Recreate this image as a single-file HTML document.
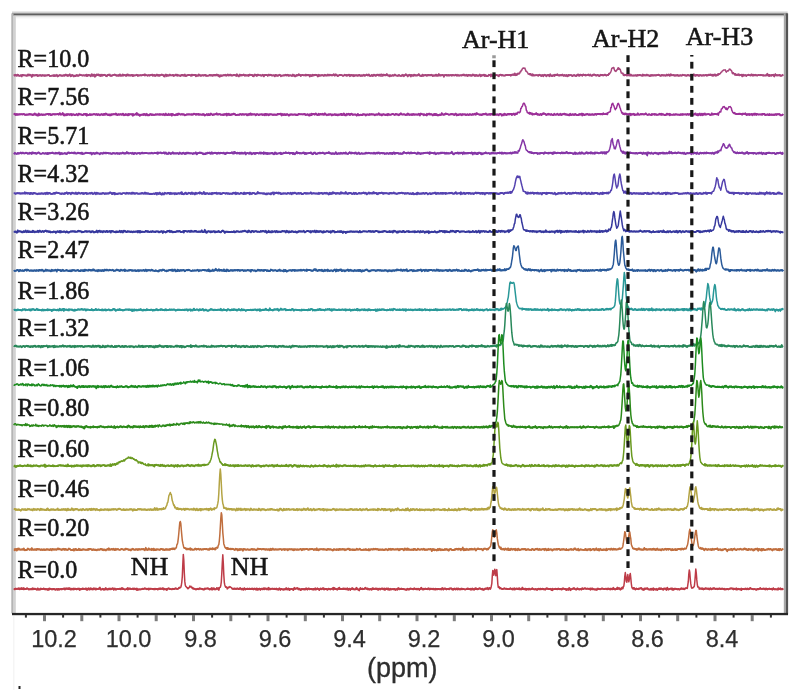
<!DOCTYPE html><html><head><meta charset="utf-8"><style>
html,body{margin:0;padding:0;background:#fff;width:800px;height:696px;overflow:hidden;position:relative}
.s{position:absolute;font-family:"Liberation Serif",serif;color:#161616;white-space:nowrap;line-height:1;-webkit-text-stroke:0.55px #161616}
.a{position:absolute;font-family:"Liberation Sans",sans-serif;color:#2e2e2e;white-space:nowrap;line-height:1;-webkit-text-stroke:0.25px #2e2e2e}
#w{position:absolute;left:0;top:0;width:800px;height:696px;filter:blur(0.45px)}
</style></head><body><div id="w">
<svg width="800" height="696" viewBox="0 0 800 696" style="position:absolute;left:0;top:0">
<rect x="12" y="11.0" width="775.6" height="1.2" fill="#e8e8e8"/>
<rect x="12" y="12.2" width="775.6" height="1.2" fill="#c6c6c6"/>
<rect x="12" y="13.4" width="775.6" height="2.2" fill="#5e5e5e"/>
<rect x="15.6" y="15.6" width="768" height="1.2" fill="#d6d6d6"/>
<rect x="15.6" y="16.8" width="768" height="1.6" fill="#f3f3f3"/>
<rect x="11.3" y="13.4" width="2.3" height="600" fill="#b4b4b4"/>
<rect x="13.6" y="15.6" width="2.2" height="598" fill="#d2d2d2"/>
<rect x="783.8" y="13.4" width="2.0" height="600" fill="#a8a8a8"/>
<rect x="785.8" y="13.4" width="2.3" height="601" fill="#545454"/>
<path d="M13.8 75.5L14.8 75.1L15.8 75.3L16.8 75.8L17.8 74.7L18.8 75.5L19.8 75.7L20.8 75.2L21.8 75.2L22.8 74.8L23.8 75.4L24.8 75.3L25.8 75.6L26.8 75.4L27.8 75.6L28.8 75.2L29.8 75.3L30.8 75.4L31.8 75.3L32.8 74.7L33.8 75.6L34.8 75.5L35.8 74.9L36.8 74.9L37.8 75.1L38.8 75.3L39.8 75L40.8 75.2L41.8 75.6L42.8 75L43.8 75.5L44.8 75.1L45.8 75.5L46.8 75.4L47.8 75L48.8 75.1L49.8 76L50.8 75.8L51.8 75.6L52.8 75.6L53.8 75.2L54.8 76.2L55.8 75.7L56.8 74.8L57.8 76.1L58.8 75.6L59.8 74.9L60.8 75.5L61.8 75.6L62.8 75.9L63.8 75.6L64.8 75.2L65.8 74.9L66.8 75.5L67.8 74.9L68.8 75.6L69.8 74.3L70.8 76.3L71.8 74.9L72.8 75.4L73.8 75.6L74.8 76L75.8 76.1L76.8 75.1L77.8 75.9L78.8 75.4L79.8 75L80.8 75.1L81.8 75.2L82.8 75.3L83.8 75.4L84.8 75.7L85.8 75.2L86.8 76L87.8 75.2L88.8 74.8L89.8 75.4L90.8 75.4L91.8 74.2L92.8 75.4L93.8 75.4L94.8 76.8L95.8 75.6L96.8 74.4L97.8 74.6L98.8 74.4L99.8 75.8L100.8 74.8L101.8 75.7L102.8 74.9L103.8 75L104.8 75L105.8 75.6L106.8 75.3L107.8 74.9L108.8 74.7L109.8 75.6L110.8 75.7L111.8 75.4L112.8 75.3L113.8 74.8L114.8 74.6L115.8 75.4L116.8 75.9L117.8 75.6L118.8 74.9L119.8 75.6L120.8 75.9L121.8 75.7L122.8 74.4L123.8 75L124.8 75.1L125.8 75.7L126.8 74.6L127.8 74.3L128.8 75.6L129.8 75.4L130.8 75.7L131.8 74.9L132.8 76.1L133.8 75.2L134.8 75.3L135.8 75.2L136.8 74.7L137.8 76L138.8 75.3L139.8 75.3L140.8 75L141.8 75.4L142.8 75L143.8 74.8L144.8 74.3L145.8 75L146.8 75.3L147.8 75.3L148.8 75L149.8 75.7L150.8 74.8L151.8 74.8L152.8 75.8L153.8 75.2L154.8 75L155.8 75.7L156.8 74.6L157.8 75.7L158.8 74.8L159.8 75.1L160.8 75.1L161.8 74.5L162.8 74.8L163.8 76.2L164.8 75.2L165.8 75.1L166.8 76.2L167.8 75L168.8 75.5L169.8 75.1L170.8 75.3L171.8 75.2L172.8 75L173.8 76L174.8 75.5L175.8 75.2L176.8 74.7L177.8 75.1L178.8 75.2L179.8 75.8L180.8 76L181.8 74.9L182.8 74.8L183.8 75.7L184.8 74.5L185.8 76.1L186.8 75.2L187.8 75.2L188.8 75.2L189.8 75.2L190.8 75.2L191.8 75.8L192.8 75.1L193.8 75.1L194.8 75.2L195.8 75L196.8 75.8L197.8 75.6L198.8 74.4L199.8 75.4L200.8 75.9L201.8 75.2L202.8 75.2L203.8 75.6L204.8 74.9L205.8 75.8L206.8 75.7L207.8 75.7L208.8 75.6L209.8 75.2L210.8 75.6L211.8 75.3L212.8 75.9L213.8 74.9L214.8 74.8L215.8 75L216.8 74.5L217.8 75.1L218.8 76.2L219.8 76.8L220.8 75.1L221.8 76L222.8 75.5L223.8 74.9L224.8 75.1L225.8 75.7L226.8 75.3L227.8 74.4L228.8 75.3L229.8 75.3L230.8 75.3L231.8 75.5L232.8 75.4L233.8 75.1L234.8 75.2L235.8 75.6L236.8 74.2L237.8 75.2L238.8 75.7L239.8 75.5L240.8 75.7L241.8 75.3L242.8 75.3L243.8 74.5L244.8 75.7L245.8 74.9L246.8 75.5L247.8 75.3L248.8 74.8L249.8 74.5L250.8 75L251.8 75L252.8 75.2L253.8 76.3L254.8 74.5L255.8 74.9L256.8 74.8L257.8 74.6L258.8 74.9L259.8 75.1L260.8 75.7L261.8 75.3L262.8 74.8L263.8 76.4L264.8 75L265.8 74.8L266.8 75.2L267.8 75.3L268.8 74.6L269.8 75.3L270.8 74.8L271.8 75.7L272.8 75.4L273.8 75.4L274.8 76.3L275.8 75.1L276.8 75.2L277.8 75.3L278.8 75.1L279.8 74.9L280.8 75.6L281.8 75.7L282.8 75.7L283.8 75.2L284.8 75.1L285.8 75.2L286.8 75.6L287.8 74.8L288.8 76L289.8 75.4L290.8 75.4L291.8 75.9L292.8 75.9L293.8 75.2L294.8 75.2L295.8 75.7L296.8 75.5L297.8 75.2L298.8 75.1L299.8 74.8L300.8 75.2L301.8 75.2L302.8 75L303.8 75.4L304.8 75.3L305.8 75.5L306.8 75.4L307.8 75.1L308.8 74.8L309.8 75.3L310.8 75L311.8 75.9L312.8 74.7L313.8 75.6L314.8 74.8L315.8 75L316.8 75L317.8 76.5L318.8 74.8L319.8 75.3L320.8 75.8L321.8 75.2L322.8 75.3L323.8 75.6L324.8 75.1L325.8 75.7L326.8 75.7L327.8 74.5L328.8 75.4L329.8 74.7L330.8 75L331.8 75.5L332.8 74.9L333.8 74.2L334.8 75.8L335.8 74.3L336.8 75.5L337.8 75.8L338.8 75.4L339.8 75.1L340.8 75L341.8 75.1L342.8 75.9L343.8 75.5L344.8 74.6L345.8 75.5L346.8 75.9L347.8 75.5L348.8 74.7L349.8 74.8L350.8 75.1L351.8 74.9L352.8 75.7L353.8 74.9L354.8 75.7L355.8 75.6L356.8 75.6L357.8 75.8L358.8 74.8L359.8 74.8L360.8 76L361.8 75.1L362.8 75.4L363.8 75.1L364.8 75.2L365.8 75.1L366.8 75.1L367.8 75.4L368.8 74.4L369.8 75.6L370.8 75.9L371.8 75L372.8 76L373.8 75.2L374.8 75.5L375.8 75.2L376.8 75.3L377.8 74.6L378.8 75.1L379.8 74.7L380.8 74.7L381.8 74.5L382.8 75.1L383.8 75.2L384.8 74.9L385.8 75.4L386.8 73.9L387.8 75.5L388.8 75.7L389.8 76.4L390.8 75.4L391.8 75.7L392.8 75L393.8 75.5L394.8 74.8L395.8 75.3L396.8 75.6L397.8 76L398.8 75.1L399.8 75.6L400.8 76L401.8 75.8L402.8 74.8L403.8 76.2L404.8 75.1L405.8 75L406.8 75.3L407.8 75.6L408.8 74.9L409.8 75.2L410.8 76.6L411.8 75L412.8 75.3L413.8 75.9L414.8 74.7L415.8 75.5L416.8 75.6L417.8 74.9L418.8 74.2L419.8 75.8L420.8 75.9L421.8 75.3L422.8 74.6L423.8 75.5L424.8 75.1L425.8 75.4L426.8 75.1L427.8 75L428.8 74.9L429.8 75.2L430.8 75L431.8 75.2L432.8 76L433.8 75.6L434.8 75.5L435.8 75.4L436.8 75.8L437.8 75.6L438.8 75.6L439.8 74.7L440.8 75.3L441.8 75L442.8 75.1L443.8 75.4L444.8 75L445.8 75.1L446.8 75.7L447.8 75.7L448.8 75.7L449.8 75.6L450.8 74.9L451.8 75.1L452.8 74.9L453.8 75.1L454.8 75.4L455.8 74.7L456.8 75.7L457.8 74.8L458.8 75.5L459.8 75.5L460.8 75.4L461.8 75.1L462.8 75.2L463.8 74.5L464.8 75.5L465.8 75.3L466.8 75.7L467.8 75.2L468.8 74.8L469.8 75.3L470.8 75.8L471.8 75.6L472.8 75.2L473.8 74.7L474.8 75.9L475.8 75L476.8 75.7L477.8 75.8L478.8 75.2L479.8 74.5L480.8 76.3L481.8 75.1L482.8 75.4L483.8 75L484.8 76.2L485.8 75.7L486.8 76.1L487.8 76L488.8 75.1L489.8 75.1L490.8 74.5L491.8 74.7L492.8 75.8L493.8 76.2L494.8 75.8L495.8 75L496.8 75.2L497.8 75.3L498.8 75.2L499.8 74.9L500.8 74.6L501.8 75.6L502.8 75.2L503.8 75.7L504.8 75.6L505.8 75.1L506.8 75.2L507.8 75L508.8 75.1L509.8 74.9L510.8 75L511.8 75.2L512.8 74.6L513.8 74.3L514.8 75.1L515.8 74.1L516.8 75L517.3 74.2L517.8 74.4L518.3 74.7M529.3 75.2L529.8 74L530.3 73.9L531.3 74.9L532.3 74.1L533.3 75.6L534.3 75.4L535.3 75.1L536.3 75.1L537.3 75.1L538.3 75.8L539.3 74.8L540.3 75.1L541.3 76.1L542.3 75L543.3 76.3L544.3 74.9L545.3 75L546.3 75.5L547.3 75.5L548.3 75L549.3 76.3L550.3 75.4L551.3 75.6L552.3 75.5L553.3 75.2L554.3 76L555.3 75.2L556.3 74.9L557.3 75.1L558.3 75.3L559.3 75.2L560.3 75.4L561.3 74.9L562.3 74.8L563.3 75.7L564.3 75.3L565.3 75.9L566.3 75.2L567.3 76.3L568.3 74.8L569.3 75.1L570.3 75L571.3 75.3L572.3 75.6L573.3 75.3L574.3 75.2L575.3 75.6L576.3 75.4L577.3 74.6L578.3 74.5L579.3 75L580.3 74.7L581.3 74.9L582.3 75.4L583.3 74.4L584.3 75L585.3 75.5L586.3 75.3L587.3 75L588.3 74.5L589.3 75.4L590.3 75.3L591.3 75.3L592.3 75.1L593.3 74.7L594.3 74.4L595.3 75.3L596.3 75.7L597.3 74.8L598.3 75.1L599.3 76L600.3 74.7L601.3 75.2L602.3 75.3L603.3 75.4L604.3 74.6L605.3 74.9L606.3 75.6L607.3 74.9L607.8 75L608.3 74.9L608.8 74.7M622.8 74.5L623.3 74.8L623.8 74.6L624.8 74.9L625.8 74.8L626.8 75.6L627.8 74.6L628.8 74.8L629.8 75.7L630.8 75.7L631.8 75.6L632.8 75.7L633.8 75.5L634.8 75.7L635.8 75.7L636.8 75.2L637.8 75L638.8 75.4L639.8 74.9L640.8 75.3L641.8 75.6L642.8 75.9L643.8 74.9L644.8 75.5L645.8 75.1L646.8 74.6L647.8 75.2L648.8 75.7L649.8 75.7L650.8 75.9L651.8 75.3L652.8 75.5L653.8 75.3L654.8 75.2L655.8 75.7L656.8 75.2L657.8 74.9L658.8 74.6L659.8 75.5L660.8 76L661.8 75.5L662.8 75L663.8 75.7L664.8 75.4L665.8 75.4L666.8 75L667.8 75.2L668.8 74.4L669.8 75.9L670.8 74.3L671.8 75L672.8 75.1L673.8 75.5L674.8 75.4L675.8 75.7L676.8 75.5L677.8 75.6L678.8 75.8L679.8 75.5L680.8 75.7L681.8 75.7L682.8 74.7L683.8 75.2L684.8 75.5L685.8 75.4L686.8 75.4L687.8 75L688.8 75.6L689.8 75.3L690.8 74.9L691.8 75.9L692.8 75.7L693.8 74.5L694.8 75.7L695.8 75L696.8 74.8L697.8 75.5L698.8 76.1L699.8 75L700.8 75.2L701.8 75.6L702.8 75.6L703.8 75.2L704.8 75.5L705.8 74.9L706.8 75.2L707.8 75.4L708.8 75.2L709.8 75L710.8 74.8L711.8 75.1L712.8 75.9L713.8 75.7L714.8 74.4L715.8 74.8L716.8 75.4L717.8 74.8L718.3 74.9L718.8 73.9L719.3 74.5M734.3 74.1L734.8 74.8L735.3 74.9L736.3 74.7L737.3 75L738.3 74.1L739.3 75.3L740.3 74.9L741.3 74.8L742.3 76.4L743.3 75.8L744.3 75.3L745.3 75L746.3 75.4L747.3 75.2L748.3 74.7L749.3 75L750.3 75.5L751.3 75.1L752.3 74.7L753.3 75.7L754.3 75.1L755.3 75.3L756.3 75.4L757.3 75.6L758.3 75L759.3 75.2L760.3 75L761.3 75L762.3 75.3L763.3 75L764.3 75.4L765.3 75.6L766.3 75.5L767.3 73.8L768.3 75.5L769.3 74.8L770.3 75.4L771.3 75.8L772.3 74.9L773.3 75.1L774.3 76.2L775.3 74.5L776.3 75.2L777.3 75.5L778.3 75.4L779.3 74.8L780.3 75.1L781.3 75.6L782.3 75.4L783.3 74.5" fill="none" stroke="#a8467c" stroke-width="1.8" stroke-linejoin="round"/>
<path d="M13.8 74.6L14.8 75.8L15.8 74.6L16.8 75.6L17.8 74.6L18.8 75.7L19.8 76.1L20.8 75.2L21.8 76.7L22.8 74.9L23.8 75.4L24.8 75.1L25.8 75.4L26.8 75.9L27.8 74.3L28.8 74.5L29.8 74.5L30.8 74.9L31.8 77.1L32.8 75.8L33.8 75.1L34.8 75.2L35.8 75.4L36.8 75.6L37.8 76.3L38.8 75.7L39.8 75.8L40.8 75.8L41.8 76L42.8 75.4L43.8 75.7L44.8 76.2L45.8 75.6L46.8 75.5L47.8 75.4L48.8 74.7L49.8 75.6L50.8 75.8L51.8 75.7L52.8 75.4L53.8 76.3L54.8 74.9L55.8 75.4L56.8 75.8L57.8 76.6L58.8 75.4L59.8 75.4L60.8 75.2L61.8 75.9L62.8 75.3L63.8 74.9L64.8 75.9L65.8 74.3L66.8 75.4L67.8 76.2L68.8 75.3L69.8 75.2L70.8 75.7L71.8 75.9L72.8 75.1L73.8 76.7L74.8 75.4L75.8 75.3L76.8 74.9L77.8 75.7L78.8 75.7L79.8 74.3L80.8 75L81.8 75.6L82.8 75.7L83.8 75.1L84.8 75.5L85.8 75L86.8 74.5L87.8 76.1L88.8 75L89.8 75.4L90.8 76.5L91.8 74.9L92.8 76.1L93.8 74.4L94.8 74.4L95.8 75.9L96.8 75.2L97.8 75.2L98.8 75.6L99.8 74.8L100.8 76.2L101.8 74.5L102.8 75.8L103.8 74.9L104.8 74.6L105.8 76L106.8 76.4L107.8 75.2L108.8 75.2L109.8 74.3L110.8 76.1L111.8 76L112.8 74.9L113.8 75.1L114.8 74.4L115.8 75.3L116.8 75L117.8 75.4L118.8 76L119.8 74.2L120.8 74.9L121.8 75.5L122.8 75.7L123.8 75.7L124.8 74.9L125.8 75.7L126.8 75.9L127.8 75L128.8 75.2L129.8 74.9L130.8 75.4L131.8 74.8L132.8 74.9L133.8 75.9L134.8 75.4L135.8 75.4L136.8 75.1L137.8 74.9L138.8 75.6L139.8 75.2L140.8 75.5L141.8 75.4L142.8 74.9L143.8 74.8L144.8 75.8L145.8 75.2L146.8 75L147.8 75.9L148.8 75.2L149.8 75.2L150.8 75.1L151.8 74.6L152.8 74.5L153.8 75.5L154.8 76.1L155.8 75.7L156.8 74.4L157.8 74.8L158.8 76L159.8 75.9L160.8 75.1L161.8 75.1L162.8 74.7L163.8 75.6L164.8 76.8L165.8 74.4L166.8 74.8L167.8 75.6L168.8 75.8L169.8 74.4L170.8 75.2L171.8 75.4L172.8 75.4L173.8 74.8L174.8 75.5L175.8 74.4L176.8 75.8L177.8 75.9L178.8 75.5L179.8 75.4L180.8 75.1L181.8 74.9L182.8 75.7L183.8 75.1L184.8 76L185.8 75.6L186.8 76L187.8 75L188.8 74.7L189.8 75.2L190.8 75.9L191.8 74.5L192.8 74.7L193.8 75.2L194.8 74.7L195.8 76.5L196.8 75.2L197.8 75.7L198.8 75.8L199.8 74.8L200.8 75.6L201.8 75.6L202.8 75.3L203.8 75.4L204.8 75.1L205.8 74.8L206.8 76L207.8 75.8L208.8 75.3L209.8 74.7L210.8 74.9L211.8 75L212.8 75.5L213.8 74.9L214.8 75.7L215.8 75.5L216.8 75.2L217.8 75.7L218.8 74.8L219.8 75.7L220.8 75.5L221.8 75.4L222.8 75.3L223.8 75.6L224.8 75.4L225.8 74.6L226.8 75.7L227.8 74.8L228.8 75.6L229.8 74.4L230.8 74.5L231.8 75.4L232.8 75.4L233.8 74.7L234.8 75L235.8 75.4L236.8 76.2L237.8 75.5L238.8 76.6L239.8 74.4L240.8 75L241.8 74.7L242.8 75.2L243.8 75L244.8 75.6L245.8 75.3L246.8 75.4L247.8 75.2L248.8 76.1L249.8 75L250.8 74.9L251.8 74.8L252.8 76.3L253.8 75.2L254.8 75.3L255.8 75.5L256.8 76.2L257.8 75L258.8 75.4L259.8 75.3L260.8 75L261.8 75.8L262.8 74.8L263.8 75.4L264.8 75L265.8 74.9L266.8 74.8L267.8 76.1L268.8 75L269.8 75.4L270.8 74.6L271.8 75.3L272.8 75.6L273.8 75.1L274.8 75.3L275.8 74.7L276.8 76L277.8 76.1L278.8 75.4L279.8 74.5L280.8 76.5L281.8 75.6L282.8 75.6L283.8 75.2L284.8 75.8L285.8 74.6L286.8 75L287.8 74.9L288.8 75.1L289.8 75.3L290.8 75.3L291.8 75.8L292.8 74.4L293.8 75.3L294.8 76.6L295.8 76.4L296.8 74.7L297.8 75.7L298.8 74L299.8 75.2L300.8 76.3L301.8 75.1L302.8 74.9L303.8 75.4L304.8 75L305.8 74.5L306.8 74.9L307.8 74.8L308.8 75.4L309.8 76.7L310.8 75.3L311.8 76.2L312.8 75.5L313.8 75L314.8 75L315.8 74.6L316.8 75.3L317.8 75.3L318.8 76.3L319.8 75.5L320.8 75.2L321.8 75.1L322.8 75.1L323.8 76L324.8 74.6L325.8 74.9L326.8 75.4L327.8 75.3L328.8 75.5L329.8 75.6L330.8 75.3L331.8 74.9L332.8 75.5L333.8 74.4L334.8 75L335.8 75.3L336.8 74.8L337.8 76.2L338.8 75.5L339.8 74.7L340.8 75.1L341.8 75.3L342.8 75.5L343.8 75.7L344.8 75.2L345.8 75.2L346.8 74.7L347.8 75.1L348.8 75.1L349.8 76.4L350.8 75.8L351.8 75.5L352.8 75.1L353.8 76.4L354.8 75.3L355.8 75L356.8 74.9L357.8 75.5L358.8 75.5L359.8 75.7L360.8 75.7L361.8 75.6L362.8 76L363.8 74.6L364.8 76.1L365.8 75.4L366.8 74.4L367.8 75.5L368.8 75.2L369.8 76L370.8 75.9L371.8 75.1L372.8 75.5L373.8 74.4L374.8 74.9L375.8 76.1L376.8 74.6L377.8 75.1L378.8 75.8L379.8 75.7L380.8 75.9L381.8 75.9L382.8 76.1L383.8 74.4L384.8 75.5L385.8 75L386.8 75.2L387.8 75.1L388.8 75.5L389.8 74.9L390.8 75.7L391.8 75.9L392.8 75.4L393.8 75.9L394.8 74.3L395.8 75.6L396.8 75.5L397.8 75.4L398.8 75L399.8 75.5L400.8 75.7L401.8 75L402.8 75.6L403.8 75.2L404.8 75.7L405.8 74L406.8 74.9L407.8 76.6L408.8 75.5L409.8 74.6L410.8 75L411.8 75.1L412.8 75.9L413.8 74.6L414.8 75.1L415.8 75.5L416.8 75.1L417.8 75.7L418.8 74.2L419.8 75.2L420.8 75.8L421.8 76.3L422.8 75.9L423.8 75.7L424.8 75.2L425.8 74.7L426.8 76L427.8 75.6L428.8 75.4L429.8 75.5L430.8 75.5L431.8 74.6L432.8 75.9L433.8 75.1L434.8 75.7L435.8 74.4L436.8 74.8L437.8 75.7L438.8 73.9L439.8 75.7L440.8 75.8L441.8 75.2L442.8 74.7L443.8 77L444.8 75.4L445.8 75L446.8 74.8L447.8 75.1L448.8 74.7L449.8 75.3L450.8 75.2L451.8 76L452.8 75.2L453.8 75.4L454.8 75.4L455.8 74.9L456.8 75.5L457.8 75.7L458.8 75.6L459.8 75.4L460.8 75.1L461.8 75.8L462.8 74.5L463.8 75.4L464.8 74.9L465.8 75.2L466.8 74.6L467.8 76.3L468.8 74.9L469.8 75.8L470.8 74.9L471.8 75.7L472.8 74.3L473.8 75.6L474.8 75.8L475.8 75.9L476.8 74.9L477.8 75.8L478.8 75.9L479.8 75.1L480.8 75.7L481.8 75L482.8 75.6L483.8 74.5L484.8 74.7L485.8 74.9L486.8 76.3L487.8 76.1L488.8 74.6L489.8 74.9L490.8 76.7L491.8 75.6L492.8 76L493.8 75L494.8 75.3L495.8 75.4L496.8 75L497.8 75.6L498.8 76.5L499.8 75L500.8 74.8L501.8 74.7L502.8 75.3L503.8 75.4L504.8 75.6L505.8 74.9L506.8 74.8L507.8 74.7L508.8 75.1L509.8 75L510.8 75.9L511.8 74.5L512.8 74.5L513.8 75.1L514.8 73.2L515.8 75.4L516.8 74.2L517.3 73.5L517.8 73.8L518.3 73.2L518.8 73.9L519.3 73.8L519.8 73L520.3 71.4L520.8 71.8L521.3 70.3L521.8 70.2L522.3 68.8L522.8 68.4L523.3 67.9L523.8 68.2L524.3 68.4L524.8 68L525.3 69.3L525.8 71L526.3 71.3L526.8 71.5L527.3 72.5L527.8 73L528.3 74.1L528.8 74L529.3 74.5L529.8 73.7L530.3 73.7L531.3 75.3L532.3 75.8L533.3 74.5L534.3 75.6L535.3 75.6L536.3 75.1L537.3 75.6L538.3 75.3L539.3 74.6L540.3 75.5L541.3 75.1L542.3 75.4L543.3 75.8L544.3 74.6L545.3 75.3L546.3 76.4L547.3 75L548.3 74.8L549.3 75.3L550.3 74L551.3 76L552.3 76.3L553.3 75.3L554.3 74.8L555.3 74.6L556.3 75L557.3 74L558.3 75.3L559.3 75.7L560.3 74.9L561.3 75.6L562.3 74.4L563.3 75.9L564.3 74.8L565.3 75.7L566.3 74.9L567.3 76L568.3 76.1L569.3 75.5L570.3 75.2L571.3 75L572.3 76.3L573.3 75.5L574.3 74.9L575.3 76L576.3 76.3L577.3 75.3L578.3 75.5L579.3 76.1L580.3 75.3L581.3 75L582.3 75.9L583.3 74.6L584.3 75.2L585.3 74.6L586.3 75.2L587.3 74.9L588.3 75L589.3 75.6L590.3 74.3L591.3 75.9L592.3 75.9L593.3 75.2L594.3 74.7L595.3 74.7L596.3 75.5L597.3 75.3L598.3 75.4L599.3 76.2L600.3 75.7L601.3 74.8L602.3 74.7L603.3 75.5L604.3 75.2L605.3 74.5L606.3 75.6L607.3 75.3L607.8 75L608.3 75.2L608.8 73.4L609.3 74.1L609.8 73.1L610.3 72.9L610.8 71.7L611.3 70.4L611.8 68.2L612.3 68.2L612.8 67.8L613.3 67.6L613.8 67.5L614.3 69.7L614.8 70.7L615.3 71.1L615.8 71.4L616.3 70.8L616.8 70L617.3 69.7L617.8 68.2L618.3 67.8L618.8 69.3L619.3 68.5L619.8 69.2L620.3 69.5L620.8 71.6L621.3 73L621.8 72.9L622.3 73.7L622.8 73L623.3 74.2L623.8 75.4L624.8 75.4L625.8 74.8L626.8 74.5L627.8 75.5L628.8 75.6L629.8 74.3L630.8 74.4L631.8 75.3L632.8 75.5L633.8 75.4L634.8 75.3L635.8 75L636.8 76.1L637.8 75.5L638.8 75.1L639.8 75.1L640.8 75.2L641.8 75.4L642.8 74.3L643.8 75.2L644.8 75.1L645.8 75.7L646.8 75.3L647.8 75.4L648.8 75L649.8 76.3L650.8 74.8L651.8 75.1L652.8 75L653.8 75.6L654.8 75.2L655.8 75.1L656.8 75L657.8 75.2L658.8 75.1L659.8 75.5L660.8 75.1L661.8 74.8L662.8 75.5L663.8 75.1L664.8 75.3L665.8 76L666.8 74.4L667.8 75.7L668.8 74.7L669.8 75.5L670.8 74.6L671.8 75.6L672.8 75.1L673.8 74.8L674.8 75.8L675.8 75L676.8 75.2L677.8 74.8L678.8 75.7L679.8 75.3L680.8 75L681.8 75.7L682.8 75.1L683.8 75.2L684.8 74.9L685.8 75.8L686.8 75.9L687.8 74.7L688.8 75.1L689.8 75.8L690.8 75.8L691.8 75.2L692.8 75.5L693.8 74.2L694.8 74.8L695.8 76.1L696.8 74.7L697.8 74.8L698.8 75.1L699.8 75.6L700.8 75.4L701.8 75.7L702.8 75L703.8 75.5L704.8 75.4L705.8 75L706.8 75.9L707.8 74.9L708.8 74.4L709.8 74.4L710.8 74.2L711.8 75.6L712.8 74.5L713.8 74.7L714.8 74.7L715.8 76L716.8 75.3L717.8 74L718.3 74.3L718.8 74.4L719.3 74.2L719.8 73.7L720.3 73.7L720.8 72.6L721.3 72.2L721.8 71.8L722.3 70.9L722.8 70.8L723.3 70.2L723.8 70L724.3 70L724.8 70.1L725.3 69.8L725.8 71.4L726.3 72.1L726.8 71.4L727.3 71L727.8 70.8L728.3 71L728.8 70.1L729.3 69.1L729.8 69.4L730.3 69.3L730.8 70.2L731.3 70.5L731.8 71.2L732.3 73.2L732.8 73.6L733.3 72.7L733.8 73.4L734.3 74L734.8 73.7L735.3 73.8L736.3 75.2L737.3 74.6L738.3 75.1L739.3 74.4L740.3 75L741.3 74.6L742.3 74.7L743.3 74.5L744.3 75.4L745.3 75.3L746.3 76.1L747.3 75.2L748.3 75.3L749.3 75.1L750.3 75.6L751.3 74.2L752.3 75.8L753.3 74.6L754.3 75.2L755.3 74.6L756.3 75L757.3 75.5L758.3 75.1L759.3 75.3L760.3 75.4L761.3 75.1L762.3 75L763.3 75.9L764.3 75.6L765.3 75.3L766.3 75L767.3 75.4L768.3 75.5L769.3 76.3L770.3 75.3L771.3 74.8L772.3 75.5L773.3 74.6L774.3 76.6L775.3 74L776.3 75.6L777.3 74.9L778.3 75.3L779.3 75.4L780.3 76L781.3 75.9L782.3 75.3L783.3 75.3" fill="none" stroke="#a8467c" stroke-width="1.5" stroke-linejoin="round"/>
<path d="M13.8 114.7L14.8 113.9L15.8 114.9L16.8 114.7L17.8 114.9L18.8 114.4L19.8 114.6L20.8 114.2L21.8 114.2L22.8 114.1L23.8 114.1L24.8 114.3L25.8 114.8L26.8 114.8L27.8 114.5L28.8 114.5L29.8 114.4L30.8 114.7L31.8 114.2L32.8 115L33.8 114.2L34.8 113.4L35.8 114.8L36.8 114.2L37.8 115.5L38.8 113.5L39.8 114.6L40.8 114.4L41.8 114.4L42.8 114.9L43.8 114.7L44.8 114.7L45.8 114.2L46.8 114.3L47.8 113.8L48.8 114.9L49.8 113.9L50.8 115.1L51.8 114.3L52.8 114.3L53.8 114.3L54.8 114L55.8 114.4L56.8 114.2L57.8 114L58.8 114.7L59.8 113.1L60.8 114.5L61.8 114.4L62.8 113.8L63.8 115.4L64.8 114.2L65.8 114.8L66.8 115.3L67.8 114.7L68.8 114.7L69.8 115L70.8 114.5L71.8 114L72.8 114.7L73.8 114.4L74.8 115L75.8 114.6L76.8 114.5L77.8 115L78.8 113.6L79.8 114.6L80.8 114.4L81.8 114.9L82.8 115.1L83.8 114.7L84.8 113.8L85.8 113.8L86.8 115.7L87.8 114.7L88.8 115L89.8 114.7L90.8 114.4L91.8 114.3L92.8 114.3L93.8 114L94.8 114.6L95.8 114.3L96.8 114.7L97.8 115.1L98.8 114.3L99.8 115.2L100.8 114.5L101.8 114.3L102.8 114.9L103.8 113.8L104.8 114.1L105.8 113.5L106.8 114.1L107.8 114.6L108.8 114.3L109.8 114.3L110.8 114.3L111.8 114.9L112.8 114.5L113.8 114.3L114.8 114.2L115.8 113.5L116.8 114.3L117.8 114.3L118.8 114.3L119.8 114.8L120.8 114.1L121.8 114.9L122.8 114L123.8 115.3L124.8 114.9L125.8 114L126.8 114.3L127.8 115.4L128.8 115.1L129.8 114.1L130.8 114.1L131.8 114.2L132.8 115.7L133.8 114.9L134.8 114.8L135.8 114L136.8 114.9L137.8 114L138.8 114.8L139.8 114.6L140.8 114.8L141.8 114.5L142.8 114.8L143.8 114L144.8 114.5L145.8 114.4L146.8 114.9L147.8 115.4L148.8 115.4L149.8 114.9L150.8 114L151.8 115.1L152.8 114.3L153.8 114.9L154.8 114.6L155.8 114.1L156.8 114.6L157.8 114.4L158.8 114.6L159.8 114L160.8 114.6L161.8 114.6L162.8 115L163.8 114L164.8 115.2L165.8 114.4L166.8 115L167.8 114.4L168.8 114.8L169.8 114.7L170.8 114.1L171.8 114L172.8 114.9L173.8 114.8L174.8 115.3L175.8 114.3L176.8 114L177.8 115L178.8 113.5L179.8 114.2L180.8 114.5L181.8 114.2L182.8 114.1L183.8 114.1L184.8 115.3L185.8 115L186.8 114.1L187.8 114.5L188.8 114.2L189.8 114.2L190.8 114.5L191.8 114.9L192.8 114.6L193.8 113.6L194.8 114.1L195.8 114.2L196.8 114L197.8 114.3L198.8 113.8L199.8 114.7L200.8 114.5L201.8 114.6L202.8 114.8L203.8 114.4L204.8 115.6L205.8 114.7L206.8 114.2L207.8 114.6L208.8 115.2L209.8 115.1L210.8 113.5L211.8 114.4L212.8 115.2L213.8 114.5L214.8 114.5L215.8 114L216.8 114.6L217.8 114.6L218.8 114.5L219.8 114.1L220.8 114.8L221.8 114.5L222.8 115.1L223.8 114.2L224.8 114.7L225.8 114.1L226.8 113.6L227.8 114.6L228.8 113.7L229.8 115.1L230.8 114.4L231.8 114.1L232.8 114L233.8 113.8L234.8 113.9L235.8 115.1L236.8 114.8L237.8 114.6L238.8 114.7L239.8 114.1L240.8 114.1L241.8 114.7L242.8 114.1L243.8 114.9L244.8 114.4L245.8 114.4L246.8 114.2L247.8 115.3L248.8 114L249.8 113.9L250.8 113.4L251.8 114.9L252.8 114.2L253.8 114.5L254.8 114.2L255.8 115.2L256.8 114L257.8 114.4L258.8 115.2L259.8 114.6L260.8 114.6L261.8 114.7L262.8 114.3L263.8 114.6L264.8 115.3L265.8 114.3L266.8 115.2L267.8 114.3L268.8 114.4L269.8 114.5L270.8 114.2L271.8 114.4L272.8 114.8L273.8 114.4L274.8 114.4L275.8 114.7L276.8 115L277.8 114.1L278.8 114.4L279.8 114L280.8 114.6L281.8 115.5L282.8 114L283.8 114.5L284.8 114L285.8 115L286.8 114.1L287.8 114.6L288.8 115.3L289.8 114.4L290.8 114.7L291.8 114.3L292.8 114.9L293.8 114.6L294.8 114.4L295.8 115.1L296.8 115.2L297.8 115L298.8 114.3L299.8 114.2L300.8 114.1L301.8 114.2L302.8 114.4L303.8 114.3L304.8 113.9L305.8 115.1L306.8 114.7L307.8 114.1L308.8 115.6L309.8 115.5L310.8 115.1L311.8 115L312.8 113.9L313.8 114L314.8 114.7L315.8 113.4L316.8 114.7L317.8 115.2L318.8 114.6L319.8 114.8L320.8 113.9L321.8 114.5L322.8 114.7L323.8 114.8L324.8 114.7L325.8 114.3L326.8 115.2L327.8 114.5L328.8 114.1L329.8 114.3L330.8 114.6L331.8 114.6L332.8 114.5L333.8 114.6L334.8 114.5L335.8 114.5L336.8 114.5L337.8 114.6L338.8 114.4L339.8 114.4L340.8 114.6L341.8 115.2L342.8 114.5L343.8 113.4L344.8 114.2L345.8 115.6L346.8 114.3L347.8 114.7L348.8 114.1L349.8 114.2L350.8 113.9L351.8 113.7L352.8 115L353.8 114.4L354.8 114.7L355.8 114.7L356.8 115.5L357.8 113.9L358.8 114.9L359.8 114.8L360.8 114.9L361.8 115L362.8 115L363.8 114.3L364.8 114.3L365.8 114.8L366.8 114.4L367.8 114.4L368.8 114.9L369.8 113.9L370.8 114.5L371.8 114.7L372.8 114.5L373.8 114.2L374.8 115L375.8 114.7L376.8 114.2L377.8 114.8L378.8 113.9L379.8 114.8L380.8 114.9L381.8 114.6L382.8 114.5L383.8 114.7L384.8 114.8L385.8 114.5L386.8 114.6L387.8 113.9L388.8 114.2L389.8 114.9L390.8 114.8L391.8 114.2L392.8 113.9L393.8 114.3L394.8 114.9L395.8 114L396.8 114.1L397.8 114.8L398.8 115.3L399.8 114.7L400.8 113.2L401.8 114.4L402.8 114.4L403.8 114.3L404.8 114.8L405.8 115L406.8 114.2L407.8 113.5L408.8 114.1L409.8 115L410.8 114.4L411.8 114.2L412.8 114.9L413.8 113.9L414.8 114.8L415.8 114.3L416.8 114.6L417.8 114.9L418.8 114.5L419.8 114L420.8 113.5L421.8 114L422.8 114.3L423.8 114.1L424.8 114.6L425.8 114.9L426.8 115.5L427.8 114.2L428.8 114.3L429.8 114.6L430.8 114.6L431.8 114.5L432.8 115L433.8 114.1L434.8 113.8L435.8 115.1L436.8 115.1L437.8 115.5L438.8 114.8L439.8 114.8L440.8 114.6L441.8 114.3L442.8 114.5L443.8 115L444.8 114.7L445.8 113.5L446.8 114.2L447.8 114.2L448.8 114.7L449.8 114.6L450.8 114.1L451.8 114.3L452.8 114.3L453.8 114.7L454.8 114.1L455.8 114L456.8 114.8L457.8 115.1L458.8 115.2L459.8 114.3L460.8 114L461.8 115.3L462.8 114L463.8 114.5L464.8 114.7L465.8 114.5L466.8 114.6L467.8 114.2L468.8 115.1L469.8 114.1L470.8 114.5L471.8 114.7L472.8 113.9L473.8 114.5L474.8 113.8L475.8 114.8L476.8 113L477.8 114.2L478.8 114.5L479.8 114.8L480.8 114.4L481.8 114.4L482.8 114.5L483.8 114.3L484.8 114.3L485.8 113.4L486.8 114.6L487.8 114.8L488.8 114.3L489.8 114.8L490.8 113.8L491.8 113.9L492.8 114.2L493.8 115.1L494.8 114.6L495.8 114.4L496.8 114.8L497.8 114.2L498.8 115.3L499.8 113.9L500.8 113.9L501.8 114.7L502.8 114.6L503.8 114L504.8 113.7L505.8 114.4L506.8 114.3L507.8 114L508.8 114L509.8 114L510.8 114L511.8 113.8L512.8 114.6L513.8 113.5L514.8 114.8L515.8 113.4L516.8 113.8L517.3 113.5L517.8 113.2M529.3 112.9L529.8 113.4L530.3 113.7L531.3 113.9L532.3 113.5L533.3 114.4L534.3 114.3L535.3 114.1L536.3 114.2L537.3 113.8L538.3 114.6L539.3 114.9L540.3 114.2L541.3 114.2L542.3 114L543.3 113.1L544.3 113.4L545.3 114L546.3 114.8L547.3 114.2L548.3 114.6L549.3 114.4L550.3 114.3L551.3 114L552.3 114.7L553.3 115.2L554.3 114.5L555.3 114.6L556.3 114.7L557.3 114.4L558.3 114.4L559.3 114.8L560.3 114.6L561.3 114.3L562.3 114.7L563.3 114.1L564.3 113.7L565.3 113.9L566.3 114.8L567.3 114.6L568.3 115.1L569.3 114.2L570.3 113.7L571.3 115L572.3 114.7L573.3 114.4L574.3 115.1L575.3 114.5L576.3 114.6L577.3 115.1L578.3 115.2L579.3 113.9L580.3 114.6L581.3 113.7L582.3 113.7L583.3 114.6L584.3 115.1L585.3 114.6L586.3 114.1L587.3 114.2L588.3 114.3L589.3 114.2L590.3 114.4L591.3 114.4L592.3 114.2L593.3 114.4L594.3 114.7L595.3 114L596.3 114.9L597.3 113.9L598.3 114.2L599.3 114L600.3 113.8L601.3 113.8L602.3 114.5L603.3 114.2L604.3 114.1L605.3 114.2L606.3 113.9L607.3 114.3L607.8 113.3L608.3 113.4M622.8 113.7L623.3 114.2L623.8 113.9L624.8 113.6L625.8 113.5L626.8 114.5L627.8 114.1L628.8 114.9L629.8 113.7L630.8 114.1L631.8 114.1L632.8 114.6L633.8 114.4L634.8 115.2L635.8 114.6L636.8 114.7L637.8 113.3L638.8 114.3L639.8 114.6L640.8 114L641.8 114.6L642.8 114L643.8 114.6L644.8 114.4L645.8 113.3L646.8 114.5L647.8 115L648.8 114.7L649.8 114.5L650.8 114.8L651.8 115.1L652.8 114.2L653.8 114.4L654.8 114.9L655.8 114.1L656.8 114.6L657.8 114.9L658.8 114.3L659.8 113.7L660.8 114.7L661.8 113.7L662.8 114.2L663.8 114.7L664.8 115.2L665.8 114.8L666.8 113.6L667.8 113.9L668.8 114.5L669.8 115.3L670.8 114.6L671.8 114.6L672.8 114.8L673.8 114.6L674.8 114.8L675.8 114.6L676.8 114.7L677.8 114.5L678.8 114.7L679.8 114.6L680.8 114.1L681.8 114.8L682.8 114L683.8 114.3L684.8 114.3L685.8 114.4L686.8 114.9L687.8 114L688.8 114.7L689.8 113.9L690.8 114L691.8 114.6L692.8 114.4L693.8 114.5L694.8 114.1L695.8 114.6L696.8 114.9L697.8 115.4L698.8 114.4L699.8 114L700.8 115.3L701.8 113.6L702.8 115.3L703.8 113.8L704.8 114.7L705.8 114.2L706.8 114.4L707.8 114.1L708.8 114.1L709.8 114.5L710.8 115.1L711.8 114.3L712.8 114.1L713.8 114.4L714.8 113.8L715.8 114.1L716.8 114.3L717.8 113.5L718.3 113.5L718.8 113.3M734.3 112.5L734.8 113.4L735.3 113.7L736.3 114L737.3 114.2L738.3 113.9L739.3 113.6L740.3 114.1L741.3 113.9L742.3 114.7L743.3 113.6L744.3 113.8L745.3 114.2L746.3 114.1L747.3 114.9L748.3 114.4L749.3 113.9L750.3 114.6L751.3 113.9L752.3 115.2L753.3 114.3L754.3 113.6L755.3 113.7L756.3 114L757.3 114L758.3 114.6L759.3 114.3L760.3 114.4L761.3 114.7L762.3 113.9L763.3 114.1L764.3 113.8L765.3 114.5L766.3 114.9L767.3 114.6L768.3 115L769.3 115.1L770.3 114.6L771.3 114.4L772.3 114.8L773.3 115L774.3 114.6L775.3 114.2L776.3 115.1L777.3 114.5L778.3 114.1L779.3 114.2L780.3 114.6L781.3 115.4L782.3 115.1L783.3 114.2" fill="none" stroke="#9c3098" stroke-width="1.8" stroke-linejoin="round"/>
<path d="M13.8 114.3L14.8 113.6L15.8 115.1L16.8 113.7L17.8 114.5L18.8 114.3L19.8 114.1L20.8 114.4L21.8 114.3L22.8 114.8L23.8 113.7L24.8 115.1L25.8 114.9L26.8 114.2L27.8 114.8L28.8 114.1L29.8 113.8L30.8 114.2L31.8 114.7L32.8 115L33.8 114.5L34.8 114.8L35.8 114.2L36.8 115.6L37.8 115.3L38.8 115.5L39.8 115.1L40.8 115.1L41.8 114.2L42.8 115.3L43.8 114.3L44.8 115L45.8 114.5L46.8 114.1L47.8 114.2L48.8 113.7L49.8 113.9L50.8 114.5L51.8 115.2L52.8 113.9L53.8 114L54.8 114.8L55.8 114.1L56.8 114.5L57.8 114.1L58.8 114.1L59.8 114.4L60.8 114.8L61.8 114L62.8 112.8L63.8 115.1L64.8 115.7L65.8 114.5L66.8 113.8L67.8 114.1L68.8 113.9L69.8 114.5L70.8 113.9L71.8 115.5L72.8 114.7L73.8 114.2L74.8 115.3L75.8 114.8L76.8 113.9L77.8 115.5L78.8 113.8L79.8 114.1L80.8 114.2L81.8 114.7L82.8 114.6L83.8 113.7L84.8 114.7L85.8 115.2L86.8 113.7L87.8 115.2L88.8 115.2L89.8 113.9L90.8 115.3L91.8 114.5L92.8 114.9L93.8 114.2L94.8 114L95.8 114.8L96.8 113.9L97.8 114.7L98.8 114.2L99.8 114.8L100.8 114.5L101.8 114L102.8 115L103.8 115.1L104.8 115L105.8 114.8L106.8 114.4L107.8 115.2L108.8 115.2L109.8 115.6L110.8 115.6L111.8 114L112.8 114.3L113.8 113.8L114.8 114.6L115.8 114.7L116.8 115L117.8 115.3L118.8 114.1L119.8 114.7L120.8 114.2L121.8 114.7L122.8 113.5L123.8 114.1L124.8 115.2L125.8 114.8L126.8 115.1L127.8 114.1L128.8 113.7L129.8 114.6L130.8 114.6L131.8 114.6L132.8 113.8L133.8 114.2L134.8 114.5L135.8 113.8L136.8 112.7L137.8 114.7L138.8 115L139.8 116.1L140.8 115L141.8 114.9L142.8 114.3L143.8 115.2L144.8 113.9L145.8 115.5L146.8 113.6L147.8 114.9L148.8 114.6L149.8 114.1L150.8 114.6L151.8 114.3L152.8 115.1L153.8 115.1L154.8 115L155.8 114.7L156.8 114.5L157.8 114.1L158.8 114.6L159.8 115.1L160.8 114.3L161.8 114.3L162.8 114.2L163.8 114.4L164.8 114.9L165.8 113.4L166.8 114.5L167.8 115.3L168.8 113.6L169.8 115.1L170.8 114.5L171.8 115.9L172.8 113.7L173.8 114.7L174.8 114.7L175.8 115.3L176.8 115.1L177.8 113.6L178.8 114.3L179.8 114.5L180.8 114.8L181.8 114.1L182.8 114.9L183.8 114.6L184.8 114.8L185.8 114.8L186.8 114.8L187.8 114.3L188.8 114.7L189.8 114.8L190.8 114.5L191.8 113.9L192.8 114.5L193.8 114.5L194.8 113.7L195.8 115.1L196.8 114.8L197.8 114L198.8 115.1L199.8 114.4L200.8 114.6L201.8 114.9L202.8 113.9L203.8 114.1L204.8 115.3L205.8 115.3L206.8 114.1L207.8 115.4L208.8 113.7L209.8 114.8L210.8 114.7L211.8 114.1L212.8 114.4L213.8 114.1L214.8 114.5L215.8 113.9L216.8 113.1L217.8 114.4L218.8 113.9L219.8 114L220.8 114.7L221.8 114.8L222.8 114.3L223.8 115.2L224.8 113.9L225.8 114.7L226.8 115.8L227.8 114L228.8 115.1L229.8 114.3L230.8 115.3L231.8 114.5L232.8 114.7L233.8 113.4L234.8 114.5L235.8 115.1L236.8 115.1L237.8 115.1L238.8 115L239.8 114.9L240.8 114.1L241.8 115L242.8 114.1L243.8 114.2L244.8 114.4L245.8 114.1L246.8 115.4L247.8 114.3L248.8 114.9L249.8 115.1L250.8 114.8L251.8 114L252.8 114.2L253.8 114.5L254.8 114.2L255.8 115.5L256.8 114.7L257.8 114.2L258.8 114.8L259.8 114.2L260.8 114.3L261.8 114.1L262.8 115.1L263.8 114.3L264.8 113.8L265.8 113.8L266.8 114L267.8 114.2L268.8 115.5L269.8 114.1L270.8 114.6L271.8 114.4L272.8 114.9L273.8 115L274.8 114.9L275.8 115.1L276.8 114.3L277.8 113.7L278.8 114.1L279.8 113.8L280.8 113.5L281.8 114.1L282.8 114.9L283.8 115.2L284.8 115.1L285.8 115.1L286.8 114.3L287.8 114.3L288.8 115.8L289.8 115.3L290.8 114.3L291.8 114.4L292.8 114.4L293.8 114.5L294.8 114.4L295.8 114.3L296.8 114.6L297.8 114.4L298.8 113.7L299.8 114.5L300.8 114.4L301.8 114.4L302.8 114.5L303.8 113.9L304.8 114.5L305.8 114.6L306.8 114.4L307.8 114.8L308.8 115.2L309.8 113.9L310.8 114.1L311.8 113.5L312.8 114.6L313.8 114L314.8 114L315.8 114.4L316.8 114.3L317.8 114.6L318.8 113.5L319.8 114.5L320.8 113.8L321.8 114.4L322.8 113.5L323.8 114.5L324.8 113.1L325.8 114L326.8 114.9L327.8 114.6L328.8 115.2L329.8 114.4L330.8 114L331.8 115.6L332.8 114.8L333.8 115.1L334.8 114L335.8 115.3L336.8 115.2L337.8 115.6L338.8 114.9L339.8 115L340.8 113.7L341.8 113.8L342.8 114.9L343.8 114.9L344.8 115.4L345.8 114.9L346.8 113.6L347.8 114.7L348.8 113.6L349.8 115.3L350.8 114.8L351.8 114L352.8 114.7L353.8 114.6L354.8 114.6L355.8 114.3L356.8 115.6L357.8 114.2L358.8 115.6L359.8 115.2L360.8 114.4L361.8 115.1L362.8 113.9L363.8 114.3L364.8 114.7L365.8 115.8L366.8 114.7L367.8 114.6L368.8 114.8L369.8 115L370.8 114.3L371.8 113.8L372.8 114.4L373.8 114.7L374.8 115.4L375.8 114.2L376.8 114.9L377.8 114.3L378.8 113.1L379.8 114.7L380.8 114L381.8 115.7L382.8 114.5L383.8 113.9L384.8 114.6L385.8 115.3L386.8 114.6L387.8 115.5L388.8 114.5L389.8 114.6L390.8 114.5L391.8 114.6L392.8 114.1L393.8 114.6L394.8 115L395.8 114L396.8 114.8L397.8 114.6L398.8 114.3L399.8 114.1L400.8 114.3L401.8 114.4L402.8 114.8L403.8 114.1L404.8 114.3L405.8 114.4L406.8 115L407.8 115.1L408.8 114.5L409.8 114.4L410.8 114.5L411.8 115.2L412.8 114L413.8 114.8L414.8 114.6L415.8 114.4L416.8 114.6L417.8 114.1L418.8 113.6L419.8 115.7L420.8 114.5L421.8 114L422.8 114.5L423.8 115.5L424.8 114.5L425.8 114.9L426.8 113.6L427.8 114.3L428.8 113.6L429.8 113.5L430.8 114.2L431.8 114.1L432.8 115.7L433.8 114.6L434.8 115.3L435.8 113.7L436.8 114.2L437.8 114.8L438.8 115.5L439.8 114.2L440.8 115.3L441.8 112.9L442.8 114.3L443.8 114.3L444.8 113.8L445.8 113.4L446.8 113.9L447.8 114L448.8 114.8L449.8 114.5L450.8 114.1L451.8 113.7L452.8 113.9L453.8 114.9L454.8 115.2L455.8 113.3L456.8 115.6L457.8 114.2L458.8 114.3L459.8 114.3L460.8 114.9L461.8 114.4L462.8 114.7L463.8 114.4L464.8 114.1L465.8 115.2L466.8 115L467.8 114.6L468.8 115L469.8 114.2L470.8 114.8L471.8 115.1L472.8 114.4L473.8 114.8L474.8 113.8L475.8 113.5L476.8 114.2L477.8 114L478.8 114.4L479.8 114.3L480.8 115L481.8 115.3L482.8 114L483.8 113.7L484.8 113.9L485.8 114.6L486.8 114.7L487.8 114.3L488.8 114.7L489.8 113.9L490.8 114.9L491.8 114.1L492.8 114.9L493.8 113.8L494.8 114.7L495.8 114.6L496.8 114.5L497.8 114.7L498.8 114.5L499.8 114.1L500.8 114.5L501.8 115.9L502.8 114.7L503.8 115.5L504.8 114.4L505.8 115.1L506.8 115.3L507.8 113.8L508.8 114.8L509.8 114.5L510.8 113.9L511.8 115.2L512.8 114.4L513.8 113.7L514.8 114.9L515.8 113.8L516.8 114.3L517.3 113.2L517.8 112.2L518.3 112.6L518.8 112.2L519.3 112.8L519.8 111.9L520.3 111.9L520.8 108.4L521.3 108.2L521.8 106.7L522.3 106.4L522.8 104.9L523.3 103.5L523.8 103.3L524.3 103.3L524.8 104.5L525.3 106L525.8 106.3L526.3 110.2L526.8 110.7L527.3 112.5L527.8 112.8L528.3 112.9L528.8 113.5L529.3 112.4L529.8 114.1L530.3 112.8L531.3 113.2L532.3 114.9L533.3 113.9L534.3 114.2L535.3 113.8L536.3 112.9L537.3 115L538.3 114.2L539.3 115L540.3 113.9L541.3 115.3L542.3 114.5L543.3 114L544.3 114.1L545.3 113.8L546.3 115.2L547.3 114.6L548.3 113.6L549.3 114L550.3 115L551.3 114.4L552.3 115L553.3 114.8L554.3 113.5L555.3 114.8L556.3 114.6L557.3 113.6L558.3 115.1L559.3 114.3L560.3 113.5L561.3 115.3L562.3 114L563.3 114.2L564.3 114.5L565.3 114.8L566.3 114.1L567.3 114.4L568.3 115.2L569.3 115.6L570.3 115L571.3 114.9L572.3 114L573.3 114.9L574.3 114.1L575.3 113.7L576.3 115L577.3 115.3L578.3 114.7L579.3 114.9L580.3 114.3L581.3 114.5L582.3 115.7L583.3 113.8L584.3 114.5L585.3 114.6L586.3 114.8L587.3 113.7L588.3 115L589.3 115.1L590.3 114.8L591.3 114.9L592.3 114.5L593.3 115.1L594.3 114.7L595.3 113.9L596.3 114.4L597.3 113.8L598.3 113.8L599.3 113.7L600.3 114.6L601.3 114.3L602.3 114.1L603.3 113.1L604.3 114.3L605.3 114.2L606.3 113.2L607.3 114.1L607.8 112.8L608.3 112.6L608.8 112.4L609.3 111.9L609.8 112L610.3 111.6L610.8 107.5L611.3 107.6L611.8 104.2L612.3 103.7L612.8 103.3L613.3 104.8L613.8 105.7L614.3 107L614.8 108.7L615.3 109.8L615.8 108.7L616.3 108.6L616.8 106.9L617.3 105.2L617.8 103.6L618.3 103.3L618.8 104.2L619.3 105.3L619.8 107.3L620.3 108.2L620.8 110.4L621.3 111.2L621.8 113.1L622.3 112.6L622.8 113.1L623.3 114.2L623.8 113.3L624.8 114.6L625.8 114L626.8 113.8L627.8 114.3L628.8 114L629.8 114.7L630.8 115.5L631.8 114.3L632.8 114L633.8 113.6L634.8 114.2L635.8 114.6L636.8 114.7L637.8 114.5L638.8 114.7L639.8 114.8L640.8 114.1L641.8 113.9L642.8 114.4L643.8 114.2L644.8 114.1L645.8 114.1L646.8 114.5L647.8 114.9L648.8 114L649.8 114.6L650.8 114.9L651.8 113.8L652.8 114.4L653.8 114.1L654.8 113.8L655.8 114.7L656.8 114.9L657.8 114.5L658.8 114.4L659.8 114.7L660.8 113.8L661.8 115.1L662.8 114.5L663.8 114.3L664.8 115.3L665.8 115L666.8 114.5L667.8 114.7L668.8 113.9L669.8 113.6L670.8 114.8L671.8 114.7L672.8 114.5L673.8 114.1L674.8 114.6L675.8 113.9L676.8 114.4L677.8 114.8L678.8 114.7L679.8 115.2L680.8 114.8L681.8 114.4L682.8 115L683.8 114.4L684.8 114.5L685.8 114.2L686.8 114.5L687.8 114L688.8 114.9L689.8 114.4L690.8 115L691.8 115.1L692.8 114.4L693.8 114.9L694.8 113.5L695.8 113.3L696.8 115L697.8 113.7L698.8 115.4L699.8 113.3L700.8 115L701.8 114.1L702.8 113.9L703.8 114.4L704.8 113.2L705.8 114.8L706.8 114.3L707.8 114.2L708.8 114L709.8 115L710.8 114.9L711.8 113L712.8 114.8L713.8 113.9L714.8 113.8L715.8 113.9L716.8 113.9L717.8 113.7L718.3 115.2L718.8 113.2L719.3 112.6L719.8 111.6L720.3 112L720.8 111.9L721.3 109.2L721.8 108.8L722.3 108.4L722.8 106.9L723.3 107.1L723.8 106.7L724.3 106.5L724.8 107.6L725.3 108.2L725.8 109.3L726.3 107.9L726.8 109.5L727.3 109.7L727.8 108.5L728.3 107.9L728.8 106.8L729.3 106.9L729.8 106.7L730.3 106.6L730.8 107.5L731.3 107.9L731.8 110.4L732.3 111.2L732.8 112.5L733.3 112.7L733.8 113.4L734.3 112.6L734.8 113.2L735.3 113.9L736.3 113.8L737.3 114.2L738.3 114.3L739.3 114.1L740.3 113.6L741.3 114.5L742.3 113.5L743.3 113.9L744.3 113.8L745.3 113L746.3 115.3L747.3 113.9L748.3 114.4L749.3 115.2L750.3 114.4L751.3 114.5L752.3 113.9L753.3 114.4L754.3 115L755.3 114.4L756.3 115.2L757.3 114.5L758.3 114.5L759.3 114.5L760.3 114.6L761.3 114.2L762.3 114.9L763.3 113.9L764.3 114.6L765.3 115.3L766.3 114.6L767.3 114.1L768.3 114.7L769.3 113.9L770.3 114.8L771.3 115.1L772.3 114.4L773.3 114.3L774.3 115.2L775.3 114.6L776.3 114L777.3 113.9L778.3 114.6L779.3 114.1L780.3 115.6L781.3 115.2L782.3 115L783.3 114.2" fill="none" stroke="#9c3098" stroke-width="1.5" stroke-linejoin="round"/>
<path d="M13.8 153.8L14.8 153.7L15.8 153.6L16.8 154L17.8 153.2L18.8 153.1L19.8 153.2L20.8 153L21.8 153L22.8 153L23.8 153.4L24.8 153.4L25.8 152.9L26.8 153L27.8 153.8L28.8 153.7L29.8 152.7L30.8 153.3L31.8 154L32.8 152.7L33.8 152.9L34.8 152.8L35.8 153L36.8 153.7L37.8 152.8L38.8 152.7L39.8 153.2L40.8 153.8L41.8 153.5L42.8 153L43.8 153.6L44.8 153.3L45.8 153.2L46.8 153.3L47.8 152.9L48.8 153.3L49.8 152.9L50.8 153.2L51.8 152.7L52.8 153.1L53.8 153.3L54.8 153.4L55.8 153.7L56.8 152.9L57.8 153.6L58.8 152.5L59.8 152.6L60.8 153.6L61.8 153.8L62.8 153.7L63.8 153.4L64.8 153L65.8 153.8L66.8 154.1L67.8 153.2L68.8 152.4L69.8 153.1L70.8 152.8L71.8 152.5L72.8 153L73.8 153.4L74.8 153.4L75.8 153.4L76.8 153.6L77.8 152.7L78.8 152.9L79.8 153.3L80.8 153.6L81.8 153.8L82.8 154L83.8 153.5L84.8 153.3L85.8 153L86.8 152.9L87.8 152.9L88.8 153.1L89.8 153.4L90.8 152.6L91.8 154.5L92.8 153.4L93.8 153.6L94.8 153.5L95.8 153.2L96.8 153.5L97.8 153.4L98.8 153.3L99.8 153.6L100.8 153.5L101.8 153.2L102.8 153.1L103.8 152.8L104.8 152.8L105.8 152.6L106.8 153.1L107.8 153L108.8 153.6L109.8 153.1L110.8 153.6L111.8 154L112.8 153.6L113.8 152.9L114.8 153.6L115.8 153.4L116.8 153.3L117.8 153.9L118.8 153.3L119.8 153.2L120.8 153.3L121.8 153.3L122.8 153L123.8 152.9L124.8 153.3L125.8 153.6L126.8 152.3L127.8 153.4L128.8 153.5L129.8 153.3L130.8 153L131.8 153.6L132.8 153.5L133.8 153.5L134.8 153.5L135.8 153.1L136.8 153.8L137.8 153.3L138.8 153.2L139.8 153L140.8 153.3L141.8 152.7L142.8 152.7L143.8 153.2L144.8 153L145.8 152.8L146.8 153.2L147.8 153.1L148.8 153.3L149.8 153.1L150.8 153.5L151.8 152.7L152.8 153.4L153.8 153.3L154.8 152.8L155.8 153.2L156.8 153.4L157.8 153.8L158.8 153L159.8 152.6L160.8 152.4L161.8 153.3L162.8 153.2L163.8 152.4L164.8 153.7L165.8 152.4L166.8 153.5L167.8 153.7L168.8 152.5L169.8 152.9L170.8 153.5L171.8 153.1L172.8 153.3L173.8 153.8L174.8 153.2L175.8 153.7L176.8 153.7L177.8 153.1L178.8 154L179.8 153.5L180.8 153.1L181.8 153.5L182.8 152.8L183.8 152.7L184.8 154.1L185.8 153.9L186.8 153.2L187.8 152.6L188.8 152.9L189.8 153.6L190.8 153.4L191.8 153.4L192.8 153.3L193.8 153.2L194.8 153.4L195.8 153.2L196.8 154.3L197.8 153.1L198.8 153.2L199.8 152.8L200.8 152.6L201.8 152.9L202.8 153.9L203.8 153.3L204.8 154.2L205.8 154L206.8 153.7L207.8 153L208.8 153.1L209.8 153.3L210.8 153.9L211.8 152.3L212.8 153.7L213.8 152.9L214.8 153.1L215.8 153.1L216.8 153.8L217.8 153.4L218.8 153.3L219.8 153L220.8 153.2L221.8 152.9L222.8 153.2L223.8 152.6L224.8 153.8L225.8 154.1L226.8 152.6L227.8 152.9L228.8 153.1L229.8 153.1L230.8 152.8L231.8 152.9L232.8 153.6L233.8 153.7L234.8 153.1L235.8 152.7L236.8 153.6L237.8 153.2L238.8 153.5L239.8 153.8L240.8 153.7L241.8 153.7L242.8 153.6L243.8 153.6L244.8 152.4L245.8 152.9L246.8 153.1L247.8 153L248.8 153.6L249.8 152.5L250.8 152.6L251.8 153.4L252.8 153.2L253.8 152.9L254.8 153.1L255.8 152.9L256.8 153L257.8 153L258.8 153.5L259.8 153L260.8 153.7L261.8 153.4L262.8 153.2L263.8 154L264.8 153.5L265.8 152.8L266.8 154L267.8 152.9L268.8 153.6L269.8 153.8L270.8 153.2L271.8 153L272.8 152.9L273.8 154.3L274.8 154L275.8 153.2L276.8 153.7L277.8 153.4L278.8 153.4L279.8 153.1L280.8 154L281.8 154.1L282.8 153.4L283.8 153.1L284.8 153.2L285.8 152.2L286.8 153.1L287.8 153.1L288.8 152.8L289.8 152.8L290.8 152.9L291.8 153L292.8 152.8L293.8 153L294.8 154.3L295.8 153.2L296.8 153.1L297.8 153.3L298.8 152.7L299.8 153.6L300.8 153.2L301.8 153.3L302.8 152.7L303.8 152.5L304.8 152.9L305.8 153L306.8 153.8L307.8 153.3L308.8 153.1L309.8 152.9L310.8 153.2L311.8 153.8L312.8 154.1L313.8 153.1L314.8 152.5L315.8 153.5L316.8 154.1L317.8 153.1L318.8 153L319.8 152.6L320.8 153.1L321.8 153.1L322.8 152.5L323.8 153.1L324.8 153.2L325.8 153.2L326.8 152.7L327.8 153L328.8 153.1L329.8 153.4L330.8 153.1L331.8 153.8L332.8 153.1L333.8 153.9L334.8 153.7L335.8 152.2L336.8 153.5L337.8 153.5L338.8 153.4L339.8 153.9L340.8 152.8L341.8 153.7L342.8 153.4L343.8 152.7L344.8 153.5L345.8 153.4L346.8 153.5L347.8 154.1L348.8 152.9L349.8 152.2L350.8 153.6L351.8 153.3L352.8 153.1L353.8 153.2L354.8 153.6L355.8 152.4L356.8 153.9L357.8 153.9L358.8 153.1L359.8 153.8L360.8 153.7L361.8 153.5L362.8 153.6L363.8 153.6L364.8 153.5L365.8 153.5L366.8 153.1L367.8 153.3L368.8 153L369.8 153L370.8 153.3L371.8 153L372.8 153.5L373.8 153.6L374.8 153.4L375.8 153.5L376.8 152.8L377.8 153.5L378.8 152.4L379.8 153.7L380.8 153.2L381.8 152.8L382.8 153.5L383.8 153.2L384.8 154L385.8 153.4L386.8 153.8L387.8 153.2L388.8 153.8L389.8 153.1L390.8 153L391.8 153.2L392.8 152.8L393.8 152.6L394.8 152.9L395.8 153L396.8 153.3L397.8 152.9L398.8 153.8L399.8 153.7L400.8 153.1L401.8 153.9L402.8 153.8L403.8 152.4L404.8 152.8L405.8 153L406.8 152.9L407.8 152.6L408.8 153.1L409.8 153.6L410.8 152.4L411.8 152.7L412.8 152.8L413.8 153L414.8 152.9L415.8 153.5L416.8 154L417.8 153L418.8 152.7L419.8 153.5L420.8 153.5L421.8 153.1L422.8 153.3L423.8 152.9L424.8 152.8L425.8 152.8L426.8 152.9L427.8 152.5L428.8 153.3L429.8 152.2L430.8 152.8L431.8 153.2L432.8 152.9L433.8 153.1L434.8 153.6L435.8 153.7L436.8 153.8L437.8 153.1L438.8 153.8L439.8 153.1L440.8 153.3L441.8 153.2L442.8 152.8L443.8 152.9L444.8 153.7L445.8 153.1L446.8 153.7L447.8 153.5L448.8 153L449.8 153.4L450.8 153.1L451.8 151.7L452.8 153.9L453.8 154.4L454.8 153.6L455.8 152.9L456.8 153.4L457.8 152.4L458.8 153.6L459.8 152.6L460.8 153.3L461.8 152.7L462.8 152.9L463.8 152.3L464.8 153.8L465.8 152.8L466.8 153.4L467.8 152.8L468.8 152.9L469.8 152.8L470.8 153.4L471.8 153.3L472.8 152.8L473.8 153.2L474.8 152.6L475.8 153.1L476.8 153.1L477.8 152.8L478.8 152.7L479.8 152.6L480.8 153.9L481.8 154.3L482.8 153.3L483.8 153.3L484.8 153.4L485.8 152.3L486.8 153.4L487.8 153.3L488.8 153L489.8 153.8L490.8 153.5L491.8 153.7L492.8 153.2L493.8 152.9L494.8 153.6L495.8 153.3L496.8 153.3L497.8 153L498.8 153.2L499.8 152.5L500.8 153.2L501.8 152.5L502.8 153.5L503.8 153.6L504.8 152.8L505.8 153.6L506.8 153.2L507.8 153.5L508.8 153.1L509.8 153L510.8 153.4L511.8 153.5L512.8 152.4L513.8 152.6L514.8 152.8L515.8 152.6L516.3 152.8L516.8 152.5L517.3 151.9M528.8 151.9L529.3 152L529.8 152.3L530.8 152.8L531.8 153.2L532.8 152.8L533.8 153.4L534.8 152.9L535.8 152.8L536.8 153L537.8 154L538.8 153.5L539.8 153.8L540.8 153L541.8 153.1L542.8 153.2L543.8 153.1L544.8 152.3L545.8 152.7L546.8 153.2L547.8 153.3L548.8 152.7L549.8 152.8L550.8 152.9L551.8 153.4L552.8 154.1L553.8 153.5L554.8 152.9L555.8 153.2L556.8 153L557.8 152.7L558.8 152.8L559.8 153.2L560.8 152.9L561.8 153L562.8 152.7L563.8 152.7L564.8 153.3L565.8 153L566.8 152.7L567.8 152.9L568.8 153.4L569.8 152.7L570.8 153.1L571.8 153.1L572.8 153.4L573.8 154.1L574.8 153.3L575.8 154.1L576.8 153.5L577.8 153.8L578.8 153.5L579.8 153.4L580.8 153.5L581.8 152.3L582.8 153L583.8 153.4L584.8 153.7L585.8 152.5L586.8 152.2L587.8 153L588.8 153.3L589.8 153L590.8 152.2L591.8 153.1L592.8 153.6L593.8 153.3L594.8 152.5L595.8 152.8L596.8 152.6L597.8 152.7L598.8 153.2L599.8 153.1L600.8 152.3L601.8 152.2L602.8 152.4L603.8 152.6L604.8 152.2L605.8 152.6L606.3 152.4L606.8 152.3L607.3 151.9M622.3 152.6L622.8 152.9L623.3 153L624.3 152.7L625.3 153.8L626.3 153.1L627.3 152.8L628.3 152.9L629.3 153.6L630.3 153L631.3 152.9L632.3 153.1L633.3 153.3L634.3 153.3L635.3 153.2L636.3 152.8L637.3 153.5L638.3 153.2L639.3 153.1L640.3 152.6L641.3 153.1L642.3 153.3L643.3 153.7L644.3 153.4L645.3 153.1L646.3 153.6L647.3 152.4L648.3 153L649.3 152.9L650.3 153.7L651.3 153.4L652.3 153.3L653.3 153.6L654.3 153.2L655.3 152.6L656.3 153.6L657.3 153.2L658.3 153.4L659.3 152.8L660.3 153L661.3 153L662.3 153.4L663.3 153.5L664.3 153.7L665.3 153.7L666.3 153.4L667.3 153.3L668.3 152.9L669.3 153.4L670.3 152.7L671.3 152L672.3 153.5L673.3 153.1L674.3 153.2L675.3 152.9L676.3 152.8L677.3 153L678.3 152.3L679.3 152.8L680.3 153.1L681.3 153.4L682.3 152.7L683.3 153.3L684.3 152.6L685.3 154.1L686.3 153.6L687.3 153.2L688.3 153.4L689.3 153.3L690.3 152.6L691.3 154.2L692.3 153.4L693.3 152.9L694.3 153.3L695.3 152.8L696.3 153.5L697.3 152.5L698.3 153.6L699.3 153.8L700.3 152.7L701.3 153.3L702.3 152.9L703.3 153.2L704.3 152.6L705.3 153.3L706.3 152.4L707.3 152.8L708.3 153L709.3 153.4L710.3 153L711.3 153.6L712.3 152.6L713.3 153.3L714.3 152.7L715.3 152.7L716.3 152.1L717.3 151.9L717.8 152.4L718.3 152.4L718.8 151.4M734.3 153L734.8 152.5L735.3 152.6L736.3 152.8L737.3 152.5L738.3 153.1L739.3 152.9L740.3 153.2L741.3 153L742.3 152.7L743.3 153.6L744.3 153.8L745.3 153.6L746.3 152.3L747.3 152.9L748.3 153L749.3 153.4L750.3 153L751.3 153.3L752.3 152.8L753.3 152.8L754.3 153.1L755.3 153.3L756.3 153.7L757.3 153.2L758.3 153.1L759.3 152.7L760.3 153.1L761.3 153.3L762.3 153.3L763.3 153.7L764.3 153.3L765.3 153.6L766.3 152.8L767.3 153.1L768.3 152.7L769.3 152.6L770.3 153.1L771.3 153.3L772.3 153.3L773.3 153.1L774.3 153L775.3 153.8L776.3 153.8L777.3 153L778.3 153.4L779.3 152.8L780.3 152.7L781.3 153.4L782.3 154L783.3 153" fill="none" stroke="#8536a6" stroke-width="1.8" stroke-linejoin="round"/>
<path d="M13.8 154L14.8 152.6L15.8 153.4L16.8 153.7L17.8 152.9L18.8 153.9L19.8 153.5L20.8 152.3L21.8 153.7L22.8 152.4L23.8 153.3L24.8 153.4L25.8 152.6L26.8 152.8L27.8 153.5L28.8 153.1L29.8 153.8L30.8 152.8L31.8 152.5L32.8 152.2L33.8 153.6L34.8 153.6L35.8 153.8L36.8 153.6L37.8 152.4L38.8 152.3L39.8 153.7L40.8 153.7L41.8 153.8L42.8 153L43.8 153.4L44.8 153.8L45.8 153.1L46.8 154.1L47.8 154.3L48.8 153.7L49.8 153.6L50.8 153.4L51.8 153.1L52.8 152.4L53.8 153.5L54.8 153.4L55.8 152.5L56.8 153.3L57.8 152.9L58.8 153.3L59.8 154.4L60.8 154.2L61.8 152.7L62.8 153.9L63.8 153.6L64.8 153.3L65.8 153.4L66.8 153.2L67.8 152.4L68.8 152.4L69.8 153.4L70.8 152.9L71.8 153.1L72.8 153.1L73.8 152.5L74.8 152.2L75.8 153.4L76.8 153.3L77.8 153.1L78.8 153.4L79.8 153L80.8 152.7L81.8 152.4L82.8 153.2L83.8 153.8L84.8 153.4L85.8 152.5L86.8 152.7L87.8 153.2L88.8 153.3L89.8 153L90.8 153.5L91.8 153.1L92.8 153.2L93.8 152.7L94.8 154.1L95.8 153.1L96.8 152.2L97.8 153.1L98.8 153.4L99.8 154.4L100.8 152.9L101.8 153.6L102.8 154L103.8 152.3L104.8 153.4L105.8 153.3L106.8 153.4L107.8 152.7L108.8 153.1L109.8 153.4L110.8 153.3L111.8 153.5L112.8 152.8L113.8 153.3L114.8 153.5L115.8 153.8L116.8 152.7L117.8 153.4L118.8 153.3L119.8 154.1L120.8 153L121.8 153.6L122.8 152.3L123.8 153.8L124.8 153.7L125.8 152.8L126.8 152.1L127.8 152.4L128.8 153.1L129.8 153.2L130.8 152.9L131.8 153.8L132.8 152.5L133.8 154.3L134.8 152.7L135.8 153.3L136.8 153.8L137.8 152.9L138.8 153L139.8 154.1L140.8 153.5L141.8 153.3L142.8 153.6L143.8 153.6L144.8 153.3L145.8 152.8L146.8 153.2L147.8 153.4L148.8 153.6L149.8 153.3L150.8 153.2L151.8 152.8L152.8 153.4L153.8 153.2L154.8 152.5L155.8 153.2L156.8 152.5L157.8 152.2L158.8 152.7L159.8 152.7L160.8 153L161.8 153L162.8 153.1L163.8 152.4L164.8 152.5L165.8 153.4L166.8 154.1L167.8 153.8L168.8 153.9L169.8 153.3L170.8 154.3L171.8 153.2L172.8 152.1L173.8 152.8L174.8 153.6L175.8 153L176.8 152.9L177.8 153.3L178.8 153.4L179.8 152.4L180.8 153.6L181.8 154L182.8 153.5L183.8 153.5L184.8 153.5L185.8 152.7L186.8 152.6L187.8 153.6L188.8 153.4L189.8 152.9L190.8 153.2L191.8 153.2L192.8 154.1L193.8 153.1L194.8 153.6L195.8 152.1L196.8 153.5L197.8 152.9L198.8 152.6L199.8 152.3L200.8 153.2L201.8 153.1L202.8 153.9L203.8 154.4L204.8 153.6L205.8 152.9L206.8 152.7L207.8 152.4L208.8 153.1L209.8 152.2L210.8 153.1L211.8 153.5L212.8 153.3L213.8 153.2L214.8 152.5L215.8 152.7L216.8 153L217.8 152.7L218.8 152.6L219.8 153.8L220.8 152.6L221.8 153.2L222.8 153.4L223.8 153.6L224.8 153.6L225.8 152.8L226.8 153.3L227.8 152.6L228.8 152.9L229.8 153.4L230.8 153L231.8 152.1L232.8 152.5L233.8 151.9L234.8 151.7L235.8 153.2L236.8 152.7L237.8 152.6L238.8 153.2L239.8 152.5L240.8 153.1L241.8 152.4L242.8 153.2L243.8 152.9L244.8 153.2L245.8 154.6L246.8 153.5L247.8 153L248.8 153.7L249.8 153.7L250.8 153.7L251.8 154.5L252.8 153.8L253.8 153.3L254.8 154.3L255.8 153.8L256.8 153.1L257.8 153.2L258.8 153.6L259.8 152.3L260.8 152.5L261.8 152.5L262.8 153.3L263.8 152.1L264.8 153.1L265.8 153.8L266.8 152.7L267.8 154.3L268.8 153.2L269.8 153.1L270.8 153.5L271.8 153.6L272.8 153.9L273.8 153.9L274.8 152.3L275.8 152.4L276.8 154.2L277.8 153.6L278.8 153.3L279.8 153.1L280.8 152.5L281.8 153.2L282.8 153.6L283.8 152.6L284.8 153.2L285.8 153.1L286.8 153L287.8 153L288.8 152.4L289.8 154L290.8 152.9L291.8 153.1L292.8 154.3L293.8 154L294.8 153.5L295.8 153.2L296.8 151.6L297.8 153.1L298.8 153.3L299.8 152.7L300.8 153.1L301.8 153.6L302.8 153.3L303.8 153.2L304.8 154.2L305.8 154.1L306.8 153.1L307.8 153.3L308.8 153.1L309.8 152.8L310.8 152.2L311.8 152.8L312.8 154.4L313.8 152.6L314.8 153.2L315.8 154.1L316.8 153.4L317.8 153.5L318.8 153.4L319.8 153.5L320.8 153.5L321.8 153L322.8 153.2L323.8 153.6L324.8 154.2L325.8 153.7L326.8 153.2L327.8 153L328.8 151.9L329.8 152.8L330.8 153.8L331.8 153.9L332.8 153.7L333.8 153.3L334.8 154.1L335.8 152.3L336.8 154.2L337.8 154L338.8 153.1L339.8 153.2L340.8 153.7L341.8 152.8L342.8 153.7L343.8 153.4L344.8 152.8L345.8 152.2L346.8 153.6L347.8 153.7L348.8 153.4L349.8 152.3L350.8 153.3L351.8 152.3L352.8 152.8L353.8 153.4L354.8 152.6L355.8 153.2L356.8 153.7L357.8 153L358.8 152.4L359.8 154L360.8 153.5L361.8 153L362.8 153.8L363.8 153.4L364.8 153.5L365.8 152.4L366.8 152.7L367.8 153.3L368.8 152.5L369.8 153.4L370.8 153.2L371.8 153.4L372.8 153.3L373.8 152.5L374.8 152.7L375.8 153.6L376.8 152.6L377.8 152.6L378.8 153.3L379.8 153.6L380.8 152.9L381.8 153.4L382.8 153L383.8 153L384.8 153.3L385.8 153.4L386.8 153L387.8 153.3L388.8 154L389.8 152.7L390.8 153.9L391.8 154.1L392.8 154.3L393.8 152.2L394.8 154.3L395.8 153L396.8 152.8L397.8 153.3L398.8 152.9L399.8 153.8L400.8 153.9L401.8 153.7L402.8 152.8L403.8 151.9L404.8 152.4L405.8 152.7L406.8 153.7L407.8 153L408.8 152.3L409.8 152.8L410.8 153.3L411.8 153.6L412.8 153L413.8 152.8L414.8 152.6L415.8 153.1L416.8 153.6L417.8 152.3L418.8 153.9L419.8 153.1L420.8 154.1L421.8 153.4L422.8 153.6L423.8 153.4L424.8 153.1L425.8 152.6L426.8 152.8L427.8 152.9L428.8 153.4L429.8 154.1L430.8 152.4L431.8 152.7L432.8 152.7L433.8 153.6L434.8 152.3L435.8 154.4L436.8 153.1L437.8 153.2L438.8 153.3L439.8 153.3L440.8 152.4L441.8 152.6L442.8 152.4L443.8 152.7L444.8 152.6L445.8 153.6L446.8 152.6L447.8 153.1L448.8 153.8L449.8 153.4L450.8 153L451.8 152.9L452.8 153L453.8 153.8L454.8 153.2L455.8 152.9L456.8 152.7L457.8 153.6L458.8 153.6L459.8 153.6L460.8 153.3L461.8 152.5L462.8 154.4L463.8 152.9L464.8 152.9L465.8 153.4L466.8 153.2L467.8 153.5L468.8 153.4L469.8 152.9L470.8 152.8L471.8 152.2L472.8 154.7L473.8 153L474.8 154.1L475.8 153.5L476.8 154.3L477.8 154.3L478.8 153.4L479.8 152.9L480.8 153L481.8 152.9L482.8 154.1L483.8 153.2L484.8 152.8L485.8 153.2L486.8 153.2L487.8 153.2L488.8 153.2L489.8 153.8L490.8 153L491.8 152.6L492.8 152.7L493.8 153.7L494.8 153.2L495.8 152.9L496.8 153.8L497.8 152.7L498.8 153L499.8 153.5L500.8 153.1L501.8 153.9L502.8 152.6L503.8 153.1L504.8 153.1L505.8 153.1L506.8 153.5L507.8 153.1L508.8 153.4L509.8 153.4L510.8 152.4L511.8 153.6L512.8 152.8L513.8 153L514.8 151.7L515.8 152.2L516.3 152.2L516.8 152.8L517.3 152.8L517.8 153.1L518.3 150.5L518.8 151.3L519.3 150.7L519.8 148.9L520.3 147.9L520.8 145.7L521.3 144.4L521.8 143.1L522.3 140.9L522.8 139.7L523.3 140.7L523.8 141.3L524.3 142.8L524.8 144.9L525.3 145.9L525.8 148.7L526.3 150L526.8 150.3L527.3 150.7L527.8 151.5L528.3 151.9L528.8 151.8L529.3 152.6L529.8 152.1L530.8 152.1L531.8 152.1L532.8 153.2L533.8 153.4L534.8 152.7L535.8 152.7L536.8 152.8L537.8 153.3L538.8 153.2L539.8 153L540.8 153.2L541.8 152.9L542.8 152.9L543.8 154.1L544.8 152.7L545.8 153.1L546.8 152.7L547.8 153.3L548.8 153.8L549.8 152.8L550.8 152.6L551.8 152.7L552.8 152.6L553.8 152.1L554.8 152.3L555.8 152.5L556.8 153.4L557.8 152.8L558.8 152.7L559.8 152.8L560.8 153.6L561.8 152.1L562.8 153.6L563.8 153.3L564.8 152.5L565.8 152.2L566.8 151.7L567.8 153.4L568.8 152.8L569.8 152.7L570.8 152.9L571.8 153.2L572.8 153.8L573.8 153.1L574.8 152.3L575.8 152.7L576.8 153.3L577.8 153.4L578.8 152.8L579.8 152.2L580.8 153.7L581.8 153.5L582.8 153.2L583.8 153.9L584.8 153.5L585.8 153.4L586.8 152.7L587.8 153.8L588.8 152.4L589.8 152.9L590.8 153.8L591.8 152.3L592.8 153L593.8 152.9L594.8 154L595.8 152.3L596.8 152.9L597.8 153.2L598.8 153.6L599.8 153.3L600.8 153.1L601.8 152.8L602.8 153.6L603.8 152.3L604.8 153.9L605.8 153.5L606.3 153.8L606.8 152L607.3 151.9L607.8 152.3L608.3 151.2L608.8 151.2L609.3 149.9L609.8 148.4L610.3 146.6L610.8 143.7L611.3 140.2L611.8 140.1L612.3 138.6L612.8 142.5L613.3 144.9L613.8 145.8L614.3 148.5L614.8 147.5L615.3 148.9L615.8 147.1L616.3 145.4L616.8 143.2L617.3 140.6L617.8 139.9L618.3 139.7L618.8 141.6L619.3 144.2L619.8 146.5L620.3 148.1L620.8 150.4L621.3 151.5L621.8 151L622.3 152.5L622.8 152.3L623.3 151.2L624.3 152.2L625.3 152.2L626.3 152.6L627.3 152.1L628.3 153.2L629.3 152.6L630.3 152.2L631.3 152.9L632.3 153.4L633.3 153L634.3 153L635.3 153.8L636.3 153.1L637.3 153.8L638.3 153.4L639.3 152.7L640.3 153.3L641.3 152.6L642.3 154.1L643.3 152.4L644.3 153.6L645.3 152.8L646.3 154.3L647.3 155.6L648.3 152.3L649.3 152.7L650.3 153.5L651.3 152.4L652.3 153.6L653.3 153.9L654.3 152.7L655.3 153.3L656.3 153L657.3 153.4L658.3 154.5L659.3 153.7L660.3 153.8L661.3 153.1L662.3 152.5L663.3 152.5L664.3 152.7L665.3 153.3L666.3 152.6L667.3 153.6L668.3 153.1L669.3 151.4L670.3 152.5L671.3 153.4L672.3 152.8L673.3 153.2L674.3 152.7L675.3 152.3L676.3 153.6L677.3 153.1L678.3 152.5L679.3 152.7L680.3 152.6L681.3 153.3L682.3 153.4L683.3 153.9L684.3 153.6L685.3 153.7L686.3 153.4L687.3 152.8L688.3 153.1L689.3 153.2L690.3 152.7L691.3 153.1L692.3 152.6L693.3 153.9L694.3 152.3L695.3 153.1L696.3 154L697.3 153.1L698.3 153.8L699.3 153.6L700.3 152.6L701.3 153.6L702.3 153.1L703.3 153.7L704.3 153.6L705.3 153.1L706.3 153.6L707.3 153L708.3 153.1L709.3 153.3L710.3 153.2L711.3 153.5L712.3 153L713.3 153.9L714.3 154.1L715.3 152.6L716.3 152.7L717.3 153L717.8 150.9L718.3 151.7L718.8 151.4L719.3 150.6L719.8 150.5L720.3 150.3L720.8 150.7L721.3 148.8L721.8 146.9L722.3 146.8L722.8 145.2L723.3 143.7L723.8 144L724.3 144.9L724.8 146.3L725.3 147.6L725.8 147.9L726.3 148.2L726.8 147.8L727.3 147.9L727.8 147.5L728.3 145.5L728.8 145.9L729.3 144.3L729.8 144.7L730.3 146.5L730.8 147.1L731.3 148L731.8 148.1L732.3 150.2L732.8 150.7L733.3 151.4L733.8 152.5L734.3 151.9L734.8 152.4L735.3 152.4L736.3 153.4L737.3 152.3L738.3 153.5L739.3 152.5L740.3 153L741.3 152.5L742.3 152.3L743.3 152.9L744.3 153L745.3 153.3L746.3 153L747.3 151.9L748.3 154.1L749.3 152.8L750.3 152.9L751.3 153.2L752.3 152.8L753.3 154L754.3 152.7L755.3 153.1L756.3 154L757.3 153.1L758.3 153.7L759.3 153.3L760.3 153.4L761.3 152.4L762.3 154.4L763.3 152.7L764.3 153.4L765.3 154L766.3 154.3L767.3 152.9L768.3 153.3L769.3 153.3L770.3 152.9L771.3 153.3L772.3 152.8L773.3 153.3L774.3 153.2L775.3 154.2L776.3 153.3L777.3 152.7L778.3 153L779.3 153L780.3 152.4L781.3 153.7L782.3 152.4L783.3 152.9" fill="none" stroke="#8536a6" stroke-width="1.5" stroke-linejoin="round"/>
<path d="M13.8 193.4L14.8 193.4L15.8 193.8L16.8 193.3L17.8 193.2L18.8 193.3L19.8 193L20.8 193.7L21.8 193.3L22.8 193.2L23.8 193.5L24.8 193.7L25.8 193.7L26.8 193.2L27.8 193.6L28.8 193.2L29.8 193.5L30.8 192.8L31.8 193.2L32.8 194L33.8 193L34.8 193.3L35.8 193.6L36.8 193.6L37.8 193.9L38.8 193.3L39.8 193.3L40.8 193.4L41.8 193.7L42.8 193.5L43.8 193.5L44.8 193.4L45.8 193L46.8 193.4L47.8 194L48.8 193L49.8 193L50.8 193.8L51.8 193.9L52.8 193.9L53.8 192.8L54.8 193L55.8 192.7L56.8 192.5L57.8 193L58.8 193.2L59.8 193.3L60.8 193.9L61.8 194L62.8 193.4L63.8 194L64.8 193.8L65.8 193.4L66.8 192.3L67.8 193.7L68.8 193L69.8 193.4L70.8 193.3L71.8 193.7L72.8 192.7L73.8 193.4L74.8 193.7L75.8 192.5L76.8 193.9L77.8 192.9L78.8 192.9L79.8 193.3L80.8 193.3L81.8 192.9L82.8 193.8L83.8 193L84.8 193.4L85.8 192.9L86.8 193.2L87.8 193.6L88.8 193.7L89.8 193.2L90.8 193.6L91.8 192.7L92.8 193.8L93.8 193.3L94.8 193.2L95.8 193.5L96.8 192.7L97.8 193.8L98.8 193.3L99.8 193.7L100.8 193.3L101.8 193.9L102.8 192.8L103.8 193.3L104.8 194L105.8 193.2L106.8 193.6L107.8 193.6L108.8 193.6L109.8 192.5L110.8 192.7L111.8 193.8L112.8 194L113.8 193L114.8 192.8L115.8 193.8L116.8 193.7L117.8 194.1L118.8 193.4L119.8 193.3L120.8 193.9L121.8 193.7L122.8 193.2L123.8 193.2L124.8 193.4L125.8 193.9L126.8 193.2L127.8 193.2L128.8 193.6L129.8 193L130.8 193.7L131.8 193.8L132.8 193.7L133.8 193.5L134.8 193.9L135.8 193.2L136.8 193.5L137.8 193.8L138.8 193.9L139.8 193.5L140.8 193.7L141.8 192.8L142.8 193.2L143.8 193.8L144.8 193.4L145.8 192.6L146.8 193.4L147.8 193.8L148.8 193.4L149.8 194L150.8 193.8L151.8 194.2L152.8 193.7L153.8 193.7L154.8 193.4L155.8 193L156.8 193.2L157.8 193.2L158.8 193.6L159.8 193.5L160.8 193.4L161.8 194.7L162.8 193.3L163.8 194.5L164.8 192.7L165.8 193.3L166.8 193.3L167.8 192.9L168.8 193.4L169.8 193L170.8 193.9L171.8 193.8L172.8 193.5L173.8 193.4L174.8 193.2L175.8 193.4L176.8 194.2L177.8 193.6L178.8 193.7L179.8 193.7L180.8 193.1L181.8 194.1L182.8 194.1L183.8 193.9L184.8 193.3L185.8 192.6L186.8 194.1L187.8 193.3L188.8 192.7L189.8 193.2L190.8 194.1L191.8 192.4L192.8 193.6L193.8 193.1L194.8 193.5L195.8 192.7L196.8 193.8L197.8 193.2L198.8 192.7L199.8 193.7L200.8 192.7L201.8 193.8L202.8 193.9L203.8 192L204.8 192.9L205.8 193.3L206.8 193.2L207.8 193.7L208.8 194L209.8 193.6L210.8 193.7L211.8 194.3L212.8 193.1L213.8 193.5L214.8 192.8L215.8 193.4L216.8 193.9L217.8 193.5L218.8 193L219.8 193.8L220.8 194.1L221.8 193.7L222.8 193L223.8 193L224.8 193.3L225.8 193.9L226.8 193.1L227.8 193.5L228.8 193.1L229.8 194L230.8 193.6L231.8 193.7L232.8 192.9L233.8 192.9L234.8 193.1L235.8 194.2L236.8 193.2L237.8 193.1L238.8 193.6L239.8 194L240.8 192.9L241.8 193.4L242.8 193.6L243.8 194.1L244.8 193.6L245.8 193.8L246.8 193L247.8 192.8L248.8 193.3L249.8 194.4L250.8 193.6L251.8 193.4L252.8 192.9L253.8 193.1L254.8 193.8L255.8 194.1L256.8 193.5L257.8 193.3L258.8 192.8L259.8 193.1L260.8 193.4L261.8 193.4L262.8 193.5L263.8 193.8L264.8 193.6L265.8 194.1L266.8 193.3L267.8 193.6L268.8 193.3L269.8 193.9L270.8 193.2L271.8 193.1L272.8 192.4L273.8 192.7L274.8 192.6L275.8 193L276.8 192.9L277.8 193.4L278.8 193.7L279.8 192.9L280.8 193.1L281.8 194.1L282.8 193.4L283.8 193.2L284.8 193.3L285.8 193.7L286.8 194L287.8 192.8L288.8 193.3L289.8 193.8L290.8 192.7L291.8 193.3L292.8 193.3L293.8 192.9L294.8 192.6L295.8 193.2L296.8 193.5L297.8 193.1L298.8 192.8L299.8 193.6L300.8 192.9L301.8 194.2L302.8 194.2L303.8 193.3L304.8 192.9L305.8 193.2L306.8 193.6L307.8 193.1L308.8 193.3L309.8 193.3L310.8 192.3L311.8 193.9L312.8 193.5L313.8 193L314.8 193.3L315.8 193.7L316.8 193.3L317.8 193.5L318.8 194L319.8 193.1L320.8 193L321.8 192.8L322.8 193.6L323.8 193.6L324.8 193.2L325.8 193.7L326.8 192.8L327.8 193.6L328.8 194.5L329.8 194L330.8 193.2L331.8 193.9L332.8 193.4L333.8 193.4L334.8 192.8L335.8 193.9L336.8 193.7L337.8 193.1L338.8 193.6L339.8 193.3L340.8 193.7L341.8 192.5L342.8 193.4L343.8 193.5L344.8 193.7L345.8 193.6L346.8 193.3L347.8 194L348.8 193.4L349.8 193.4L350.8 192.9L351.8 193.6L352.8 194L353.8 193.6L354.8 193.2L355.8 193L356.8 193.9L357.8 193.8L358.8 193.2L359.8 193L360.8 193.4L361.8 193.5L362.8 193.1L363.8 192.8L364.8 193.6L365.8 192.8L366.8 194.4L367.8 193.6L368.8 193.2L369.8 192.8L370.8 193.1L371.8 193.7L372.8 193.7L373.8 193L374.8 192.9L375.8 193.1L376.8 192.9L377.8 194.2L378.8 193L379.8 192.9L380.8 192.9L381.8 192.7L382.8 193.1L383.8 193.8L384.8 193.2L385.8 193.4L386.8 193.2L387.8 193.7L388.8 194L389.8 192.9L390.8 192.8L391.8 193.7L392.8 193.2L393.8 192.4L394.8 193.3L395.8 193.2L396.8 193.8L397.8 193.6L398.8 193.1L399.8 193.3L400.8 192.9L401.8 192.7L402.8 193L403.8 193.2L404.8 193.6L405.8 193.1L406.8 193.3L407.8 193.4L408.8 193.3L409.8 194L410.8 193.7L411.8 194.1L412.8 193.6L413.8 194.4L414.8 193.8L415.8 193.6L416.8 194.4L417.8 193.7L418.8 193.5L419.8 193.4L420.8 193.5L421.8 193.8L422.8 193.6L423.8 193.5L424.8 193.9L425.8 193.1L426.8 192.9L427.8 194.4L428.8 193.6L429.8 193.6L430.8 194.2L431.8 193.9L432.8 193.2L433.8 193.5L434.8 193.2L435.8 192.6L436.8 193.7L437.8 193L438.8 193.2L439.8 193.3L440.8 193.8L441.8 193L442.8 192.8L443.8 193.7L444.8 193.4L445.8 192.9L446.8 193.2L447.8 193.3L448.8 193.4L449.8 193.4L450.8 193.2L451.8 192.7L452.8 193.7L453.8 193.8L454.8 193.6L455.8 192.1L456.8 193.8L457.8 193.4L458.8 193.3L459.8 193.1L460.8 194.3L461.8 193.5L462.8 193.6L463.8 192.7L464.8 194.1L465.8 193.7L466.8 193.1L467.8 193L468.8 193L469.8 192.8L470.8 193.9L471.8 193.3L472.8 193.7L473.8 194.1L474.8 193.2L475.8 192.5L476.8 193.4L477.8 192.8L478.8 193.2L479.8 193.7L480.8 193.1L481.8 192.9L482.8 192.9L483.8 193.3L484.8 194.5L485.8 193.2L486.8 193.3L487.8 193.1L488.8 193.1L489.8 193L490.8 193L491.8 193.2L492.8 193.1L493.8 193.2L494.8 193.4L495.8 193.4L496.8 193.5L497.8 193.4L498.8 193.8L499.8 193.6L500.8 193.1L501.8 192.8L502.8 193.1L503.8 193.5L504.8 192.8L505.8 192.7L506.8 193L507.8 192.8L508.8 192.5L509.8 192.4L510.3 192.2L510.8 191.7L511.3 192.5M525.3 192.6L525.8 192.9L526.3 193.5L526.8 193.2L527.8 193.9L528.8 192.9L529.8 193.1L530.8 193.3L531.8 193.1L532.8 192.4L533.8 193L534.8 193L535.8 193.3L536.8 193.6L537.8 193.5L538.8 193.1L539.8 193.6L540.8 193.2L541.8 194.5L542.8 193.2L543.8 193.1L544.8 193L545.8 193.8L546.8 192.7L547.8 193.3L548.8 193L549.8 193.1L550.8 193.4L551.8 193.2L552.8 193.6L553.8 193.8L554.8 192.7L555.8 194.6L556.8 194L557.8 193.1L558.8 193L559.8 193.6L560.8 193.1L561.8 193.7L562.8 193.4L563.8 193L564.8 192.5L565.8 193.4L566.8 193.8L567.8 193.6L568.8 192.9L569.8 193.1L570.8 193.6L571.8 193.8L572.8 193.2L573.8 193.4L574.8 192.9L575.8 192.8L576.8 193.2L577.8 193.4L578.8 193.7L579.8 193.4L580.8 192.5L581.8 194.2L582.8 193.1L583.8 193.2L584.8 193.3L585.8 192.5L586.8 194L587.8 193.1L588.8 193.6L589.8 193.8L590.8 193.9L591.8 192.5L592.8 193.1L593.8 193.8L594.8 192.8L595.8 193.2L596.8 192.8L597.8 193.2L598.8 193.7L599.8 193.5L600.8 193L601.8 193.9L602.8 194L603.8 193L604.8 193.3L605.8 193L606.8 193.5L607.8 192.7L608.3 192.9L608.8 192.4L609.3 192.3M624.3 191.4L624.8 192.2L625.3 192.8L625.8 193.1L626.8 193.3L627.8 192.8L628.8 192.3L629.8 193.7L630.8 193.1L631.8 193.8L632.8 193.2L633.8 193.1L634.8 193.6L635.8 193.5L636.8 193.6L637.8 193.4L638.8 193.1L639.8 193.8L640.8 193.7L641.8 194L642.8 193.1L643.8 193.1L644.8 193.2L645.8 192.9L646.8 193.6L647.8 192.7L648.8 193.5L649.8 193.5L650.8 193.7L651.8 194L652.8 192.5L653.8 193.3L654.8 193.4L655.8 193.6L656.8 193.6L657.8 193L658.8 193.5L659.8 193.8L660.8 193.5L661.8 193.1L662.8 194L663.8 193.4L664.8 192.8L665.8 192.6L666.8 193.2L667.8 192.6L668.8 193.6L669.8 193L670.8 193.5L671.8 193.6L672.8 193.2L673.8 193.1L674.8 192.9L675.8 193.1L676.8 193.1L677.8 193.1L678.8 194.1L679.8 193.7L680.8 193.7L681.8 193.7L682.8 193.3L683.8 193.4L684.8 193.6L685.8 193.2L686.8 193.6L687.8 192.7L688.8 193.7L689.8 193.9L690.8 193.2L691.8 193.8L692.8 194L693.8 193.5L694.8 193.7L695.8 193.3L696.8 193.8L697.8 194.1L698.8 193.3L699.8 193.1L700.8 193.2L701.8 193.8L702.8 193.3L703.8 192.7L704.8 193.2L705.8 192.4L706.8 194.1L707.8 192.9L708.8 192.9L709.8 193.1L710.8 193.2L711.3 193L711.8 193.1L712.3 193.1M728.3 192.2L728.8 192.2L729.3 192.6L729.8 192.6L730.8 193.1L731.8 192.7L732.8 192.7L733.8 194.2L734.8 193L735.8 192.8L736.8 193.2L737.8 193L738.8 193.2L739.8 193.8L740.8 193.2L741.8 193.9L742.8 193.1L743.8 193.2L744.8 193.5L745.8 193.6L746.8 192.7L747.8 193.6L748.8 193.2L749.8 193.2L750.8 193.2L751.8 193.8L752.8 193.2L753.8 193.3L754.8 193.1L755.8 193.2L756.8 194.1L757.8 193.3L758.8 194L759.8 193.2L760.8 193.8L761.8 193.7L762.8 193.6L763.8 193.9L764.8 193.4L765.8 192.9L766.8 193.4L767.8 193.7L768.8 192.8L769.8 193.9L770.8 193.3L771.8 193.7L772.8 192.8L773.8 192.8L774.8 194L775.8 193.9L776.8 193.5L777.8 192.6L778.8 193.7L779.8 193.3L780.8 193.5L781.8 194L782.8 193.9" fill="none" stroke="#5442b0" stroke-width="1.8" stroke-linejoin="round"/>
<path d="M13.8 193.3L14.8 193.2L15.8 193.8L16.8 193L17.8 193L18.8 193.3L19.8 193.7L20.8 193.6L21.8 193.2L22.8 193.7L23.8 193.2L24.8 192L25.8 193.5L26.8 192.6L27.8 193.6L28.8 193.1L29.8 194.2L30.8 194.1L31.8 193.6L32.8 193.1L33.8 192.8L34.8 193L35.8 193.4L36.8 194.1L37.8 194.4L38.8 193.7L39.8 194.2L40.8 193.9L41.8 193.1L42.8 193.8L43.8 194L44.8 193L45.8 194.4L46.8 192.4L47.8 192.8L48.8 193.5L49.8 193.4L50.8 193.7L51.8 194.1L52.8 193.4L53.8 193.7L54.8 194.1L55.8 193.1L56.8 193L57.8 192.7L58.8 192.8L59.8 193.8L60.8 193.6L61.8 193.1L62.8 193.4L63.8 193.6L64.8 192.7L65.8 193.1L66.8 192.9L67.8 194L68.8 192.8L69.8 192.7L70.8 194.5L71.8 192.5L72.8 192.9L73.8 193.6L74.8 193.5L75.8 193.9L76.8 193.5L77.8 194.1L78.8 192.4L79.8 193.6L80.8 193.8L81.8 192.7L82.8 193.3L83.8 194.2L84.8 193.6L85.8 192.8L86.8 194.3L87.8 193.4L88.8 193.6L89.8 193L90.8 193.5L91.8 193L92.8 193.9L93.8 193.9L94.8 192.4L95.8 194.5L96.8 193.5L97.8 193L98.8 193.6L99.8 194.1L100.8 193.7L101.8 193.6L102.8 193.6L103.8 193.3L104.8 193.6L105.8 193.4L106.8 193.8L107.8 193L108.8 193.5L109.8 192.6L110.8 192.6L111.8 193.9L112.8 192.7L113.8 192.8L114.8 194.6L115.8 193.8L116.8 194L117.8 193.5L118.8 193.4L119.8 193.6L120.8 193.3L121.8 194.3L122.8 193.3L123.8 193.2L124.8 193.2L125.8 193.3L126.8 192.6L127.8 193.8L128.8 193.2L129.8 193.4L130.8 193.5L131.8 192.5L132.8 192.5L133.8 192.7L134.8 193.4L135.8 193.4L136.8 193L137.8 193.3L138.8 193.6L139.8 193.8L140.8 193.4L141.8 193.8L142.8 193.6L143.8 193.6L144.8 192.4L145.8 194L146.8 193.5L147.8 193.1L148.8 193.9L149.8 194.2L150.8 193.5L151.8 193.9L152.8 193.8L153.8 193.5L154.8 194.3L155.8 193.4L156.8 194.8L157.8 193.1L158.8 194.1L159.8 192.3L160.8 194.4L161.8 193.5L162.8 193.3L163.8 193.8L164.8 193.7L165.8 193.3L166.8 193.8L167.8 193.5L168.8 192.7L169.8 194.3L170.8 192.6L171.8 193.6L172.8 193.3L173.8 193.4L174.8 194.4L175.8 193.2L176.8 193.3L177.8 193.3L178.8 192.8L179.8 193.8L180.8 192.5L181.8 192L182.8 193.4L183.8 194.5L184.8 193.1L185.8 193.9L186.8 194.2L187.8 193.9L188.8 193.6L189.8 192.9L190.8 193L191.8 193.7L192.8 194L193.8 193.3L194.8 194.6L195.8 193.6L196.8 193.1L197.8 193.5L198.8 193.3L199.8 192.1L200.8 192.6L201.8 193.6L202.8 193.2L203.8 193.4L204.8 194.3L205.8 194.3L206.8 193.4L207.8 192.9L208.8 194.3L209.8 193.1L210.8 194L211.8 192.7L212.8 193L213.8 193.5L214.8 193.1L215.8 192.7L216.8 192.4L217.8 193.8L218.8 193.5L219.8 193.1L220.8 193.1L221.8 194L222.8 193.3L223.8 193.3L224.8 193.2L225.8 193.1L226.8 192.9L227.8 194.1L228.8 193.7L229.8 193.6L230.8 193.4L231.8 194.1L232.8 194.1L233.8 192.5L234.8 193.7L235.8 192.3L236.8 194.1L237.8 193.1L238.8 193.8L239.8 193.5L240.8 193L241.8 193.4L242.8 193.5L243.8 192.6L244.8 192.4L245.8 193.6L246.8 193.5L247.8 193.3L248.8 193.3L249.8 192.4L250.8 193.1L251.8 194.1L252.8 193.2L253.8 193L254.8 193.3L255.8 193.5L256.8 193.6L257.8 191.7L258.8 193.6L259.8 193.4L260.8 193.3L261.8 193.3L262.8 193.6L263.8 193L264.8 193.4L265.8 194.4L266.8 194.6L267.8 193.6L268.8 193.5L269.8 193.9L270.8 194.6L271.8 193.7L272.8 193.3L273.8 194.6L274.8 193.5L275.8 193.2L276.8 192.3L277.8 193.3L278.8 192.3L279.8 193.2L280.8 194.2L281.8 193.5L282.8 193.4L283.8 193.9L284.8 193.4L285.8 193.2L286.8 193.6L287.8 193.6L288.8 193.6L289.8 193.3L290.8 193.6L291.8 194.5L292.8 192.5L293.8 193.7L294.8 192.9L295.8 193.6L296.8 194.2L297.8 193.5L298.8 193.9L299.8 193.6L300.8 193L301.8 194L302.8 193.6L303.8 193.7L304.8 193.2L305.8 193.9L306.8 193.1L307.8 193.7L308.8 193.5L309.8 193.5L310.8 193.2L311.8 193.1L312.8 193.2L313.8 193.7L314.8 193.4L315.8 193.6L316.8 193.4L317.8 193.9L318.8 192.6L319.8 193.7L320.8 193.4L321.8 193.5L322.8 194L323.8 192.9L324.8 192.6L325.8 192.9L326.8 193.8L327.8 193.5L328.8 193.2L329.8 192.5L330.8 194.2L331.8 192.8L332.8 192L333.8 192.6L334.8 193.1L335.8 193.7L336.8 192.7L337.8 193.5L338.8 193.1L339.8 194L340.8 192L341.8 193.6L342.8 193.1L343.8 193.2L344.8 192.9L345.8 191.9L346.8 193.1L347.8 193.8L348.8 192.8L349.8 192.8L350.8 193.1L351.8 194L352.8 193.4L353.8 192.5L354.8 194.3L355.8 192.9L356.8 194.1L357.8 193.6L358.8 193L359.8 193.8L360.8 193.5L361.8 192.9L362.8 192.7L363.8 192.3L364.8 192.9L365.8 193.4L366.8 193.3L367.8 193.4L368.8 192.2L369.8 194L370.8 192.9L371.8 193.3L372.8 192.4L373.8 191.9L374.8 193.6L375.8 192.9L376.8 194.3L377.8 193.9L378.8 193.2L379.8 193.4L380.8 193.2L381.8 192.6L382.8 193.9L383.8 192.7L384.8 193.3L385.8 193L386.8 193.2L387.8 193.3L388.8 193.3L389.8 193.9L390.8 192.8L391.8 192.9L392.8 193.2L393.8 193.4L394.8 193.5L395.8 193.7L396.8 193.9L397.8 193.2L398.8 192.9L399.8 192.8L400.8 192.7L401.8 193.2L402.8 193.7L403.8 193.2L404.8 193.9L405.8 193.2L406.8 193.8L407.8 192.8L408.8 193.7L409.8 193.4L410.8 193.1L411.8 194.2L412.8 192.7L413.8 193.4L414.8 194.1L415.8 194L416.8 192.8L417.8 192.4L418.8 193.8L419.8 193.9L420.8 193.8L421.8 193L422.8 193L423.8 192.8L424.8 193.7L425.8 192.8L426.8 193.4L427.8 193.7L428.8 193.7L429.8 192.9L430.8 193.7L431.8 193.2L432.8 193.2L433.8 193.1L434.8 192.5L435.8 194.2L436.8 193.9L437.8 193.1L438.8 194L439.8 193.5L440.8 192.7L441.8 193.7L442.8 194L443.8 192.7L444.8 193.1L445.8 194.2L446.8 193.7L447.8 193.4L448.8 192.9L449.8 192.8L450.8 192.8L451.8 193.4L452.8 193.3L453.8 193.4L454.8 192.8L455.8 193.5L456.8 193.4L457.8 193.3L458.8 193.3L459.8 192.8L460.8 192.1L461.8 193.3L462.8 193.7L463.8 193.3L464.8 192.7L465.8 193.6L466.8 192.8L467.8 193.5L468.8 194L469.8 193.1L470.8 193.5L471.8 193.5L472.8 193.1L473.8 193.3L474.8 193.2L475.8 193.1L476.8 193.5L477.8 192.5L478.8 192.7L479.8 192.8L480.8 194L481.8 193.3L482.8 194.1L483.8 192.9L484.8 192.9L485.8 193.2L486.8 192.8L487.8 193L488.8 193.9L489.8 193.5L490.8 193.9L491.8 192.8L492.8 194L493.8 192.8L494.8 192.9L495.8 192.9L496.8 193.8L497.8 194.1L498.8 194.3L499.8 193.1L500.8 192.8L501.8 193.1L502.8 193.3L503.8 194.2L504.8 193L505.8 192.7L506.8 192.6L507.8 192.2L508.8 193.1L509.8 192L510.3 193L510.8 193.3L511.3 191.8L511.8 192.7L512.3 191.5L512.8 190.2L513.3 190.1L513.8 188.6L514.3 187L514.8 185L515.3 182.3L515.8 180L516.3 178L516.8 176.8L517.3 176L517.8 177.4L518.3 176.3L518.8 177.6L519.3 176.8L519.8 176.4L520.3 179.1L520.8 180.9L521.3 183.3L521.8 185.3L522.3 187.1L522.8 189.3L523.3 191.2L523.8 191.1L524.3 191.6L524.8 191.7L525.3 192.2L525.8 191.9L526.3 192.6L526.8 192.7L527.8 192.2L528.8 192.9L529.8 193.8L530.8 192.4L531.8 193.4L532.8 192.9L533.8 194.1L534.8 193.4L535.8 192.8L536.8 192.7L537.8 192.4L538.8 193.9L539.8 193.4L540.8 193L541.8 193.2L542.8 192.8L543.8 193L544.8 192.8L545.8 193.4L546.8 194.2L547.8 192.8L548.8 192.8L549.8 193.2L550.8 192.9L551.8 192.9L552.8 193.5L553.8 193.4L554.8 193.4L555.8 194.1L556.8 193.8L557.8 193.9L558.8 193.7L559.8 193L560.8 193.4L561.8 192.6L562.8 193.3L563.8 192.9L564.8 193.3L565.8 194L566.8 193.9L567.8 193L568.8 192.7L569.8 194.1L570.8 192.9L571.8 193.4L572.8 192.6L573.8 192.8L574.8 193.2L575.8 192.4L576.8 193.8L577.8 192.7L578.8 192.7L579.8 193.8L580.8 193L581.8 193.6L582.8 193.4L583.8 193.8L584.8 192.7L585.8 193.7L586.8 193.9L587.8 193.3L588.8 192.5L589.8 193.2L590.8 194.2L591.8 193.4L592.8 194L593.8 193L594.8 193.5L595.8 193.1L596.8 193.2L597.8 194.1L598.8 193.6L599.8 194.4L600.8 192.8L601.8 193.6L602.8 192.3L603.8 192.8L604.8 192.8L605.8 192.9L606.8 192.4L607.8 192.9L608.3 193.8L608.8 193.3L609.3 192.4L609.8 192.6L610.3 191.9L610.8 190.3L611.3 190.5L611.8 188.3L612.3 185.8L612.8 182.5L613.3 177.6L613.8 174.9L614.3 174.1L614.8 176.7L615.3 180.3L615.8 184.1L616.3 186.4L616.8 188.1L617.3 186.1L617.8 186.1L618.3 182.8L618.8 178.4L619.3 175.8L619.8 173.9L620.3 175.9L620.8 180.2L621.3 183.7L621.8 186L622.3 188.3L622.8 190.6L623.3 190.8L623.8 193.1L624.3 192.2L624.8 191.2L625.3 191.2L625.8 191.4L626.8 192.6L627.8 192.3L628.8 193.6L629.8 193.5L630.8 192.6L631.8 194.1L632.8 194.1L633.8 193L634.8 193L635.8 193.7L636.8 192.9L637.8 193.6L638.8 194L639.8 193.4L640.8 192.9L641.8 193.7L642.8 194L643.8 194.3L644.8 192.7L645.8 193.1L646.8 193.9L647.8 193.7L648.8 194.3L649.8 194L650.8 193.6L651.8 193.4L652.8 193.1L653.8 193.2L654.8 193.6L655.8 193.6L656.8 193.3L657.8 193.7L658.8 192.4L659.8 193.6L660.8 194L661.8 194L662.8 193.1L663.8 192.7L664.8 192.8L665.8 194.5L666.8 194.3L667.8 193L668.8 193.5L669.8 193.7L670.8 194.3L671.8 193.7L672.8 193.7L673.8 193.6L674.8 193.5L675.8 192.6L676.8 193.3L677.8 193.2L678.8 193.4L679.8 193.7L680.8 193.9L681.8 193.6L682.8 193.9L683.8 193.2L684.8 193.3L685.8 193.1L686.8 193.5L687.8 193.3L688.8 193.2L689.8 193.2L690.8 193.1L691.8 193.8L692.8 193.2L693.8 193.4L694.8 194.3L695.8 193.2L696.8 192.8L697.8 193.5L698.8 194L699.8 193L700.8 194L701.8 193.9L702.8 194.1L703.8 193.6L704.8 193.4L705.8 193.7L706.8 193L707.8 193.2L708.8 193L709.8 192.7L710.8 192.9L711.3 194L711.8 192.7L712.3 191.6L712.8 191.4L713.3 191.3L713.8 190.9L714.3 189.1L714.8 187.9L715.3 186.2L715.8 183.8L716.3 180.3L716.8 177.7L717.3 179.4L717.8 179.5L718.3 182.9L718.8 185.3L719.3 187.4L719.8 188L720.3 188.5L720.8 190.2L721.3 187.5L721.8 185.3L722.3 183L722.8 181.1L723.3 180.3L723.8 179.3L724.3 179.7L724.8 181.8L725.3 184.8L725.8 187.4L726.3 189.4L726.8 190.8L727.3 192L727.8 191.2L728.3 191.4L728.8 192.8L729.3 192.7L729.8 193.3L730.8 192.6L731.8 193.5L732.8 193L733.8 192.5L734.8 192.8L735.8 193L736.8 193.1L737.8 193.4L738.8 192.5L739.8 193.7L740.8 193.2L741.8 192.9L742.8 193L743.8 193.3L744.8 193.4L745.8 194.3L746.8 193.6L747.8 194.5L748.8 193.8L749.8 193.3L750.8 193.3L751.8 193.8L752.8 193.3L753.8 193.8L754.8 193.7L755.8 194.1L756.8 193.7L757.8 193.6L758.8 193.8L759.8 192.2L760.8 193.3L761.8 192.6L762.8 193.4L763.8 192.8L764.8 194.8L765.8 193.7L766.8 191.9L767.8 193.3L768.8 193.4L769.8 192.2L770.8 193.9L771.8 193.3L772.8 193.1L773.8 194.1L774.8 193.2L775.8 193.7L776.8 194.2L777.8 192.6L778.8 192.2L779.8 192.6L780.8 193.5L781.8 193.4L782.8 193.6" fill="none" stroke="#5442b0" stroke-width="1.5" stroke-linejoin="round"/>
<path d="M13.8 231.6L14.8 231.8L15.8 231.4L16.8 232.8L17.8 231.9L18.8 231.5L19.8 231.1L20.8 231.3L21.8 231.8L22.8 231.7L23.8 231.8L24.8 232L25.8 231.6L26.8 231.6L27.8 231.8L28.8 232.2L29.8 231.2L30.8 231.9L31.8 231.5L32.8 230.7L33.8 231.9L34.8 231.9L35.8 231.5L36.8 232.1L37.8 231.7L38.8 230.9L39.8 231.2L40.8 231.8L41.8 232L42.8 230.9L43.8 231.6L44.8 230.9L45.8 231.1L46.8 231.2L47.8 231.3L48.8 231.9L49.8 231.2L50.8 232.3L51.8 232.1L52.8 231.8L53.8 231.8L54.8 231.9L55.8 231.6L56.8 232.2L57.8 231.1L58.8 232.1L59.8 232.4L60.8 231.1L61.8 231.8L62.8 231.7L63.8 231.3L64.8 231.6L65.8 232.5L66.8 231.2L67.8 232.5L68.8 232.4L69.8 231.9L70.8 231.1L71.8 231.4L72.8 231.6L73.8 231.5L74.8 231.1L75.8 231.8L76.8 231.7L77.8 230.9L78.8 231.4L79.8 231.2L80.8 231.4L81.8 231.6L82.8 231.9L83.8 232L84.8 231.5L85.8 231.6L86.8 231.2L87.8 231.5L88.8 231.4L89.8 231.1L90.8 232.4L91.8 232L92.8 231.4L93.8 231.9L94.8 232.3L95.8 231.6L96.8 231.9L97.8 231.4L98.8 230.9L99.8 230.6L100.8 232L101.8 231.1L102.8 232.3L103.8 231.3L104.8 231.3L105.8 231.3L106.8 230.9L107.8 232.1L108.8 231.4L109.8 231.7L110.8 232.6L111.8 231L112.8 231.7L113.8 231.7L114.8 231.9L115.8 232.4L116.8 231.7L117.8 232.1L118.8 231.8L119.8 231.6L120.8 232.3L121.8 231.1L122.8 232.6L123.8 230.7L124.8 231.4L125.8 231.8L126.8 232L127.8 231.3L128.8 231.8L129.8 231.4L130.8 231.9L131.8 231.7L132.8 231.9L133.8 231.5L134.8 231.8L135.8 231.3L136.8 231.7L137.8 231L138.8 231.2L139.8 232.6L140.8 232.2L141.8 231.8L142.8 231.6L143.8 231.8L144.8 231.9L145.8 231L146.8 231.6L147.8 232L148.8 231.7L149.8 231.9L150.8 231.3L151.8 231.4L152.8 231.2L153.8 231.7L154.8 232L155.8 232L156.8 231.5L157.8 231.7L158.8 231.3L159.8 232.2L160.8 231.3L161.8 231.6L162.8 231.5L163.8 231.2L164.8 231.7L165.8 232.5L166.8 231.2L167.8 231L168.8 231L169.8 230.6L170.8 231.7L171.8 232L172.8 232.4L173.8 231.9L174.8 232.2L175.8 232.1L176.8 231.3L177.8 231.5L178.8 231.7L179.8 231L180.8 232.1L181.8 231.8L182.8 231.5L183.8 232.5L184.8 231.2L185.8 231.1L186.8 231.3L187.8 231.8L188.8 231.1L189.8 231.4L190.8 231.9L191.8 231.6L192.8 231.7L193.8 231.4L194.8 230.9L195.8 230.8L196.8 231.3L197.8 231.6L198.8 231.4L199.8 231.8L200.8 231.4L201.8 231.7L202.8 232.2L203.8 232.1L204.8 231.4L205.8 232.5L206.8 232.8L207.8 231.4L208.8 231.2L209.8 231.7L210.8 232.4L211.8 231.5L212.8 231.5L213.8 231.2L214.8 232.4L215.8 231.5L216.8 232.1L217.8 231.9L218.8 231.8L219.8 232L220.8 232.1L221.8 231L222.8 231.1L223.8 231.4L224.8 231.8L225.8 231.7L226.8 231.8L227.8 231.6L228.8 232.2L229.8 231.9L230.8 232.1L231.8 231.7L232.8 232.2L233.8 231.1L234.8 231.7L235.8 231.7L236.8 231.1L237.8 231.5L238.8 231.5L239.8 232L240.8 231.4L241.8 231.5L242.8 231.1L243.8 231.4L244.8 231L245.8 231.4L246.8 231.9L247.8 232.3L248.8 230.5L249.8 231.2L250.8 232.4L251.8 231.7L252.8 230.9L253.8 232L254.8 231.4L255.8 231.3L256.8 231.5L257.8 231.7L258.8 231.7L259.8 231.9L260.8 231.5L261.8 231.3L262.8 231.2L263.8 231.5L264.8 231.8L265.8 231.8L266.8 232.8L267.8 231.9L268.8 232.1L269.8 231.7L270.8 232.3L271.8 232.4L272.8 231.8L273.8 231.7L274.8 231.1L275.8 231.8L276.8 231L277.8 232.2L278.8 231.4L279.8 231.8L280.8 231.5L281.8 231.6L282.8 231.1L283.8 231.5L284.8 231L285.8 232.5L286.8 231.4L287.8 231.9L288.8 232.6L289.8 231.7L290.8 232.2L291.8 231L292.8 231.3L293.8 231.8L294.8 231.6L295.8 232.1L296.8 232.6L297.8 232.1L298.8 231.9L299.8 231.1L300.8 231.7L301.8 231.5L302.8 231.6L303.8 230.8L304.8 232.4L305.8 231.7L306.8 231.2L307.8 231L308.8 231.2L309.8 231.6L310.8 232.6L311.8 231.7L312.8 231.1L313.8 231.8L314.8 231.6L315.8 232.4L316.8 231.3L317.8 231.3L318.8 231.2L319.8 231.9L320.8 231.1L321.8 232.1L322.8 232.6L323.8 232.3L324.8 232L325.8 231.5L326.8 231L327.8 231.3L328.8 231.4L329.8 231.6L330.8 231.2L331.8 231.9L332.8 231.6L333.8 231.2L334.8 232.5L335.8 232L336.8 231.8L337.8 231.7L338.8 231.9L339.8 231.1L340.8 232.2L341.8 232.1L342.8 232.1L343.8 231.5L344.8 232L345.8 232L346.8 232.3L347.8 232.2L348.8 231.7L349.8 231.5L350.8 231.6L351.8 231.4L352.8 231.7L353.8 231.4L354.8 231.9L355.8 231.5L356.8 231.7L357.8 232L358.8 232.4L359.8 231L360.8 232.4L361.8 231.6L362.8 231.7L363.8 231.2L364.8 231.3L365.8 231.3L366.8 231.8L367.8 231.7L368.8 231L369.8 231.6L370.8 231L371.8 231.5L372.8 231.3L373.8 232.2L374.8 231.7L375.8 231L376.8 230.9L377.8 231.5L378.8 231.4L379.8 231.9L380.8 231.7L381.8 231.8L382.8 231.2L383.8 231.3L384.8 231.4L385.8 231.3L386.8 232.1L387.8 232.1L388.8 231.6L389.8 232.1L390.8 232.2L391.8 231.3L392.8 231.1L393.8 231.9L394.8 231.1L395.8 231.2L396.8 232.5L397.8 231.3L398.8 231.3L399.8 231.5L400.8 231.7L401.8 232.2L402.8 231.8L403.8 231.8L404.8 232.3L405.8 231.7L406.8 231.4L407.8 231.3L408.8 232.2L409.8 231.8L410.8 231.9L411.8 231.8L412.8 231.6L413.8 231.9L414.8 232.3L415.8 231.5L416.8 232L417.8 231.1L418.8 231.4L419.8 232.5L420.8 231L421.8 232.1L422.8 231.6L423.8 231.7L424.8 232.8L425.8 231.7L426.8 231.5L427.8 231.3L428.8 231.2L429.8 232.3L430.8 232.3L431.8 231.6L432.8 232L433.8 232L434.8 231.2L435.8 231.7L436.8 232.4L437.8 232.3L438.8 231.8L439.8 231.4L440.8 231.3L441.8 230.8L442.8 231.8L443.8 231L444.8 232.5L445.8 231.6L446.8 231.1L447.8 232L448.8 232L449.8 232.3L450.8 230.6L451.8 231.6L452.8 230.7L453.8 231.4L454.8 232.1L455.8 231L456.8 230.8L457.8 231L458.8 231.2L459.8 232.2L460.8 231.4L461.8 231.5L462.8 231.3L463.8 231.3L464.8 231.7L465.8 231.8L466.8 231.5L467.8 231.8L468.8 231.8L469.8 231.3L470.8 231.9L471.8 232L472.8 231L473.8 231.8L474.8 232L475.8 231.2L476.8 231.4L477.8 231.8L478.8 231.3L479.8 231.6L480.8 231L481.8 231.1L482.8 231.6L483.8 230.9L484.8 231.8L485.8 231.2L486.8 231.5L487.8 231.8L488.8 232L489.8 231.1L490.8 231.9L491.8 231.8L492.8 231.5L493.8 231.8L494.8 231.6L495.8 231.3L496.8 231.1L497.8 231.7L498.8 231.5L499.8 231.4L500.8 230.8L501.8 231.3L502.8 231.5L503.8 231L504.8 232.3L505.8 231.6L506.8 231.3L507.8 231.3L508.8 230.2L509.8 230.3L510.3 230.9L510.8 230.1L511.3 231M525.3 230.8L525.8 230.5L526.3 231.1L526.8 230.2L527.8 230.9L528.8 231.2L529.8 231.2L530.8 231L531.8 231.6L532.8 231.8L533.8 231.3L534.8 231.7L535.8 231.2L536.8 231.4L537.8 231.5L538.8 231.4L539.8 231L540.8 231.8L541.8 231.6L542.8 231.4L543.8 232.3L544.8 231.8L545.8 230.3L546.8 231.5L547.8 231.6L548.8 231.8L549.8 231.4L550.8 231.9L551.8 231.5L552.8 231.6L553.8 231.7L554.8 231.4L555.8 231.6L556.8 231.3L557.8 232.1L558.8 231.5L559.8 231L560.8 232.8L561.8 231.6L562.8 231.8L563.8 231.3L564.8 231.5L565.8 231.2L566.8 232.2L567.8 230.8L568.8 231.9L569.8 231.3L570.8 231.7L571.8 231.3L572.8 231.8L573.8 231.5L574.8 231.4L575.8 231.8L576.8 231.7L577.8 232.2L578.8 232.4L579.8 231.9L580.8 231.6L581.8 231.7L582.8 231.5L583.8 232.5L584.8 231.3L585.8 231.8L586.8 231.8L587.8 231.4L588.8 231.6L589.8 231.3L590.8 230.6L591.8 231.8L592.8 231.1L593.8 231.5L594.8 231.3L595.8 231.8L596.8 231.1L597.8 231.8L598.8 231.8L599.8 232.2L600.8 231.5L601.8 231.2L602.8 232L603.8 231.4L604.8 231.1L605.8 230.2L606.8 231.7L607.8 230.5L608.3 230.7L608.8 230.5L609.3 230.3M624.8 230.2L625.3 230.4L625.8 231.5L626.3 230.9L627.3 230.4L628.3 230.9L629.3 231.8L630.3 231.6L631.3 231.4L632.3 231.6L633.3 231.6L634.3 231.6L635.3 231.7L636.3 231.6L637.3 231.6L638.3 231.3L639.3 231.5L640.3 230.4L641.3 231.3L642.3 231.8L643.3 231.4L644.3 230.8L645.3 231.1L646.3 231.7L647.3 231.1L648.3 231.1L649.3 231L650.3 232L651.3 232.5L652.3 231.7L653.3 231.8L654.3 232L655.3 231.8L656.3 231.7L657.3 231.6L658.3 231.2L659.3 231.3L660.3 231.4L661.3 231.4L662.3 232.1L663.3 230.4L664.3 231.2L665.3 232.1L666.3 232.3L667.3 231.1L668.3 232.4L669.3 231.6L670.3 231.2L671.3 232.1L672.3 231.8L673.3 231.5L674.3 232L675.3 231.3L676.3 231.9L677.3 231.1L678.3 231.7L679.3 230.9L680.3 230.9L681.3 232.5L682.3 231.2L683.3 231.5L684.3 232.2L685.3 231.6L686.3 231.1L687.3 231.5L688.3 231.7L689.3 231.1L690.3 231.9L691.3 231L692.3 231.6L693.3 231.7L694.3 232L695.3 232.2L696.3 231.6L697.3 231L698.3 231L699.3 231.1L700.3 231.1L701.3 231.9L702.3 232L703.3 231.7L704.3 231.6L705.3 231L706.3 231.5L707.3 230.9L708.3 230.9L709.3 230.8L710.3 230.4L710.8 230.7L711.3 231.1L711.8 230.9M728.3 230.3L728.8 230.8L729.3 230.5L730.3 230.7L731.3 231.6L732.3 231.1L733.3 230.9L734.3 232.3L735.3 231.6L736.3 231.1L737.3 231.6L738.3 232L739.3 230.9L740.3 231.3L741.3 232.1L742.3 231.2L743.3 230.9L744.3 231.6L745.3 232.2L746.3 230.8L747.3 231.9L748.3 232.2L749.3 231L750.3 231.3L751.3 231.6L752.3 231.3L753.3 231.6L754.3 231.9L755.3 231.8L756.3 231.2L757.3 232L758.3 232.3L759.3 231.9L760.3 232.1L761.3 231.4L762.3 231.7L763.3 231L764.3 231.9L765.3 231.5L766.3 230.8L767.3 231.3L768.3 230.6L769.3 231.4L770.3 231L771.3 231.5L772.3 231.6L773.3 231.6L774.3 231.1L775.3 231.9L776.3 231L777.3 231.3L778.3 231.7L779.3 231.9L780.3 232.7L781.3 231.9L782.3 232.1L783.3 232.1" fill="none" stroke="#36389e" stroke-width="1.8" stroke-linejoin="round"/>
<path d="M13.8 231.6L14.8 231.7L15.8 232L16.8 232L17.8 230.1L18.8 231.6L19.8 231.3L20.8 231.8L21.8 232.5L22.8 232.6L23.8 230.8L24.8 231.7L25.8 230.3L26.8 232.4L27.8 230.5L28.8 231.9L29.8 231.9L30.8 232.3L31.8 232.3L32.8 232.2L33.8 230.9L34.8 232.5L35.8 231.7L36.8 231.4L37.8 230.6L38.8 232.4L39.8 230.4L40.8 231.6L41.8 231.3L42.8 231.3L43.8 232.2L44.8 231.2L45.8 230.2L46.8 232L47.8 230.9L48.8 231.9L49.8 232.3L50.8 232.4L51.8 231.9L52.8 232.5L53.8 231.1L54.8 231.8L55.8 233.1L56.8 231.5L57.8 231.6L58.8 231.8L59.8 230.7L60.8 232.7L61.8 231.8L62.8 231.9L63.8 232L64.8 231.5L65.8 231.9L66.8 232.1L67.8 231.8L68.8 232.8L69.8 231.7L70.8 231.7L71.8 231.7L72.8 230.9L73.8 231.4L74.8 232L75.8 231.7L76.8 231.8L77.8 231.7L78.8 230.5L79.8 231.4L80.8 231.2L81.8 232.6L82.8 232.1L83.8 231.7L84.8 231.3L85.8 231L86.8 232.1L87.8 231.6L88.8 231.6L89.8 231.8L90.8 231.7L91.8 231L92.8 231.2L93.8 232.6L94.8 232L95.8 232L96.8 230.3L97.8 232.6L98.8 230.9L99.8 231.9L100.8 231.8L101.8 231.4L102.8 231.5L103.8 231L104.8 231.9L105.8 232.3L106.8 230.9L107.8 231.5L108.8 231.6L109.8 230.8L110.8 231.2L111.8 231L112.8 230.9L113.8 231.9L114.8 232.3L115.8 231.3L116.8 231.2L117.8 231.6L118.8 231.6L119.8 230.5L120.8 231.7L121.8 230.7L122.8 232.1L123.8 231.7L124.8 230.6L125.8 231.1L126.8 232.2L127.8 231.1L128.8 231.5L129.8 231.9L130.8 232.2L131.8 231.4L132.8 232.5L133.8 231.4L134.8 232.1L135.8 231.7L136.8 231.5L137.8 232.6L138.8 231.7L139.8 230.8L140.8 230.9L141.8 232.2L142.8 231.6L143.8 231.9L144.8 231.9L145.8 230.7L146.8 231.6L147.8 230.9L148.8 231.9L149.8 232.2L150.8 231.5L151.8 232.3L152.8 231.2L153.8 232L154.8 231.5L155.8 231.2L156.8 231.3L157.8 231.5L158.8 232.4L159.8 232.2L160.8 231.5L161.8 231L162.8 233.2L163.8 231.7L164.8 231.9L165.8 232.2L166.8 232.2L167.8 231.5L168.8 231.4L169.8 232.2L170.8 231.9L171.8 230.8L172.8 232.3L173.8 231.5L174.8 231.7L175.8 231.6L176.8 231.1L177.8 231L178.8 230.9L179.8 231.3L180.8 231.7L181.8 231.9L182.8 231.5L183.8 230.7L184.8 230.7L185.8 231L186.8 231.7L187.8 231.3L188.8 230.9L189.8 231.9L190.8 230.6L191.8 230.8L192.8 231.6L193.8 231.8L194.8 231.6L195.8 231.8L196.8 232L197.8 232.1L198.8 231.9L199.8 231.5L200.8 232L201.8 230.1L202.8 232L203.8 231.5L204.8 229.6L205.8 231.2L206.8 231.5L207.8 231.6L208.8 231.3L209.8 231.7L210.8 231.1L211.8 232.2L212.8 231.9L213.8 231.3L214.8 231.2L215.8 232.5L216.8 231.4L217.8 231.1L218.8 230.8L219.8 232L220.8 232.5L221.8 231.4L222.8 230.3L223.8 231.5L224.8 233.2L225.8 231.8L226.8 231.5L227.8 232.2L228.8 232.1L229.8 231.7L230.8 231.8L231.8 232.1L232.8 232.3L233.8 231.7L234.8 232.6L235.8 232L236.8 231.5L237.8 231.6L238.8 231.9L239.8 231.6L240.8 231.6L241.8 231.9L242.8 231L243.8 231.1L244.8 230.4L245.8 231.3L246.8 231.5L247.8 231L248.8 231.8L249.8 231.6L250.8 231.9L251.8 230.8L252.8 231L253.8 232L254.8 231.2L255.8 230.9L256.8 231.5L257.8 232L258.8 231.6L259.8 232L260.8 230.8L261.8 231.8L262.8 230.8L263.8 230.9L264.8 231.5L265.8 230.5L266.8 232.1L267.8 231.4L268.8 230.6L269.8 232.5L270.8 231.3L271.8 231.1L272.8 231L273.8 231.8L274.8 231.3L275.8 232.4L276.8 231.1L277.8 232L278.8 231.6L279.8 231.9L280.8 232.3L281.8 231.2L282.8 230.8L283.8 231.3L284.8 231.6L285.8 231.4L286.8 230.6L287.8 231.3L288.8 231.2L289.8 231.3L290.8 231.7L291.8 231.8L292.8 231.6L293.8 232.3L294.8 231.8L295.8 231.2L296.8 232.1L297.8 231.5L298.8 231L299.8 231.6L300.8 231.3L301.8 231.5L302.8 231.4L303.8 231.4L304.8 231.7L305.8 231.5L306.8 231.1L307.8 231.1L308.8 231.6L309.8 231.8L310.8 230.8L311.8 231.4L312.8 231.3L313.8 231.6L314.8 230.4L315.8 231.7L316.8 230.5L317.8 232.2L318.8 232L319.8 231L320.8 231.3L321.8 231.6L322.8 231.5L323.8 230.9L324.8 231.8L325.8 232L326.8 231.4L327.8 231.2L328.8 232.2L329.8 231.8L330.8 232.9L331.8 231.1L332.8 230.6L333.8 231L334.8 231.5L335.8 232.1L336.8 231.9L337.8 231.2L338.8 231.5L339.8 232.1L340.8 230.9L341.8 231L342.8 233.2L343.8 231.8L344.8 231.7L345.8 233.3L346.8 231.5L347.8 231.6L348.8 231.8L349.8 232L350.8 231.2L351.8 231.6L352.8 232L353.8 231.8L354.8 231.7L355.8 231.4L356.8 231.7L357.8 231.3L358.8 231.8L359.8 231L360.8 231.7L361.8 232.1L362.8 231.2L363.8 231.3L364.8 231.6L365.8 231.4L366.8 231.5L367.8 231.6L368.8 231L369.8 231.5L370.8 232L371.8 232.1L372.8 231L373.8 231.3L374.8 231.3L375.8 231.1L376.8 231.2L377.8 231.4L378.8 232.6L379.8 232.2L380.8 232L381.8 231.5L382.8 232.2L383.8 230.9L384.8 230.8L385.8 231.4L386.8 231.5L387.8 231.6L388.8 231.5L389.8 230.8L390.8 231.8L391.8 231.5L392.8 232.7L393.8 230.5L394.8 231L395.8 231.7L396.8 232.6L397.8 232.8L398.8 232.1L399.8 231.3L400.8 231.5L401.8 231.4L402.8 230.8L403.8 230.7L404.8 232.3L405.8 231.9L406.8 231.2L407.8 231.7L408.8 230.9L409.8 231.9L410.8 231.4L411.8 231.4L412.8 231.6L413.8 231.2L414.8 231.1L415.8 232.1L416.8 231.9L417.8 231.6L418.8 231.7L419.8 231.5L420.8 231.6L421.8 232L422.8 231.1L423.8 231.2L424.8 232.2L425.8 231.5L426.8 232.4L427.8 232.1L428.8 233.4L429.8 232L430.8 232.1L431.8 232.1L432.8 232L433.8 231.7L434.8 231.4L435.8 232.4L436.8 232.5L437.8 231.4L438.8 231.8L439.8 230.6L440.8 231.5L441.8 230.9L442.8 231.7L443.8 232.1L444.8 230.7L445.8 231.5L446.8 232.2L447.8 231.5L448.8 231.8L449.8 231.4L450.8 230.8L451.8 231.5L452.8 231.6L453.8 230.8L454.8 232.1L455.8 232.5L456.8 231.3L457.8 230.9L458.8 231.5L459.8 231.7L460.8 231.4L461.8 231.6L462.8 231.5L463.8 231.6L464.8 231.8L465.8 232.2L466.8 231.9L467.8 231.3L468.8 231.1L469.8 232.5L470.8 231.9L471.8 231.6L472.8 231.3L473.8 231.9L474.8 231.7L475.8 231L476.8 232.6L477.8 232.1L478.8 230.5L479.8 233.1L480.8 232L481.8 231.5L482.8 231.4L483.8 231.1L484.8 231.9L485.8 231.3L486.8 232L487.8 232.2L488.8 231.4L489.8 230.5L490.8 231.6L491.8 232L492.8 231.1L493.8 232.5L494.8 232.1L495.8 230.8L496.8 232.2L497.8 232.2L498.8 230.5L499.8 231.2L500.8 232.2L501.8 230.5L502.8 231.5L503.8 231.4L504.8 231.2L505.8 231.5L506.8 231.4L507.8 230.3L508.8 232.4L509.8 231.2L510.3 231.1L510.8 230.6L511.3 230.1L511.8 230L512.3 229.8L512.8 229.5L513.3 227.9L513.8 226.7L514.3 224L514.8 223.3L515.3 219.4L515.8 216.9L516.3 214.5L516.8 214.2L517.3 216.2L517.8 216.7L518.3 217.4L518.8 216.4L519.3 217L519.8 214.7L520.3 215L520.8 217L521.3 218.7L521.8 222.3L522.3 224.1L522.8 226.3L523.3 228.7L523.8 229.8L524.3 230L524.8 229.7L525.3 230.4L525.8 230.4L526.3 230.9L526.8 230.5L527.8 230.7L528.8 231L529.8 231.8L530.8 231.5L531.8 231.3L532.8 230.7L533.8 230.9L534.8 231.7L535.8 231.5L536.8 232.5L537.8 231.5L538.8 231.5L539.8 231.2L540.8 230.9L541.8 232.4L542.8 231.6L543.8 231.3L544.8 231.6L545.8 232.1L546.8 231.9L547.8 231.6L548.8 231.9L549.8 232.4L550.8 231.8L551.8 231.2L552.8 231.9L553.8 231.5L554.8 233L555.8 231L556.8 230.6L557.8 230.5L558.8 232L559.8 230.3L560.8 231L561.8 230.7L562.8 232L563.8 231.4L564.8 232.1L565.8 230.7L566.8 231.2L567.8 231.5L568.8 231.4L569.8 231L570.8 230.9L571.8 231.6L572.8 231.6L573.8 231.2L574.8 231.9L575.8 230.7L576.8 231.5L577.8 231.7L578.8 230.8L579.8 231.8L580.8 231.1L581.8 231.5L582.8 230.6L583.8 230.5L584.8 231.2L585.8 231.2L586.8 232.1L587.8 230.6L588.8 231.7L589.8 232L590.8 231.3L591.8 231.5L592.8 231.6L593.8 231.5L594.8 231L595.8 231.6L596.8 232.5L597.8 231.3L598.8 231.2L599.8 230.4L600.8 231.9L601.8 230.7L602.8 230.9L603.8 231L604.8 231.6L605.8 230.8L606.8 231.5L607.8 231L608.3 231L608.8 229.1L609.3 229.3L609.8 229.5L610.3 230.1L610.8 228L611.3 227.5L611.8 225L612.3 220.9L612.8 217.7L613.3 213.4L613.8 211.5L614.3 212.9L614.8 217.4L615.3 220.9L615.8 224.3L616.3 226.4L616.8 228.2L617.3 227.3L617.8 226.5L618.3 225.2L618.8 221L619.3 218L619.8 213.9L620.3 211L620.8 214.6L621.3 217.6L621.8 221.1L622.3 224.9L622.8 227.5L623.3 229L623.8 230.8L624.3 229.2L624.8 230.6L625.3 230.4L625.8 230.4L626.3 231L627.3 231.2L628.3 231.1L629.3 230.7L630.3 231.4L631.3 231L632.3 231.4L633.3 231.5L634.3 231L635.3 231.7L636.3 231.3L637.3 231.4L638.3 231.5L639.3 231.2L640.3 230.9L641.3 231.4L642.3 231.6L643.3 231.7L644.3 231.6L645.3 231.8L646.3 231.1L647.3 231.2L648.3 231.4L649.3 232L650.3 231.5L651.3 231.7L652.3 232.1L653.3 230.9L654.3 232.2L655.3 231.9L656.3 231.5L657.3 231.8L658.3 232.2L659.3 232.2L660.3 231L661.3 231.1L662.3 231.9L663.3 232L664.3 232.2L665.3 231.8L666.3 232.1L667.3 231.6L668.3 231.1L669.3 231.4L670.3 231.3L671.3 232.4L672.3 231.7L673.3 231.2L674.3 231.3L675.3 232.2L676.3 230.6L677.3 232.7L678.3 232.5L679.3 231.7L680.3 231.4L681.3 231.9L682.3 231.7L683.3 231.2L684.3 231.6L685.3 231.6L686.3 231L687.3 231.7L688.3 231.4L689.3 232.4L690.3 231.9L691.3 231.2L692.3 230.8L693.3 231.6L694.3 231.9L695.3 232.2L696.3 231.5L697.3 231L698.3 231.5L699.3 232.2L700.3 232.4L701.3 231.4L702.3 231.6L703.3 230.9L704.3 231.2L705.3 230.6L706.3 231.1L707.3 230.7L708.3 230.2L709.3 232L710.3 229.9L710.8 230.3L711.3 230.9L711.8 230.3L712.3 230.3L712.8 230.4L713.3 230L713.8 229L714.3 226.4L714.8 225.8L715.3 222.8L715.8 219.1L716.3 218.2L716.8 216.5L717.3 216.4L717.8 218L718.3 221.7L718.8 223.9L719.3 225.8L719.8 226.4L720.3 227.5L720.8 225.3L721.3 224.2L721.8 222L722.3 220.4L722.8 218.1L723.3 216.3L723.8 218.2L724.3 219.5L724.8 222.9L725.3 224.1L725.8 226L726.3 228.9L726.8 229.6L727.3 229.7L727.8 229.4L728.3 230.2L728.8 231.1L729.3 229.8L730.3 230.4L731.3 230.5L732.3 231.8L733.3 230.9L734.3 231.3L735.3 231.9L736.3 232L737.3 231.1L738.3 230.8L739.3 231.1L740.3 232L741.3 231.3L742.3 232.3L743.3 232.2L744.3 232.3L745.3 231.5L746.3 231.8L747.3 231.7L748.3 232.1L749.3 231.3L750.3 230.7L751.3 231.2L752.3 232.5L753.3 230.8L754.3 231.7L755.3 232.3L756.3 231.7L757.3 231.8L758.3 231.4L759.3 231.6L760.3 230.7L761.3 231.5L762.3 231.7L763.3 231.2L764.3 231.8L765.3 231.7L766.3 231.5L767.3 231.3L768.3 231.5L769.3 230.9L770.3 230.6L771.3 232.4L772.3 231.3L773.3 231L774.3 231.3L775.3 231.6L776.3 231.6L777.3 231.6L778.3 231.3L779.3 231.8L780.3 231.4L781.3 232.1L782.3 232.5L783.3 232.4" fill="none" stroke="#36389e" stroke-width="1.5" stroke-linejoin="round"/>
<path d="M13.8 270.8L14.8 270.8L15.8 270.7L16.8 270.3L17.8 269.8L18.8 270.8L19.8 269.8L20.8 270.2L21.8 270.7L22.8 270.1L23.8 270.9L24.8 269.9L25.8 269.7L26.8 270.8L27.8 270.1L28.8 270.2L29.8 270.9L30.8 270.7L31.8 270.4L32.8 270.4L33.8 270.8L34.8 270.3L35.8 270.9L36.8 270.9L37.8 270.5L38.8 270L39.8 269.9L40.8 270.6L41.8 270.6L42.8 270.5L43.8 270.9L44.8 270.8L45.8 269.4L46.8 270.8L47.8 270L48.8 270.6L49.8 270.4L50.8 270.8L51.8 269.7L52.8 270.8L53.8 270.3L54.8 270.6L55.8 269.7L56.8 270.4L57.8 269.8L58.8 270.2L59.8 270.4L60.8 270L61.8 270.8L62.8 269.8L63.8 270.9L64.8 270.7L65.8 270.7L66.8 270.7L67.8 270.7L68.8 270.7L69.8 270.5L70.8 270.4L71.8 270.1L72.8 270.5L73.8 270.2L74.8 270.8L75.8 270.8L76.8 270.6L77.8 270.1L78.8 270.8L79.8 271L80.8 271L81.8 270.4L82.8 271L83.8 271L84.8 269.6L85.8 269.9L86.8 270.4L87.8 270.7L88.8 269.7L89.8 269.9L90.8 270.7L91.8 270.5L92.8 270.3L93.8 270.4L94.8 270.6L95.8 270.8L96.8 270.6L97.8 271.4L98.8 269.9L99.8 270.9L100.8 270.9L101.8 271L102.8 270L103.8 271L104.8 270L105.8 269.9L106.8 270.4L107.8 270.3L108.8 270.5L109.8 269.7L110.8 270.3L111.8 270.4L112.8 269.7L113.8 271.1L114.8 270.5L115.8 270.3L116.8 269.6L117.8 269.9L118.8 270.6L119.8 271L120.8 270.3L121.8 270.4L122.8 270.6L123.8 269.9L124.8 271.2L125.8 270.7L126.8 270.7L127.8 270.9L128.8 270.6L129.8 270L130.8 270.1L131.8 270.2L132.8 270.2L133.8 270.7L134.8 270.2L135.8 271.2L136.8 270.7L137.8 270.6L138.8 270.1L139.8 270.6L140.8 270.3L141.8 270.3L142.8 270.5L143.8 270.4L144.8 270.9L145.8 270.3L146.8 270L147.8 270.6L148.8 270.1L149.8 270.5L150.8 270.6L151.8 269.7L152.8 270.4L153.8 270.6L154.8 270.9L155.8 270.7L156.8 271L157.8 271.4L158.8 270.5L159.8 270.7L160.8 270.4L161.8 270.1L162.8 270.2L163.8 269.7L164.8 270.7L165.8 270.9L166.8 271.3L167.8 270.8L168.8 270.6L169.8 269.9L170.8 270L171.8 269.7L172.8 271L173.8 270.3L174.8 270.1L175.8 271.3L176.8 271.2L177.8 271.1L178.8 270.1L179.8 270.4L180.8 270.2L181.8 270.2L182.8 270.3L183.8 269.9L184.8 271.2L185.8 270.6L186.8 269.9L187.8 270L188.8 270.2L189.8 270.2L190.8 270.7L191.8 271L192.8 270.7L193.8 270.6L194.8 270.7L195.8 270.7L196.8 270.2L197.8 270.4L198.8 270.5L199.8 270.1L200.8 270.5L201.8 270.3L202.8 270L203.8 270L204.8 270.5L205.8 270.2L206.8 270.9L207.8 270.7L208.8 271.1L209.8 271.4L210.8 270.5L211.8 270.6L212.8 270.8L213.8 270.8L214.8 269.9L215.8 268.8L216.8 270.1L217.8 270.9L218.8 269.2L219.8 269.8L220.8 270L221.8 269.8L222.8 270.7L223.8 271L224.8 271.1L225.8 271.1L226.8 269.4L227.8 270.1L228.8 271.1L229.8 270.6L230.8 270L231.8 270.5L232.8 270.1L233.8 270.1L234.8 270.5L235.8 270.4L236.8 270.2L237.8 269.8L238.8 269.9L239.8 271L240.8 270.1L241.8 270.4L242.8 270L243.8 271.1L244.8 270.1L245.8 270.4L246.8 270.3L247.8 269.8L248.8 270.3L249.8 270.5L250.8 270L251.8 269.8L252.8 270.2L253.8 270.4L254.8 270.4L255.8 270.9L256.8 270.9L257.8 269.7L258.8 270.6L259.8 270.1L260.8 270.8L261.8 269.9L262.8 270.5L263.8 271.1L264.8 270.2L265.8 270.2L266.8 270.3L267.8 270.1L268.8 271L269.8 271.2L270.8 269.5L271.8 270.1L272.8 270.5L273.8 270.5L274.8 270.4L275.8 270.4L276.8 271.1L277.8 270.3L278.8 270.2L279.8 270.8L280.8 270.6L281.8 270.7L282.8 271L283.8 271.5L284.8 271L285.8 271L286.8 270.9L287.8 271.1L288.8 270.5L289.8 270.3L290.8 270.1L291.8 270.6L292.8 270.1L293.8 270.3L294.8 269.9L295.8 270.3L296.8 270.7L297.8 270.2L298.8 270.6L299.8 270.2L300.8 270.6L301.8 270.6L302.8 270.4L303.8 269.6L304.8 270.5L305.8 270.4L306.8 269.5L307.8 270.1L308.8 270.2L309.8 270.2L310.8 270.1L311.8 270.8L312.8 270.5L313.8 270.3L314.8 269.7L315.8 269.2L316.8 270.1L317.8 271L318.8 269.9L319.8 269.8L320.8 270.4L321.8 269.6L322.8 271.2L323.8 271.3L324.8 269.7L325.8 270.6L326.8 270.3L327.8 271.2L328.8 270.3L329.8 271.1L330.8 270.4L331.8 270.3L332.8 270.9L333.8 270.2L334.8 269.9L335.8 270.4L336.8 269.5L337.8 270.8L338.8 269.8L339.8 269.9L340.8 269.4L341.8 269.9L342.8 270.8L343.8 270.4L344.8 271.3L345.8 270.3L346.8 270.4L347.8 270.2L348.8 271L349.8 270L350.8 270.7L351.8 270.8L352.8 270.6L353.8 271.2L354.8 269.9L355.8 270.7L356.8 271L357.8 270.1L358.8 271.1L359.8 269.9L360.8 271.3L361.8 270.9L362.8 270.2L363.8 271.1L364.8 270.3L365.8 269.8L366.8 269.5L367.8 270.2L368.8 270.9L369.8 271.3L370.8 270.3L371.8 270.1L372.8 270.4L373.8 270.2L374.8 270.4L375.8 270.3L376.8 270.7L377.8 269.9L378.8 270.3L379.8 270.8L380.8 270.1L381.8 270.6L382.8 270.5L383.8 270.7L384.8 270.5L385.8 270.3L386.8 270.9L387.8 271.5L388.8 270.8L389.8 270.2L390.8 270.9L391.8 270.3L392.8 270.6L393.8 270.2L394.8 270.6L395.8 270L396.8 269.4L397.8 269.6L398.8 270.3L399.8 270.1L400.8 269.5L401.8 270.5L402.8 270.6L403.8 269.6L404.8 270.5L405.8 269.8L406.8 270.8L407.8 270.8L408.8 270.6L409.8 270.3L410.8 270L411.8 269.8L412.8 271.2L413.8 270L414.8 270.7L415.8 270.6L416.8 270.9L417.8 269.9L418.8 270.2L419.8 270.4L420.8 269.5L421.8 270.4L422.8 270.5L423.8 270L424.8 270.2L425.8 270.5L426.8 270.1L427.8 271L428.8 269.8L429.8 270.2L430.8 269.8L431.8 269.9L432.8 270.5L433.8 270.2L434.8 270.8L435.8 270.7L436.8 270.7L437.8 270.2L438.8 270.9L439.8 270.4L440.8 270.1L441.8 270.4L442.8 271L443.8 270.5L444.8 270.3L445.8 270.1L446.8 270.8L447.8 271L448.8 270.1L449.8 269.6L450.8 270.7L451.8 270.5L452.8 270.2L453.8 270.7L454.8 270.3L455.8 270.6L456.8 269.8L457.8 270.6L458.8 270.5L459.8 270.8L460.8 270.8L461.8 271.2L462.8 270.7L463.8 271L464.8 269.6L465.8 270.3L466.8 270.8L467.8 270.9L468.8 270.6L469.8 270.7L470.8 271.6L471.8 270.5L472.8 270.5L473.8 270.4L474.8 269.9L475.8 270L476.8 270L477.8 269.1L478.8 270.9L479.8 270L480.8 270.5L481.8 270.3L482.8 269.9L483.8 269.7L484.8 270.6L485.8 270.6L486.8 269.9L487.8 270.2L488.8 270.2L489.8 269.8L490.8 269.9L491.8 270.6L492.8 270.2L493.8 270L494.8 269.6L495.8 270.4L496.8 270.6L497.8 269.2L498.8 270.1L499.8 270.4L500.8 270.3L501.8 270.6L502.8 270.1L503.8 270.4L504.8 270.2L505.8 270.3L506.3 269.5L506.8 269.5L507.3 269.5M524.8 269.3L525.3 269.7L525.8 269.1L526.3 269.6L527.3 270.2L528.3 269.1L529.3 270.2L530.3 270.4L531.3 270.6L532.3 269.7L533.3 270.2L534.3 270L535.3 270.2L536.3 270.4L537.3 270.6L538.3 270.7L539.3 270.9L540.3 270.2L541.3 270.5L542.3 270.5L543.3 270.3L544.3 271.3L545.3 271L546.3 270.3L547.3 270.4L548.3 270.2L549.3 270.2L550.3 270L551.3 269.8L552.3 269.7L553.3 270.7L554.3 270.7L555.3 270.2L556.3 270.8L557.3 270.2L558.3 270.7L559.3 269.8L560.3 270.4L561.3 270.5L562.3 270.6L563.3 269.9L564.3 271.3L565.3 270.2L566.3 270L567.3 270.6L568.3 270.2L569.3 270.4L570.3 270.8L571.3 271L572.3 271L573.3 270.4L574.3 270.8L575.3 270.3L576.3 270.9L577.3 269.8L578.3 270.3L579.3 269.7L580.3 270.7L581.3 270.3L582.3 270.7L583.3 270.3L584.3 270.7L585.3 270.3L586.3 270.2L587.3 270.9L588.3 270.8L589.3 270.9L590.3 270.3L591.3 270.5L592.3 270.6L593.3 270.2L594.3 270.8L595.3 270.3L596.3 270.2L597.3 269.8L598.3 270.4L599.3 270.3L600.3 269.5L601.3 270L602.3 269.8L603.3 270L604.3 269.7L605.3 269.8L606.3 270.6L607.3 269.3L608.3 269.9L608.8 269.4L609.3 269.1L609.8 269M627.8 269.2L628.3 269.4L628.8 270.1L629.3 269.6L630.3 269.9L631.3 270.2L632.3 269.3L633.3 270.7L634.3 270.2L635.3 270.9L636.3 270.3L637.3 271L638.3 270L639.3 270.5L640.3 270.6L641.3 270.3L642.3 270.5L643.3 270.5L644.3 270.5L645.3 271L646.3 270.4L647.3 271.1L648.3 269.8L649.3 269.5L650.3 271L651.3 269.7L652.3 270.5L653.3 270.2L654.3 269.8L655.3 270.3L656.3 270.8L657.3 270L658.3 270.3L659.3 270.8L660.3 270.2L661.3 270.4L662.3 270.6L663.3 271L664.3 270.9L665.3 269.8L666.3 270.3L667.3 270.3L668.3 269.5L669.3 270.1L670.3 270.4L671.3 270.4L672.3 270.5L673.3 270.5L674.3 270.2L675.3 271.2L676.3 270.2L677.3 270.1L678.3 269.8L679.3 270.4L680.3 269.7L681.3 270.2L682.3 270.5L683.3 270.6L684.3 270L685.3 269.8L686.3 269.9L687.3 269.9L688.3 269.7L689.3 270.6L690.3 269.5L691.3 270L692.3 270.2L693.3 270L694.3 270L695.3 270.1L696.3 271.7L697.3 270.6L698.3 269.1L699.3 269.9L700.3 269.5L701.3 270.5L702.3 270.8L703.3 270.1L704.3 270.3L705.3 270.3L705.8 269.4L706.3 269.7L706.8 268.7L707.3 269M724.8 269.5L725.3 269.6L725.8 269.1L726.3 269.5L727.3 269.6L728.3 269.6L729.3 271.3L730.3 270L731.3 270L732.3 270.4L733.3 270.3L734.3 270L735.3 270.3L736.3 270.8L737.3 270.6L738.3 270L739.3 270.4L740.3 269.9L741.3 270.1L742.3 270.7L743.3 270.7L744.3 270.7L745.3 270.2L746.3 271.1L747.3 269.8L748.3 270.1L749.3 270.4L750.3 271.1L751.3 270.4L752.3 270.1L753.3 270.3L754.3 270.7L755.3 269.6L756.3 270.5L757.3 270.6L758.3 269.8L759.3 270.8L760.3 270.6L761.3 270.9L762.3 270L763.3 270.4L764.3 270.4L765.3 270.5L766.3 270.1L767.3 270.4L768.3 270.7L769.3 270L770.3 270.4L771.3 270.9L772.3 269.7L773.3 270.3L774.3 270.5L775.3 270.4L776.3 270.4L777.3 270.6L778.3 270.4L779.3 270.5L780.3 270.4L781.3 269.9L782.3 270.8L783.3 269.9" fill="none" stroke="#2a5a9a" stroke-width="1.8" stroke-linejoin="round"/>
<path d="M13.8 270.2L14.8 271L15.8 271.1L16.8 270L17.8 269.9L18.8 271.5L19.8 271.1L20.8 270.8L21.8 270.8L22.8 271.1L23.8 271.1L24.8 270.6L25.8 269.7L26.8 269.5L27.8 269.5L28.8 270.6L29.8 270.7L30.8 270.1L31.8 271L32.8 271L33.8 270.5L34.8 270.3L35.8 270.7L36.8 269.8L37.8 270.5L38.8 271.2L39.8 269.9L40.8 270.5L41.8 269.6L42.8 269.8L43.8 271.6L44.8 270.4L45.8 270.9L46.8 270L47.8 270.7L48.8 270.7L49.8 270.4L50.8 271.5L51.8 270.9L52.8 270.2L53.8 270.6L54.8 269.9L55.8 270.4L56.8 271.8L57.8 269.4L58.8 270.1L59.8 270L60.8 271.2L61.8 271L62.8 269.8L63.8 270.8L64.8 270.8L65.8 270.1L66.8 269.8L67.8 270.9L68.8 271.2L69.8 271L70.8 271.4L71.8 271.3L72.8 269.8L73.8 270.4L74.8 270L75.8 270.7L76.8 270.2L77.8 269.9L78.8 270.9L79.8 270.5L80.8 270L81.8 270.4L82.8 269.9L83.8 269.9L84.8 271.2L85.8 270.4L86.8 270.2L87.8 270.3L88.8 270.7L89.8 269.8L90.8 269.7L91.8 270.3L92.8 269.3L93.8 269.2L94.8 270.1L95.8 270.7L96.8 270.3L97.8 269.9L98.8 270.5L99.8 270.5L100.8 270L101.8 270.3L102.8 270.4L103.8 270.5L104.8 269.4L105.8 270.6L106.8 269.4L107.8 270.2L108.8 270.2L109.8 269.9L110.8 270.3L111.8 270.3L112.8 270L113.8 270.7L114.8 270.7L115.8 270.7L116.8 269.6L117.8 270.5L118.8 269.9L119.8 270.9L120.8 269.5L121.8 270L122.8 270.4L123.8 270.3L124.8 269.3L125.8 270.1L126.8 270.5L127.8 270.4L128.8 269.9L129.8 270.7L130.8 269.9L131.8 271.1L132.8 270.9L133.8 270.5L134.8 270.5L135.8 270.1L136.8 271.2L137.8 270.1L138.8 271.4L139.8 270.5L140.8 270.2L141.8 270.9L142.8 270.3L143.8 269.7L144.8 271L145.8 269.4L146.8 271.4L147.8 269.9L148.8 270L149.8 270L150.8 270.6L151.8 269.6L152.8 270.8L153.8 270.5L154.8 271.2L155.8 270.1L156.8 270.7L157.8 270.9L158.8 271.6L159.8 269.9L160.8 270L161.8 271L162.8 269.3L163.8 269.8L164.8 270.7L165.8 270.6L166.8 270.3L167.8 270.5L168.8 270L169.8 270.2L170.8 270.5L171.8 270.9L172.8 269.3L173.8 270.8L174.8 269.3L175.8 270.5L176.8 270.1L177.8 269.5L178.8 270.8L179.8 271.2L180.8 270L181.8 270.9L182.8 270L183.8 270.3L184.8 271.2L185.8 270.3L186.8 270.3L187.8 270.6L188.8 269.6L189.8 270.6L190.8 270.9L191.8 271L192.8 270.1L193.8 270.8L194.8 270.1L195.8 270.5L196.8 270.4L197.8 269.6L198.8 271.4L199.8 270.4L200.8 270.6L201.8 270.5L202.8 269.8L203.8 270.1L204.8 269.8L205.8 270.4L206.8 270.3L207.8 269.7L208.8 269.3L209.8 270.7L210.8 271.4L211.8 270.8L212.8 269.3L213.8 270.8L214.8 270.6L215.8 270L216.8 270.5L217.8 270.1L218.8 270.4L219.8 271L220.8 269.7L221.8 271.1L222.8 270.6L223.8 269.2L224.8 270L225.8 270.2L226.8 271.5L227.8 269.7L228.8 270.9L229.8 270.5L230.8 270.8L231.8 270.1L232.8 271.1L233.8 270.8L234.8 269.7L235.8 270.5L236.8 270L237.8 270.9L238.8 270L239.8 270.4L240.8 270.2L241.8 270.2L242.8 270.1L243.8 270.6L244.8 270.5L245.8 271.1L246.8 270.6L247.8 270.6L248.8 270.4L249.8 270.3L250.8 271.9L251.8 270.2L252.8 270.4L253.8 270.9L254.8 270.3L255.8 271.5L256.8 270.6L257.8 270.3L258.8 269.6L259.8 270.6L260.8 269.9L261.8 270.1L262.8 270.8L263.8 269.7L264.8 270.1L265.8 270L266.8 271.2L267.8 270.8L268.8 271.1L269.8 270.9L270.8 270.5L271.8 269.7L272.8 270.8L273.8 270.5L274.8 270.2L275.8 270.1L276.8 270.8L277.8 271.2L278.8 270.1L279.8 269.4L280.8 270.9L281.8 270.4L282.8 270.9L283.8 269.6L284.8 270L285.8 269.8L286.8 271.9L287.8 270.4L288.8 270.4L289.8 270.1L290.8 270.5L291.8 271L292.8 269.7L293.8 270.4L294.8 271.2L295.8 270.4L296.8 270.3L297.8 270.7L298.8 270.1L299.8 270.4L300.8 269.5L301.8 270.1L302.8 270L303.8 270.3L304.8 270.4L305.8 270.3L306.8 271.2L307.8 269.8L308.8 270L309.8 269.7L310.8 270.7L311.8 270.8L312.8 270.9L313.8 269.3L314.8 269L315.8 270.7L316.8 270.8L317.8 270.8L318.8 270.4L319.8 270.7L320.8 270.4L321.8 271L322.8 270.5L323.8 270.3L324.8 270.9L325.8 270.7L326.8 270L327.8 269.4L328.8 270.7L329.8 270.9L330.8 270.3L331.8 270.7L332.8 271.4L333.8 270.5L334.8 269.2L335.8 271.6L336.8 271.1L337.8 269.7L338.8 271L339.8 269.5L340.8 270.5L341.8 271.3L342.8 270.6L343.8 270.3L344.8 270.2L345.8 271L346.8 270.1L347.8 269.2L348.8 270.1L349.8 270.6L350.8 269.6L351.8 270.6L352.8 270.4L353.8 270.4L354.8 270.4L355.8 270.9L356.8 270.2L357.8 270.7L358.8 269.9L359.8 270.9L360.8 269.8L361.8 271.9L362.8 270.4L363.8 270.9L364.8 270.6L365.8 269.6L366.8 269.8L367.8 270.6L368.8 271.4L369.8 270.4L370.8 270.9L371.8 270.4L372.8 270.1L373.8 270.2L374.8 270.3L375.8 271.1L376.8 270.2L377.8 270.5L378.8 270.2L379.8 270L380.8 270.6L381.8 271L382.8 270.4L383.8 270.9L384.8 270L385.8 270.3L386.8 270.2L387.8 270.4L388.8 270.1L389.8 271L390.8 270.5L391.8 271.4L392.8 270.3L393.8 270.8L394.8 270.9L395.8 270.4L396.8 270.8L397.8 269.9L398.8 270.2L399.8 270.2L400.8 270.8L401.8 269.6L402.8 271.1L403.8 269.7L404.8 270.7L405.8 270.4L406.8 269L407.8 271.4L408.8 270.7L409.8 270.3L410.8 270.4L411.8 270.6L412.8 270.4L413.8 271.2L414.8 270.9L415.8 270.9L416.8 270.3L417.8 271L418.8 270.4L419.8 269.8L420.8 270.2L421.8 271.5L422.8 270.3L423.8 269.9L424.8 271.4L425.8 269.5L426.8 270.9L427.8 270.1L428.8 270.9L429.8 270.1L430.8 270.3L431.8 270.3L432.8 270.8L433.8 270.1L434.8 270.1L435.8 270.7L436.8 269.2L437.8 270.3L438.8 269.6L439.8 271.2L440.8 270.3L441.8 270.9L442.8 270L443.8 270.7L444.8 270.4L445.8 269.9L446.8 270.1L447.8 269.9L448.8 271L449.8 270L450.8 270.9L451.8 271.3L452.8 270.6L453.8 269.7L454.8 270.2L455.8 270L456.8 269.4L457.8 271L458.8 269.8L459.8 270.6L460.8 271L461.8 270.1L462.8 270.4L463.8 270.7L464.8 271L465.8 269.6L466.8 269.9L467.8 271.2L468.8 269.8L469.8 270.9L470.8 270.9L471.8 270.8L472.8 270.7L473.8 270.1L474.8 269.9L475.8 270.4L476.8 270L477.8 269.7L478.8 270.7L479.8 270.5L480.8 271L481.8 269.6L482.8 270.4L483.8 270.6L484.8 270.3L485.8 269.3L486.8 270.8L487.8 269.7L488.8 270.3L489.8 270.1L490.8 269.3L491.8 270.8L492.8 270.6L493.8 269.9L494.8 270.3L495.8 270.4L496.8 269.8L497.8 270.6L498.8 269.9L499.8 268.8L500.8 270.6L501.8 269.9L502.8 270L503.8 270.1L504.8 268.8L505.8 269.8L506.3 269.7L506.8 269.1L507.3 269L507.8 269.2L508.3 268.6L508.8 269.1L509.3 268.3L509.8 267.6L510.3 267.8L510.8 266L511.3 264L511.8 260.5L512.3 258L512.8 253.3L513.3 248.2L513.8 245.8L514.3 246.2L514.8 247.6L515.3 249.2L515.8 250.6L516.3 250.5L516.8 247.5L517.3 247.1L517.8 246.2L518.3 246.1L518.8 249.7L519.3 254.4L519.8 258.2L520.3 262.2L520.8 264.2L521.3 265.9L521.8 266.9L522.3 267.9L522.8 267.7L523.3 268.1L523.8 269.1L524.3 268.7L524.8 269.4L525.3 269.4L525.8 269.3L526.3 269.5L527.3 270.5L528.3 269.1L529.3 269.3L530.3 269L531.3 269.9L532.3 270.2L533.3 269.9L534.3 270.8L535.3 269.9L536.3 269.8L537.3 270.4L538.3 269.8L539.3 271.8L540.3 270.3L541.3 269.4L542.3 271.4L543.3 270.5L544.3 269.7L545.3 270.1L546.3 270.3L547.3 269.8L548.3 270.4L549.3 270.3L550.3 269.8L551.3 271.8L552.3 270.7L553.3 269.8L554.3 269.5L555.3 271.1L556.3 270.8L557.3 269.2L558.3 270.1L559.3 270.1L560.3 269.6L561.3 270.4L562.3 269.7L563.3 270.3L564.3 269.6L565.3 270.7L566.3 270.7L567.3 271.3L568.3 269.1L569.3 270.2L570.3 269.7L571.3 270.4L572.3 270.5L573.3 271.2L574.3 270.5L575.3 270.6L576.3 271.6L577.3 270.6L578.3 269.7L579.3 269.7L580.3 270.7L581.3 270L582.3 270.9L583.3 271.3L584.3 270.1L585.3 271.3L586.3 270.1L587.3 270.9L588.3 269.8L589.3 270.7L590.3 270L591.3 270.6L592.3 269.8L593.3 270.6L594.3 270.5L595.3 270.3L596.3 269.7L597.3 269.9L598.3 270.8L599.3 270.4L600.3 271L601.3 271L602.3 269.6L603.3 269.6L604.3 270.5L605.3 270.5L606.3 269.9L607.3 269.7L608.3 269.7L608.8 269.4L609.3 269.8L609.8 269.3L610.3 269.5L610.8 268.8L611.3 268.9L611.8 268.2L612.3 267.5L612.8 265.7L613.3 264.4L613.8 259.4L614.3 253.7L614.8 246.2L615.3 241.3L615.8 240.1L616.3 244.7L616.8 252.5L617.3 258.3L617.8 262.1L618.3 264.3L618.8 265.3L619.3 264.5L619.8 262.7L620.3 258.3L620.8 252.8L621.3 245.5L621.8 237.6L622.3 236.4L622.8 241L623.3 250.2L623.8 255.3L624.3 260.5L624.8 265.2L625.3 266.2L625.8 268.1L626.3 268.4L626.8 269.7L627.3 269L627.8 269.7L628.3 269.4L628.8 269.5L629.3 270.5L630.3 269.7L631.3 270.4L632.3 270L633.3 271.3L634.3 270.4L635.3 270.9L636.3 270.2L637.3 270.1L638.3 270L639.3 270.8L640.3 270.3L641.3 270.4L642.3 270.5L643.3 270.4L644.3 270.4L645.3 269.8L646.3 270.9L647.3 270.6L648.3 270.6L649.3 270.5L650.3 270.2L651.3 269.7L652.3 270.2L653.3 271.4L654.3 270.3L655.3 271.5L656.3 270.6L657.3 270.3L658.3 270.1L659.3 270.8L660.3 270.1L661.3 269.6L662.3 271.5L663.3 270.2L664.3 270.6L665.3 271.2L666.3 270.4L667.3 271L668.3 270.4L669.3 270.1L670.3 269.8L671.3 270.2L672.3 270.9L673.3 270.4L674.3 269.7L675.3 270L676.3 269.7L677.3 270.6L678.3 270.7L679.3 270.9L680.3 269.2L681.3 269.7L682.3 270.1L683.3 270.7L684.3 270.6L685.3 269.5L686.3 270.5L687.3 269.7L688.3 270.5L689.3 270.2L690.3 270.7L691.3 270.3L692.3 271.6L693.3 269.5L694.3 270.2L695.3 270.6L696.3 270.2L697.3 270.4L698.3 270.2L699.3 271.1L700.3 270.5L701.3 270.1L702.3 269.4L703.3 270.5L704.3 269.7L705.3 268.6L705.8 268.6L706.3 270.3L706.8 268.4L707.3 268.6L707.8 268.6L708.3 269.3L708.8 268.2L709.3 268.7L709.8 267.4L710.3 264.2L710.8 263L711.3 259.5L711.8 253.9L712.3 250.2L712.8 247.2L713.3 247.3L713.8 250.7L714.3 254.9L714.8 258L715.3 260.4L715.8 263.1L716.3 263.7L716.8 262.3L717.3 258.4L717.8 255.3L718.3 251.3L718.8 247.9L719.3 248.1L719.8 249.2L720.3 253.5L720.8 258.2L721.3 261.7L721.8 264.6L722.3 266.3L722.8 267.8L723.3 268.4L723.8 268.8L724.3 269.3L724.8 269.5L725.3 269.6L725.8 269.7L726.3 269.4L727.3 269.4L728.3 269.5L729.3 270.1L730.3 271.1L731.3 270.1L732.3 270L733.3 270.4L734.3 270.7L735.3 270.6L736.3 269.7L737.3 269.7L738.3 269.9L739.3 270.9L740.3 270.3L741.3 269.4L742.3 270.2L743.3 270.3L744.3 270L745.3 270.8L746.3 270.8L747.3 269.6L748.3 270L749.3 269.8L750.3 269.6L751.3 270.3L752.3 270.2L753.3 270.4L754.3 270.6L755.3 269.9L756.3 270L757.3 269.3L758.3 270.4L759.3 270.5L760.3 270.3L761.3 270.7L762.3 271L763.3 270.2L764.3 269.8L765.3 270.6L766.3 269.4L767.3 269L768.3 270.4L769.3 270.9L770.3 270.3L771.3 270.8L772.3 270.3L773.3 270.8L774.3 269.4L775.3 269.9L776.3 271L777.3 269.9L778.3 270.2L779.3 270.9L780.3 270.6L781.3 270.4L782.3 270L783.3 271.1" fill="none" stroke="#2a5a9a" stroke-width="1.5" stroke-linejoin="round"/>
<path d="M13.8 310.2L14.8 310.1L15.8 310.3L16.8 309.8L17.8 309.4L18.8 309.8L19.8 309.9L20.8 310.2L21.8 310.6L22.8 309.7L23.8 309.6L24.8 309.2L25.8 310.3L26.8 309.8L27.8 309.8L28.8 309.6L29.8 309.5L30.8 310.6L31.8 309.3L32.8 309.5L33.8 309.7L34.8 310.1L35.8 310.1L36.8 308.7L37.8 309.5L38.8 310.2L39.8 310.2L40.8 310.1L41.8 310.7L42.8 310.2L43.8 309.7L44.8 310.2L45.8 310.1L46.8 309.9L47.8 310.3L48.8 309.7L49.8 309.7L50.8 309.9L51.8 311.1L52.8 310.3L53.8 309.9L54.8 309.5L55.8 310.2L56.8 310L57.8 310.2L58.8 310.6L59.8 309.7L60.8 310.3L61.8 310.3L62.8 308.9L63.8 308.9L64.8 309.4L65.8 309.6L66.8 309.5L67.8 310.2L68.8 309.2L69.8 309.6L70.8 309.7L71.8 309.5L72.8 310.4L73.8 310.6L74.8 309.5L75.8 310.1L76.8 310.1L77.8 309.3L78.8 309.2L79.8 309.8L80.8 309.5L81.8 309.3L82.8 309.5L83.8 309.5L84.8 309.1L85.8 309.7L86.8 309.5L87.8 309.9L88.8 309.8L89.8 310.1L90.8 309.9L91.8 310L92.8 310L93.8 310L94.8 310.1L95.8 308.9L96.8 310.1L97.8 309.7L98.8 309.4L99.8 310L100.8 309.8L101.8 309.5L102.8 309.5L103.8 310.2L104.8 310L105.8 310.6L106.8 309.9L107.8 309.8L108.8 309.3L109.8 310.3L110.8 310.3L111.8 310.1L112.8 309.4L113.8 308.9L114.8 309.9L115.8 310.8L116.8 310.2L117.8 309.4L118.8 309.8L119.8 309L120.8 310.2L121.8 309.8L122.8 310.5L123.8 309.9L124.8 310.2L125.8 309.3L126.8 309.8L127.8 309.5L128.8 309.3L129.8 309.8L130.8 309.6L131.8 310.9L132.8 311L133.8 310.4L134.8 310.5L135.8 309.9L136.8 310.5L137.8 309.9L138.8 309.5L139.8 309.7L140.8 309L141.8 310.3L142.8 310.5L143.8 310.4L144.8 309.9L145.8 310.4L146.8 309.9L147.8 310.2L148.8 309.7L149.8 310.2L150.8 309.9L151.8 309.6L152.8 310.7L153.8 310.1L154.8 310.4L155.8 309.3L156.8 309L157.8 310.3L158.8 309.9L159.8 309.6L160.8 309.1L161.8 309.6L162.8 310.1L163.8 309.9L164.8 310.3L165.8 309.1L166.8 310L167.8 310.2L168.8 309.9L169.8 309.1L170.8 309.9L171.8 309.6L172.8 309.6L173.8 309.7L174.8 309.9L175.8 310.7L176.8 310.1L177.8 310.1L178.8 309.6L179.8 309.6L180.8 310L181.8 310L182.8 309.6L183.8 310.2L184.8 309.5L185.8 309.6L186.8 310L187.8 309.6L188.8 309.7L189.8 309.5L190.8 309.4L191.8 310.3L192.8 310.5L193.8 308.6L194.8 310L195.8 309.9L196.8 309.4L197.8 309.8L198.8 310.7L199.8 309.1L200.8 309.7L201.8 310.1L202.8 309.3L203.8 309.6L204.8 310.4L205.8 309.9L206.8 310.2L207.8 310.9L208.8 310.1L209.8 310.2L210.8 309L211.8 309.9L212.8 309.6L213.8 309.8L214.8 309.8L215.8 310.1L216.8 310.2L217.8 309.8L218.8 309.5L219.8 309.9L220.8 308.8L221.8 309.7L222.8 310.4L223.8 309.2L224.8 310.2L225.8 310L226.8 310.7L227.8 309.1L228.8 309.6L229.8 309.9L230.8 309.9L231.8 310L232.8 310L233.8 310.2L234.8 309.7L235.8 309.7L236.8 310.5L237.8 310.3L238.8 309L239.8 310L240.8 310.6L241.8 309.5L242.8 310.3L243.8 309.4L244.8 310.1L245.8 310.8L246.8 310.1L247.8 309.8L248.8 310L249.8 310.1L250.8 309.6L251.8 310.2L252.8 310.1L253.8 310L254.8 309.6L255.8 309.4L256.8 310.5L257.8 309.5L258.8 309.7L259.8 310.8L260.8 310.6L261.8 310.1L262.8 309.7L263.8 309.6L264.8 309.4L265.8 308.6L266.8 310L267.8 310L268.8 310.6L269.8 308.3L270.8 309.9L271.8 310.1L272.8 310L273.8 310.2L274.8 309.2L275.8 309.8L276.8 309.7L277.8 308.8L278.8 310.7L279.8 309.8L280.8 308.5L281.8 309.2L282.8 309.4L283.8 309.5L284.8 308.9L285.8 309.3L286.8 310.1L287.8 309.8L288.8 310L289.8 309.7L290.8 310.3L291.8 309.1L292.8 309.7L293.8 310.7L294.8 309.9L295.8 309.9L296.8 310.2L297.8 310L298.8 310.2L299.8 310.4L300.8 310.2L301.8 309.5L302.8 309.9L303.8 310L304.8 310L305.8 310.1L306.8 309.8L307.8 310.4L308.8 309.1L309.8 310.1L310.8 309L311.8 309.1L312.8 309.6L313.8 310.1L314.8 309.9L315.8 310.3L316.8 309.9L317.8 309.4L318.8 309.4L319.8 308.9L320.8 310.1L321.8 310.2L322.8 309.6L323.8 309.9L324.8 310.5L325.8 309.3L326.8 309.8L327.8 309.7L328.8 309.4L329.8 308.9L330.8 310.3L331.8 309.2L332.8 309.5L333.8 309.8L334.8 309.6L335.8 310L336.8 310L337.8 310L338.8 309.3L339.8 309.6L340.8 309.9L341.8 309.5L342.8 309.4L343.8 310.1L344.8 309.9L345.8 309.2L346.8 309.9L347.8 309.6L348.8 309.8L349.8 309.3L350.8 310.7L351.8 310L352.8 310.3L353.8 309.9L354.8 309.4L355.8 310L356.8 309.9L357.8 310.5L358.8 310L359.8 310.6L360.8 309.9L361.8 309.4L362.8 309.7L363.8 310.3L364.8 310L365.8 309.9L366.8 309.6L367.8 310.6L368.8 310L369.8 310.1L370.8 310.3L371.8 309.8L372.8 309.8L373.8 310.2L374.8 309.7L375.8 309.3L376.8 310.9L377.8 310.4L378.8 310.3L379.8 309.2L380.8 309.7L381.8 310L382.8 309.7L383.8 309.2L384.8 310.1L385.8 310.2L386.8 310.5L387.8 309.9L388.8 310L389.8 309.7L390.8 309.6L391.8 310L392.8 310.4L393.8 308.8L394.8 309.3L395.8 309.9L396.8 310.2L397.8 309.6L398.8 310L399.8 309.2L400.8 310L401.8 309.7L402.8 309.1L403.8 310.3L404.8 309.9L405.8 309.1L406.8 309.9L407.8 309.9L408.8 309.3L409.8 310.2L410.8 309.7L411.8 310.2L412.8 310.4L413.8 309.9L414.8 309.5L415.8 310.1L416.8 310.2L417.8 309.4L418.8 309.5L419.8 310.2L420.8 309.8L421.8 309.3L422.8 309.6L423.8 309.8L424.8 309.2L425.8 309.6L426.8 309.6L427.8 309.7L428.8 310.2L429.8 309.4L430.8 310L431.8 309.8L432.8 309.8L433.8 310.2L434.8 310L435.8 309L436.8 309.5L437.8 309.3L438.8 309.9L439.8 310L440.8 309.6L441.8 309.8L442.8 309.4L443.8 309.6L444.8 309.6L445.8 309.9L446.8 309.7L447.8 309.5L448.8 309.6L449.8 309.3L450.8 310.1L451.8 309.9L452.8 309.1L453.8 310.1L454.8 309.6L455.8 309.8L456.8 309.5L457.8 309.6L458.8 309.9L459.8 309L460.8 308.8L461.8 309.6L462.8 309.9L463.8 309.1L464.8 309.7L465.8 309.2L466.8 309.4L467.8 309.8L468.8 310.5L469.8 309.6L470.8 310.1L471.8 309.8L472.8 310.3L473.8 309.4L474.8 309.4L475.8 310.1L476.8 309.1L477.8 309.8L478.8 309.9L479.8 310.4L480.8 309.5L481.8 309.9L482.8 310.4L483.8 310.7L484.8 309.6L485.8 309.7L486.8 309.1L487.8 310L488.8 310.1L489.8 309.5L490.8 310.2L491.8 309.7L492.8 309.8L493.8 309.6L494.8 310.3L495.8 309.2L496.8 309L497.8 309.6L498.8 310.3L499.8 309.4L500.8 308.6L501.3 308.4L501.8 308.7L502.3 308.7L502.8 308.6M521.3 309.6L521.8 309.6L522.3 309.7L522.8 309L523.8 309.2L524.8 309L525.8 309.2L526.8 309.8L527.8 309.2L528.8 309.9L529.8 309.5L530.8 309.1L531.8 309.8L532.8 309.9L533.8 309.7L534.8 309.9L535.8 309.2L536.8 309.6L537.8 309.2L538.8 309.7L539.8 309.8L540.8 309.9L541.8 310L542.8 309.3L543.8 309.7L544.8 309.5L545.8 310L546.8 309.9L547.8 308.7L548.8 310.1L549.8 309.7L550.8 310L551.8 309.1L552.8 309.5L553.8 309.9L554.8 309.3L555.8 310.2L556.8 309.8L557.8 310.2L558.8 310.3L559.8 309.4L560.8 309L561.8 309.8L562.8 309.7L563.8 309.6L564.8 309.6L565.8 309.8L566.8 309.7L567.8 309.3L568.8 310.5L569.8 309.4L570.8 310.2L571.8 310L572.8 309.6L573.8 310.4L574.8 310L575.8 309.7L576.8 310.1L577.8 309.1L578.8 309.8L579.8 309.1L580.8 310L581.8 310.4L582.8 310.2L583.8 309.7L584.8 309.6L585.8 310L586.8 309.7L587.8 309.2L588.8 309.8L589.8 309.9L590.8 309.7L591.8 309.3L592.8 309.4L593.8 310.2L594.8 310.1L595.8 309.2L596.8 309.6L597.8 309.4L598.8 310.1L599.8 309.5L600.8 309.8L601.8 309L602.8 308.9L603.8 309.9L604.8 309.8L605.8 309.5L606.8 308.7L607.8 308.8L608.8 309.2L609.8 308.7L610.3 309.1L610.8 308.7L611.3 309.3L611.8 309.4M630.3 308.3L630.8 308.8L631.3 308.4L631.8 309.5L632.8 309.9L633.8 309.5L634.8 309.1L635.8 309.8L636.8 310.1L637.8 310.1L638.8 309.6L639.8 309.8L640.8 309.6L641.8 309.8L642.8 310.1L643.8 308.8L644.8 309.7L645.8 309.2L646.8 309.2L647.8 309.9L648.8 310.4L649.8 308.9L650.8 309.8L651.8 308.3L652.8 310.4L653.8 309.5L654.8 309.9L655.8 309.2L656.8 309.6L657.8 309.5L658.8 309.4L659.8 309.2L660.8 310.1L661.8 309.4L662.8 309.3L663.8 309.3L664.8 309.6L665.8 309.8L666.8 309.2L667.8 309.8L668.8 309.4L669.8 310.3L670.8 309.9L671.8 309.6L672.8 309.4L673.8 309.2L674.8 310.3L675.8 309.4L676.8 309.2L677.8 310.2L678.8 309.6L679.8 309.9L680.8 309.5L681.8 309.2L682.8 310.2L683.8 308.8L684.8 309L685.8 309.5L686.8 308.9L687.8 309.6L688.8 309.3L689.8 310L690.8 310.7L691.8 310.1L692.8 309.5L693.8 308.7L694.8 309.6L695.8 309.3L696.8 310.1L697.8 309.1L698.8 308.8L699.8 308.3L700.8 309.6L701.3 308.2L701.8 309L702.3 309.4M720.8 308.6L721.3 309.2L721.8 308.9L722.3 308.6L723.3 309.4L724.3 308.7L725.3 309.7L726.3 310L727.3 309.8L728.3 309.1L729.3 309.8L730.3 309.3L731.3 309.3L732.3 309.5L733.3 309.6L734.3 310L735.3 310.5L736.3 310.1L737.3 309.6L738.3 310.3L739.3 310.1L740.3 310.5L741.3 309.7L742.3 309L743.3 309.4L744.3 310.3L745.3 310.7L746.3 310.1L747.3 310L748.3 310.4L749.3 308.8L750.3 310.3L751.3 309.7L752.3 310.1L753.3 309.4L754.3 309.5L755.3 309.8L756.3 309.9L757.3 309.5L758.3 310.1L759.3 309.5L760.3 309.3L761.3 309.8L762.3 309.2L763.3 310L764.3 309.6L765.3 310.6L766.3 309.9L767.3 309.4L768.3 309.4L769.3 309.5L770.3 309.9L771.3 309.3L772.3 310L773.3 309.1L774.3 309.6L775.3 309.9L776.3 309.6L777.3 310.1L778.3 310L779.3 309.9L780.3 309.4L781.3 309.6L782.3 308.7L783.3 309.6" fill="none" stroke="#289898" stroke-width="1.8" stroke-linejoin="round"/>
<path d="M13.8 310.2L14.8 309.4L15.8 310.1L16.8 310.7L17.8 310L18.8 309.9L19.8 309.7L20.8 310.3L21.8 310.2L22.8 309L23.8 309.8L24.8 309.6L25.8 309.6L26.8 309.6L27.8 310L28.8 309.3L29.8 310.4L30.8 309.1L31.8 309.9L32.8 308.9L33.8 309.1L34.8 310.3L35.8 309.6L36.8 309.6L37.8 310.2L38.8 309.3L39.8 309.8L40.8 310.3L41.8 309.7L42.8 309.3L43.8 310.8L44.8 309.5L45.8 310.4L46.8 309.5L47.8 309L48.8 310.4L49.8 310.1L50.8 309.8L51.8 309.7L52.8 309.6L53.8 309.3L54.8 309.8L55.8 310.3L56.8 310.5L57.8 309.3L58.8 310L59.8 308.5L60.8 309.9L61.8 309.2L62.8 310L63.8 311.1L64.8 309.3L65.8 310.1L66.8 309.8L67.8 310.1L68.8 310.7L69.8 309.4L70.8 309.6L71.8 310.1L72.8 309.5L73.8 310.5L74.8 310.9L75.8 310.5L76.8 309.8L77.8 309.5L78.8 309.7L79.8 309.6L80.8 309.3L81.8 308.7L82.8 309.8L83.8 309.9L84.8 309.5L85.8 310.7L86.8 310.3L87.8 309.2L88.8 309.6L89.8 310.1L90.8 310.2L91.8 308.8L92.8 310.6L93.8 310.4L94.8 310.1L95.8 309L96.8 309.8L97.8 310.1L98.8 309.5L99.8 310L100.8 310.2L101.8 310.5L102.8 310.4L103.8 310.6L104.8 309.3L105.8 309.3L106.8 310.4L107.8 310L108.8 309.6L109.8 309.8L110.8 310L111.8 310.4L112.8 309.3L113.8 309.6L114.8 309L115.8 310.5L116.8 309.9L117.8 310L118.8 310.3L119.8 310.1L120.8 309.6L121.8 309.7L122.8 310.3L123.8 310.6L124.8 309.5L125.8 309.5L126.8 309.4L127.8 309.4L128.8 310.3L129.8 309.2L130.8 310.2L131.8 309.3L132.8 309.6L133.8 309.4L134.8 309.2L135.8 310.1L136.8 309.5L137.8 310.6L138.8 310L139.8 310.2L140.8 310.1L141.8 310.1L142.8 309.9L143.8 309.4L144.8 309.9L145.8 310.1L146.8 308.9L147.8 309.8L148.8 309.8L149.8 310L150.8 309.5L151.8 309.8L152.8 309.9L153.8 309.6L154.8 310.1L155.8 309.7L156.8 310.2L157.8 310L158.8 310.2L159.8 309.7L160.8 310.3L161.8 309.2L162.8 309.7L163.8 309.7L164.8 309.5L165.8 310.3L166.8 310.4L167.8 309.9L168.8 310.1L169.8 310.1L170.8 310.1L171.8 309.3L172.8 310.1L173.8 309.3L174.8 309.5L175.8 310.5L176.8 309.8L177.8 309.3L178.8 310.1L179.8 310.2L180.8 309.9L181.8 309.9L182.8 310.1L183.8 310L184.8 310.4L185.8 309.6L186.8 309.1L187.8 310.9L188.8 309.7L189.8 309.8L190.8 310.9L191.8 310.2L192.8 309.9L193.8 308.9L194.8 310.2L195.8 309.8L196.8 309.4L197.8 309.4L198.8 310.2L199.8 309.7L200.8 310.3L201.8 309.3L202.8 308.8L203.8 310.8L204.8 310.1L205.8 309.2L206.8 310.5L207.8 310.6L208.8 310.9L209.8 309.5L210.8 309.5L211.8 309.1L212.8 309.8L213.8 310.4L214.8 309.4L215.8 309.8L216.8 309.8L217.8 309.6L218.8 310.1L219.8 309.9L220.8 310.4L221.8 310.5L222.8 309.9L223.8 310.1L224.8 309.7L225.8 309.7L226.8 310.3L227.8 309.5L228.8 309.4L229.8 310.4L230.8 310.5L231.8 309.1L232.8 309.5L233.8 309L234.8 309.3L235.8 310.3L236.8 309.4L237.8 309.7L238.8 309.8L239.8 309.7L240.8 309.8L241.8 308.9L242.8 310.2L243.8 310.3L244.8 310L245.8 310.8L246.8 310.1L247.8 310.2L248.8 310L249.8 309.9L250.8 309.8L251.8 310.4L252.8 309.4L253.8 309.4L254.8 309.5L255.8 310.1L256.8 310.2L257.8 309.7L258.8 310L259.8 309L260.8 309.6L261.8 310.3L262.8 310.1L263.8 310.2L264.8 310L265.8 309.9L266.8 309.5L267.8 309.9L268.8 310.1L269.8 309.6L270.8 310.1L271.8 309.8L272.8 310.7L273.8 309.3L274.8 309.5L275.8 309.3L276.8 309.1L277.8 310.1L278.8 310.5L279.8 309.7L280.8 309.7L281.8 309.9L282.8 309.7L283.8 309.4L284.8 309.3L285.8 310.5L286.8 310.3L287.8 309.7L288.8 309.9L289.8 310L290.8 309.8L291.8 309.4L292.8 308.7L293.8 310.3L294.8 309.5L295.8 309.4L296.8 309.7L297.8 310.3L298.8 309.9L299.8 309.7L300.8 310.6L301.8 310.7L302.8 310.1L303.8 309.4L304.8 309.7L305.8 309.9L306.8 309.7L307.8 310.3L308.8 309.9L309.8 310.3L310.8 309.3L311.8 309L312.8 310.8L313.8 309.7L314.8 310.6L315.8 309.8L316.8 310.5L317.8 309.5L318.8 310.3L319.8 309.5L320.8 309.2L321.8 309.5L322.8 309.7L323.8 310.3L324.8 309.7L325.8 309.3L326.8 309.8L327.8 308.8L328.8 309.7L329.8 309.9L330.8 310.1L331.8 311L332.8 310.3L333.8 309L334.8 309.4L335.8 309.4L336.8 309.7L337.8 309.9L338.8 309.8L339.8 310.2L340.8 309.9L341.8 309.9L342.8 309.5L343.8 309.7L344.8 309.3L345.8 310.8L346.8 309.9L347.8 309.7L348.8 310.2L349.8 309.9L350.8 310.5L351.8 309.7L352.8 309.5L353.8 310.1L354.8 309.8L355.8 309.9L356.8 308.8L357.8 308.8L358.8 309.9L359.8 309.4L360.8 310L361.8 309.7L362.8 309.6L363.8 309.2L364.8 309L365.8 310.5L366.8 310L367.8 309.3L368.8 309L369.8 309.2L370.8 310.2L371.8 309.8L372.8 309.7L373.8 309.8L374.8 309.7L375.8 311.1L376.8 309.9L377.8 309.1L378.8 309.9L379.8 310.2L380.8 310.3L381.8 309L382.8 309.3L383.8 310L384.8 310.2L385.8 309.9L386.8 309.8L387.8 309.6L388.8 310.2L389.8 309L390.8 310.4L391.8 309L392.8 309.3L393.8 309.5L394.8 309.1L395.8 309.4L396.8 309.8L397.8 309.4L398.8 310L399.8 310.3L400.8 309.9L401.8 310.1L402.8 309.9L403.8 309.3L404.8 309.3L405.8 311L406.8 309.3L407.8 310L408.8 309.9L409.8 309.6L410.8 309.2L411.8 309.8L412.8 309.4L413.8 310L414.8 309.7L415.8 309.2L416.8 309.8L417.8 310.2L418.8 309.9L419.8 308.8L420.8 309.9L421.8 310.5L422.8 310.4L423.8 310L424.8 309.3L425.8 310.4L426.8 310L427.8 309.9L428.8 309.8L429.8 310.7L430.8 309.5L431.8 309.6L432.8 310.2L433.8 309.2L434.8 309.9L435.8 309.9L436.8 310.5L437.8 310.4L438.8 309.8L439.8 309.5L440.8 310.1L441.8 310.1L442.8 310.1L443.8 309.5L444.8 309.5L445.8 310.1L446.8 309.4L447.8 310L448.8 309.6L449.8 309.3L450.8 309.4L451.8 309.6L452.8 309.5L453.8 309.5L454.8 309.8L455.8 309.9L456.8 309.5L457.8 309.9L458.8 308.9L459.8 309.1L460.8 309L461.8 310.4L462.8 310.3L463.8 309.6L464.8 310.1L465.8 309.7L466.8 310.5L467.8 309.9L468.8 310.7L469.8 310L470.8 310.4L471.8 308.9L472.8 309.4L473.8 310.6L474.8 309.6L475.8 310L476.8 308.9L477.8 310.1L478.8 309.3L479.8 310.3L480.8 310L481.8 310.2L482.8 309.4L483.8 310.5L484.8 309.8L485.8 309.6L486.8 309.2L487.8 310.6L488.8 309.9L489.8 309.3L490.8 309.5L491.8 309.5L492.8 309.4L493.8 309.9L494.8 309.3L495.8 309L496.8 309.8L497.8 308.9L498.8 309.8L499.8 310.3L500.8 310.1L501.3 308.9L501.8 309.7L502.3 309L502.8 308.8L503.3 309L503.8 309L504.3 308L504.8 307.9L505.3 307.4L505.8 306.6L506.3 307L506.8 303.8L507.3 301.9L507.8 299.2L508.3 297.1L508.8 292.5L509.3 288.2L509.8 283.3L510.3 281.9L510.8 283.2L511.3 282.6L511.8 283.1L512.3 283.3L512.8 282.9L513.3 282.4L513.8 282.6L514.3 284.4L514.8 288.7L515.3 293L515.8 297.1L516.3 301.5L516.8 303.4L517.3 305L517.8 306.4L518.3 307.2L518.8 307.9L519.3 308.6L519.8 308.3L520.3 308.7L520.8 308.5L521.3 308.5L521.8 308.6L522.3 308.2L522.8 308.4L523.8 309.2L524.8 309.3L525.8 309.8L526.8 308.8L527.8 309.7L528.8 308.8L529.8 309.6L530.8 309.2L531.8 310.3L532.8 309.2L533.8 309.8L534.8 308.7L535.8 310L536.8 310L537.8 309.8L538.8 310.1L539.8 309.7L540.8 309.1L541.8 310.6L542.8 309.7L543.8 309.8L544.8 309.6L545.8 309.7L546.8 309.8L547.8 309.9L548.8 311L549.8 309.7L550.8 310.3L551.8 310.6L552.8 309.8L553.8 309.9L554.8 310L555.8 310.1L556.8 309.9L557.8 310.6L558.8 309.5L559.8 310L560.8 309.4L561.8 309.3L562.8 310.3L563.8 309.5L564.8 309.4L565.8 310.7L566.8 309.2L567.8 309.4L568.8 309.3L569.8 309.3L570.8 309.7L571.8 310.9L572.8 310L573.8 309.7L574.8 309.4L575.8 309.3L576.8 309.7L577.8 308.8L578.8 309.8L579.8 310.2L580.8 310.3L581.8 309.7L582.8 309.5L583.8 310.5L584.8 309.9L585.8 309.9L586.8 309.5L587.8 309.9L588.8 309.8L589.8 310.6L590.8 309.6L591.8 310.1L592.8 310L593.8 310.2L594.8 309.3L595.8 310.1L596.8 309.5L597.8 310.2L598.8 310.3L599.8 309.6L600.8 309.8L601.8 309.9L602.8 309.3L603.8 310.2L604.8 309.4L605.8 308.9L606.8 309.7L607.8 309.4L608.8 309.8L609.8 308.9L610.3 309.6L610.8 308.6L611.3 308.4L611.8 308.4L612.3 308.2L612.8 307.7L613.3 307.6L613.8 307.1L614.3 306.4L614.8 305.3L615.3 301.4L615.8 295.3L616.3 287.1L616.8 281.8L617.3 278.7L617.8 280L618.3 287.4L618.8 294.6L619.3 300.7L619.8 303.3L620.3 304.5L620.8 303.6L621.3 304.9L621.8 301.9L622.3 298.8L622.8 292.6L623.3 285.9L623.8 278.3L624.3 272.6L624.8 275.3L625.3 282.1L625.8 290.3L626.3 298L626.8 301.5L627.3 304.6L627.8 306.6L628.3 306.8L628.8 308.1L629.3 309.4L629.8 308.9L630.3 309.4L630.8 308.7L631.3 309.2L631.8 308.7L632.8 309.5L633.8 310.2L634.8 309L635.8 308.9L636.8 310.1L637.8 309.3L638.8 309.3L639.8 309.3L640.8 309.7L641.8 308.4L642.8 310.2L643.8 309L644.8 310.4L645.8 309.5L646.8 309.3L647.8 309.3L648.8 308.8L649.8 310.4L650.8 309.8L651.8 310.2L652.8 310.4L653.8 309.4L654.8 310.2L655.8 310.7L656.8 309L657.8 309.8L658.8 310.1L659.8 310L660.8 310.6L661.8 309.8L662.8 309.6L663.8 309L664.8 310.4L665.8 310.3L666.8 309.5L667.8 309.6L668.8 309.3L669.8 309.2L670.8 308.9L671.8 309.1L672.8 310.7L673.8 310L674.8 310.7L675.8 310.6L676.8 308.9L677.8 308.9L678.8 309.9L679.8 309.3L680.8 309.6L681.8 309.8L682.8 308.9L683.8 310.7L684.8 310L685.8 309.4L686.8 310.2L687.8 310.5L688.8 310.6L689.8 308.4L690.8 309L691.8 309.8L692.8 309L693.8 309.7L694.8 308.8L695.8 309.8L696.8 310.5L697.8 308.3L698.8 308.6L699.8 308.9L700.8 309.2L701.3 309.7L701.8 309L702.3 308.4L702.8 308.8L703.3 308.9L703.8 307.9L704.3 307.5L704.8 306.6L705.3 303.8L705.8 300.7L706.3 297.6L706.8 292.1L707.3 288L707.8 283.6L708.3 284.7L708.8 287.4L709.3 294.2L709.8 297.9L710.3 300.5L710.8 303.2L711.3 304.1L711.8 302.3L712.3 301.5L712.8 299.5L713.3 294.6L713.8 289.9L714.3 286.4L714.8 284.5L715.3 285.9L715.8 290.7L716.3 296.6L716.8 300.4L717.3 302.6L717.8 305.7L718.3 306.1L718.8 307.2L719.3 308.1L719.8 308.3L720.3 308.5L720.8 309.2L721.3 309L721.8 308.7L722.3 308.9L723.3 308.8L724.3 309.4L725.3 309.8L726.3 310L727.3 309.6L728.3 309.4L729.3 309.5L730.3 309.7L731.3 309.2L732.3 309.4L733.3 309.9L734.3 308.4L735.3 309.4L736.3 310.7L737.3 309.6L738.3 308.9L739.3 309.4L740.3 309.9L741.3 309.8L742.3 309.5L743.3 310L744.3 310.3L745.3 309.9L746.3 310L747.3 309.3L748.3 309.7L749.3 309.7L750.3 310.3L751.3 309.1L752.3 310L753.3 309.2L754.3 309.5L755.3 309.4L756.3 309L757.3 309.2L758.3 309.4L759.3 309.9L760.3 310L761.3 309.9L762.3 309.8L763.3 310L764.3 310L765.3 310.3L766.3 310.4L767.3 310.7L768.3 308.8L769.3 309.4L770.3 309.7L771.3 309.6L772.3 309.6L773.3 309.2L774.3 309.5L775.3 311.6L776.3 309.5L777.3 309.4L778.3 311L779.3 309.5L780.3 311.2L781.3 309.4L782.3 309.5L783.3 309.2" fill="none" stroke="#289898" stroke-width="1.5" stroke-linejoin="round"/>
<path d="M13.8 345.9L14.8 346.2L15.8 345.5L16.8 346.5L17.8 346.6L18.8 346.7L19.8 346.6L20.8 346.5L21.8 347.2L22.8 346.2L23.8 345.9L24.8 346.9L25.8 346.2L26.8 345.7L27.8 346.6L28.8 346.6L29.8 347L30.8 347L31.8 346.4L32.8 346.2L33.8 346.7L34.8 345.7L35.8 346.1L36.8 346.4L37.8 346.4L38.8 346.9L39.8 346.4L40.8 346.3L41.8 345.8L42.8 346.5L43.8 345.8L44.8 346.3L45.8 346.1L46.8 345.9L47.8 346.6L48.8 345.9L49.8 346.2L50.8 346.5L51.8 346.7L52.8 346.4L53.8 347.4L54.8 347L55.8 346.3L56.8 346.3L57.8 346.6L58.8 346.7L59.8 346L60.8 346.1L61.8 346.6L62.8 345.2L63.8 346.4L64.8 345.8L65.8 346.1L66.8 346.9L67.8 346.2L68.8 346.5L69.8 346.7L70.8 347L71.8 346.3L72.8 346.2L73.8 346.8L74.8 345.8L75.8 346.5L76.8 346.6L77.8 346.7L78.8 346.7L79.8 345.8L80.8 346.3L81.8 345.8L82.8 346.9L83.8 346.7L84.8 346.5L85.8 346.1L86.8 346.5L87.8 346.3L88.8 346.1L89.8 346.6L90.8 346.1L91.8 347L92.8 346.3L93.8 346.9L94.8 346.6L95.8 345.7L96.8 346.3L97.8 345.7L98.8 345.7L99.8 347.4L100.8 347.4L101.8 347L102.8 347.1L103.8 346.1L104.8 346.8L105.8 345.9L106.8 346.7L107.8 345.5L108.8 346.4L109.8 346.5L110.8 347L111.8 346.1L112.8 346.8L113.8 346.8L114.8 346.8L115.8 347L116.8 346L117.8 346.5L118.8 345.7L119.8 346.7L120.8 346.6L121.8 346.2L122.8 345.8L123.8 346.9L124.8 346L125.8 346.2L126.8 346.6L127.8 346.8L128.8 346.3L129.8 346.2L130.8 346.1L131.8 346.1L132.8 346.3L133.8 347.4L134.8 346.8L135.8 346.3L136.8 346.8L137.8 346.9L138.8 346.4L139.8 346.7L140.8 346L141.8 346L142.8 347.2L143.8 347.1L144.8 346.4L145.8 346.9L146.8 346.1L147.8 346.2L148.8 347.2L149.8 346L150.8 346.9L151.8 346.7L152.8 346.6L153.8 346.1L154.8 346.8L155.8 346.7L156.8 347L157.8 346.8L158.8 346.6L159.8 345.3L160.8 345.9L161.8 346.4L162.8 346.9L163.8 346.2L164.8 346.4L165.8 346.2L166.8 347.1L167.8 347L168.8 346.3L169.8 346L170.8 346.1L171.8 346.2L172.8 346.7L173.8 346.9L174.8 346.7L175.8 346.2L176.8 346.8L177.8 345.8L178.8 346.6L179.8 346.2L180.8 345.8L181.8 345.9L182.8 346.3L183.8 346.9L184.8 346.8L185.8 346.8L186.8 346.2L187.8 346.2L188.8 346.5L189.8 346.2L190.8 347.1L191.8 346.6L192.8 345.8L193.8 346.2L194.8 346.6L195.8 345.3L196.8 346.1L197.8 346.3L198.8 346.7L199.8 346.5L200.8 346.4L201.8 346.1L202.8 346.3L203.8 346.7L204.8 346.3L205.8 346L206.8 347L207.8 346.4L208.8 346.5L209.8 346.9L210.8 346.4L211.8 345.5L212.8 346.6L213.8 346L214.8 346.3L215.8 346.4L216.8 346.8L217.8 346.1L218.8 345.9L219.8 346L220.8 345.7L221.8 345.6L222.8 346.5L223.8 345.8L224.8 346L225.8 346.7L226.8 346.7L227.8 345.9L228.8 346.1L229.8 346L230.8 346.5L231.8 347.2L232.8 345.9L233.8 345.9L234.8 346L235.8 346L236.8 345.9L237.8 347L238.8 345.9L239.8 346.4L240.8 347.3L241.8 346.7L242.8 346.1L243.8 346.6L244.8 347.1L245.8 347L246.8 345.8L247.8 346.8L248.8 346.9L249.8 347.1L250.8 346L251.8 346.5L252.8 345.9L253.8 347.2L254.8 346L255.8 346.2L256.8 347.2L257.8 346.5L258.8 346.5L259.8 346L260.8 346.3L261.8 346.9L262.8 346.8L263.8 346.3L264.8 346.1L265.8 346L266.8 345.7L267.8 346.2L268.8 345.9L269.8 346.2L270.8 345.9L271.8 346.7L272.8 345.8L273.8 346.4L274.8 345.7L275.8 347.2L276.8 346.3L277.8 346.9L278.8 346L279.8 346.3L280.8 346.7L281.8 346.8L282.8 345.7L283.8 346L284.8 346.6L285.8 346.9L286.8 346.4L287.8 347L288.8 346.8L289.8 346.1L290.8 347.7L291.8 346.8L292.8 346.3L293.8 346.6L294.8 345.8L295.8 346.3L296.8 346.3L297.8 346.4L298.8 346.5L299.8 346L300.8 346.9L301.8 346.3L302.8 346.9L303.8 346.1L304.8 346.4L305.8 346.3L306.8 347.2L307.8 346.2L308.8 346.2L309.8 346.9L310.8 346.2L311.8 346.3L312.8 345.9L313.8 346.5L314.8 345.9L315.8 346.5L316.8 346.5L317.8 346.7L318.8 346.3L319.8 346.6L320.8 346.3L321.8 346.3L322.8 346.6L323.8 347L324.8 346.5L325.8 346.6L326.8 345.6L327.8 347.5L328.8 346.8L329.8 347L330.8 346.5L331.8 347.4L332.8 346.4L333.8 347.3L334.8 346.1L335.8 346.3L336.8 346.2L337.8 345.5L338.8 346.7L339.8 345.5L340.8 346L341.8 346L342.8 346.4L343.8 346.9L344.8 346.7L345.8 346.4L346.8 346.2L347.8 346.6L348.8 346.4L349.8 346L350.8 346.2L351.8 347L352.8 346.6L353.8 345.8L354.8 346.4L355.8 346.1L356.8 346.7L357.8 346.7L358.8 346.3L359.8 346.2L360.8 346.3L361.8 346L362.8 346.8L363.8 346.8L364.8 346.5L365.8 345.5L366.8 346.6L367.8 346.2L368.8 345.9L369.8 346.2L370.8 346.8L371.8 346.6L372.8 346.1L373.8 346.3L374.8 347.2L375.8 346.1L376.8 346.3L377.8 346.8L378.8 346.3L379.8 346.8L380.8 346.1L381.8 347L382.8 346.8L383.8 346.6L384.8 346.3L385.8 347.8L386.8 345.8L387.8 346.7L388.8 346.8L389.8 346.4L390.8 347L391.8 345.8L392.8 347.1L393.8 346.6L394.8 346.4L395.8 347.3L396.8 346.1L397.8 346.5L398.8 345.5L399.8 346.7L400.8 346.3L401.8 346.4L402.8 346.2L403.8 346.1L404.8 346.7L405.8 346.8L406.8 346.5L407.8 346.6L408.8 345.5L409.8 346.6L410.8 345.7L411.8 345.9L412.8 346.5L413.8 346.3L414.8 347.3L415.8 346.6L416.8 346.2L417.8 345.9L418.8 345.9L419.8 346.5L420.8 346.3L421.8 345.8L422.8 345.4L423.8 346.1L424.8 347L425.8 346.6L426.8 346.2L427.8 346.1L428.8 346.6L429.8 345.7L430.8 347.1L431.8 345.7L432.8 346.2L433.8 347.3L434.8 345.9L435.8 346.2L436.8 346.5L437.8 346.2L438.8 346.1L439.8 347.3L440.8 346.4L441.8 346.4L442.8 346.8L443.8 346.1L444.8 346.1L445.8 346.3L446.8 346.1L447.8 346.5L448.8 346.1L449.8 345.8L450.8 346.4L451.8 346.2L452.8 345.8L453.8 346.7L454.8 346.8L455.8 346.1L456.8 346.4L457.8 345.9L458.8 345.8L459.8 346.4L460.8 346.4L461.8 346.7L462.8 345.4L463.8 345.7L464.8 345.9L465.8 347.1L466.8 346.6L467.8 346.5L468.8 346.3L469.8 345.7L470.8 346.3L471.8 346.8L472.8 345.7L473.8 346.1L474.8 346.2L475.8 346.1L476.8 345.8L477.8 346.2L478.8 345.7L479.8 346.3L480.8 346.4L481.8 344.9L482.8 346.6L483.8 346.4L484.8 346.2L485.8 346.9L486.8 346.8L487.8 346.1L488.8 346.4L489.8 346.5L490.8 345.9L491.8 346.3L492.8 345.6L493.8 345.7L494.8 345.9L495.8 345.6L496.3 346.5L496.8 345.2L497.3 345.5L497.8 345.3L498.3 345.4M517.8 345.4L518.3 345.5L518.8 346L519.3 345.5L519.8 345.6L520.8 345.7L521.8 346.1L522.8 346.7L523.8 345.4L524.8 346.2L525.8 346.1L526.8 346.4L527.8 345.6L528.8 345.6L529.8 345.8L530.8 346.8L531.8 346.3L532.8 346.2L533.8 346L534.8 345.9L535.8 346.3L536.8 346.5L537.8 346.6L538.8 346L539.8 347.2L540.8 345.3L541.8 346.8L542.8 346.3L543.8 346.9L544.8 346.6L545.8 346.7L546.8 346.6L547.8 346.2L548.8 346.6L549.8 346.4L550.8 346.1L551.8 345.6L552.8 346.9L553.8 346.2L554.8 346L555.8 345.9L556.8 346.9L557.8 345.5L558.8 346.6L559.8 346.9L560.8 346.5L561.8 347.3L562.8 346.2L563.8 346.3L564.8 345.4L565.8 346.1L566.8 346.9L567.8 346.6L568.8 346.2L569.8 346.4L570.8 345.8L571.8 345.9L572.8 346.2L573.8 346.5L574.8 347L575.8 346L576.8 346.9L577.8 346.4L578.8 346.4L579.8 345.8L580.8 346.3L581.8 346.1L582.8 346.2L583.8 346.4L584.8 346.5L585.8 345.9L586.8 345.9L587.8 347L588.8 346.7L589.8 345.5L590.8 345.7L591.8 346.1L592.8 347.2L593.8 346.1L594.8 346.9L595.8 346.4L596.8 346.1L597.8 345.2L598.8 346.4L599.8 346.7L600.8 346.4L601.8 346.4L602.8 346.3L603.8 345.9L604.8 346.1L605.8 346.6L606.8 346.2L607.8 345.9L608.8 346.5L609.8 345.2L610.8 345.7L611.3 344.8L611.8 346.1L612.3 344.9L612.8 345.1L613.3 345.7M634.8 344.9L635.3 345.5L635.8 345.8L636.3 345.4L636.8 345.3L637.3 345L638.3 346.2L639.3 344.6L640.3 345L641.3 346.6L642.3 345.7L643.3 346L644.3 346.5L645.3 345.9L646.3 346.2L647.3 346.2L648.3 345.8L649.3 346.1L650.3 346L651.3 345.3L652.3 346.7L653.3 346L654.3 346.9L655.3 346.3L656.3 346.3L657.3 346.3L658.3 346.5L659.3 346.8L660.3 346.3L661.3 346L662.3 346.1L663.3 346.2L664.3 346L665.3 346.5L666.3 345.9L667.3 346.2L668.3 346L669.3 346.2L670.3 346.3L671.3 345.8L672.3 346L673.3 346.2L674.3 345.4L675.3 346.5L676.3 346.6L677.3 346.4L678.3 346.2L679.3 346.8L680.3 346.3L681.3 346.3L682.3 346.2L683.3 344.9L684.3 345.5L685.3 345.5L686.3 346.1L687.3 347L688.3 345.8L689.3 345.6L690.3 345.1L691.3 345.1L691.8 345.2L692.3 345.3L692.8 345L693.3 344.5L693.8 345L694.3 345.6M719.3 344.4L719.8 345.8L720.3 345.5L720.8 346L721.3 345.9L721.8 346.4L722.8 345.8L723.8 345.5L724.8 345.5L725.8 346.3L726.8 346.7L727.8 345.9L728.8 345.4L729.8 346.2L730.8 346.5L731.8 346.4L732.8 346.3L733.8 346.3L734.8 345.9L735.8 346.5L736.8 345.8L737.8 346.8L738.8 346.7L739.8 345.9L740.8 346.3L741.8 346.7L742.8 346.3L743.8 345.2L744.8 346.1L745.8 346.6L746.8 345.9L747.8 345.8L748.8 346.5L749.8 347L750.8 346.6L751.8 347.2L752.8 346.4L753.8 346.1L754.8 346.9L755.8 345.7L756.8 345.7L757.8 347L758.8 347.2L759.8 345.7L760.8 347.1L761.8 346.2L762.8 346.9L763.8 345.8L764.8 346.4L765.8 346.1L766.8 346.9L767.8 346.2L768.8 347.1L769.8 345.6L770.8 346.6L771.8 345.7L772.8 346.7L773.8 346.8L774.8 346.3L775.8 345.5L776.8 346.6L777.8 347L778.8 346.3L779.8 347L780.8 347L781.8 345L782.8 347.2" fill="none" stroke="#28885a" stroke-width="1.8" stroke-linejoin="round"/>
<path d="M13.8 346.8L14.8 345.8L15.8 345.7L16.8 346.4L17.8 346.2L18.8 346.7L19.8 346.3L20.8 346.1L21.8 346.9L22.8 346.6L23.8 346.1L24.8 346.8L25.8 346L26.8 346.3L27.8 345.7L28.8 346L29.8 346.6L30.8 346L31.8 346.2L32.8 347.1L33.8 345.8L34.8 346.2L35.8 347.1L36.8 346.8L37.8 346L38.8 345.6L39.8 345.9L40.8 347.7L41.8 346.4L42.8 347.2L43.8 346.5L44.8 346.2L45.8 346.2L46.8 345.2L47.8 347.6L48.8 346.9L49.8 347.1L50.8 346.2L51.8 346.3L52.8 345.8L53.8 345.8L54.8 345.6L55.8 347.1L56.8 346.3L57.8 346.7L58.8 346.6L59.8 346.6L60.8 346.7L61.8 345.8L62.8 346.3L63.8 346.8L64.8 346.6L65.8 346.3L66.8 346.4L67.8 345.9L68.8 346.2L69.8 345.5L70.8 346.1L71.8 347.1L72.8 346.1L73.8 346L74.8 347.5L75.8 345.9L76.8 346.5L77.8 345.7L78.8 346.2L79.8 346.3L80.8 346.9L81.8 346.1L82.8 346.2L83.8 347.1L84.8 346.1L85.8 346.5L86.8 346.2L87.8 345.9L88.8 345.8L89.8 346.1L90.8 346.7L91.8 346.5L92.8 345.2L93.8 345.6L94.8 346.7L95.8 346.6L96.8 347L97.8 346.3L98.8 346.4L99.8 345.5L100.8 346.3L101.8 347.2L102.8 345.3L103.8 346.4L104.8 347.5L105.8 346.9L106.8 346.2L107.8 346.4L108.8 346.5L109.8 346.2L110.8 346.1L111.8 345.5L112.8 346.7L113.8 347.3L114.8 345.7L115.8 346.2L116.8 346.9L117.8 346.2L118.8 345.7L119.8 346.2L120.8 347.2L121.8 346.5L122.8 347.1L123.8 346.7L124.8 347.2L125.8 345.9L126.8 346.8L127.8 346.4L128.8 346.4L129.8 347.3L130.8 346.6L131.8 346.7L132.8 346.8L133.8 346.4L134.8 346.8L135.8 346.2L136.8 346.8L137.8 346.6L138.8 345.2L139.8 347L140.8 347L141.8 346.7L142.8 345.5L143.8 346.8L144.8 346L145.8 346L146.8 346.1L147.8 346.2L148.8 346L149.8 345.8L150.8 345.7L151.8 345.9L152.8 347.2L153.8 347.4L154.8 347.8L155.8 345.6L156.8 346.2L157.8 345.7L158.8 345.6L159.8 345.5L160.8 346.6L161.8 347L162.8 346.1L163.8 347.4L164.8 346L165.8 345.8L166.8 345.8L167.8 345.8L168.8 347L169.8 346.3L170.8 347.3L171.8 346.5L172.8 346.4L173.8 346.7L174.8 346.4L175.8 345.5L176.8 345.4L177.8 346.4L178.8 346.1L179.8 347.2L180.8 346.6L181.8 347.7L182.8 346.8L183.8 346L184.8 347.5L185.8 346.4L186.8 346.1L187.8 345.8L188.8 346.2L189.8 346L190.8 344.9L191.8 346.9L192.8 346.5L193.8 345.7L194.8 346.1L195.8 346.1L196.8 346.8L197.8 346.6L198.8 346.8L199.8 346.1L200.8 346.4L201.8 345.7L202.8 346.4L203.8 345.2L204.8 346.4L205.8 345.9L206.8 346.4L207.8 347L208.8 346.4L209.8 346.8L210.8 346.9L211.8 347L212.8 345.8L213.8 346.8L214.8 346.9L215.8 346.3L216.8 346.1L217.8 346.2L218.8 346.8L219.8 346.4L220.8 346.3L221.8 346.1L222.8 346.5L223.8 345.8L224.8 345.9L225.8 347.2L226.8 346L227.8 346.5L228.8 345.5L229.8 345.7L230.8 346.1L231.8 345.4L232.8 346.1L233.8 345.9L234.8 347L235.8 345L236.8 346.7L237.8 346.3L238.8 346.8L239.8 346.8L240.8 346.2L241.8 346L242.8 346.1L243.8 345.6L244.8 346.5L245.8 345.9L246.8 346.1L247.8 346.5L248.8 346.2L249.8 347.3L250.8 346.5L251.8 347.3L252.8 346.2L253.8 346.7L254.8 346.7L255.8 346.5L256.8 346.6L257.8 345.5L258.8 346.2L259.8 346.2L260.8 347.2L261.8 346.2L262.8 346.8L263.8 346L264.8 346.8L265.8 345.8L266.8 346L267.8 346L268.8 346.9L269.8 346.3L270.8 345.9L271.8 346.3L272.8 346.4L273.8 347L274.8 346.3L275.8 346.2L276.8 346.5L277.8 347.5L278.8 346.2L279.8 345.8L280.8 346L281.8 345.9L282.8 345.7L283.8 347L284.8 346.5L285.8 346.5L286.8 346.8L287.8 346.4L288.8 346.4L289.8 346.8L290.8 346.7L291.8 345.9L292.8 345.3L293.8 346.1L294.8 346.5L295.8 345.7L296.8 346L297.8 346.5L298.8 347.2L299.8 346.6L300.8 347.1L301.8 346.5L302.8 346.6L303.8 346.9L304.8 346.9L305.8 346L306.8 346.8L307.8 346.2L308.8 346.4L309.8 345.7L310.8 345.8L311.8 346.4L312.8 346.8L313.8 345.7L314.8 346.3L315.8 346.8L316.8 345.5L317.8 346.7L318.8 346L319.8 346.3L320.8 346L321.8 346.2L322.8 345.9L323.8 346.9L324.8 346.3L325.8 346.4L326.8 345.8L327.8 347.2L328.8 346L329.8 346.5L330.8 345.8L331.8 347.5L332.8 345.8L333.8 346.2L334.8 346.8L335.8 346.7L336.8 345.7L337.8 346.9L338.8 347.2L339.8 346.9L340.8 346.7L341.8 345.5L342.8 346.5L343.8 347.8L344.8 347.2L345.8 346.5L346.8 347.8L347.8 345.8L348.8 346.4L349.8 345.7L350.8 346.3L351.8 346.6L352.8 346.6L353.8 346.2L354.8 346.6L355.8 346L356.8 346.8L357.8 346.3L358.8 345.5L359.8 347.1L360.8 346.5L361.8 346.6L362.8 345.6L363.8 346.7L364.8 345.9L365.8 346.3L366.8 345.6L367.8 347.3L368.8 347.3L369.8 346.7L370.8 345.8L371.8 346L372.8 346.9L373.8 346L374.8 346.3L375.8 346.7L376.8 346.5L377.8 346.3L378.8 346.7L379.8 346.8L380.8 346.7L381.8 347.2L382.8 345.9L383.8 346.8L384.8 346.8L385.8 346.3L386.8 348L387.8 347.6L388.8 346.4L389.8 347.1L390.8 346.7L391.8 345.9L392.8 346.7L393.8 346.2L394.8 346.1L395.8 346.3L396.8 345.5L397.8 345.7L398.8 347.5L399.8 344.8L400.8 346.3L401.8 346.4L402.8 346.2L403.8 346.4L404.8 346.2L405.8 346.8L406.8 347L407.8 347.4L408.8 346.5L409.8 347L410.8 346.3L411.8 346.2L412.8 346.3L413.8 346.3L414.8 346.3L415.8 345.8L416.8 345.9L417.8 347L418.8 346.3L419.8 347.2L420.8 346.8L421.8 347L422.8 346.7L423.8 347.1L424.8 346.1L425.8 346.4L426.8 346.1L427.8 346.9L428.8 346.1L429.8 346.2L430.8 346.3L431.8 346L432.8 346.9L433.8 346.1L434.8 346.4L435.8 346.7L436.8 347.9L437.8 346.2L438.8 346.3L439.8 346.8L440.8 345.3L441.8 346.7L442.8 346.9L443.8 346.4L444.8 346.9L445.8 346L446.8 346.5L447.8 346.2L448.8 347L449.8 345.9L450.8 346.2L451.8 346.7L452.8 345.7L453.8 346.9L454.8 346.8L455.8 346.4L456.8 345.8L457.8 346.2L458.8 346L459.8 346.6L460.8 347.1L461.8 346.2L462.8 346.5L463.8 346.3L464.8 345.6L465.8 347L466.8 346.1L467.8 346.8L468.8 347.4L469.8 346L470.8 345.8L471.8 345.2L472.8 345.4L473.8 346L474.8 346.1L475.8 347.3L476.8 346.7L477.8 347.1L478.8 346.4L479.8 345.8L480.8 345.5L481.8 346.4L482.8 346.3L483.8 345.7L484.8 347.1L485.8 346.1L486.8 346.4L487.8 345.6L488.8 346.4L489.8 346.6L490.8 345.9L491.8 345.8L492.8 346.4L493.8 346.1L494.8 345.5L495.8 346.2L496.3 345.2L496.8 346.9L497.3 345.3L497.8 345.4L498.3 345.2L498.8 344.4L499.3 344.6L499.8 345.6L500.3 344.4L500.8 344.9L501.3 343.8L501.8 343.1L502.3 342L502.8 341.7L503.3 339.6L503.8 334.5L504.3 330.7L504.8 324.9L505.3 316.4L505.8 308.6L506.3 303.6L506.8 305.1L507.3 307.9L507.8 310.9L508.3 311L508.8 308.3L509.3 303.5L509.8 305.1L510.3 310.6L510.8 317.1L511.3 325.6L511.8 332.7L512.3 336.8L512.8 340.4L513.3 341.8L513.8 343.3L514.3 345.1L514.8 344.7L515.3 344.3L515.8 344.2L516.3 345.1L516.8 344.5L517.3 344.4L517.8 345L518.3 345.2L518.8 345L519.3 345.7L519.8 345.2L520.8 345.5L521.8 345.1L522.8 346L523.8 346.5L524.8 345.6L525.8 346.3L526.8 346L527.8 346.8L528.8 346.1L529.8 345.4L530.8 346.7L531.8 347.1L532.8 346.1L533.8 346.5L534.8 346.2L535.8 346L536.8 346.3L537.8 347L538.8 346.6L539.8 346.8L540.8 346.1L541.8 345.3L542.8 346.7L543.8 346.2L544.8 346L545.8 346.2L546.8 347L547.8 346.9L548.8 346.6L549.8 347.4L550.8 346.5L551.8 346.6L552.8 346.2L553.8 346L554.8 346.7L555.8 346.5L556.8 346.1L557.8 345.6L558.8 345.4L559.8 346.1L560.8 345.4L561.8 345.1L562.8 346.7L563.8 346L564.8 345.2L565.8 345.6L566.8 345.7L567.8 345.1L568.8 345.7L569.8 345.9L570.8 346.6L571.8 347L572.8 345.5L573.8 346.8L574.8 346.1L575.8 345.7L576.8 347.2L577.8 346.1L578.8 346L579.8 346.3L580.8 345.6L581.8 345.9L582.8 346.1L583.8 347.2L584.8 346L585.8 345.6L586.8 346.4L587.8 345.7L588.8 347.2L589.8 345.7L590.8 345.8L591.8 345.8L592.8 346.4L593.8 345.7L594.8 345.4L595.8 346.7L596.8 345.8L597.8 346.4L598.8 346.2L599.8 345.6L600.8 345.8L601.8 346.6L602.8 345.4L603.8 346.4L604.8 345.4L605.8 346.4L606.8 346.7L607.8 344.9L608.8 345.6L609.8 346.2L610.8 344.9L611.3 345L611.8 344.6L612.3 345.6L612.8 345.2L613.3 344.7L613.8 345.8L614.3 345.5L614.8 344.5L615.3 345.2L615.8 343.4L616.3 342.8L616.8 342.9L617.3 342.1L617.8 341.5L618.3 338.2L618.8 335.1L619.3 329.4L619.8 321.7L620.3 312L620.8 303.8L621.3 299.9L621.8 303.4L622.3 310.6L622.8 319.5L623.3 325.7L623.8 329L624.3 329.1L624.8 325.7L625.3 319.7L625.8 311.6L626.3 302.4L626.8 301.1L627.3 304.2L627.8 312.8L628.3 322L628.8 329L629.3 334.5L629.8 339.3L630.3 342.1L630.8 342.1L631.3 342.3L631.8 344.3L632.3 344.7L632.8 344.4L633.3 344.1L633.8 345.9L634.3 344.9L634.8 345.3L635.3 346.1L635.8 346.1L636.3 345.9L636.8 345.4L637.3 345.5L638.3 346.1L639.3 345.9L640.3 345.4L641.3 345.8L642.3 345.2L643.3 346L644.3 346.3L645.3 346.3L646.3 345.3L647.3 345.8L648.3 346.3L649.3 346.2L650.3 345.3L651.3 346.6L652.3 346.2L653.3 345.6L654.3 345.4L655.3 346.4L656.3 346.2L657.3 346.7L658.3 345.4L659.3 347.7L660.3 346.3L661.3 346L662.3 345.9L663.3 346.2L664.3 345.5L665.3 346.4L666.3 346.6L667.3 346.6L668.3 346.8L669.3 347L670.3 346.3L671.3 346.3L672.3 346.6L673.3 346.9L674.3 345.6L675.3 345.6L676.3 346.2L677.3 346.6L678.3 345.5L679.3 345.6L680.3 345.8L681.3 345.9L682.3 346.9L683.3 346.9L684.3 345.6L685.3 346.1L686.3 346.9L687.3 346.2L688.3 345.5L689.3 346.1L690.3 346L691.3 345.9L691.8 345.9L692.3 346.2L692.8 345.7L693.3 345.7L693.8 343.5L694.3 345.8L694.8 346L695.3 345.1L695.8 344.2L696.3 344.7L696.8 344.8L697.3 343.9L697.8 344.1L698.3 343.9L698.8 342.5L699.3 343L699.8 340.2L700.3 338.5L700.8 335.6L701.3 331.1L701.8 324.8L702.3 319L702.8 310.7L703.3 304.2L703.8 301.4L704.3 304.2L704.8 309.6L705.3 315.8L705.8 322.2L706.3 327.2L706.8 327.9L707.3 326.4L707.8 324.2L708.3 319.5L708.8 312L709.3 305.5L709.8 302.5L710.3 302.8L710.8 308.5L711.3 315.4L711.8 322.7L712.3 328.8L712.8 334.5L713.3 337.7L713.8 339.7L714.3 341.8L714.8 342.3L715.3 344L715.8 343.8L716.3 344.1L716.8 344.8L717.3 344.3L717.8 344.6L718.3 345.4L718.8 345.9L719.3 345.6L719.8 345.3L720.3 345L720.8 345.3L721.3 346L721.8 344.4L722.8 345.6L723.8 345.1L724.8 346.5L725.8 346L726.8 345.8L727.8 345.5L728.8 346.3L729.8 345.8L730.8 346.3L731.8 345.9L732.8 346.8L733.8 345.5L734.8 347.5L735.8 345.8L736.8 346.1L737.8 346.3L738.8 346.4L739.8 346.2L740.8 346.8L741.8 346.9L742.8 346.5L743.8 346.1L744.8 346.2L745.8 346.1L746.8 346.1L747.8 346.7L748.8 346.8L749.8 346.8L750.8 347.1L751.8 346.3L752.8 346.4L753.8 346.2L754.8 347L755.8 346.9L756.8 346.7L757.8 345.5L758.8 346.5L759.8 347.3L760.8 345.4L761.8 345.8L762.8 346.6L763.8 346.8L764.8 346.4L765.8 347.1L766.8 347L767.8 346.4L768.8 347.1L769.8 345.7L770.8 346.3L771.8 346.2L772.8 346L773.8 345.8L774.8 346.5L775.8 345.2L776.8 346.4L777.8 346.8L778.8 346.4L779.8 346.6L780.8 346.2L781.8 347L782.8 346.7" fill="none" stroke="#28885a" stroke-width="1.5" stroke-linejoin="round"/>
<path d="M58.3 386.2L58.8 385.9L59.3 386.5L59.8 385.6L60.3 386.4L60.8 386L61.3 386.1L61.8 385.8L62.3 385.9L62.8 386.2L63.3 385.5L63.8 386.4L64.3 386.1L64.8 386.8L65.3 386.3L65.8 386.5L66.3 386.3L66.8 386L67.3 386.4L67.8 386.8L68.3 386.9L68.8 386.3L69.3 386.1L69.8 386.7L70.3 386.7L70.8 386.2L71.3 386L71.8 386.2L72.3 386.3L73.3 385L74.3 386.6L75.3 386.7L76.3 387.3L77.3 388.1L78.3 386.4L79.3 386.4L80.3 387.3L81.3 386.1L82.3 386L83.3 387.2L84.3 387.2L85.3 386.7L86.3 387L87.3 386.6L88.3 386.1L89.3 387.1L90.3 386.1L91.3 386.5L92.3 386.1L93.3 385.9L94.3 386.6L95.3 386.2L96.3 388.4L97.3 385.8L98.3 387.2L99.3 386.6L100.3 386.6L101.3 386.2L102.3 387.3L103.3 386.3L104.3 387.5L105.3 386.5L106.3 386.8L107.3 387.2L108.3 386.3L109.3 386.8L110.3 385.8L111.3 385.5L112.3 386.8L113.3 386.6L114.3 387.2L115.3 387L116.3 387.6L117.3 387L118.3 387.1L119.3 386.8L120.3 386.7L121.3 386.1L122.3 386.8L123.3 387.2L124.3 386.8L125.3 386.6L126.3 386L127.3 386.3L128.3 387.3L129.3 386.8L130.3 386.7L131.3 386.5L132.3 386.9L133.3 386.1L134.3 387.1L135.3 385.9L136.3 387.1L137.3 387.5L138.3 386L139.3 386L140.3 386.4L141.3 386.7L142.3 386.1L143.3 386.7L144.3 386.3L145.3 386.1L145.8 386.1L146.3 387L146.8 386.2L147.3 385.8L147.8 386.9L148.3 386.2L148.8 386.4L149.3 386.2L149.8 386.6L150.3 386.1L150.8 385.8L151.3 386.6L151.8 386.3L152.3 385.5L152.8 386.6L153.3 386L153.8 386.1L154.3 386.3L154.8 385.6M242.3 386L242.8 385.9L243.3 386L243.8 386L244.3 386L244.8 386.7L245.3 385.4L245.8 386.2L246.3 385.2L246.8 386.4L247.3 386.5L247.8 386.9L248.3 386.2L248.8 387L249.3 386L249.8 386.6L250.3 387.2L251.3 386.4L252.3 386.6L253.3 386.7L254.3 386.2L255.3 386.7L256.3 387.1L257.3 387L258.3 386.5L259.3 386.8L260.3 387.2L261.3 385.9L262.3 386.8L263.3 386.6L264.3 386.4L265.3 386.5L266.3 387.8L267.3 386.7L268.3 386.8L269.3 386.7L270.3 386.7L271.3 387.1L272.3 387.4L273.3 386.2L274.3 386.4L275.3 386.8L276.3 386.7L277.3 386.9L278.3 387.6L279.3 386.3L280.3 386.3L281.3 386.9L282.3 386.9L283.3 386.9L284.3 386.5L285.3 387.4L286.3 387.1L287.3 387.3L288.3 386.5L289.3 386.1L290.3 387L291.3 387.2L292.3 385.7L293.3 387.2L294.3 386.6L295.3 386.6L296.3 386.9L297.3 386.1L298.3 386.6L299.3 386.5L300.3 386.3L301.3 386.2L302.3 387.1L303.3 387.7L304.3 387.5L305.3 386.6L306.3 387.3L307.3 386.5L308.3 387L309.3 386.5L310.3 386.4L311.3 387.3L312.3 387.5L313.3 387.7L314.3 386.7L315.3 387.4L316.3 386.4L317.3 387.2L318.3 386.8L319.3 387L320.3 387.7L321.3 386.6L322.3 386.5L323.3 387.2L324.3 386.9L325.3 387.1L326.3 386.4L327.3 387.3L328.3 386.9L329.3 385.8L330.3 386.8L331.3 386.6L332.3 387L333.3 387L334.3 387L335.3 387.3L336.3 386L337.3 387L338.3 386.9L339.3 386.8L340.3 387.9L341.3 386.6L342.3 386.9L343.3 386.4L344.3 387L345.3 386.3L346.3 386.9L347.3 386.8L348.3 386.9L349.3 387.2L350.3 387.2L351.3 386.4L352.3 386.9L353.3 387L354.3 386.7L355.3 386.7L356.3 387.6L357.3 387.5L358.3 387.1L359.3 386.1L360.3 387.8L361.3 386.2L362.3 386.8L363.3 386.9L364.3 387.1L365.3 387.3L366.3 386.8L367.3 386.5L368.3 387.2L369.3 387.4L370.3 387L371.3 387.1L372.3 386.2L373.3 388.1L374.3 386.8L375.3 387.2L376.3 386.9L377.3 386.4L378.3 387.6L379.3 387L380.3 386.8L381.3 387L382.3 386.2L383.3 387.1L384.3 387.6L385.3 386.6L386.3 387L387.3 386.6L388.3 387L389.3 386.6L390.3 386.7L391.3 386.3L392.3 386.6L393.3 386.5L394.3 387L395.3 386.7L396.3 387L397.3 386.9L398.3 387.5L399.3 387.1L400.3 386.6L401.3 386.5L402.3 387.6L403.3 386.9L404.3 387.2L405.3 387.1L406.3 386.7L407.3 386.6L408.3 387.6L409.3 387L410.3 387.4L411.3 386.3L412.3 387.5L413.3 386.5L414.3 386.8L415.3 388L416.3 386.8L417.3 386.7L418.3 386.6L419.3 386.1L420.3 387.5L421.3 387.8L422.3 387L423.3 387.1L424.3 386.7L425.3 387.2L426.3 387.3L427.3 387L428.3 387.4L429.3 386.6L430.3 386.7L431.3 386.6L432.3 387.5L433.3 386.9L434.3 386.9L435.3 386.8L436.3 386.9L437.3 387.2L438.3 387.3L439.3 387L440.3 386.9L441.3 387.1L442.3 387.2L443.3 387.2L444.3 386.5L445.3 387.3L446.3 386.7L447.3 385.9L448.3 386.8L449.3 387.2L450.3 387.9L451.3 387.4L452.3 387.8L453.3 387.3L454.3 386.7L455.3 387.5L456.3 387.7L457.3 385.9L458.3 385.9L459.3 386.5L460.3 386.1L461.3 386.3L462.3 386.6L463.3 386.2L464.3 387.7L465.3 387.2L466.3 386.5L467.3 387.8L468.3 387.2L469.3 386.8L470.3 387.1L471.3 387.2L472.3 387.4L473.3 386.6L474.3 386.8L475.3 386.8L476.3 386.5L477.3 387.1L478.3 386.8L479.3 387.6L480.3 386.1L481.3 387L482.3 386.5L483.3 386.4L484.3 386.5L485.3 387.2L486.3 386.3L487.3 386.3L488.3 386L488.8 386.1L489.3 386.7L489.8 386.8L490.3 386.3M510.8 385.8L511.3 386.7L511.8 386.5L512.3 386.1L512.8 386.1L513.8 386.9L514.8 386.3L515.8 386.2L516.8 386.2L517.8 387.6L518.8 386.2L519.8 386.5L520.8 386.9L521.8 386.2L522.8 386.4L523.8 386.5L524.8 386.4L525.8 386.4L526.8 386.1L527.8 387L528.8 386.9L529.8 386.7L530.8 387.8L531.8 387.2L532.8 386.6L533.8 386.7L534.8 387L535.8 386.9L536.8 386.3L537.8 386.4L538.8 386.9L539.8 387.4L540.8 387.2L541.8 386.4L542.8 387.6L543.8 387.3L544.8 387.7L545.8 387.8L546.8 387.9L547.8 387.8L548.8 386.4L549.8 387.1L550.8 386.6L551.8 386.5L552.8 387L553.8 387.4L554.8 388.2L555.8 387.3L556.8 385.7L557.8 386.8L558.8 387.1L559.8 387L560.8 387.5L561.8 386.8L562.8 387.2L563.8 387.6L564.8 387.4L565.8 387.4L566.8 387.2L567.8 386.7L568.8 386.3L569.8 386.7L570.8 386.2L571.8 388L572.8 387.4L573.8 387.4L574.8 386.5L575.8 386.8L576.8 387.1L577.8 386.8L578.8 387.7L579.8 386.9L580.8 386.9L581.8 387.4L582.8 388L583.8 387.2L584.8 388.1L585.8 387L586.8 386.7L587.8 387.1L588.8 387.1L589.8 387.4L590.8 386.6L591.8 386.9L592.8 388.6L593.8 387L594.8 387.6L595.8 386.9L596.8 386L597.8 387.5L598.8 388.1L599.8 386.4L600.8 386.4L601.8 386.7L602.8 386.9L603.8 386.2L604.8 387.6L605.8 386.8L606.8 386.5L607.8 387.3L608.8 386.9L609.8 386.5L610.8 386.3L611.8 386.2L612.8 385.8L613.3 386.4L613.8 386.3L614.3 386.3L614.8 385.4L615.3 385.9M636.3 386.1L636.8 386.3L637.3 386.8L637.8 385.8L638.3 386.3L639.3 386.6L640.3 386.7L641.3 386.6L642.3 387.4L643.3 387.2L644.3 386.9L645.3 387L646.3 387.3L647.3 387.5L648.3 386.6L649.3 387.6L650.3 387.8L651.3 387.1L652.3 386.9L653.3 386.6L654.3 386.7L655.3 387.3L656.3 386L657.3 387.4L658.3 387.5L659.3 386.2L660.3 386.3L661.3 386.4L662.3 387.4L663.3 386.7L664.3 387L665.3 386.8L666.3 386L667.3 386.7L668.3 386.6L669.3 387.1L670.3 385.9L671.3 387.5L672.3 386.7L673.3 387.2L674.3 386.4L675.3 387.6L676.3 386.9L677.3 387.1L678.3 386.6L679.3 386.1L680.3 386.8L681.3 385.7L682.3 387.4L683.3 386.2L684.3 387.1L685.3 386.6L686.3 386.6L686.8 386.3L687.3 386.9L687.8 385.3L688.3 385.6L688.8 386.6M708.8 384.7L709.3 386L709.8 386.4L710.3 386.5L710.8 386.1L711.3 386.7L712.3 386.4L713.3 386.3L714.3 386.4L715.3 386.9L716.3 387L717.3 386.5L718.3 387.2L719.3 387L720.3 387.1L721.3 386.9L722.3 386.5L723.3 387.3L724.3 386.3L725.3 386.9L726.3 385.8L727.3 387L728.3 387L729.3 387L730.3 386.5L731.3 386.7L732.3 387.4L733.3 387.1L734.3 386.6L735.3 386.7L736.3 386.5L737.3 386.7L738.3 387.2L739.3 386.8L740.3 387.4L741.3 386.8L742.3 387.5L743.3 387.1L744.3 386.5L745.3 386.7L746.3 387.1L747.3 387.2L748.3 387.6L749.3 387.4L750.3 387.2L751.3 387L752.3 387L753.3 386.1L754.3 386.6L755.3 387.3L756.3 386.9L757.3 386.9L758.3 387L759.3 387.1L760.3 386.9L761.3 387.1L762.3 386L763.3 387.4L764.3 387.2L765.3 386.2L766.3 387.4L767.3 387.5L768.3 387L769.3 386.8L770.3 387.8L771.3 387.7L772.3 387.1L773.3 386.3L774.3 386.1L775.3 387L776.3 387.5L777.3 387.8L778.3 386.6L779.3 387.4L780.3 387.3L781.3 386.2L782.3 387.1L783.3 387.6" fill="none" stroke="#1d8c20" stroke-width="1.8" stroke-linejoin="round"/>
<path d="M13.8 384.6L14.3 385.3L14.8 384.6L15.3 384.8L15.8 384.4L16.3 384.6L16.8 383.8L17.3 383.9L17.8 384L18.3 385.2L18.8 385.2L19.3 384.8L19.8 385L20.3 384L20.8 384.3L21.3 385L21.8 384.1L22.3 383.7L22.8 383.5L23.3 385.5L23.8 384.6L24.3 384.7L24.8 384.9L25.3 385.5L25.8 384L26.3 384.2L26.8 384.5L27.3 385.9L27.8 384L28.3 384L28.8 384.8L29.3 384.5L29.8 385.5L30.3 385L30.8 384.8L31.3 385.7L31.8 383.9L32.3 384.1L32.8 385.6L33.3 384.2L33.8 384.7L34.3 384.8L34.8 386L35.3 385.2L35.8 385.3L36.3 385.6L36.8 384.6L37.3 385.7L37.8 385.3L38.3 383.8L38.8 384.6L39.3 384.5L39.8 385.6L40.3 385.5L40.8 386L41.3 385.7L41.8 384.4L42.3 384.3L42.8 384.8L43.3 385.4L43.8 384.3L44.3 384.7L44.8 385.5L45.3 384.8L45.8 385.5L46.3 385.5L46.8 384.5L47.3 385.9L47.8 386.1L48.3 385.4L48.8 385.7L49.3 385.7L49.8 385.9L50.3 384.7L50.8 385.6L51.3 385.2L51.8 385.4L52.3 384.9L52.8 385.5L53.3 385L53.8 386.6L54.3 385.4L54.8 385.2L55.3 386.2L55.8 386.5L56.3 385.6L56.8 386.1L57.3 385.8L57.8 385.8L58.3 386L58.8 386.1L59.3 385.7L59.8 386.7L60.3 386.1L60.8 385.9L61.3 387L61.8 385.4L62.3 385.6L62.8 386.2L63.3 385.9L63.8 385.6L64.3 386.1L64.8 386L65.3 386L65.8 385.9L66.3 385.6L66.8 386.5L67.3 386L67.8 387.4L68.3 386.2L68.8 385.6L69.3 386.9L69.8 386.5L70.3 386.1L70.8 385L71.3 386.5L71.8 385.7L72.3 386.4L73.3 386.4L74.3 386.1L75.3 386.6L76.3 386.9L77.3 386.3L78.3 386.8L79.3 385.8L80.3 387.1L81.3 386.8L82.3 386.9L83.3 385.7L84.3 386.2L85.3 386.1L86.3 385.9L87.3 387.4L88.3 386.4L89.3 385.8L90.3 386.3L91.3 387L92.3 386.8L93.3 386.8L94.3 386.7L95.3 387L96.3 386.7L97.3 387.2L98.3 385.8L99.3 386.4L100.3 386.8L101.3 387.1L102.3 387L103.3 386.1L104.3 386.2L105.3 385.8L106.3 385.9L107.3 387.1L108.3 386.1L109.3 387.4L110.3 386.8L111.3 386.5L112.3 386.6L113.3 387L114.3 387.2L115.3 386.6L116.3 387.5L117.3 385.8L118.3 387.4L119.3 386.1L120.3 386.7L121.3 386.6L122.3 386.6L123.3 387.1L124.3 386.7L125.3 386.3L126.3 386.7L127.3 387.2L128.3 387.6L129.3 386.6L130.3 386.7L131.3 385.5L132.3 385.9L133.3 386.5L134.3 386.9L135.3 386.5L136.3 386.9L137.3 386.8L138.3 386.1L139.3 386.7L140.3 386.6L141.3 386.9L142.3 386.4L143.3 386L144.3 386.5L145.3 386.3L145.8 386.8L146.3 386.8L146.8 386.4L147.3 386.5L147.8 385.5L148.3 386.4L148.8 386.9L149.3 385.4L149.8 385.9L150.3 385.8L150.8 386.6L151.3 386L151.8 386.3L152.3 385.9L152.8 386.1L153.3 385.3L153.8 386.3L154.3 386L154.8 386.7L155.3 385.6L155.8 386.4L156.3 385.4L156.8 385.4L157.3 387L157.8 386.4L158.3 385.1L158.8 385.7L159.3 386.1L159.8 386.3L160.3 386L160.8 385.1L161.3 385.2L161.8 386L162.3 385.5L162.8 384.9L163.3 385.6L163.8 385.5L164.3 384.7L164.8 384.9L165.3 385.3L165.8 385.5L166.3 385.2L166.8 384.6L167.3 383.8L167.8 384.4L168.3 384.1L168.8 384.7L169.3 384.1L169.8 384.9L170.3 383.8L170.8 384.7L171.3 385.2L171.8 384.3L172.3 383.8L172.8 384.4L173.3 385.3L173.8 383.9L174.3 383.4L174.8 384.7L175.3 384L175.8 383.1L176.3 383.5L176.8 384.4L177.3 383L177.8 383.2L178.3 384.3L178.8 383.2L179.3 382.7L179.8 383.3L180.3 383.9L180.8 382.3L181.3 383.8L181.8 383.2L182.3 383.3L182.8 383.3L183.3 382.8L183.8 381.8L184.3 382.7L184.8 383L185.3 383.8L185.8 382.2L186.3 381.9L186.8 382.9L187.3 381.7L187.8 382.1L188.3 381.8L188.8 381.8L189.3 381.9L189.8 382L190.3 381.1L190.8 381.5L191.3 382.2L191.8 381.9L192.3 381.3L192.8 381.5L193.3 382.2L193.8 381.9L194.3 380.4L194.8 382.2L195.3 382.1L195.8 381.4L196.3 381.9L196.8 381.8L197.3 382.9L197.8 381.3L198.3 379.9L198.8 381.6L199.3 381.6L199.8 380L200.3 381.4L200.8 381.9L201.3 381.7L201.8 381.5L202.3 381.3L202.8 381.4L203.3 382L203.8 382.3L204.3 381.7L204.8 381.4L205.3 381.7L205.8 381.2L206.3 381.8L206.8 382.5L207.3 381.9L207.8 382.5L208.3 381.1L208.8 383.4L209.3 382.4L209.8 381.8L210.3 382.2L210.8 381.7L211.3 382.4L211.8 382L212.3 383.3L212.8 383.1L213.3 383L213.8 382.5L214.3 382.4L214.8 382.5L215.3 383.7L215.8 382.3L216.3 383.2L216.8 383L217.3 383.3L217.8 383.6L218.3 383.9L218.8 383.9L219.3 383.6L219.8 383.2L220.3 383.2L220.8 383.4L221.3 384L221.8 384.4L222.3 384.1L222.8 384.5L223.3 384.1L223.8 383.7L224.3 383.8L224.8 385L225.3 384.6L225.8 384.5L226.3 384.3L226.8 384.8L227.3 384.7L227.8 384.3L228.3 384.7L228.8 384.5L229.3 384.5L229.8 384.9L230.3 384.4L230.8 385.4L231.3 384.8L231.8 385.6L232.3 384.6L232.8 384.7L233.3 386.3L233.8 386.1L234.3 385.5L234.8 386.2L235.3 385.7L235.8 385.7L236.3 385.7L236.8 386.4L237.3 386.1L237.8 385L238.3 385.7L238.8 384.8L239.3 385.5L239.8 385.6L240.3 386.2L240.8 386.3L241.3 385.7L241.8 385.9L242.3 386.6L242.8 385.7L243.3 386.8L243.8 386.1L244.3 386.3L244.8 386.7L245.3 386.3L245.8 386.8L246.3 386.2L246.8 386.5L247.3 384.5L247.8 387.7L248.3 386.5L248.8 385.9L249.3 386.7L249.8 385.6L250.3 386.1L251.3 386.9L252.3 386.7L253.3 385.9L254.3 387.1L255.3 386.3L256.3 386.4L257.3 387L258.3 386.7L259.3 387.3L260.3 386.9L261.3 386.2L262.3 386.5L263.3 387.2L264.3 386.4L265.3 386.6L266.3 387.4L267.3 386.6L268.3 386.6L269.3 386.3L270.3 386.4L271.3 386.4L272.3 386.2L273.3 386.9L274.3 386L275.3 385.9L276.3 387.9L277.3 387.2L278.3 386.7L279.3 387.1L280.3 386.9L281.3 386.7L282.3 387.5L283.3 386.5L284.3 387.1L285.3 386.8L286.3 388.3L287.3 386.5L288.3 386.5L289.3 386.8L290.3 388.9L291.3 386.9L292.3 386.2L293.3 387.2L294.3 386.8L295.3 387.1L296.3 387.6L297.3 387.3L298.3 386.5L299.3 387.1L300.3 386.5L301.3 386.7L302.3 386.3L303.3 387.3L304.3 387.6L305.3 387.2L306.3 386.5L307.3 387.5L308.3 387.5L309.3 387.2L310.3 385.8L311.3 386.8L312.3 386.8L313.3 386.3L314.3 387.1L315.3 386.7L316.3 386.4L317.3 386.9L318.3 386.8L319.3 387.6L320.3 387L321.3 387.9L322.3 386.4L323.3 387.3L324.3 386.8L325.3 386.6L326.3 387.5L327.3 386.6L328.3 387.1L329.3 386.9L330.3 386.3L331.3 386.8L332.3 386.8L333.3 386.3L334.3 387L335.3 387.1L336.3 388.1L337.3 388.1L338.3 387.4L339.3 387.2L340.3 387L341.3 387.2L342.3 387.6L343.3 386.4L344.3 387.4L345.3 387.4L346.3 386.3L347.3 387.3L348.3 387.7L349.3 386.4L350.3 387.4L351.3 387.2L352.3 387.3L353.3 386.2L354.3 386.9L355.3 387.3L356.3 386.4L357.3 387.2L358.3 387.6L359.3 387.8L360.3 386.9L361.3 386.3L362.3 386.7L363.3 386.6L364.3 386.7L365.3 386.9L366.3 386.9L367.3 387.2L368.3 386.9L369.3 386.8L370.3 386.9L371.3 387.2L372.3 387L373.3 387L374.3 386L375.3 386.7L376.3 386.5L377.3 386.8L378.3 387L379.3 387.1L380.3 386.9L381.3 386.2L382.3 387.4L383.3 386L384.3 388L385.3 387.2L386.3 388L387.3 386.6L388.3 387.7L389.3 387.5L390.3 387.3L391.3 387.6L392.3 387.6L393.3 386.9L394.3 387.8L395.3 387L396.3 386.8L397.3 387L398.3 387.2L399.3 387.4L400.3 387.1L401.3 387.5L402.3 386.7L403.3 386L404.3 387.1L405.3 387.6L406.3 388.7L407.3 386.7L408.3 387.3L409.3 387.3L410.3 387.4L411.3 387.8L412.3 387.1L413.3 387.2L414.3 387.4L415.3 387.2L416.3 386.8L417.3 387.4L418.3 387.3L419.3 387.3L420.3 388.1L421.3 387.1L422.3 387.2L423.3 386.6L424.3 386.7L425.3 385.5L426.3 387.3L427.3 386.4L428.3 386.1L429.3 386.8L430.3 386.5L431.3 387.4L432.3 386.4L433.3 386.1L434.3 387L435.3 387.5L436.3 387.1L437.3 388L438.3 387.7L439.3 386.6L440.3 387.2L441.3 386.1L442.3 386.8L443.3 386.8L444.3 386.4L445.3 386.9L446.3 386.6L447.3 386.5L448.3 387.4L449.3 386.1L450.3 387.1L451.3 387.4L452.3 387.2L453.3 387.2L454.3 387.1L455.3 386.2L456.3 387.4L457.3 386.5L458.3 387.4L459.3 386.8L460.3 386.6L461.3 386.5L462.3 387L463.3 387.1L464.3 388.2L465.3 387.2L466.3 387.8L467.3 387L468.3 385.6L469.3 387.2L470.3 387.3L471.3 386.7L472.3 386.8L473.3 387.2L474.3 388L475.3 387.1L476.3 387.5L477.3 386.4L478.3 386L479.3 387.2L480.3 386L481.3 386.4L482.3 387.2L483.3 387.4L484.3 386.9L485.3 387.6L486.3 387.2L487.3 385.6L488.3 386.1L488.8 385.9L489.3 386.5L489.8 386.7L490.3 384.9L490.8 387.3L491.3 386.4L491.8 386.1L492.3 385.9L492.8 385.1L493.3 384.7L493.8 384.2L494.3 383.8L494.8 383.2L495.3 381.9L495.8 381.4L496.3 377.9L496.8 373L497.3 365.9L497.8 355L498.3 344.5L498.8 335.4L499.3 334.6L499.8 338.9L500.3 341.9L500.8 343.4L501.3 339.5L501.8 334.7L502.3 335.7L502.8 342L503.3 352.6L503.8 363.6L504.3 370.9L504.8 375.9L505.3 380.6L505.8 382.6L506.3 382.9L506.8 384.1L507.3 384.5L507.8 385L508.3 385.7L508.8 385.5L509.3 386L509.8 386.2L510.3 385.7L510.8 386.2L511.3 386L511.8 385.8L512.3 386.2L512.8 386.4L513.8 385.6L514.8 387L515.8 385.9L516.8 387.6L517.8 386.4L518.8 385.6L519.8 386.3L520.8 385.7L521.8 386.1L522.8 387.1L523.8 387.1L524.8 387.8L525.8 387.1L526.8 387.7L527.8 386.8L528.8 386.7L529.8 386.7L530.8 387.1L531.8 387.2L532.8 386.6L533.8 387L534.8 387.9L535.8 387.9L536.8 387.7L537.8 388L538.8 387.1L539.8 387L540.8 386.5L541.8 386.2L542.8 387.5L543.8 386.5L544.8 386.8L545.8 387.2L546.8 386.8L547.8 386.7L548.8 387.4L549.8 387.7L550.8 387.5L551.8 386.8L552.8 388L553.8 385.7L554.8 387.2L555.8 386.9L556.8 386.8L557.8 387.6L558.8 387.5L559.8 385.8L560.8 387.6L561.8 387.6L562.8 386.4L563.8 386.5L564.8 387L565.8 387.3L566.8 387.3L567.8 387.2L568.8 386.1L569.8 387.7L570.8 387.3L571.8 386.8L572.8 388.2L573.8 387.2L574.8 388.2L575.8 387.1L576.8 385.4L577.8 387.6L578.8 386.4L579.8 386.7L580.8 386.8L581.8 387.2L582.8 387.3L583.8 386.4L584.8 386.9L585.8 386.1L586.8 387.6L587.8 387.1L588.8 387.3L589.8 386.4L590.8 385.6L591.8 386.5L592.8 387.1L593.8 387.9L594.8 387.2L595.8 387.3L596.8 385.9L597.8 387.3L598.8 386.9L599.8 387.1L600.8 387.2L601.8 387.6L602.8 386.7L603.8 387.7L604.8 387.6L605.8 387.3L606.8 387.4L607.8 386.3L608.8 385.9L609.8 386.4L610.8 386.6L611.8 387.3L612.8 385.8L613.3 386.4L613.8 386.2L614.3 385.5L614.8 386.6L615.3 385.8L615.8 385.6L616.3 385.2L616.8 385.1L617.3 384.6L617.8 385.8L618.3 383.7L618.8 383.3L619.3 382.1L619.8 381.5L620.3 378L620.8 374.3L621.3 366.9L621.8 357.8L622.3 348.1L622.8 340.9L623.3 341.1L623.8 348.5L624.3 358.1L624.8 364.6L625.3 369.3L625.8 370.8L626.3 366.5L626.8 360L627.3 350.7L627.8 341.4L628.3 340.1L628.8 345.2L629.3 355.7L629.8 365.1L630.3 373.1L630.8 378L631.3 380.7L631.8 383.3L632.3 382.9L632.8 383.4L633.3 385.3L633.8 385.4L634.3 385.8L634.8 385.1L635.3 386.2L635.8 386.3L636.3 386.1L636.8 386L637.3 385.4L637.8 385.8L638.3 387.1L639.3 385.6L640.3 386.2L641.3 385.9L642.3 386.4L643.3 386.1L644.3 387.3L645.3 386.6L646.3 386.3L647.3 385.8L648.3 386.6L649.3 387L650.3 386.8L651.3 386.8L652.3 386.1L653.3 386.9L654.3 386.1L655.3 387.1L656.3 387.9L657.3 388L658.3 386.9L659.3 387.1L660.3 387.3L661.3 387.4L662.3 386L663.3 386.7L664.3 388L665.3 387.8L666.3 386.9L667.3 387.6L668.3 387.5L669.3 385.8L670.3 387.5L671.3 386.2L672.3 387.8L673.3 387L674.3 387.1L675.3 387.5L676.3 386.9L677.3 386.5L678.3 387.2L679.3 385.8L680.3 387.1L681.3 386.5L682.3 385.8L683.3 386.1L684.3 387.1L685.3 386.2L686.3 386.6L686.8 386L687.3 386.6L687.8 386.4L688.3 385.5L688.8 386.4L689.3 386.1L689.8 385L690.3 385.3L690.8 385.2L691.3 385.5L691.8 384.8L692.3 384.6L692.8 383.3L693.3 383.6L693.8 380.2L694.3 377.9L694.8 373.7L695.3 366.2L695.8 355.4L696.3 345.2L696.8 338L697.3 338.4L697.8 344.3L698.3 349.5L698.8 353.7L699.3 352.4L699.8 347.2L700.3 340.1L700.8 337.9L701.3 341.7L701.8 351.4L702.3 362.2L702.8 370.6L703.3 377.6L703.8 379.9L704.3 381.9L704.8 382.6L705.3 384.1L705.8 384.2L706.3 385.2L706.8 385.1L707.3 384.9L707.8 385.1L708.3 385.4L708.8 385.9L709.3 385.6L709.8 385.4L710.3 386L710.8 386.4L711.3 387.1L712.3 385.8L713.3 385.8L714.3 386.5L715.3 386.5L716.3 387.3L717.3 387.3L718.3 386.6L719.3 386.5L720.3 386.9L721.3 387.5L722.3 386.6L723.3 387.9L724.3 386.2L725.3 385.6L726.3 386.6L727.3 387.1L728.3 388L729.3 386.2L730.3 387L731.3 386.2L732.3 387L733.3 386.6L734.3 387.9L735.3 386.4L736.3 387.3L737.3 387.6L738.3 386.6L739.3 387.5L740.3 386.9L741.3 388L742.3 387.5L743.3 387.4L744.3 387.2L745.3 386.9L746.3 386.7L747.3 388.1L748.3 386.8L749.3 386.5L750.3 386.6L751.3 388.1L752.3 386.7L753.3 387.4L754.3 388.2L755.3 387.3L756.3 386.6L757.3 387.7L758.3 387.4L759.3 387L760.3 387.2L761.3 387.7L762.3 387.1L763.3 386.1L764.3 387.4L765.3 387.7L766.3 387L767.3 387.5L768.3 387.5L769.3 387.8L770.3 386.9L771.3 386.9L772.3 386.6L773.3 387.6L774.3 387L775.3 386.6L776.3 387.1L777.3 386.5L778.3 386.9L779.3 387.3L780.3 387.5L781.3 386.6L782.3 388L783.3 387.3" fill="none" stroke="#1d8c20" stroke-width="1.5" stroke-linejoin="round"/>
<path d="M57.8 425.9L58.3 425.8L58.8 426.1L59.3 426.3L59.8 426.2L60.3 425.9L60.8 425.9L61.3 426.5L61.8 426.2L62.3 426L62.8 426L63.3 426.4L63.8 425.9L64.3 425.7L64.8 426.5L65.3 426.2L65.8 426L66.3 425.7L66.8 426.2L67.3 427.2L67.8 427L68.3 426L68.8 426.5L69.3 426.9L69.8 427.2L70.3 426.5L70.8 427.2L71.3 426.3L71.8 426.7L72.3 426.3L73.3 426L74.3 426.7L75.3 426.3L76.3 426.1L77.3 426.4L78.3 426.1L79.3 426.5L80.3 426.6L81.3 427.2L82.3 427.4L83.3 427.3L84.3 428.6L85.3 427.1L86.3 425.9L87.3 427L88.3 427.4L89.3 427.2L90.3 426.7L91.3 427.3L92.3 427L93.3 426.2L94.3 427L95.3 427L96.3 427.2L97.3 426.8L98.3 426.7L99.3 426.6L100.3 426.4L101.3 426.4L102.3 426.9L103.3 426.6L104.3 427.3L105.3 427.3L106.3 427L107.3 427.1L108.3 426.3L109.3 426.6L110.3 427L111.3 426.2L112.3 427.1L113.3 427.4L114.3 427.7L115.3 427.4L116.3 426.8L117.3 426.9L118.3 427.1L119.3 427L120.3 426.1L121.3 426.4L122.3 427.4L123.3 426.4L124.3 426.6L125.3 427L126.3 427.2L127.3 426.2L128.3 426.6L129.3 426.3L130.3 426.8L131.3 426.7L132.3 427.5L133.3 427.3L134.3 426.1L135.3 426.8L136.3 426.4L137.3 426.7L138.3 426.2L139.3 427.5L140.3 426.8L141.3 427L142.3 427.1L143.3 425.9L144.3 427.6L145.3 426.4L146.3 425.9L147.3 426.7L147.8 426.5L148.3 426.4L148.8 426.3L149.3 426.9L149.8 425.8L150.3 426.4L150.8 426.3L151.3 426.3L151.8 425.5L152.3 426L152.8 427L153.3 426.4L153.8 426.8L154.3 426L154.8 426.6L155.3 425.5L155.8 426L156.3 426.2L156.8 425.5M240.3 426.7L240.8 425.9L241.3 426.5L241.8 426.6L242.3 426.2L242.8 425.9L243.3 426.2L243.8 426.7L244.3 426.7L244.8 426.7L245.3 425.8L245.8 426.4L246.3 425.9L246.8 426.5L247.3 426.6L247.8 426.6L248.3 426.8L249.3 427.7L250.3 426.8L251.3 426.3L252.3 426.8L253.3 426.3L254.3 426.8L255.3 427L256.3 426.8L257.3 427.5L258.3 426.3L259.3 425.8L260.3 426.8L261.3 427.4L262.3 427.1L263.3 426.9L264.3 426.9L265.3 426.8L266.3 426L267.3 426.9L268.3 425.9L269.3 427L270.3 428L271.3 427.1L272.3 426.5L273.3 426.5L274.3 427.2L275.3 427.4L276.3 427L277.3 427.6L278.3 427.8L279.3 427.8L280.3 427.2L281.3 427.5L282.3 427.1L283.3 426.3L284.3 426.4L285.3 426.6L286.3 427.1L287.3 427L288.3 426.7L289.3 425.9L290.3 427L291.3 426.8L292.3 427L293.3 426.6L294.3 427.4L295.3 427L296.3 427.8L297.3 427.9L298.3 426.8L299.3 427.7L300.3 426.8L301.3 427.6L302.3 427L303.3 426.8L304.3 427.1L305.3 427.3L306.3 427L307.3 426.8L308.3 426.8L309.3 427.2L310.3 427L311.3 427.2L312.3 427L313.3 426.3L314.3 426.3L315.3 426.5L316.3 427.2L317.3 426.9L318.3 427.2L319.3 426.8L320.3 427L321.3 427L322.3 427.9L323.3 427.3L324.3 427.4L325.3 426.5L326.3 426.7L327.3 427.5L328.3 427.5L329.3 426.6L330.3 427.7L331.3 426.7L332.3 426.9L333.3 426.9L334.3 427.8L335.3 427.1L336.3 427.1L337.3 427.6L338.3 427.8L339.3 427.7L340.3 426.8L341.3 427.5L342.3 426.8L343.3 427.7L344.3 428L345.3 426.4L346.3 427.6L347.3 427.6L348.3 427.1L349.3 427.4L350.3 427.5L351.3 427.2L352.3 427.4L353.3 426.5L354.3 427.2L355.3 427L356.3 426.8L357.3 427.2L358.3 427.3L359.3 426.2L360.3 427.4L361.3 427.3L362.3 426.5L363.3 427.1L364.3 427L365.3 427.3L366.3 426.9L367.3 427L368.3 427.5L369.3 428.3L370.3 426.6L371.3 427.6L372.3 427.6L373.3 427.1L374.3 426.5L375.3 427.2L376.3 426.7L377.3 427.2L378.3 427.7L379.3 427.7L380.3 427.4L381.3 427.5L382.3 427.1L383.3 427.3L384.3 427L385.3 426.9L386.3 427.4L387.3 427.7L388.3 427L389.3 427.2L390.3 427.6L391.3 427.4L392.3 426.8L393.3 427.7L394.3 426.9L395.3 427.8L396.3 427.2L397.3 427.1L398.3 427.3L399.3 427.4L400.3 428L401.3 427.6L402.3 428.5L403.3 427.1L404.3 427.6L405.3 427.5L406.3 427.8L407.3 426.2L408.3 426.9L409.3 427L410.3 427.4L411.3 427.4L412.3 427.9L413.3 427.2L414.3 427.2L415.3 426.7L416.3 428.1L417.3 426.6L418.3 427.7L419.3 427.2L420.3 426.2L421.3 427L422.3 427L423.3 427.5L424.3 426.6L425.3 427.5L426.3 427.2L427.3 426.4L428.3 426.4L429.3 427.3L430.3 427.2L431.3 427.5L432.3 426.9L433.3 427.3L434.3 425.6L435.3 426.9L436.3 427.4L437.3 426.4L438.3 427.4L439.3 427.8L440.3 427.3L441.3 427.6L442.3 428.2L443.3 427.2L444.3 427.1L445.3 427.5L446.3 427.4L447.3 427.7L448.3 427.7L449.3 427.6L450.3 427.5L451.3 427.3L452.3 427.3L453.3 428.2L454.3 426.7L455.3 427.2L456.3 427.6L457.3 426.9L458.3 427.3L459.3 427L460.3 428L461.3 427.3L462.3 427.1L463.3 427.4L464.3 427.3L465.3 427.5L466.3 427.4L467.3 427.2L468.3 427.3L469.3 427.6L470.3 427.9L471.3 427.7L472.3 427.3L473.3 428L474.3 427.7L475.3 427.1L476.3 426.7L477.3 427.5L478.3 427L479.3 426.9L480.3 427.6L481.3 427.1L482.3 427.6L483.3 426.3L484.3 426.7L485.3 426.8L486.3 426.2L487.3 426.7L488.3 427L489.3 425.8L489.8 426.9L490.3 426.5L490.8 426.4L491.3 426.1M510.3 426.3L510.8 426.1L511.3 426.3L511.8 426.8L512.3 427L513.3 426.4L514.3 426.9L515.3 427L516.3 426.6L517.3 427.4L518.3 426.8L519.3 426.9L520.3 426.5L521.3 427.2L522.3 426.8L523.3 427.3L524.3 427.1L525.3 427.9L526.3 427.3L527.3 427.2L528.3 427.2L529.3 426.8L530.3 427.9L531.3 427.6L532.3 427.2L533.3 427L534.3 427.2L535.3 427.1L536.3 426.8L537.3 427.9L538.3 427.3L539.3 426.8L540.3 427.2L541.3 427.6L542.3 427.6L543.3 427.1L544.3 427L545.3 427.6L546.3 427.3L547.3 427L548.3 427.4L549.3 426L550.3 427.6L551.3 426.5L552.3 427.3L553.3 427.3L554.3 426.9L555.3 427.4L556.3 427.1L557.3 427.2L558.3 427L559.3 427L560.3 426.6L561.3 427.2L562.3 427.4L563.3 427.9L564.3 427L565.3 427.8L566.3 427.2L567.3 426.6L568.3 427.3L569.3 427.6L570.3 427.4L571.3 427.1L572.3 427L573.3 427.3L574.3 427L575.3 427.3L576.3 427.3L577.3 427.5L578.3 427.4L579.3 427.1L580.3 426.5L581.3 427.9L582.3 427.5L583.3 427.4L584.3 426.7L585.3 427.7L586.3 427.3L587.3 426.6L588.3 426.4L589.3 427L590.3 426.8L591.3 427.2L592.3 427.1L593.3 426.8L594.3 427.1L595.3 427.6L596.3 427L597.3 427L598.3 427.5L599.3 427.7L600.3 427.1L601.3 427.6L602.3 426.6L603.3 427.4L604.3 426.5L605.3 427.4L606.3 427L607.3 426.8L608.3 426.2L609.3 427.3L610.3 426.9L611.3 426.9L612.3 426.7L613.3 426.4L613.8 426.4L614.3 426.4L614.8 426.6L615.3 426.4L615.8 425.8M636.3 425.9L636.8 425.9L637.3 427.1L637.8 426.6L638.3 426.7L639.3 426.8L640.3 426.8L641.3 426.7L642.3 426.6L643.3 426.8L644.3 426.6L645.3 426.7L646.3 426.9L647.3 427.2L648.3 427.1L649.3 427.1L650.3 426.4L651.3 427.9L652.3 427.3L653.3 427.2L654.3 427L655.3 427.6L656.3 426.9L657.3 428L658.3 426.8L659.3 426.3L660.3 427.3L661.3 426.7L662.3 427L663.3 427.1L664.3 428.4L665.3 427.8L666.3 427.6L667.3 426.7L668.3 427L669.3 427.3L670.3 427.3L671.3 427.2L672.3 426.8L673.3 427.8L674.3 426.3L675.3 427.1L676.3 426.7L677.3 427.3L678.3 427.4L679.3 426.6L680.3 426.7L681.3 427.1L682.3 426.6L683.3 427.8L684.3 427L685.3 427.1L686.3 426.8L686.8 425.9L687.3 427.2L687.8 426.3L688.3 425.8L688.8 427M708.8 426.8L709.3 425.6L709.8 426.4L710.3 426.9L710.8 426.3L711.8 426.5L712.8 425.8L713.8 426.1L714.8 426.7L715.8 426.3L716.8 427.1L717.8 426.1L718.8 427L719.8 427.2L720.8 427.2L721.8 427.2L722.8 427.2L723.8 427.3L724.8 426.7L725.8 427.5L726.8 427.2L727.8 427L728.8 427.2L729.8 427.2L730.8 428.1L731.8 427.2L732.8 426.8L733.8 426.9L734.8 426.8L735.8 427.9L736.8 426.7L737.8 427.2L738.8 427.2L739.8 427.8L740.8 427.7L741.8 428L742.8 427.1L743.8 426.8L744.8 427.8L745.8 427.2L746.8 426.9L747.8 426.8L748.8 427.5L749.8 427.5L750.8 426.5L751.8 428L752.8 427.2L753.8 427.7L754.8 427.1L755.8 427.4L756.8 427.1L757.8 427.2L758.8 428.2L759.8 427.6L760.8 426.7L761.8 427.5L762.8 427.4L763.8 428.2L764.8 427.5L765.8 427.2L766.8 427L767.8 427.6L768.8 426.5L769.8 427.1L770.8 427.3L771.8 426.9L772.8 426.6L773.8 427.7L774.8 426.1L775.8 427.1L776.8 426.4L777.8 427.5L778.8 427L779.8 427.1L780.8 427.1L781.8 427.5L782.8 426.6" fill="none" stroke="#2c8a1a" stroke-width="1.8" stroke-linejoin="round"/>
<path d="M13.8 425.3L14.3 424.1L14.8 423.8L15.3 423.7L15.8 423.9L16.3 425.1L16.8 424.8L17.3 424.8L17.8 424.3L18.3 424.8L18.8 424.6L19.3 424.7L19.8 425.1L20.3 424.8L20.8 425.2L21.3 424.7L21.8 425.6L22.3 425.8L22.8 424.7L23.3 424.9L23.8 424.8L24.3 424.6L24.8 425.5L25.3 425L25.8 423.6L26.3 425.6L26.8 425.3L27.3 424.1L27.8 425.1L28.3 424.8L28.8 425.1L29.3 425L29.8 426.5L30.3 425.6L30.8 426.3L31.3 425.7L31.8 425L32.3 425.8L32.8 426.1L33.3 424.9L33.8 425.5L34.3 425.6L34.8 425.6L35.3 425.7L35.8 424.2L36.3 425.9L36.8 425.9L37.3 425.2L37.8 426.3L38.3 425.5L38.8 426.5L39.3 425.6L39.8 425.7L40.3 425.8L40.8 425.8L41.3 426.2L41.8 425.2L42.3 425.1L42.8 425.1L43.3 426.1L43.8 425.4L44.3 425.8L44.8 425.4L45.3 425.2L45.8 425.4L46.3 425.6L46.8 425.4L47.3 426.5L47.8 426.1L48.3 426.2L48.8 425.9L49.3 425.8L49.8 424.8L50.3 425.8L50.8 425.4L51.3 426.3L51.8 425.8L52.3 426L52.8 425L53.3 426.4L53.8 426.2L54.3 424.7L54.8 425.7L55.3 425.6L55.8 426.2L56.3 427.5L56.8 425.8L57.3 427L57.8 426.7L58.3 425.5L58.8 426.3L59.3 426.5L59.8 426.2L60.3 426.5L60.8 426.2L61.3 426.4L61.8 426.7L62.3 425.8L62.8 426.6L63.3 426.4L63.8 426.8L64.3 427.1L64.8 427L65.3 427.1L65.8 426.6L66.3 426.1L66.8 426.5L67.3 427.1L67.8 425.8L68.3 426.7L68.8 425.5L69.3 426.2L69.8 426.2L70.3 425.7L70.8 426.7L71.3 427L71.8 426.8L72.3 426.8L73.3 426.2L74.3 425.9L75.3 427L76.3 427.1L77.3 426.3L78.3 426.1L79.3 426.8L80.3 426.7L81.3 426.2L82.3 426.6L83.3 428.1L84.3 426.5L85.3 426.7L86.3 426.3L87.3 426.6L88.3 426.8L89.3 427.3L90.3 428L91.3 427.2L92.3 426.7L93.3 427.6L94.3 427L95.3 427.4L96.3 427.1L97.3 427.8L98.3 427.1L99.3 427.4L100.3 426L101.3 426.6L102.3 426.7L103.3 427L104.3 427.6L105.3 427L106.3 426.9L107.3 427.6L108.3 427L109.3 426.7L110.3 427.3L111.3 427.1L112.3 427.2L113.3 427.7L114.3 425.8L115.3 428.1L116.3 427.1L117.3 426.3L118.3 427.7L119.3 427L120.3 426.4L121.3 427.1L122.3 426.9L123.3 426.6L124.3 426.9L125.3 426.8L126.3 426.9L127.3 427.8L128.3 425.3L129.3 425.8L130.3 427.6L131.3 426.8L132.3 427.4L133.3 425.9L134.3 426.8L135.3 426.2L136.3 427L137.3 427.3L138.3 427L139.3 426.7L140.3 425.9L141.3 426.6L142.3 427L143.3 426.8L144.3 427.3L145.3 426.1L146.3 426.9L147.3 426.6L147.8 426.5L148.3 427L148.8 427.3L149.3 426.1L149.8 426.9L150.3 425.8L150.8 426.9L151.3 426.2L151.8 427.1L152.3 426.1L152.8 426.6L153.3 427L153.8 426.2L154.3 426.1L154.8 426.6L155.3 426.8L155.8 426L156.3 426.3L156.8 425.5L157.3 425.5L157.8 425.2L158.3 427L158.8 426.1L159.3 424.9L159.8 425.4L160.3 426L160.8 426.4L161.3 426.7L161.8 426.3L162.3 425.2L162.8 426L163.3 425.1L163.8 425.9L164.3 425.5L164.8 426.4L165.3 425.1L165.8 426.2L166.3 425.9L166.8 424.7L167.3 424.6L167.8 425.4L168.3 425.5L168.8 424.5L169.3 425.4L169.8 424.1L170.3 425.9L170.8 424.5L171.3 425.2L171.8 424.6L172.3 425.2L172.8 425.2L173.3 423.8L173.8 424.9L174.3 424.7L174.8 424.1L175.3 424.9L175.8 424.7L176.3 424.9L176.8 423.2L177.3 424.4L177.8 424L178.3 424.1L178.8 425.1L179.3 424.3L179.8 424.6L180.3 423.5L180.8 423.6L181.3 423.3L181.8 423.5L182.3 423.5L182.8 424.2L183.3 423.1L183.8 424.2L184.3 423L184.8 424.4L185.3 423L185.8 422.9L186.3 423.3L186.8 423L187.3 422.7L187.8 423.5L188.3 423.3L188.8 423.5L189.3 422.1L189.8 423.4L190.3 421.7L190.8 422.9L191.3 422.4L191.8 422.2L192.3 422.8L192.8 422L193.3 422.2L193.8 421.9L194.3 423L194.8 423L195.3 422.4L195.8 422.4L196.3 422L196.8 422.9L197.3 422.8L197.8 422L198.3 421.7L198.8 423L199.3 421.7L199.8 422.7L200.3 422.9L200.8 421.5L201.3 422.5L201.8 422.7L202.3 422.9L202.8 423.2L203.3 422L203.8 422.7L204.3 422.7L204.8 423.3L205.3 422.7L205.8 422.9L206.3 422L206.8 422.9L207.3 422.7L207.8 423L208.3 422.1L208.8 422.5L209.3 423L209.8 422.6L210.3 423.6L210.8 423.5L211.3 423L211.8 424L212.3 423.5L212.8 423.6L213.3 423.6L213.8 424.5L214.3 423.1L214.8 424.2L215.3 424L215.8 423.2L216.3 424.1L216.8 423.7L217.3 423.5L217.8 423.8L218.3 424.1L218.8 423.8L219.3 423.7L219.8 424.2L220.3 424.2L220.8 423.9L221.3 423.9L221.8 423.9L222.3 424.2L222.8 425.1L223.3 424.9L223.8 424.2L224.3 424.7L224.8 424.7L225.3 425L225.8 425.1L226.3 424L226.8 424.3L227.3 425.2L227.8 425L228.3 425.6L228.8 424.8L229.3 424.2L229.8 426.8L230.3 426.3L230.8 425.2L231.3 426.3L231.8 425.2L232.3 425.1L232.8 426.1L233.3 424.4L233.8 425L234.3 425L234.8 426.6L235.3 425.1L235.8 425.9L236.3 425.9L236.8 426.1L237.3 426.2L237.8 426.6L238.3 426.2L238.8 425.8L239.3 426.2L239.8 426.3L240.3 426.5L240.8 426.1L241.3 425L241.8 426.1L242.3 425.7L242.8 425.9L243.3 425.7L243.8 426L244.3 426.6L244.8 426.2L245.3 426.3L245.8 425.9L246.3 426.8L246.8 427.5L247.3 426.1L247.8 426.3L248.3 425.7L249.3 426.8L250.3 426.5L251.3 427.5L252.3 427.2L253.3 426.4L254.3 428L255.3 427.2L256.3 425.7L257.3 426.6L258.3 427.4L259.3 426.8L260.3 427L261.3 427.5L262.3 426.3L263.3 426.8L264.3 426.9L265.3 427.6L266.3 428.4L267.3 426.7L268.3 426.6L269.3 426.1L270.3 426.5L271.3 426.8L272.3 426.4L273.3 427.9L274.3 427L275.3 427L276.3 427.7L277.3 427.5L278.3 427.2L279.3 426.6L280.3 426.7L281.3 427.4L282.3 428.8L283.3 427.8L284.3 427.3L285.3 425.8L286.3 427.7L287.3 427L288.3 426.5L289.3 427.2L290.3 427.5L291.3 427L292.3 427.8L293.3 427.7L294.3 427.3L295.3 427.3L296.3 426.5L297.3 426.3L298.3 428.3L299.3 427.5L300.3 426.4L301.3 428.1L302.3 427.9L303.3 427L304.3 426L305.3 428.2L306.3 427.8L307.3 426.5L308.3 426.1L309.3 426.1L310.3 428.1L311.3 427.3L312.3 427.1L313.3 427.4L314.3 427.3L315.3 427.3L316.3 427.3L317.3 427.4L318.3 427.1L319.3 426.8L320.3 427.7L321.3 427.3L322.3 426.8L323.3 426.8L324.3 427.3L325.3 427.5L326.3 427.4L327.3 427.1L328.3 426L329.3 427.6L330.3 428L331.3 426.9L332.3 427.6L333.3 426.1L334.3 427.4L335.3 426.8L336.3 427.2L337.3 427.1L338.3 427.4L339.3 426.3L340.3 426.7L341.3 427.3L342.3 427.8L343.3 427.4L344.3 426.5L345.3 427.1L346.3 426.9L347.3 427.1L348.3 427.5L349.3 426.4L350.3 426.5L351.3 427.5L352.3 427.5L353.3 426.9L354.3 426.1L355.3 428.3L356.3 426.9L357.3 427.3L358.3 427.3L359.3 426L360.3 427.5L361.3 426.8L362.3 427.6L363.3 427.2L364.3 427L365.3 425.9L366.3 427.4L367.3 427.2L368.3 427L369.3 427L370.3 427.5L371.3 427.5L372.3 425.9L373.3 426.8L374.3 427L375.3 427L376.3 427.1L377.3 427.1L378.3 426.6L379.3 427.3L380.3 427.1L381.3 428L382.3 427.1L383.3 427.7L384.3 426.9L385.3 427.6L386.3 427.2L387.3 426.1L388.3 427.1L389.3 427.7L390.3 427.3L391.3 427.7L392.3 427.5L393.3 426.9L394.3 427.1L395.3 427.9L396.3 427.5L397.3 428L398.3 426.7L399.3 427L400.3 426.8L401.3 427.2L402.3 427.7L403.3 427L404.3 427.5L405.3 427.5L406.3 428L407.3 427.8L408.3 427L409.3 426.9L410.3 428.4L411.3 426.6L412.3 427.7L413.3 427.2L414.3 426.7L415.3 427.1L416.3 426.7L417.3 427.8L418.3 428.1L419.3 426.4L420.3 427.4L421.3 426.9L422.3 427.8L423.3 427.4L424.3 426.6L425.3 427.6L426.3 427.7L427.3 426.8L428.3 428.3L429.3 427.3L430.3 426.3L431.3 427.5L432.3 426.8L433.3 427.1L434.3 427.2L435.3 426.5L436.3 427L437.3 426.7L438.3 427.2L439.3 427.6L440.3 427.6L441.3 427.9L442.3 426.2L443.3 427.4L444.3 427L445.3 426.6L446.3 426.9L447.3 426.4L448.3 427.6L449.3 427.5L450.3 427.3L451.3 427.8L452.3 426.5L453.3 427.4L454.3 427.4L455.3 426.9L456.3 428.4L457.3 427L458.3 427.8L459.3 427.4L460.3 427.3L461.3 428L462.3 426.9L463.3 426.4L464.3 426.6L465.3 427L466.3 427.8L467.3 427.5L468.3 426.3L469.3 427.8L470.3 427.2L471.3 426.5L472.3 427.3L473.3 427.4L474.3 426.6L475.3 427.4L476.3 427.1L477.3 427L478.3 427.5L479.3 427.8L480.3 427.1L481.3 426.6L482.3 427.5L483.3 427.4L484.3 427.7L485.3 427.4L486.3 427L487.3 427.8L488.3 427.7L489.3 427L489.8 426.1L490.3 426.5L490.8 427.3L491.3 426L491.8 425.6L492.3 426.1L492.8 426L493.3 425.4L493.8 425.1L494.3 424.8L494.8 424.5L495.3 424.2L495.8 422.6L496.3 420.4L496.8 417.1L497.3 412.1L497.8 404.5L498.3 395.6L498.8 385.9L499.3 380.6L499.8 381.9L500.3 383.5L500.8 384.2L501.3 382.9L501.8 380.5L502.3 381.4L502.8 388.3L503.3 397.7L503.8 406.7L504.3 412.8L504.8 419L505.3 420.8L505.8 422.7L506.3 423.9L506.8 424.8L507.3 425L507.8 424.6L508.3 426.2L508.8 425.2L509.3 425.4L509.8 426.1L510.3 426.2L510.8 425.9L511.3 426L511.8 426.7L512.3 427.1L513.3 425.4L514.3 426.2L515.3 426.2L516.3 427.6L517.3 426.9L518.3 426.5L519.3 427.5L520.3 427.5L521.3 427.3L522.3 426.3L523.3 426.8L524.3 426.8L525.3 426.4L526.3 427.7L527.3 426.9L528.3 426.3L529.3 425.9L530.3 427.2L531.3 427.7L532.3 428.2L533.3 427.6L534.3 427.5L535.3 425.9L536.3 428.1L537.3 427.5L538.3 427.1L539.3 426.9L540.3 427.8L541.3 426.9L542.3 427.6L543.3 428.5L544.3 427.3L545.3 427L546.3 427.6L547.3 427.7L548.3 427L549.3 427.1L550.3 427.4L551.3 427L552.3 428L553.3 427.4L554.3 427.3L555.3 427L556.3 426.9L557.3 427.6L558.3 427.2L559.3 427.9L560.3 426.4L561.3 427.3L562.3 427.3L563.3 427.7L564.3 427.1L565.3 426.7L566.3 425.8L567.3 428.2L568.3 426.8L569.3 427.7L570.3 427L571.3 427.5L572.3 427.4L573.3 427.2L574.3 427.7L575.3 427.2L576.3 427L577.3 427.1L578.3 427.2L579.3 427L580.3 426.5L581.3 428.1L582.3 427L583.3 425.9L584.3 427.1L585.3 427.6L586.3 427L587.3 427.2L588.3 426.6L589.3 426.7L590.3 426.8L591.3 427.2L592.3 427.2L593.3 427L594.3 428.1L595.3 427.4L596.3 426.4L597.3 427.6L598.3 427.5L599.3 427.2L600.3 427.8L601.3 427.7L602.3 427L603.3 427.2L604.3 426.5L605.3 427.3L606.3 427.1L607.3 426.7L608.3 427.8L609.3 426.4L610.3 427.2L611.3 426.6L612.3 426.9L613.3 426.2L613.8 428.3L614.3 428.1L614.8 426.6L615.3 425.9L615.8 426.6L616.3 425.8L616.8 425.4L617.3 426.2L617.8 425.3L618.3 425.7L618.8 425.2L619.3 423.9L619.8 423.2L620.3 421L620.8 420L621.3 415.1L621.8 407.9L622.3 399.9L622.8 390.6L623.3 384.3L623.8 383.9L624.3 391.5L624.8 399.7L625.3 407.4L625.8 411L626.3 410.2L626.8 407.6L627.3 400.5L627.8 393L628.3 385.3L628.8 383.7L629.3 389.6L629.8 396.9L630.3 407.1L630.8 414.6L631.3 418.6L631.8 421.3L632.3 423.3L632.8 423.6L633.3 425L633.8 425.7L634.3 425.8L634.8 425.2L635.3 426.2L635.8 425.9L636.3 426.3L636.8 427.4L637.3 426.3L637.8 426.5L638.3 427.4L639.3 427.3L640.3 426.4L641.3 426.4L642.3 427.1L643.3 425.8L644.3 427.1L645.3 426.9L646.3 427.3L647.3 427.6L648.3 426.5L649.3 427L650.3 427.1L651.3 426.8L652.3 427L653.3 427.2L654.3 427.1L655.3 427.9L656.3 427.1L657.3 426.2L658.3 427.6L659.3 426.5L660.3 426.5L661.3 427.1L662.3 427.8L663.3 426.4L664.3 426.8L665.3 427.8L666.3 427.5L667.3 427.8L668.3 426.7L669.3 426.8L670.3 426.4L671.3 427.5L672.3 428.3L673.3 427.1L674.3 427.5L675.3 426.9L676.3 426.6L677.3 426.2L678.3 426.8L679.3 427.7L680.3 427.1L681.3 426.4L682.3 427.4L683.3 426.9L684.3 426.8L685.3 426.8L686.3 426.2L686.8 426.6L687.3 427L687.8 426.6L688.3 426.6L688.8 425.5L689.3 426.3L689.8 425.9L690.3 425.8L690.8 425.5L691.3 425L691.8 425.1L692.3 425.3L692.8 424.3L693.3 423.3L693.8 421.6L694.3 418.1L694.8 414.3L695.3 407.2L695.8 397.9L696.3 387.6L696.8 380.4L697.3 381.5L697.8 386L698.3 392.9L698.8 397.2L699.3 394.8L699.8 388.6L700.3 382.6L700.8 380.5L701.3 385.2L701.8 393.1L702.3 403.9L702.8 411.7L703.3 416.9L703.8 420.9L704.3 422.6L704.8 423.3L705.3 424.4L705.8 423.9L706.3 424.7L706.8 426.1L707.3 426.3L707.8 426.7L708.3 426.7L708.8 425.6L709.3 426.8L709.8 425.4L710.3 425.3L710.8 426.7L711.8 427.3L712.8 427.1L713.8 426.4L714.8 426.2L715.8 427.1L716.8 426.6L717.8 426.4L718.8 427L719.8 427.4L720.8 427.7L721.8 426L722.8 427.6L723.8 427.9L724.8 427L725.8 426.4L726.8 427.8L727.8 426.9L728.8 427L729.8 426.8L730.8 427.4L731.8 427.4L732.8 427L733.8 427.2L734.8 427.9L735.8 427.5L736.8 426.6L737.8 427.9L738.8 428.4L739.8 426.6L740.8 426.9L741.8 427.8L742.8 427.3L743.8 426.4L744.8 427.5L745.8 426.5L746.8 427.2L747.8 426L748.8 427.5L749.8 427.4L750.8 426.6L751.8 426.7L752.8 426.5L753.8 426.8L754.8 426.5L755.8 426.4L756.8 427.3L757.8 427.1L758.8 426.9L759.8 427.9L760.8 427.3L761.8 427.7L762.8 427.4L763.8 428L764.8 426.8L765.8 427.3L766.8 427.2L767.8 427.6L768.8 428.4L769.8 427.3L770.8 428.9L771.8 427.2L772.8 426.6L773.8 426.6L774.8 428.2L775.8 427.2L776.8 427.6L777.8 426.7L778.8 427.9L779.8 426.1L780.8 427.7L781.8 427L782.8 427.3" fill="none" stroke="#2c8a1a" stroke-width="1.5" stroke-linejoin="round"/>
<path d="M13.8 466.1L14.8 466.5L15.8 467.1L16.8 465.9L17.8 466L18.8 466.1L19.8 465.3L20.8 466L21.8 465.8L22.8 466L23.8 466L24.8 465.5L25.8 465.9L26.8 465.7L27.8 466L28.8 465.7L29.8 465.3L30.8 466.3L31.8 466.2L32.8 466.3L33.8 465.2L34.8 465.7L35.8 465.5L36.8 465.4L37.8 466.2L38.8 466.5L39.8 465.9L40.8 465.7L41.8 465.6L42.8 465.8L43.8 465.6L44.8 464.5L45.8 465.7L46.8 465.7L47.8 466.1L48.8 465.5L49.8 465.6L50.8 466.1L51.8 465.9L52.8 466L53.8 465.6L54.8 466.1L55.8 466.2L56.8 466.2L57.8 466.2L58.8 465.4L59.8 465.3L60.8 465L61.8 465.5L62.8 465.3L63.8 465.4L64.8 466.1L65.8 466L66.8 466.3L67.8 466.1L68.8 466.1L69.8 465.9L70.8 466L71.8 465.5L72.8 466L73.8 465.7L74.8 465.3L75.8 465.6L76.8 465.7L77.8 465.4L78.8 465.6L79.8 466L80.8 466L81.8 466.7L82.8 466.2L83.8 465.8L84.8 465.6L85.8 465.9L86.8 465.2L87.8 466.4L88.8 465.3L89.8 465.8L90.8 465.7L91.8 465.9L92.8 465.1L93.8 464.8L94.8 466.5L95.8 466.1L96.8 465.2L97.8 464.9L98.8 465.2L99.8 465.1L100.8 465.5L101.8 465.4L102.8 465.2L103.8 465.2L104.8 465.2L105.8 466.2L106.8 465.7L107.8 465.5L108.8 465.1L109.8 465.6L110.3 466L110.8 465.7L111.3 465.3L111.8 465.4L112.3 464.1L112.8 465M147.3 464.5L147.8 464.4L148.3 464.8L148.8 464.6L149.3 465L149.8 464.8L150.3 465.4L151.3 465.3L152.3 465.4L153.3 465.4L154.3 464.8L155.3 465.4L156.3 465.2L157.3 465.1L158.3 464.9L159.3 465.6L160.3 466L161.3 465.8L162.3 465L163.3 466L164.3 465.2L165.3 466.5L166.3 465.9L167.3 465.5L168.3 465.2L169.3 466.1L170.3 465.6L171.3 465.8L172.3 465.6L173.3 465.5L174.3 466.9L175.3 465.1L176.3 465.6L177.3 466.7L178.3 465.5L179.3 466.3L180.3 466.4L181.3 465.5L182.3 465.4L183.3 466.5L184.3 465.9L185.3 465.6L186.3 465.9L187.3 464.7L188.3 464.8L189.3 465.5L190.3 466.2L191.3 465.2L192.3 465.9L193.3 465.5L194.3 466.3L195.3 465.6L196.3 465.5L197.3 465L198.3 465.9L199.3 465.8L200.3 465.8L201.3 465.8L202.3 464.8L203.3 465.1L203.8 464.7L204.3 465.3L204.8 464.8L205.3 465.1L205.8 464.6M224.3 464.7L224.8 464.7L225.3 464.8L225.8 464.2L226.3 465.1L227.3 465L228.3 465.7L229.3 465.7L230.3 465L231.3 465.7L232.3 465.6L233.3 465.2L234.3 465.6L235.3 465.2L236.3 465.6L237.3 466.1L238.3 466L239.3 465.9L240.3 465.7L241.3 465.4L242.3 465.8L243.3 465.8L244.3 465.7L245.3 465.5L246.3 465.9L247.3 466.1L248.3 466L249.3 465.7L250.3 465.7L251.3 465.7L252.3 465.8L253.3 465.5L254.3 465.9L255.3 465.8L256.3 465.4L257.3 465.3L258.3 465.2L259.3 465.5L260.3 465.9L261.3 465.8L262.3 466.1L263.3 465.5L264.3 466.4L265.3 465.8L266.3 465.3L267.3 465.6L268.3 466.4L269.3 465.8L270.3 465.8L271.3 465.4L272.3 464.9L273.3 465.5L274.3 465.4L275.3 465.3L276.3 465.8L277.3 464.7L278.3 466L279.3 466L280.3 466.4L281.3 465.3L282.3 466L283.3 466L284.3 465.6L285.3 465.7L286.3 464.6L287.3 465.8L288.3 466.5L289.3 466L290.3 465.2L291.3 465.1L292.3 466.9L293.3 466L294.3 464.9L295.3 465.3L296.3 465.3L297.3 466.9L298.3 466.2L299.3 466.9L300.3 465.6L301.3 466.1L302.3 466.5L303.3 465.4L304.3 466.6L305.3 465.8L306.3 465.6L307.3 466.5L308.3 465.9L309.3 466.6L310.3 466.9L311.3 465.3L312.3 465.9L313.3 466.8L314.3 466L315.3 465.2L316.3 465.8L317.3 466.2L318.3 466L319.3 465.4L320.3 465.9L321.3 466.2L322.3 465.9L323.3 466.4L324.3 465.8L325.3 465.6L326.3 466L327.3 465.9L328.3 466.5L329.3 466.1L330.3 466.6L331.3 465.6L332.3 466.1L333.3 465.6L334.3 466.3L335.3 465.8L336.3 466.8L337.3 466L338.3 465.4L339.3 465.5L340.3 465.3L341.3 466L342.3 466.3L343.3 465.4L344.3 465.1L345.3 465.7L346.3 465.6L347.3 466.1L348.3 465.6L349.3 466L350.3 465.4L351.3 466.1L352.3 466.1L353.3 465.5L354.3 466L355.3 465.1L356.3 466.2L357.3 466L358.3 465.7L359.3 466.2L360.3 466.1L361.3 466.6L362.3 466.2L363.3 466.4L364.3 466.4L365.3 464.9L366.3 465.9L367.3 465.7L368.3 465.9L369.3 465.5L370.3 465.5L371.3 465.7L372.3 465.8L373.3 466L374.3 465.8L375.3 465.1L376.3 466.5L377.3 466.1L378.3 466.1L379.3 466.2L380.3 466L381.3 466L382.3 465.4L383.3 466.8L384.3 466.7L385.3 465.7L386.3 465.6L387.3 465.4L388.3 466.2L389.3 465.5L390.3 466.2L391.3 465.8L392.3 465.9L393.3 466.7L394.3 466L395.3 466.6L396.3 465.9L397.3 466.1L398.3 465.8L399.3 465.2L400.3 465.6L401.3 466L402.3 465.9L403.3 465.8L404.3 465.8L405.3 466L406.3 466.1L407.3 466L408.3 465.7L409.3 465.8L410.3 465.5L411.3 465.8L412.3 465.3L413.3 465.4L414.3 465.8L415.3 465.6L416.3 465.7L417.3 465.6L418.3 465.4L419.3 465.8L420.3 466.4L421.3 465.9L422.3 466.1L423.3 465.6L424.3 466.3L425.3 466L426.3 466.1L427.3 466.1L428.3 465.7L429.3 465.7L430.3 466.1L431.3 465.3L432.3 466.1L433.3 465.9L434.3 466.3L435.3 466.4L436.3 465.7L437.3 466.3L438.3 466L439.3 464.8L440.3 465.9L441.3 465.7L442.3 465.3L443.3 467.1L444.3 465.7L445.3 466.2L446.3 465.6L447.3 465.8L448.3 466.3L449.3 466.3L450.3 465.3L451.3 465.9L452.3 465.1L453.3 465.9L454.3 465.5L455.3 466.3L456.3 465.7L457.3 466.7L458.3 465.6L459.3 466.3L460.3 466L461.3 465.4L462.3 465.2L463.3 465.5L464.3 465L465.3 465.4L466.3 465.3L467.3 466.3L468.3 465.7L469.3 466.1L470.3 465.2L471.3 465.9L472.3 466.3L473.3 466.5L474.3 465.4L475.3 465.6L476.3 464.8L477.3 465.9L478.3 466.3L479.3 465.3L480.3 466.7L481.3 465.6L482.3 466L483.3 465.9L484.3 465.9L485.3 465.2L486.3 465.2L486.8 465.2L487.3 465.7L487.8 464.7L488.3 464.4M505.3 464.7L505.8 464.9L506.3 465.2L506.8 464.8L507.8 465.9L508.8 465.5L509.8 465.4L510.8 465.1L511.8 465.4L512.8 466.2L513.8 465.6L514.8 465.4L515.8 465.4L516.8 465.5L517.8 465.8L518.8 465.6L519.8 465.8L520.8 466.5L521.8 465.8L522.8 464.7L523.8 465.9L524.8 466.5L525.8 466.1L526.8 465.6L527.8 465.9L528.8 466L529.8 465.5L530.8 465.9L531.8 465.3L532.8 465.7L533.8 466.2L534.8 465.3L535.8 465.2L536.8 465.7L537.8 465.4L538.8 466.1L539.8 465.8L540.8 466.1L541.8 465.7L542.8 465.9L543.8 465L544.8 466L545.8 465.9L546.8 465.7L547.8 465.9L548.8 465.5L549.8 465.9L550.8 466L551.8 466.5L552.8 465.5L553.8 465.4L554.8 465.9L555.8 465.2L556.8 466L557.8 465.5L558.8 465.3L559.8 465.8L560.8 466.3L561.8 466.6L562.8 465.4L563.8 465.4L564.8 465.6L565.8 465.8L566.8 466.3L567.8 466.6L568.8 465.1L569.8 466L570.8 465.8L571.8 465.3L572.8 465.5L573.8 466.3L574.8 467L575.8 465.5L576.8 466L577.8 466L578.8 465.8L579.8 466.2L580.8 465.6L581.8 465.1L582.8 465.9L583.8 466.1L584.8 466.7L585.8 465.1L586.8 465.2L587.8 466L588.8 465.1L589.8 466.3L590.8 465.8L591.8 465.4L592.8 465.9L593.8 465.8L594.8 465.4L595.8 465.7L596.8 465.7L597.8 465.1L598.8 465.9L599.8 465.7L600.8 465.5L601.8 465.5L602.8 465.5L603.8 465.3L604.8 465.5L605.8 466.3L606.8 465.7L607.8 465.5L608.8 466.5L609.8 465.2L610.8 465.3L611.8 465.1L612.8 465.7L613.8 465.2L614.8 465.6L615.8 465.6L616.8 465.9L617.3 464.8L617.8 465.3L618.3 465.7L618.8 464.7M636.3 464.9L636.8 464.7L637.3 465L637.8 464.8L638.3 465.4L639.3 465.7L640.3 465.3L641.3 465.8L642.3 465.3L643.3 465.6L644.3 465.8L645.3 465.1L646.3 465.2L647.3 465L648.3 465L649.3 466.9L650.3 465.8L651.3 465.3L652.3 465.5L653.3 466.6L654.3 466L655.3 465.1L656.3 465.5L657.3 465.4L658.3 465.2L659.3 466L660.3 465.5L661.3 466.3L662.3 465.3L663.3 466.2L664.3 465.3L665.3 466.1L666.3 465.6L667.3 465.5L668.3 465.5L669.3 465L670.3 465.5L671.3 465.6L672.3 466.3L673.3 465.4L674.3 464.9L675.3 466.4L676.3 465.6L677.3 465.9L678.3 465.1L679.3 465.2L680.3 466.2L681.3 465L682.3 465.1L683.3 465L684.3 464.8L684.8 464.8L685.3 465.5L685.8 464.5L686.3 464.5M704.3 465.5L704.8 463.9L705.3 465.4L705.8 464.6L706.3 464.7L707.3 466L708.3 465.5L709.3 465.1L710.3 465.2L711.3 465.9L712.3 465.6L713.3 465.5L714.3 465.7L715.3 465.8L716.3 466.2L717.3 466.3L718.3 465.5L719.3 466.1L720.3 465.8L721.3 466.2L722.3 465.5L723.3 466L724.3 466.4L725.3 465.7L726.3 465.3L727.3 466.2L728.3 465.9L729.3 466L730.3 466.1L731.3 466L732.3 465.5L733.3 465.1L734.3 466.1L735.3 465.1L736.3 465.7L737.3 465.7L738.3 465.6L739.3 466.1L740.3 466.1L741.3 465.9L742.3 465.8L743.3 466.2L744.3 465.4L745.3 466.7L746.3 465.3L747.3 466.3L748.3 465.3L749.3 466.2L750.3 465.6L751.3 466L752.3 466.2L753.3 466.1L754.3 465.5L755.3 466.5L756.3 466.1L757.3 466.8L758.3 465.8L759.3 465.7L760.3 464.9L761.3 465.8L762.3 465.3L763.3 465.9L764.3 465.9L765.3 465.6L766.3 466.2L767.3 465.8L768.3 465.6L769.3 466.5L770.3 466.1L771.3 466.2L772.3 466L773.3 466L774.3 465.6L775.3 465L776.3 466.2L777.3 466L778.3 465.4L779.3 465.6L780.3 465.6L781.3 467.1L782.3 466.2L783.3 465.7" fill="none" stroke="#6a9a20" stroke-width="1.8" stroke-linejoin="round"/>
<path d="M13.8 466.5L14.8 465.4L15.8 466.5L16.8 466.8L17.8 465.5L18.8 466.1L19.8 465.5L20.8 465.3L21.8 466.3L22.8 466.4L23.8 465.6L24.8 465.6L25.8 465.7L26.8 466.2L27.8 464.5L28.8 466.2L29.8 465.8L30.8 465.1L31.8 466L32.8 465.6L33.8 466L34.8 465.6L35.8 465.9L36.8 465.3L37.8 465.8L38.8 466.2L39.8 466.7L40.8 465.4L41.8 465.4L42.8 465.5L43.8 465.1L44.8 467L45.8 466.9L46.8 465.9L47.8 465.7L48.8 465.6L49.8 465.8L50.8 465.8L51.8 466.1L52.8 465L53.8 466.5L54.8 466.1L55.8 466.4L56.8 466L57.8 465.3L58.8 465.7L59.8 465L60.8 465.9L61.8 465.6L62.8 465.8L63.8 465.9L64.8 465.9L65.8 465.2L66.8 465.9L67.8 464.2L68.8 465.4L69.8 465.8L70.8 465.6L71.8 467L72.8 465.9L73.8 466.8L74.8 466.1L75.8 466.2L76.8 464.9L77.8 466.1L78.8 465.4L79.8 465.4L80.8 465.2L81.8 465.4L82.8 465.1L83.8 465.3L84.8 465.6L85.8 465.2L86.8 466.3L87.8 464.9L88.8 465.1L89.8 465.9L90.8 466.5L91.8 466.5L92.8 465.8L93.8 466L94.8 466.1L95.8 465.9L96.8 465.8L97.8 465.7L98.8 466L99.8 465.4L100.8 466.5L101.8 465.8L102.8 465.6L103.8 465L104.8 466.1L105.8 465.4L106.8 465.6L107.8 465.2L108.8 465.7L109.8 465.8L110.3 463.9L110.8 465.5L111.3 466.1L111.8 465L112.3 464.4L112.8 464.6L113.3 464.2L113.8 465.1L114.3 463.7L114.8 464L115.3 465.2L115.8 463.8L116.3 464.4L116.8 463L117.3 463.3L117.8 464.1L118.3 462.3L118.8 462.8L119.3 461.9L119.8 462.5L120.3 461.4L120.8 461.7L121.3 461.4L121.8 460.8L122.3 461.2L122.8 461.4L123.3 460.5L123.8 459.9L124.3 461L124.8 460.4L125.3 459.2L125.8 459.2L126.3 458.6L126.8 458.5L127.3 458.3L127.8 458.2L128.3 457.1L128.8 457.2L129.3 458L129.8 457.5L130.3 458.1L130.8 457.2L131.3 458.6L131.8 458.3L132.3 457.9L132.8 458.4L133.3 459.1L133.8 458.7L134.3 459.3L134.8 460L135.3 459.8L135.8 460.4L136.3 459.9L136.8 460.9L137.3 460.9L137.8 461.4L138.3 463L138.8 462L139.3 461.9L139.8 461.9L140.3 463.2L140.8 462.1L141.3 462.7L141.8 463.8L142.3 462.6L142.8 463L143.3 463.6L143.8 464.4L144.3 464.6L144.8 464.4L145.3 463.9L145.8 465.2L146.3 465L146.8 465.6L147.3 465.1L147.8 465.1L148.3 465.9L148.8 463.9L149.3 465.3L149.8 465.5L150.3 464.9L151.3 465L152.3 464.7L153.3 466L154.3 466.7L155.3 464.7L156.3 464.5L157.3 465.5L158.3 465.4L159.3 466L160.3 464.6L161.3 465.3L162.3 464.5L163.3 466.1L164.3 466L165.3 465.8L166.3 465.5L167.3 465.4L168.3 466L169.3 466.2L170.3 465.6L171.3 464.8L172.3 466L173.3 465.4L174.3 465.5L175.3 465.8L176.3 466.3L177.3 464.8L178.3 465.1L179.3 465.8L180.3 465.6L181.3 465.5L182.3 465.4L183.3 465.5L184.3 465.5L185.3 465.8L186.3 465.5L187.3 465.6L188.3 465.4L189.3 466.3L190.3 465.4L191.3 465.1L192.3 465.1L193.3 465.7L194.3 466L195.3 464.9L196.3 465.2L197.3 465.7L198.3 464.4L199.3 465.2L200.3 464.9L201.3 465.3L202.3 465L203.3 464.5L203.8 465.4L204.3 465.3L204.8 464.3L205.3 464.9L205.8 465L206.3 464.5L206.8 464.9L207.3 464.8L207.8 464.1L208.3 464.4L208.8 463.6L209.3 462.3L209.8 462.3L210.3 460.8L210.8 459.7L211.3 458L211.8 455.7L212.3 453L212.8 450.6L213.3 446.8L213.8 443.2L214.3 441L214.8 439.3L215.3 439.6L215.8 441.8L216.3 444.1L216.8 447.2L217.3 450.8L217.8 453.4L218.3 456.4L218.8 458L219.3 459.2L219.8 461.3L220.3 462.5L220.8 462.1L221.3 463.3L221.8 464L222.3 463.8L222.8 465.3L223.3 464.8L223.8 465.2L224.3 464.7L224.8 463.9L225.3 465.4L225.8 465L226.3 464.7L227.3 465.2L228.3 465.1L229.3 465.9L230.3 466.1L231.3 465.9L232.3 465.5L233.3 466L234.3 466.7L235.3 466.4L236.3 465.7L237.3 464.9L238.3 464.8L239.3 465.7L240.3 465.3L241.3 466L242.3 465.8L243.3 465.3L244.3 466.1L245.3 465L246.3 465.4L247.3 465.2L248.3 465.2L249.3 465.1L250.3 466L251.3 466.9L252.3 464.9L253.3 466.6L254.3 465.9L255.3 466.2L256.3 466.4L257.3 465.8L258.3 465.7L259.3 465.6L260.3 466.8L261.3 467L262.3 466L263.3 466.4L264.3 465.6L265.3 465.6L266.3 465.1L267.3 465.6L268.3 465.8L269.3 465.1L270.3 465.5L271.3 465.9L272.3 465.5L273.3 466.8L274.3 466.7L275.3 465.5L276.3 466.3L277.3 465.9L278.3 465.8L279.3 465.6L280.3 465.7L281.3 466.2L282.3 465.6L283.3 465.4L284.3 466.2L285.3 466L286.3 466.2L287.3 465.8L288.3 465.5L289.3 465L290.3 465.3L291.3 465.7L292.3 465.7L293.3 466.2L294.3 465L295.3 465.5L296.3 466L297.3 465.6L298.3 465.3L299.3 466.2L300.3 465.1L301.3 465.7L302.3 465.8L303.3 466.1L304.3 466L305.3 466L306.3 466.4L307.3 466.1L308.3 466L309.3 466.5L310.3 466.1L311.3 465.6L312.3 466L313.3 466.3L314.3 466.2L315.3 466.4L316.3 465.8L317.3 466.6L318.3 466.1L319.3 465.5L320.3 465.8L321.3 466.2L322.3 465.8L323.3 465.2L324.3 464.8L325.3 465.6L326.3 466.4L327.3 467L328.3 465.2L329.3 465.7L330.3 466.7L331.3 466.3L332.3 466.2L333.3 465L334.3 466L335.3 465.7L336.3 464.4L337.3 465.1L338.3 466.8L339.3 466.5L340.3 465.7L341.3 465.8L342.3 466.1L343.3 465.9L344.3 465.7L345.3 465.1L346.3 466.3L347.3 465.8L348.3 465.8L349.3 466.3L350.3 466.3L351.3 465.9L352.3 465.5L353.3 466.4L354.3 466.2L355.3 466.6L356.3 465.8L357.3 466.5L358.3 465.9L359.3 466.8L360.3 466.3L361.3 465.5L362.3 466.1L363.3 465.3L364.3 466.4L365.3 465.5L366.3 465.7L367.3 465.4L368.3 465.1L369.3 465.5L370.3 466.1L371.3 466.5L372.3 465.7L373.3 466.9L374.3 466.1L375.3 465.6L376.3 465.9L377.3 466L378.3 466.2L379.3 465.2L380.3 465.8L381.3 466.2L382.3 465.6L383.3 465.3L384.3 466.6L385.3 464.8L386.3 465.8L387.3 466.2L388.3 465.5L389.3 465.2L390.3 465.7L391.3 465.9L392.3 465.7L393.3 466.1L394.3 465.1L395.3 465L396.3 464.8L397.3 466.3L398.3 465.9L399.3 465.8L400.3 466L401.3 466.7L402.3 466.2L403.3 466.3L404.3 465.4L405.3 465.6L406.3 466.3L407.3 465.5L408.3 466L409.3 465.7L410.3 465.6L411.3 466.7L412.3 465.8L413.3 465.2L414.3 466.4L415.3 466.5L416.3 465.7L417.3 466.9L418.3 466.2L419.3 466.7L420.3 466L421.3 465.3L422.3 466.6L423.3 465.9L424.3 466.7L425.3 465.2L426.3 466.1L427.3 466.4L428.3 465.2L429.3 465.2L430.3 465L431.3 465.1L432.3 466L433.3 466.1L434.3 465L435.3 466.2L436.3 465.6L437.3 465.4L438.3 465.4L439.3 466.7L440.3 466.2L441.3 466.4L442.3 465.9L443.3 465.4L444.3 466.2L445.3 465.6L446.3 465.9L447.3 465.3L448.3 466.8L449.3 465.2L450.3 464.9L451.3 465.3L452.3 466.2L453.3 465.8L454.3 466.2L455.3 465.9L456.3 466.2L457.3 465.7L458.3 465.2L459.3 466L460.3 466.1L461.3 466L462.3 466.2L463.3 465.3L464.3 465.9L465.3 465.2L466.3 465.8L467.3 465L468.3 466.1L469.3 465.5L470.3 465.7L471.3 465.5L472.3 466.1L473.3 465.9L474.3 465.3L475.3 466.6L476.3 466.4L477.3 466.1L478.3 466.8L479.3 465.1L480.3 465L481.3 466.1L482.3 466.2L483.3 464.4L484.3 464.7L485.3 465.4L486.3 464.8L486.8 465.7L487.3 464.8L487.8 464.8L488.3 464L488.8 464.3L489.3 463.9L489.8 465.1L490.3 463.5L490.8 464.7L491.3 463.2L491.8 463.1L492.3 461.2L492.8 457.9L493.3 454.6L493.8 447.3L494.3 438.5L494.8 430.6L495.3 423.6L495.8 423.6L496.3 425.6L496.8 427L497.3 425.5L497.8 422.3L498.3 423.6L498.8 430.1L499.3 439.2L499.8 448.1L500.3 452.9L500.8 458L501.3 460.1L501.8 462.6L502.3 463.3L502.8 463.8L503.3 464.1L503.8 464.2L504.3 464.7L504.8 464.8L505.3 465.1L505.8 465L506.3 464.1L506.8 464.3L507.8 465.3L508.8 465.1L509.8 466.1L510.8 466.6L511.8 465.8L512.8 466.2L513.8 465.8L514.8 466L515.8 464.7L516.8 465.2L517.8 466.7L518.8 465.4L519.8 466.3L520.8 466.9L521.8 465.9L522.8 465.5L523.8 465.5L524.8 465.6L525.8 465.7L526.8 466.2L527.8 465.5L528.8 465.9L529.8 464.9L530.8 466.8L531.8 464.6L532.8 466.2L533.8 466.2L534.8 464.8L535.8 466L536.8 466L537.8 466L538.8 464.5L539.8 465.8L540.8 465.8L541.8 465.3L542.8 465.4L543.8 466.2L544.8 466.6L545.8 466.2L546.8 465.4L547.8 465.2L548.8 466.9L549.8 465.7L550.8 465.8L551.8 466.5L552.8 465.9L553.8 466L554.8 466.8L555.8 464.9L556.8 465.8L557.8 466.2L558.8 465.2L559.8 466.3L560.8 466.1L561.8 465.4L562.8 466.2L563.8 466.1L564.8 466.1L565.8 467.2L566.8 465.1L567.8 466.8L568.8 465.9L569.8 465.4L570.8 466.2L571.8 466.1L572.8 466.2L573.8 466.2L574.8 465.9L575.8 466L576.8 465.6L577.8 466.5L578.8 465.6L579.8 465.7L580.8 465.8L581.8 466.3L582.8 465.3L583.8 465.8L584.8 465.6L585.8 465.8L586.8 466L587.8 465.6L588.8 465.5L589.8 466.3L590.8 465.8L591.8 465.9L592.8 466L593.8 466.7L594.8 467L595.8 466L596.8 464.6L597.8 465.8L598.8 465.8L599.8 465.8L600.8 465.1L601.8 465L602.8 466.3L603.8 466.5L604.8 465.2L605.8 466.3L606.8 465.8L607.8 465.8L608.8 465.6L609.8 465.6L610.8 465.1L611.8 466.1L612.8 466.3L613.8 465.3L614.8 465.1L615.8 465.2L616.8 465.3L617.3 465.1L617.8 465.1L618.3 465.2L618.8 465.5L619.3 464.2L619.8 463.6L620.3 463.5L620.8 462.8L621.3 463.7L621.8 463.1L622.3 461L622.8 460.5L623.3 456.3L623.8 451.2L624.3 443.6L624.8 435.2L625.3 427L625.8 425.1L626.3 431.6L626.8 438.1L627.3 442.1L627.8 444.8L628.3 440.1L628.8 431.4L629.3 425.5L629.8 426.5L630.3 432.6L630.8 442.1L631.3 449.9L631.8 456.1L632.3 458.6L632.8 461L633.3 462.3L633.8 462.9L634.3 463.2L634.8 463.8L635.3 463.8L635.8 465.3L636.3 465.1L636.8 463.5L637.3 464.3L637.8 465.1L638.3 464.7L639.3 466.2L640.3 464.8L641.3 464.7L642.3 464.7L643.3 464.9L644.3 465.1L645.3 466.8L646.3 466.1L647.3 465.8L648.3 465.9L649.3 466.6L650.3 465L651.3 465.2L652.3 465.1L653.3 465.3L654.3 465.8L655.3 466L656.3 465.3L657.3 466.6L658.3 465.6L659.3 465.9L660.3 465L661.3 465.9L662.3 465.2L663.3 466L664.3 466.1L665.3 465.5L666.3 466.4L667.3 466.4L668.3 465.7L669.3 464.8L670.3 465.7L671.3 465.5L672.3 466.2L673.3 465.2L674.3 465.9L675.3 465.5L676.3 465.6L677.3 464.8L678.3 466.2L679.3 465.8L680.3 464.7L681.3 465.8L682.3 464.5L683.3 464.4L684.3 465L684.8 466.1L685.3 465.3L685.8 465.1L686.3 465.1L686.8 464L687.3 464.8L687.8 464.4L688.3 465.2L688.8 463.6L689.3 463.3L689.8 461.3L690.3 460.4L690.8 457.1L691.3 452.2L691.8 444.2L692.3 432.9L692.8 424.1L693.3 422.1L693.8 426.3L694.3 435.4L694.8 442.1L695.3 444L695.8 441.6L696.3 435.4L696.8 426.9L697.3 420.8L697.8 426.1L698.3 433.9L698.8 443.6L699.3 451.1L699.8 457.1L700.3 460.2L700.8 462.4L701.3 462.7L701.8 463.6L702.3 463.9L702.8 464.3L703.3 464.6L703.8 464.9L704.3 465.4L704.8 465.4L705.3 465.1L705.8 465.7L706.3 464.7L707.3 465.3L708.3 465.4L709.3 466L710.3 465.5L711.3 465.3L712.3 465.5L713.3 465.5L714.3 465.6L715.3 464.8L716.3 465.1L717.3 465.9L718.3 464.5L719.3 465.2L720.3 466.1L721.3 466.2L722.3 466L723.3 466L724.3 464.9L725.3 465.7L726.3 465.6L727.3 465L728.3 465.2L729.3 465.9L730.3 464.6L731.3 465.9L732.3 465.4L733.3 465.7L734.3 466.2L735.3 465.9L736.3 466L737.3 465.8L738.3 466.1L739.3 465.6L740.3 467.1L741.3 467.1L742.3 466L743.3 466L744.3 465.8L745.3 466L746.3 465.3L747.3 466.6L748.3 465.1L749.3 466.6L750.3 466.3L751.3 466.3L752.3 464.7L753.3 467L754.3 466.1L755.3 467.1L756.3 465.2L757.3 466L758.3 466.7L759.3 466.2L760.3 465.9L761.3 465.6L762.3 465.4L763.3 465.7L764.3 465.4L765.3 465.9L766.3 465.6L767.3 466.3L768.3 466L769.3 465.1L770.3 465.3L771.3 466.9L772.3 466.3L773.3 465.6L774.3 466.3L775.3 466.5L776.3 465.4L777.3 466.1L778.3 465.8L779.3 466L780.3 466.3L781.3 466.2L782.3 466L783.3 464.9" fill="none" stroke="#6a9a20" stroke-width="1.5" stroke-linejoin="round"/>
<path d="M13.8 508.9L14.8 509L15.8 509.2L16.8 509.4L17.8 509.9L18.8 509.1L19.8 510L20.8 510.5L21.8 509.2L22.8 509.1L23.8 509.8L24.8 509.9L25.8 510.1L26.8 509.8L27.8 509.7L28.8 509.2L29.8 509.6L30.8 509.8L31.8 509.3L32.8 509.5L33.8 509.2L34.8 509.4L35.8 509.4L36.8 509.8L37.8 509.3L38.8 509.3L39.8 509.6L40.8 508.7L41.8 509.9L42.8 509.6L43.8 509.3L44.8 509.9L45.8 510L46.8 510.2L47.8 509.1L48.8 510L49.8 510.3L50.8 509.3L51.8 509.2L52.8 509.3L53.8 509.9L54.8 509.9L55.8 509.6L56.8 509.4L57.8 509.8L58.8 509.8L59.8 509.6L60.8 510L61.8 509.1L62.8 509.4L63.8 509.1L64.8 509.8L65.8 508.9L66.8 510.4L67.8 508.6L68.8 509.8L69.8 509.5L70.8 510L71.8 508.9L72.8 509.2L73.8 509.1L74.8 509.4L75.8 508.9L76.8 509.3L77.8 509.5L78.8 510.3L79.8 509.6L80.8 509.3L81.8 509.5L82.8 509.4L83.8 509.7L84.8 509.9L85.8 509.3L86.8 509L87.8 510.2L88.8 509.4L89.8 508.9L90.8 510.2L91.8 509.8L92.8 509.7L93.8 509.4L94.8 509.6L95.8 510.2L96.8 509L97.8 509.7L98.8 509.8L99.8 510.5L100.8 509.1L101.8 509.8L102.8 509.5L103.8 509.6L104.8 509.6L105.8 509.5L106.8 509.3L107.8 509.9L108.8 509.5L109.8 509.4L110.8 509.9L111.8 509.5L112.8 509.7L113.8 509L114.8 509.3L115.8 509.4L116.8 510.1L117.8 509.5L118.8 508.7L119.8 508.9L120.8 509.5L121.8 510L122.8 509.6L123.8 510L124.8 510.2L125.8 509.3L126.8 509.7L127.8 509.7L128.8 509.8L129.8 509.6L130.8 509.5L131.8 509.3L132.8 510.8L133.8 509.2L134.8 510.1L135.8 509.8L136.8 510.2L137.8 509.1L138.8 509.5L139.8 509.1L140.8 509.4L141.8 509.9L142.8 509.5L143.8 509.3L144.8 509.1L145.8 509.8L146.8 509.6L147.8 509.9L148.8 509.7L149.8 509.4L150.8 509.4L151.8 509.6L152.8 509.5L153.8 510L154.8 509.4L155.8 508.8L156.8 508.2L157.8 509.4L158.8 509.7L159.8 509.1L160.8 509.3L161.8 509.5L162.8 509L163.3 508.9L163.8 508.5L164.3 508.6M176.3 508.3L176.8 508.3L177.3 508.9L177.8 508.9L178.8 509.1L179.8 509L180.8 509.1L181.8 509.8L182.8 509.3L183.8 509.4L184.8 508.8L185.8 508.7L186.8 509.4L187.8 508.7L188.8 509.3L189.8 509.3L190.8 509.3L191.8 509.5L192.8 509.4L193.8 508.5L194.8 509.4L195.8 510.2L196.8 508.6L197.8 510.4L198.8 510L199.8 508.9L200.8 509L201.8 509.2L202.8 509.6L203.8 509.4L204.8 509.2L205.8 509.3L206.8 509.6L207.8 509.5L208.8 508.8L209.8 509L210.8 508.3L211.8 509.3L212.8 509.4L213.8 509.2L214.3 508L214.8 508M225.8 508L226.3 508.9L226.8 509.6L227.8 508.8L228.8 508.6L229.8 509.6L230.8 508.8L231.8 509L232.8 509.9L233.8 509.6L234.8 509.3L235.8 510.6L236.8 508.5L237.8 509.5L238.8 509.5L239.8 509.6L240.8 508.5L241.8 510L242.8 509.2L243.8 509.8L244.8 508.6L245.8 509.5L246.8 508.9L247.8 509.7L248.8 509.4L249.8 510.4L250.8 508.5L251.8 509.5L252.8 509.6L253.8 509.7L254.8 509.6L255.8 509.4L256.8 509.7L257.8 510.1L258.8 510.1L259.8 509.4L260.8 509.6L261.8 509.5L262.8 508.9L263.8 509.5L264.8 509.3L265.8 510.3L266.8 509.7L267.8 509.2L268.8 509.8L269.8 509.1L270.8 509L271.8 508.9L272.8 509.7L273.8 509.7L274.8 509.9L275.8 510L276.8 509.7L277.8 510.5L278.8 510L279.8 508.7L280.8 508.6L281.8 509.7L282.8 510.6L283.8 508.7L284.8 509.9L285.8 509.1L286.8 508.9L287.8 509.7L288.8 509.5L289.8 509.5L290.8 509.6L291.8 509.4L292.8 509.3L293.8 510L294.8 509.4L295.8 510L296.8 509L297.8 509.1L298.8 509.5L299.8 509.1L300.8 509.9L301.8 509.1L302.8 510L303.8 508.4L304.8 509.8L305.8 509.1L306.8 509.2L307.8 509.4L308.8 510L309.8 509.4L310.8 509.1L311.8 509.9L312.8 509.7L313.8 508.7L314.8 510.1L315.8 509.8L316.8 509.5L317.8 509.4L318.8 509L319.8 509.7L320.8 509.5L321.8 509.6L322.8 508.9L323.8 508.9L324.8 509.7L325.8 509.6L326.8 510.5L327.8 509.6L328.8 509.8L329.8 509.9L330.8 510L331.8 509.6L332.8 509L333.8 509.4L334.8 509.5L335.8 509.3L336.8 509.2L337.8 509.9L338.8 509.8L339.8 509.4L340.8 509.4L341.8 509.5L342.8 509.3L343.8 509.9L344.8 509.3L345.8 510.1L346.8 509.7L347.8 509.6L348.8 509.5L349.8 509.9L350.8 509.7L351.8 509.3L352.8 509.3L353.8 509.9L354.8 509.2L355.8 509.6L356.8 509.8L357.8 510L358.8 509.8L359.8 509.4L360.8 510.1L361.8 509.8L362.8 509.4L363.8 509.5L364.8 509.7L365.8 509L366.8 508.6L367.8 510.4L368.8 509.9L369.8 509.8L370.8 509.8L371.8 509.3L372.8 509.9L373.8 510L374.8 509.7L375.8 509.5L376.8 509.9L377.8 510.3L378.8 509.5L379.8 509.7L380.8 509.8L381.8 508.8L382.8 509.5L383.8 509.2L384.8 508.9L385.8 509.2L386.8 510L387.8 509.3L388.8 509.6L389.8 509.1L390.8 509.8L391.8 510.5L392.8 509.7L393.8 510.5L394.8 509.6L395.8 508.9L396.8 510.2L397.8 509.1L398.8 509.3L399.8 509.8L400.8 509.9L401.8 509.7L402.8 509.6L403.8 509.9L404.8 510.3L405.8 508.6L406.8 509.8L407.8 508.3L408.8 510.4L409.8 510.3L410.8 509.5L411.8 510L412.8 509.3L413.8 509.5L414.8 509.4L415.8 509.7L416.8 508.9L417.8 510.2L418.8 510.2L419.8 509L420.8 510.1L421.8 509.6L422.8 510.1L423.8 509.7L424.8 509.7L425.8 509.5L426.8 509.8L427.8 509.4L428.8 509.4L429.8 509.3L430.8 510.5L431.8 509.7L432.8 510L433.8 510.5L434.8 509.6L435.8 509.7L436.8 509.4L437.8 509.7L438.8 509.7L439.8 509.8L440.8 509.6L441.8 510.1L442.8 509.5L443.8 510L444.8 508.9L445.8 509.7L446.8 509.8L447.8 510.5L448.8 509.4L449.8 509.7L450.8 509.8L451.8 509.4L452.8 509.6L453.8 509.6L454.8 509.2L455.8 509.2L456.8 510.4L457.8 509.6L458.8 508.6L459.8 510.3L460.8 509.8L461.8 509.2L462.8 509.4L463.8 509L464.8 509.3L465.8 509.2L466.8 509.2L467.8 508.9L468.8 509.5L469.8 509.9L470.8 509.4L471.8 510.2L472.8 509.1L473.8 509.1L474.8 508.4L475.8 509.7L476.8 509.5L477.8 509.3L478.8 509.5L479.8 509L480.8 509.6L481.8 508.5L482.8 509.1L483.8 509.9L484.8 509L485.8 509.5L486.8 508.5L487.3 508.3L487.8 508L488.3 508.5M501.3 508.1L501.8 508.8L502.3 508.6L502.8 509.2L503.8 509.6L504.8 509.4L505.8 509.2L506.8 510.2L507.8 509.8L508.8 509.2L509.8 509.9L510.8 509.4L511.8 509.3L512.8 509.4L513.8 509.4L514.8 509.6L515.8 510L516.8 509.7L517.8 508.8L518.8 509.5L519.8 509.8L520.8 509.4L521.8 509.6L522.8 509.7L523.8 509.3L524.8 509.5L525.8 509.7L526.8 509.5L527.8 508.9L528.8 509.3L529.8 510.1L530.8 510.6L531.8 509L532.8 508.9L533.8 509.7L534.8 509.1L535.8 509.1L536.8 509.4L537.8 510.2L538.8 510.3L539.8 509.4L540.8 509.1L541.8 509.3L542.8 509.6L543.8 509.8L544.8 510L545.8 509.8L546.8 509.6L547.8 509.2L548.8 509L549.8 509L550.8 509.9L551.8 509.9L552.8 510L553.8 510L554.8 509.6L555.8 509.8L556.8 509.7L557.8 509.3L558.8 509.1L559.8 509.5L560.8 509.4L561.8 509.5L562.8 509.7L563.8 509L564.8 510.1L565.8 509.1L566.8 510L567.8 509.4L568.8 510.1L569.8 510L570.8 509.5L571.8 509.1L572.8 509L573.8 509.8L574.8 509.4L575.8 510L576.8 509.7L577.8 509.5L578.8 509.7L579.8 509.5L580.8 509.9L581.8 509.1L582.8 510L583.8 509.6L584.8 509.1L585.8 509.3L586.8 510.1L587.8 510.4L588.8 510.6L589.8 510.3L590.8 509.5L591.8 509.4L592.8 509.1L593.8 509.2L594.8 508.8L595.8 509.2L596.8 510.3L597.8 509.9L598.8 509.6L599.8 509.5L600.8 509.2L601.8 508.9L602.8 509.5L603.8 509.3L604.8 509.7L605.8 509.2L606.8 510.6L607.8 509.6L608.8 508.9L609.8 509.1L610.8 509L611.8 509.1L612.8 509.5L613.8 509.3L614.8 509.3L615.8 508.8L616.8 508.2L617.8 509.1L618.8 509.3L619.8 508.7L620.3 508.7L620.8 508.7M634.3 509.5L634.8 508L635.3 509L635.8 509.1L636.8 509L637.8 508.7L638.8 508.9L639.8 509.7L640.8 508.8L641.8 509.6L642.8 509.9L643.8 508.7L644.8 509.4L645.8 508.8L646.8 508.6L647.8 509.3L648.8 509.8L649.8 509.8L650.8 509.9L651.8 509L652.8 510.1L653.8 509.8L654.8 509.5L655.8 509.8L656.8 508.8L657.8 509.5L658.8 509.3L659.8 509.4L660.8 509.1L661.8 509.8L662.8 509.6L663.8 509.6L664.8 510.1L665.8 509.3L666.8 509.8L667.8 508.8L668.8 509.7L669.8 509.7L670.8 509.1L671.8 509.6L672.8 510.1L673.8 510L674.8 509.7L675.8 509.2L676.8 509.4L677.8 509.6L678.8 510.3L679.8 509.7L680.8 509L681.8 509.1L682.8 509.9L683.8 509.2L684.3 508.4L684.8 508.6L685.3 508.7M700.8 508.5L701.3 507.6L701.8 508.5L702.3 509.4L703.3 509L704.3 509.3L705.3 508.8L706.3 508.9L707.3 508.8L708.3 510.2L709.3 510.1L710.3 510.3L711.3 509.1L712.3 508.8L713.3 509.1L714.3 509.2L715.3 508.8L716.3 509.7L717.3 509.4L718.3 510.4L719.3 509.4L720.3 509.6L721.3 509.5L722.3 510.2L723.3 509.4L724.3 509.8L725.3 509.5L726.3 509.6L727.3 509L728.3 509.3L729.3 510.2L730.3 510.2L731.3 509L732.3 509.9L733.3 510.1L734.3 510.1L735.3 509.8L736.3 509.2L737.3 509.2L738.3 510.2L739.3 509.4L740.3 509.6L741.3 509.9L742.3 509.2L743.3 509.9L744.3 508.7L745.3 509.3L746.3 509.2L747.3 509.8L748.3 509.4L749.3 509.5L750.3 510.4L751.3 509.3L752.3 509.3L753.3 509.6L754.3 508.5L755.3 509.9L756.3 509.2L757.3 509.3L758.3 508.7L759.3 510.2L760.3 509.3L761.3 509.3L762.3 509.4L763.3 510.8L764.3 509.9L765.3 509.5L766.3 509.8L767.3 509.4L768.3 509.7L769.3 509.7L770.3 508.9L771.3 509.5L772.3 510L773.3 509.3L774.3 509.7L775.3 510L776.3 509.9L777.3 509.7L778.3 509.2L779.3 509L780.3 508.9L781.3 509.4L782.3 509.6L783.3 509.3" fill="none" stroke="#b4a444" stroke-width="1.8" stroke-linejoin="round"/>
<path d="M13.8 509L14.8 509.2L15.8 510.3L16.8 509.9L17.8 510L18.8 510L19.8 510.1L20.8 510.8L21.8 509.5L22.8 509.7L23.8 509.6L24.8 508.9L25.8 509.1L26.8 509.9L27.8 508.6L28.8 509.3L29.8 509.1L30.8 509.4L31.8 510.2L32.8 510.7L33.8 508.6L34.8 510.2L35.8 509.2L36.8 510L37.8 508.8L38.8 509.3L39.8 510.4L40.8 509.9L41.8 509L42.8 509.5L43.8 509.7L44.8 510L45.8 509.6L46.8 508.7L47.8 508.3L48.8 510.3L49.8 509.6L50.8 509.5L51.8 510L52.8 509.7L53.8 509.1L54.8 510L55.8 509.9L56.8 509.6L57.8 508.3L58.8 510.2L59.8 509.6L60.8 509.7L61.8 509.6L62.8 510.1L63.8 509.1L64.8 509.7L65.8 510L66.8 510.5L67.8 509.4L68.8 510L69.8 509.6L70.8 510.1L71.8 508L72.8 510.2L73.8 510.4L74.8 509.7L75.8 509.5L76.8 509L77.8 509.3L78.8 509.8L79.8 509.9L80.8 509.4L81.8 510.5L82.8 508.8L83.8 509.2L84.8 510.2L85.8 509.4L86.8 509.8L87.8 509.2L88.8 509.4L89.8 509.6L90.8 508.9L91.8 508.5L92.8 509.7L93.8 508.5L94.8 509.2L95.8 509.1L96.8 509.2L97.8 510.1L98.8 509.9L99.8 509.6L100.8 510.3L101.8 509.8L102.8 509.7L103.8 510.2L104.8 509L105.8 509.6L106.8 509.9L107.8 509L108.8 510.5L109.8 509.5L110.8 509.8L111.8 509L112.8 509.3L113.8 509.7L114.8 509.3L115.8 509L116.8 509.7L117.8 509.1L118.8 509.2L119.8 508.6L120.8 509.2L121.8 509.6L122.8 509.7L123.8 508.7L124.8 510.3L125.8 510.2L126.8 509.2L127.8 509.9L128.8 509.4L129.8 508.9L130.8 509L131.8 509.3L132.8 509.5L133.8 509.8L134.8 509.2L135.8 509.7L136.8 510L137.8 509L138.8 509L139.8 509.5L140.8 508.9L141.8 509.6L142.8 509.4L143.8 509.9L144.8 509.8L145.8 509.7L146.8 510.3L147.8 509.3L148.8 509.3L149.8 510.1L150.8 509.1L151.8 510.2L152.8 509.9L153.8 509.2L154.8 507.8L155.8 510.2L156.8 509.5L157.8 510.1L158.8 508.9L159.8 508.8L160.8 508.7L161.8 508.6L162.8 509L163.3 507.8L163.8 509.3L164.3 508.4L164.8 508.6L165.3 508.8L165.8 507.2L166.3 506.2L166.8 505.4L167.3 503L167.8 502.3L168.3 499.6L168.8 496L169.3 494.8L169.8 494L170.3 492.5L170.8 494.1L171.3 494.6L171.8 497.9L172.3 500.8L172.8 502.1L173.3 504.1L173.8 505.5L174.3 505L174.8 507.8L175.3 507L175.8 507.8L176.3 509.1L176.8 508L177.3 509.3L177.8 507.8L178.8 509.5L179.8 508.5L180.8 508.7L181.8 509.4L182.8 509.1L183.8 508.5L184.8 510.3L185.8 509.2L186.8 508.6L187.8 509.2L188.8 509.6L189.8 509.7L190.8 509.2L191.8 509.1L192.8 509.7L193.8 510.1L194.8 508.8L195.8 509.8L196.8 509.3L197.8 509.7L198.8 509.3L199.8 509.9L200.8 510.7L201.8 509.5L202.8 509.2L203.8 509.4L204.8 509.1L205.8 509L206.8 508.5L207.8 509.4L208.8 510.5L209.8 509.4L210.8 509.2L211.8 510.1L212.8 508.9L213.8 508.8L214.3 509.7L214.8 508.3L215.3 508.5L215.8 508.1L216.3 508L216.8 507.7L217.3 505.6L217.8 503.4L218.3 500.4L218.8 493.6L219.3 483.2L219.8 474.2L220.3 468.9L220.8 474.3L221.3 483.8L221.8 493.5L222.3 499.6L222.8 503.5L223.3 504.9L223.8 508.2L224.3 508.3L224.8 507.5L225.3 508.1L225.8 508.2L226.3 509L226.8 508.1L227.8 509.6L228.8 509.2L229.8 508.7L230.8 509.1L231.8 509.9L232.8 509.2L233.8 509L234.8 509.4L235.8 509.7L236.8 509.1L237.8 510.4L238.8 508.3L239.8 509.4L240.8 510.2L241.8 509.9L242.8 509.4L243.8 509.3L244.8 509.2L245.8 510.4L246.8 509.9L247.8 509.3L248.8 509.2L249.8 510L250.8 509.3L251.8 509.7L252.8 510.2L253.8 509L254.8 509.5L255.8 509.8L256.8 509.4L257.8 509.7L258.8 508.4L259.8 509.2L260.8 510.6L261.8 509.1L262.8 509.8L263.8 509.2L264.8 510L265.8 510.1L266.8 509.6L267.8 509.8L268.8 509.6L269.8 509.8L270.8 510L271.8 509.3L272.8 509.5L273.8 509.7L274.8 509.6L275.8 509.9L276.8 509.5L277.8 509.2L278.8 510.9L279.8 509.1L280.8 509.7L281.8 510.1L282.8 510.4L283.8 509.9L284.8 510L285.8 510.1L286.8 509.9L287.8 509.3L288.8 508.7L289.8 509.9L290.8 509.6L291.8 509.5L292.8 509.3L293.8 509.1L294.8 510.1L295.8 510L296.8 509.3L297.8 510.4L298.8 509.8L299.8 509.5L300.8 509.9L301.8 510.5L302.8 509.8L303.8 508.9L304.8 509.3L305.8 510.3L306.8 509.6L307.8 508L308.8 509.7L309.8 510.2L310.8 508.9L311.8 510.6L312.8 509.6L313.8 509.4L314.8 510.4L315.8 509.3L316.8 509.7L317.8 509.5L318.8 508.8L319.8 508.8L320.8 509.9L321.8 509.4L322.8 510.1L323.8 510.7L324.8 509.7L325.8 509.3L326.8 509.3L327.8 509.2L328.8 510L329.8 509.3L330.8 509.6L331.8 510L332.8 509.3L333.8 508.6L334.8 509.9L335.8 510.7L336.8 510.2L337.8 509.3L338.8 509.4L339.8 509.2L340.8 510L341.8 509.5L342.8 510.2L343.8 509.5L344.8 509.3L345.8 509.5L346.8 510.2L347.8 510.3L348.8 510L349.8 509L350.8 508.8L351.8 509L352.8 510.3L353.8 509.8L354.8 509.6L355.8 509.8L356.8 508.9L357.8 509.7L358.8 509.7L359.8 508.8L360.8 509L361.8 510.6L362.8 509.2L363.8 509.5L364.8 509.7L365.8 509.8L366.8 509.3L367.8 510.2L368.8 510.2L369.8 509.2L370.8 509.5L371.8 509.7L372.8 509.2L373.8 509L374.8 509.4L375.8 510.2L376.8 510.1L377.8 508.5L378.8 508.9L379.8 509.4L380.8 510L381.8 509.2L382.8 508.8L383.8 510.5L384.8 509.5L385.8 510.4L386.8 510.1L387.8 509.6L388.8 509.5L389.8 509.3L390.8 511.5L391.8 509.1L392.8 509.3L393.8 509.6L394.8 509.8L395.8 509.6L396.8 509.2L397.8 508.1L398.8 509.6L399.8 510.5L400.8 509.7L401.8 510.4L402.8 509.1L403.8 510.2L404.8 509.7L405.8 510.6L406.8 510.2L407.8 510.1L408.8 509.5L409.8 510.9L410.8 508.7L411.8 510.3L412.8 508.8L413.8 509.1L414.8 510.4L415.8 509.7L416.8 509.4L417.8 509.9L418.8 509.6L419.8 510.5L420.8 510.2L421.8 509.2L422.8 509.9L423.8 509.8L424.8 510.6L425.8 509.4L426.8 509.5L427.8 510.2L428.8 509.9L429.8 510L430.8 510.1L431.8 509.6L432.8 509.5L433.8 508.7L434.8 509.2L435.8 509.7L436.8 509.4L437.8 509.3L438.8 509L439.8 510L440.8 510.1L441.8 509.7L442.8 509.3L443.8 509.1L444.8 510.5L445.8 509.9L446.8 510.1L447.8 510L448.8 508.3L449.8 510.4L450.8 510.1L451.8 510.3L452.8 510.2L453.8 510.5L454.8 510L455.8 510.3L456.8 510.6L457.8 510.4L458.8 508.4L459.8 509.6L460.8 508.9L461.8 509.2L462.8 508.8L463.8 509.5L464.8 508L465.8 509.6L466.8 509.8L467.8 509.2L468.8 510.1L469.8 509.3L470.8 510.7L471.8 509.3L472.8 509L473.8 509.2L474.8 510.1L475.8 509.6L476.8 509L477.8 509.9L478.8 508.7L479.8 510L480.8 509.2L481.8 509.6L482.8 509.8L483.8 508.7L484.8 508.7L485.8 509.2L486.8 509.5L487.3 509.2L487.8 509.5L488.3 507.3L488.8 507.4L489.3 508.8L489.8 506.9L490.3 507.1L490.8 503.2L491.3 501.3L491.8 496.1L492.3 491.1L492.8 486.7L493.3 487.2L493.8 489.9L494.3 494.2L494.8 493.3L495.3 491.9L495.8 488.3L496.3 487.2L496.8 488.2L497.3 493.2L497.8 498.1L498.3 502.3L498.8 505.1L499.3 506.6L499.8 506.7L500.3 508.5L500.8 508L501.3 508L501.8 508.7L502.3 509.3L502.8 508.5L503.8 509.7L504.8 508L505.8 509.3L506.8 509.2L507.8 509.5L508.8 508.6L509.8 509.8L510.8 510.1L511.8 510.4L512.8 509.1L513.8 510.3L514.8 508.8L515.8 509.1L516.8 509.6L517.8 509.7L518.8 508.8L519.8 509L520.8 509.7L521.8 509.7L522.8 508.6L523.8 510L524.8 509.2L525.8 510L526.8 509.2L527.8 509.3L528.8 508.6L529.8 510.3L530.8 509L531.8 509.2L532.8 508.6L533.8 510.1L534.8 509.6L535.8 510.1L536.8 508.3L537.8 509.6L538.8 509L539.8 510.6L540.8 509.9L541.8 509.6L542.8 508L543.8 509.9L544.8 510.4L545.8 508.6L546.8 509.6L547.8 509.7L548.8 509.3L549.8 510L550.8 509.8L551.8 509.4L552.8 509.5L553.8 509.8L554.8 509.6L555.8 509.1L556.8 510.3L557.8 510.1L558.8 509L559.8 509L560.8 509L561.8 509.7L562.8 509L563.8 509.7L564.8 510.8L565.8 509.9L566.8 509.2L567.8 510.7L568.8 508.7L569.8 509.3L570.8 509.1L571.8 509.3L572.8 510.1L573.8 509.5L574.8 509.3L575.8 509.6L576.8 509.2L577.8 510.3L578.8 508.9L579.8 508.1L580.8 509.8L581.8 509.8L582.8 510L583.8 509.7L584.8 509.4L585.8 509.6L586.8 510.1L587.8 509.5L588.8 509.8L589.8 510.1L590.8 508.6L591.8 510.5L592.8 508.7L593.8 509.4L594.8 509.2L595.8 509.3L596.8 509.8L597.8 509.6L598.8 509.5L599.8 509L600.8 510L601.8 509.9L602.8 509.9L603.8 509.8L604.8 509.4L605.8 510.7L606.8 509.8L607.8 509.6L608.8 510.3L609.8 508.8L610.8 510.6L611.8 509.4L612.8 509.7L613.8 509L614.8 509.8L615.8 509L616.8 510.5L617.8 509L618.8 508.8L619.8 507.7L620.3 508.1L620.8 508.4L621.3 507.3L621.8 508L622.3 507.4L622.8 506.3L623.3 504.5L623.8 501.7L624.3 498.8L624.8 493.5L625.3 489L625.8 488.5L626.3 491.7L626.8 494.7L627.3 496.8L627.8 498.1L628.3 495.4L628.8 492.3L629.3 488.8L629.8 487.7L630.3 492.7L630.8 496.7L631.3 501.9L631.8 504.3L632.3 506.9L632.8 507.2L633.3 507.3L633.8 507.9L634.3 508.7L634.8 508.6L635.3 509.1L635.8 509L636.8 508.7L637.8 508.9L638.8 509.1L639.8 508.6L640.8 508.2L641.8 510L642.8 509.4L643.8 510.1L644.8 509.2L645.8 509L646.8 509.5L647.8 509.1L648.8 509.4L649.8 509.4L650.8 510L651.8 508.9L652.8 509.3L653.8 510.2L654.8 508.9L655.8 509.3L656.8 510.1L657.8 508.9L658.8 508L659.8 509.4L660.8 509.8L661.8 510.4L662.8 509.2L663.8 509.7L664.8 509L665.8 509.6L666.8 509.6L667.8 509.4L668.8 508.8L669.8 509.5L670.8 509.2L671.8 510.3L672.8 509.3L673.8 508.9L674.8 508.3L675.8 509.2L676.8 510.1L677.8 509.9L678.8 509.9L679.8 509.2L680.8 509.5L681.8 508.9L682.8 509L683.8 508.6L684.3 509L684.8 508L685.3 508.2L685.8 508.1L686.3 508.4L686.8 506.4L687.3 506.5L687.8 504.1L688.3 501.7L688.8 496.9L689.3 492.6L689.8 488L690.3 486.6L690.8 489.4L691.3 493.2L691.8 498L692.3 500.9L692.8 502.3L693.3 501.7L693.8 499.1L694.3 496.9L694.8 493.8L695.3 488L695.8 486.7L696.3 489.1L696.8 493.6L697.3 497.6L697.8 501.7L698.3 504L698.8 505.6L699.3 506.9L699.8 508.1L700.3 507.7L700.8 508.8L701.3 509.3L701.8 508.2L702.3 508.6L703.3 508.4L704.3 509.5L705.3 509L706.3 509.2L707.3 509.7L708.3 510.1L709.3 508.4L710.3 508.1L711.3 510L712.3 509.8L713.3 509.2L714.3 510.4L715.3 509.1L716.3 509.5L717.3 510L718.3 509.7L719.3 509.4L720.3 509.4L721.3 509.8L722.3 509.4L723.3 509.2L724.3 509.1L725.3 509.5L726.3 508.8L727.3 509.3L728.3 509.2L729.3 509.1L730.3 509.3L731.3 508.5L732.3 510.1L733.3 509.9L734.3 509.9L735.3 509.4L736.3 509.4L737.3 508.9L738.3 510.4L739.3 509L740.3 509.8L741.3 509L742.3 509.3L743.3 508.8L744.3 509.6L745.3 509.8L746.3 509.1L747.3 508.3L748.3 510.2L749.3 509.6L750.3 509.8L751.3 510.5L752.3 510.7L753.3 509.8L754.3 510.3L755.3 509.3L756.3 509.2L757.3 509.4L758.3 509.9L759.3 510.4L760.3 510.4L761.3 509.9L762.3 510.3L763.3 509.8L764.3 509.5L765.3 510L766.3 509.3L767.3 509.3L768.3 509L769.3 509.9L770.3 508.8L771.3 509.6L772.3 509.8L773.3 510L774.3 509.1L775.3 509.8L776.3 509.9L777.3 508.2L778.3 508.1L779.3 508.8L780.3 509.7L781.3 510.6L782.3 509.6L783.3 509.9" fill="none" stroke="#b4a444" stroke-width="1.5" stroke-linejoin="round"/>
<path d="M13.8 549.1L14.8 549.1L15.8 549.8L16.8 548.9L17.8 548.7L18.8 549.7L19.8 549.3L20.8 549.5L21.8 549.5L22.8 549.5L23.8 548.5L24.8 550.3L25.8 550L26.8 549.8L27.8 548.4L28.8 549.4L29.8 549.8L30.8 549.5L31.8 550L32.8 549.5L33.8 549.9L34.8 549.6L35.8 549.8L36.8 548.9L37.8 549.3L38.8 549.6L39.8 549.2L40.8 549.8L41.8 549.4L42.8 550.1L43.8 549.1L44.8 550L45.8 549.9L46.8 549.2L47.8 549.6L48.8 549.3L49.8 549.5L50.8 549.4L51.8 550.3L52.8 549L53.8 549.7L54.8 549.3L55.8 549.8L56.8 549.4L57.8 549.2L58.8 549.4L59.8 549.2L60.8 549.7L61.8 549.3L62.8 549.7L63.8 548.8L64.8 550L65.8 548.9L66.8 549.5L67.8 549.8L68.8 548.5L69.8 548.9L70.8 550L71.8 549.9L72.8 550.2L73.8 549L74.8 550.2L75.8 548.9L76.8 550.2L77.8 550.1L78.8 549.6L79.8 550.2L80.8 550.1L81.8 550L82.8 549.2L83.8 549.2L84.8 549.7L85.8 550L86.8 549.5L87.8 550.1L88.8 549.7L89.8 549L90.8 549.2L91.8 549.6L92.8 549.3L93.8 549.5L94.8 550L95.8 550L96.8 550.3L97.8 549.3L98.8 549.9L99.8 549.4L100.8 548.8L101.8 549.3L102.8 549.1L103.8 550.2L104.8 549.4L105.8 550.5L106.8 549.4L107.8 548.9L108.8 548.3L109.8 549.8L110.8 549.5L111.8 549.2L112.8 549.8L113.8 548.7L114.8 550L115.8 548.8L116.8 549.5L117.8 549L118.8 549.6L119.8 549.9L120.8 549.1L121.8 549L122.8 549.5L123.8 550L124.8 549.2L125.8 548.6L126.8 549.2L127.8 549.1L128.8 549.6L129.8 549.9L130.8 549.5L131.8 549.5L132.8 549.1L133.8 549.7L134.8 549.6L135.8 549.2L136.8 549.4L137.8 549.1L138.8 549.5L139.8 549.4L140.8 549.7L141.8 549.1L142.8 549.1L143.8 548.9L144.8 549.7L145.8 549L146.8 549.9L147.8 549.3L148.8 549.1L149.8 549.5L150.8 549.6L151.8 550.1L152.8 549.3L153.8 548.6L154.8 549.8L155.8 549.4L156.8 549.2L157.8 549.4L158.8 549.6L159.8 549.9L160.8 548.8L161.8 548.9L162.8 549.3L163.8 549.9L164.8 550L165.8 549.2L166.8 549.9L167.8 549.3L168.8 549.7L169.8 549L170.8 549.1L171.8 548.6L172.8 548.4L173.3 549L173.8 548.4L174.3 548.4L174.8 548.7M185.8 548.3L186.3 548.9L186.8 549.3L187.3 549.2L188.3 549.3L189.3 548.6L190.3 549.8L191.3 549.4L192.3 549.5L193.3 549.6L194.3 549.4L195.3 548.5L196.3 549.8L197.3 549.2L198.3 548.7L199.3 549.6L200.3 549L201.3 549.4L202.3 549.3L203.3 549.1L204.3 549.1L205.3 549.1L206.3 548.9L207.3 549.6L208.3 549.5L209.3 548.7L210.3 548.5L211.3 549.2L212.3 549.3L213.3 549L214.3 549.1L214.8 548.6L215.3 548.2L215.8 549.1L216.3 548.9M226.8 549.4L227.3 547.9L227.8 547.9L228.8 549L229.8 549L230.8 548.6L231.8 549L232.8 549.2L233.8 549.4L234.8 549.8L235.8 548.6L236.8 549.6L237.8 549.1L238.8 549.3L239.8 550.1L240.8 549.1L241.8 549.5L242.8 549.3L243.8 548.9L244.8 549.6L245.8 549.6L246.8 549.5L247.8 549.2L248.8 549.8L249.8 549.9L250.8 549.5L251.8 549.1L252.8 549.9L253.8 549.7L254.8 549.4L255.8 550L256.8 550L257.8 548.5L258.8 549.4L259.8 549L260.8 549.2L261.8 549.1L262.8 549.2L263.8 549.3L264.8 549.2L265.8 549.2L266.8 549.1L267.8 549.7L268.8 549.1L269.8 549.7L270.8 548.7L271.8 550L272.8 548.5L273.8 549.7L274.8 549.2L275.8 549.3L276.8 549.7L277.8 549.5L278.8 549.6L279.8 549.1L280.8 549.1L281.8 550.1L282.8 549.5L283.8 549.1L284.8 550L285.8 549.3L286.8 549.4L287.8 550.3L288.8 549.6L289.8 549.2L290.8 549.4L291.8 549.5L292.8 550L293.8 549.1L294.8 549.8L295.8 549.3L296.8 549.3L297.8 549.5L298.8 549.9L299.8 549.3L300.8 549.1L301.8 550.2L302.8 549.6L303.8 549.5L304.8 549.5L305.8 549.2L306.8 548.8L307.8 549.6L308.8 549.5L309.8 549.2L310.8 549.3L311.8 549.1L312.8 549L313.8 549.6L314.8 549.3L315.8 549.2L316.8 550L317.8 549.7L318.8 549.2L319.8 549.7L320.8 549.2L321.8 549.1L322.8 549.1L323.8 549.6L324.8 549.3L325.8 549.4L326.8 549.4L327.8 549.5L328.8 549.3L329.8 549.6L330.8 549.6L331.8 549.8L332.8 550.6L333.8 549.9L334.8 549.6L335.8 549.6L336.8 549.1L337.8 549.7L338.8 550.1L339.8 549.1L340.8 549.9L341.8 549.3L342.8 548.9L343.8 549.3L344.8 550.2L345.8 549.4L346.8 549.3L347.8 549.1L348.8 548.7L349.8 549L350.8 549.9L351.8 549.7L352.8 549.2L353.8 550.2L354.8 550.1L355.8 549.7L356.8 548.6L357.8 549.7L358.8 549.5L359.8 548.7L360.8 549.6L361.8 549.8L362.8 549.6L363.8 549.3L364.8 549.7L365.8 550L366.8 549.6L367.8 549.9L368.8 550.4L369.8 549.5L370.8 549.2L371.8 549.1L372.8 549.7L373.8 548.7L374.8 549.3L375.8 549.1L376.8 549.1L377.8 549.5L378.8 549.7L379.8 549.4L380.8 549.9L381.8 549.3L382.8 549.9L383.8 550.2L384.8 549.4L385.8 549.2L386.8 549.4L387.8 549.8L388.8 549.5L389.8 549.6L390.8 549.8L391.8 549.9L392.8 548.9L393.8 549.7L394.8 549.6L395.8 549.5L396.8 549.7L397.8 548.8L398.8 550.3L399.8 549.9L400.8 549.5L401.8 549L402.8 549.3L403.8 550.4L404.8 548.4L405.8 549.7L406.8 550L407.8 549.6L408.8 549.8L409.8 549.8L410.8 549.6L411.8 549.4L412.8 549.4L413.8 548.8L414.8 549.1L415.8 549.8L416.8 549.7L417.8 548.9L418.8 549.6L419.8 549.4L420.8 549.6L421.8 549.2L422.8 549.4L423.8 548.7L424.8 549.3L425.8 549.4L426.8 549.3L427.8 549.6L428.8 549L429.8 549.3L430.8 549.1L431.8 551.1L432.8 549L433.8 550.2L434.8 550.3L435.8 549.8L436.8 549.9L437.8 549L438.8 549.1L439.8 549.8L440.8 550.3L441.8 549.4L442.8 549.9L443.8 550.1L444.8 549L445.8 549.9L446.8 549.4L447.8 549.5L448.8 549.8L449.8 549.1L450.8 548.8L451.8 550L452.8 549.9L453.8 550.2L454.8 549.1L455.8 549L456.8 549.1L457.8 549.7L458.8 549.5L459.8 549L460.8 550.3L461.8 549L462.8 549.4L463.8 550.3L464.8 549.9L465.8 550.1L466.8 548.8L467.8 549.7L468.8 549.3L469.8 548.9L470.8 549L471.8 549.6L472.8 549.1L473.8 549.5L474.8 549.2L475.8 550L476.8 549.1L477.8 549.1L478.8 548.7L479.8 549.3L480.8 549.2L481.8 549L482.8 550.4L483.8 548.6L484.8 548.9L485.8 548.8L486.8 549.6L487.8 549.1L488.3 548.8L488.8 548.1M500.3 548.9L500.8 547.3L501.3 548.6L502.3 549.4L503.3 548.8L504.3 549.9L505.3 549.1L506.3 549.5L507.3 548.7L508.3 548.5L509.3 549.5L510.3 549.1L511.3 548.7L512.3 549.5L513.3 549.3L514.3 549L515.3 550.3L516.3 549.3L517.3 549L518.3 548.7L519.3 549.9L520.3 549.6L521.3 549.4L522.3 548.9L523.3 549.5L524.3 549.1L525.3 548.9L526.3 550.1L527.3 549.4L528.3 549.7L529.3 549.9L530.3 549.8L531.3 549.7L532.3 549L533.3 549.4L534.3 550L535.3 549.3L536.3 549.1L537.3 549.5L538.3 549.6L539.3 549.8L540.3 549.4L541.3 549.9L542.3 549.3L543.3 549.1L544.3 549.2L545.3 548.7L546.3 550.4L547.3 549.9L548.3 550.1L549.3 549.7L550.3 549.4L551.3 549.7L552.3 550.6L553.3 549.8L554.3 549.2L555.3 549.5L556.3 549L557.3 549.2L558.3 548.9L559.3 548.8L560.3 549.8L561.3 549.3L562.3 549.5L563.3 549.3L564.3 549.5L565.3 549.9L566.3 550.2L567.3 549.9L568.3 549.7L569.3 549.3L570.3 549.4L571.3 548.9L572.3 549.5L573.3 549.8L574.3 549.2L575.3 549.2L576.3 549.7L577.3 549.5L578.3 550.3L579.3 550.3L580.3 549.4L581.3 549.6L582.3 549.9L583.3 549.8L584.3 550L585.3 548.9L586.3 549.4L587.3 549.5L588.3 549.2L589.3 549.4L590.3 550.3L591.3 549.9L592.3 549.3L593.3 549L594.3 549.1L595.3 549.7L596.3 549.4L597.3 550L598.3 548.9L599.3 549.7L600.3 549L601.3 549.8L602.3 550L603.3 550L604.3 549.3L605.3 549.9L606.3 550.4L607.3 549.4L608.3 549.2L609.3 549.2L610.3 549.8L611.3 549.1L612.3 549.6L613.3 549.6L614.3 549.7L615.3 549L616.3 549.7L617.3 549.3L618.3 549.4L619.3 548.4L620.3 548.9L620.8 548.9L621.3 548.6M633.3 548.3L633.8 548.4L634.3 548.7L635.3 548.9L636.3 548.8L637.3 549.7L638.3 549.4L639.3 548.4L640.3 549.7L641.3 549.8L642.3 549.7L643.3 549.8L644.3 547.9L645.3 549.4L646.3 548.9L647.3 549.8L648.3 549.5L649.3 549.5L650.3 549.6L651.3 549.4L652.3 548.8L653.3 549.6L654.3 549.6L655.3 549.2L656.3 549.9L657.3 548.5L658.3 549.6L659.3 549.3L660.3 549.4L661.3 549.4L662.3 549.4L663.3 549.3L664.3 549.7L665.3 548.9L666.3 549.1L667.3 548.8L668.3 548.9L669.3 549.2L670.3 549.5L671.3 550.3L672.3 549L673.3 549.8L674.3 549.4L675.3 549L676.3 549.8L677.3 549.1L678.3 549.2L679.3 549L680.3 548.9L681.3 548.7L682.3 548.7L683.3 549L684.3 548.7L684.8 548.4L685.3 547.8M700.3 548.8L700.8 547.7L701.3 548.9L702.3 548.9L703.3 548.7L704.3 549.6L705.3 549.3L706.3 549.1L707.3 550.1L708.3 549.5L709.3 549.7L710.3 549.6L711.3 549.2L712.3 548.7L713.3 549.5L714.3 549.4L715.3 548.9L716.3 549.2L717.3 548.3L718.3 549.7L719.3 549.4L720.3 549.2L721.3 550.4L722.3 549.3L723.3 549.8L724.3 549.2L725.3 549.2L726.3 549.3L727.3 550.3L728.3 549.9L729.3 549.6L730.3 549.9L731.3 549.2L732.3 550.3L733.3 548.8L734.3 549.1L735.3 549.6L736.3 550.2L737.3 549.4L738.3 549.4L739.3 549.6L740.3 548.7L741.3 549.6L742.3 549.4L743.3 549.3L744.3 548.5L745.3 548.7L746.3 549.7L747.3 549.7L748.3 549L749.3 549.2L750.3 549.8L751.3 549.5L752.3 549.8L753.3 549.3L754.3 550.2L755.3 549.3L756.3 549.4L757.3 548.5L758.3 549.2L759.3 549L760.3 550.1L761.3 548.9L762.3 549.1L763.3 548.9L764.3 550.2L765.3 550L766.3 549.6L767.3 549.5L768.3 548.7L769.3 549.2L770.3 548.9L771.3 549.4L772.3 549.7L773.3 549.1L774.3 549.6L775.3 549.3L776.3 549.4L777.3 549.9L778.3 550L779.3 549L780.3 549.3L781.3 550.2L782.3 549.1L783.3 549" fill="none" stroke="#c06e3e" stroke-width="1.8" stroke-linejoin="round"/>
<path d="M13.8 550.6L14.8 550.2L15.8 548.9L16.8 550.8L17.8 549.8L18.8 548.2L19.8 549.6L20.8 549.7L21.8 549.4L22.8 549.2L23.8 549.9L24.8 549.6L25.8 550.2L26.8 550.3L27.8 549L28.8 549.1L29.8 549.7L30.8 549L31.8 547.9L32.8 549.7L33.8 549.4L34.8 549.1L35.8 549.2L36.8 550.1L37.8 548.8L38.8 549.2L39.8 549.6L40.8 550.2L41.8 549.2L42.8 549.8L43.8 549.8L44.8 549.3L45.8 549.7L46.8 549.2L47.8 549.5L48.8 549.8L49.8 550.3L50.8 548.8L51.8 549.3L52.8 549.1L53.8 549.7L54.8 549.3L55.8 549.3L56.8 549.7L57.8 548.2L58.8 548.4L59.8 549L60.8 549.2L61.8 550.1L62.8 548.9L63.8 549.6L64.8 548.7L65.8 549.6L66.8 550L67.8 550.1L68.8 548.7L69.8 549.3L70.8 549.7L71.8 549.7L72.8 549.6L73.8 550.8L74.8 549.3L75.8 549.1L76.8 549.7L77.8 549.7L78.8 548.6L79.8 548.9L80.8 549.4L81.8 549.4L82.8 549.8L83.8 549.7L84.8 549.6L85.8 549.6L86.8 550L87.8 549L88.8 548.7L89.8 549.4L90.8 548.9L91.8 550.1L92.8 550.2L93.8 549.2L94.8 549.9L95.8 549.3L96.8 550L97.8 549.6L98.8 549.6L99.8 549.9L100.8 548.7L101.8 549.8L102.8 550.2L103.8 549.5L104.8 549.8L105.8 550.1L106.8 549.8L107.8 549.7L108.8 550.1L109.8 549L110.8 549.7L111.8 548.7L112.8 549.4L113.8 549.4L114.8 550.2L115.8 549.9L116.8 549.5L117.8 549.2L118.8 549.5L119.8 549.7L120.8 549.8L121.8 548.8L122.8 549.3L123.8 549.4L124.8 549.5L125.8 549.7L126.8 549L127.8 549.5L128.8 550.1L129.8 549.4L130.8 550.6L131.8 549.4L132.8 548.5L133.8 549.5L134.8 549.9L135.8 549.7L136.8 549.3L137.8 550.1L138.8 549.1L139.8 549.1L140.8 549.4L141.8 549L142.8 549.6L143.8 549.7L144.8 550.5L145.8 547.6L146.8 549.3L147.8 550.2L148.8 548.1L149.8 549.7L150.8 549.2L151.8 548.6L152.8 549.7L153.8 550.4L154.8 550L155.8 550.2L156.8 549.8L157.8 549.6L158.8 549.6L159.8 549.8L160.8 549L161.8 549.3L162.8 549.9L163.8 549.1L164.8 549.8L165.8 549.3L166.8 549.1L167.8 549.7L168.8 549.6L169.8 550.1L170.8 549.4L171.8 548.8L172.8 549.4L173.3 548.7L173.8 548.6L174.3 548.9L174.8 549.5L175.3 548.2L175.8 548L176.3 548L176.8 545L177.3 544.2L177.8 542.2L178.3 538.3L178.8 533.5L179.3 527.5L179.8 522.4L180.3 521.5L180.8 523.5L181.3 529.7L181.8 535.4L182.3 540.3L182.8 543.2L183.3 545.4L183.8 547.7L184.3 548.2L184.8 548L185.3 547.8L185.8 548.7L186.3 549.5L186.8 548.3L187.3 549L188.3 549.4L189.3 549L190.3 548L191.3 548.9L192.3 549.8L193.3 549.7L194.3 549.8L195.3 548.8L196.3 548.7L197.3 548.9L198.3 548.9L199.3 549.8L200.3 549L201.3 549.9L202.3 549.3L203.3 549.7L204.3 548.8L205.3 549.4L206.3 548.8L207.3 549.2L208.3 549.6L209.3 550L210.3 549.1L211.3 549.2L212.3 547.9L213.3 548.4L214.3 548.6L214.8 549.8L215.3 549.7L215.8 547.9L216.3 547.8L216.8 547.3L217.3 548.1L217.8 547.6L218.3 545.2L218.8 544.7L219.3 541L219.8 535.4L220.3 527.1L220.8 518.2L221.3 512.7L221.8 514.9L222.3 523.3L222.8 532.6L223.3 537.9L223.8 543.9L224.3 545.3L224.8 547L225.3 547.7L225.8 548.4L226.3 547.7L226.8 549L227.3 549.2L227.8 548.9L228.8 549.3L229.8 548.5L230.8 549.4L231.8 549.2L232.8 548.5L233.8 549.4L234.8 549.9L235.8 549.4L236.8 549L237.8 550.6L238.8 549.9L239.8 548.7L240.8 549.7L241.8 549L242.8 551L243.8 549.6L244.8 548.9L245.8 549.8L246.8 549.8L247.8 549.4L248.8 549.8L249.8 549.3L250.8 549.7L251.8 548.8L252.8 549L253.8 549L254.8 549.5L255.8 549.4L256.8 549.7L257.8 549L258.8 549.2L259.8 548.7L260.8 549.2L261.8 549.8L262.8 548.9L263.8 548.7L264.8 549.7L265.8 550L266.8 549.4L267.8 549.9L268.8 549.4L269.8 550.4L270.8 550.1L271.8 549.2L272.8 549.1L273.8 549.6L274.8 549.9L275.8 549.2L276.8 549.4L277.8 549.5L278.8 549.3L279.8 549.2L280.8 549.3L281.8 549.3L282.8 549.2L283.8 549.5L284.8 549L285.8 549.2L286.8 549.6L287.8 549L288.8 549.3L289.8 549.2L290.8 549.4L291.8 549L292.8 549.3L293.8 550.5L294.8 549.2L295.8 549.5L296.8 550.1L297.8 549.3L298.8 549.4L299.8 549.1L300.8 548.7L301.8 550.2L302.8 548.7L303.8 549L304.8 548.9L305.8 549.3L306.8 549.2L307.8 549.3L308.8 549.9L309.8 548.9L310.8 549.1L311.8 548.8L312.8 549.5L313.8 550.2L314.8 549L315.8 549.9L316.8 548.1L317.8 550.2L318.8 550.4L319.8 549L320.8 549.2L321.8 549.4L322.8 549.8L323.8 548.8L324.8 549.6L325.8 549.8L326.8 550.3L327.8 548.7L328.8 548.9L329.8 549.5L330.8 549L331.8 549.7L332.8 549.8L333.8 548.9L334.8 549.3L335.8 549.8L336.8 550.2L337.8 549.5L338.8 548.9L339.8 548.7L340.8 549.3L341.8 549.3L342.8 549.8L343.8 549.5L344.8 549L345.8 550L346.8 549.5L347.8 548.6L348.8 549.5L349.8 550.3L350.8 549.4L351.8 549.4L352.8 550.3L353.8 549.4L354.8 549.3L355.8 549.8L356.8 549.7L357.8 549.6L358.8 549.6L359.8 549.2L360.8 549.9L361.8 550.1L362.8 549.7L363.8 549.9L364.8 549.7L365.8 548.8L366.8 549.9L367.8 549.8L368.8 548.8L369.8 550.5L370.8 549.7L371.8 549.4L372.8 549.6L373.8 549.2L374.8 549.6L375.8 548.6L376.8 549.7L377.8 548.8L378.8 550.3L379.8 549.6L380.8 549.6L381.8 549.9L382.8 549.2L383.8 549.6L384.8 550.2L385.8 549.2L386.8 549.6L387.8 550.4L388.8 548.6L389.8 548.9L390.8 548.6L391.8 549.3L392.8 548.8L393.8 549.3L394.8 549.5L395.8 549.1L396.8 549.3L397.8 549.4L398.8 549.4L399.8 548.8L400.8 549L401.8 549.1L402.8 548.8L403.8 550.1L404.8 549L405.8 549.5L406.8 548.5L407.8 548.3L408.8 549.1L409.8 549.3L410.8 550L411.8 550.1L412.8 549.8L413.8 550.3L414.8 548.7L415.8 549.9L416.8 550.3L417.8 548.5L418.8 549.4L419.8 549.8L420.8 549.3L421.8 549.2L422.8 549.9L423.8 549.4L424.8 550.2L425.8 549.8L426.8 550L427.8 549.5L428.8 549.5L429.8 549.4L430.8 548.7L431.8 549.7L432.8 549.4L433.8 548.9L434.8 549.5L435.8 549.6L436.8 550.8L437.8 549.9L438.8 550.4L439.8 548.6L440.8 549.8L441.8 549.4L442.8 550.2L443.8 549.6L444.8 549.8L445.8 549.1L446.8 549.1L447.8 550.4L448.8 550.9L449.8 549.6L450.8 549.2L451.8 549.8L452.8 549.9L453.8 549.8L454.8 550.1L455.8 549.7L456.8 548.6L457.8 549.1L458.8 548.4L459.8 549L460.8 548.8L461.8 549.5L462.8 547.2L463.8 550.3L464.8 548.7L465.8 549.5L466.8 549.8L467.8 549.5L468.8 550.2L469.8 549.5L470.8 549.8L471.8 548.5L472.8 549.5L473.8 549.3L474.8 548.2L475.8 550.7L476.8 549.5L477.8 548.2L478.8 549.3L479.8 549.3L480.8 548.9L481.8 549.6L482.8 549.8L483.8 549.2L484.8 548.4L485.8 548.5L486.8 549.6L487.8 548.5L488.3 549.5L488.8 548L489.3 547.9L489.8 547.1L490.3 546.7L490.8 545.2L491.3 541.6L491.8 536.5L492.3 531.8L492.8 529.8L493.3 530.8L493.8 533.8L494.3 537.3L494.8 535.9L495.3 534.6L495.8 530.6L496.3 529.8L496.8 532.9L497.3 538.4L497.8 541.6L498.3 544.7L498.8 546.1L499.3 547.6L499.8 547L500.3 548.4L500.8 549.2L501.3 549.4L502.3 549.5L503.3 548.8L504.3 549.7L505.3 548.3L506.3 549.5L507.3 549.8L508.3 550.2L509.3 550.1L510.3 550.2L511.3 549.2L512.3 549.7L513.3 548.8L514.3 549.6L515.3 548.6L516.3 549.9L517.3 550.4L518.3 549.5L519.3 550.2L520.3 550.1L521.3 549.4L522.3 549.5L523.3 548.9L524.3 548.8L525.3 550L526.3 549.6L527.3 549.6L528.3 548.9L529.3 549.8L530.3 549.5L531.3 550.2L532.3 548.8L533.3 549.6L534.3 550.3L535.3 548.8L536.3 549.1L537.3 548.5L538.3 549.9L539.3 548.7L540.3 549.8L541.3 549.5L542.3 549.3L543.3 549.1L544.3 550.4L545.3 548.7L546.3 549.1L547.3 549.6L548.3 548.6L549.3 549.8L550.3 549.3L551.3 549.3L552.3 549.6L553.3 549.3L554.3 549.5L555.3 549.6L556.3 549.7L557.3 549.9L558.3 549.4L559.3 549.1L560.3 550.1L561.3 549.3L562.3 549.5L563.3 549L564.3 549.3L565.3 550L566.3 548.7L567.3 549.8L568.3 550.4L569.3 549.8L570.3 549.3L571.3 550L572.3 549.4L573.3 549.9L574.3 548.2L575.3 548.2L576.3 549.9L577.3 549.8L578.3 548.6L579.3 549.9L580.3 549.3L581.3 549.4L582.3 549.6L583.3 549.9L584.3 549.6L585.3 550L586.3 550.2L587.3 550.4L588.3 549.8L589.3 549.2L590.3 548.7L591.3 550.1L592.3 549.3L593.3 549.1L594.3 550.5L595.3 549.7L596.3 548.1L597.3 550L598.3 550.3L599.3 550.7L600.3 548.6L601.3 550L602.3 549.5L603.3 549.3L604.3 549.7L605.3 550.2L606.3 548.5L607.3 550.2L608.3 549.3L609.3 549.1L610.3 549.3L611.3 548.4L612.3 549.6L613.3 548.6L614.3 548.8L615.3 549.4L616.3 549.6L617.3 549.4L618.3 548.8L619.3 548.5L620.3 549.1L620.8 548.4L621.3 548.3L621.8 548.1L622.3 547.7L622.8 546.4L623.3 543.5L623.8 539.7L624.3 535.9L624.8 531.7L625.3 532.4L625.8 536L626.3 539.3L626.8 542L627.3 543.2L627.8 542.7L628.3 539.6L628.8 535.8L629.3 532.5L629.8 532L630.3 536.1L630.8 538.7L631.3 544.3L631.8 545.9L632.3 546.9L632.8 548.5L633.3 548.2L633.8 548.9L634.3 549L635.3 548.8L636.3 549.9L637.3 549.7L638.3 548.2L639.3 549.4L640.3 549.2L641.3 549.1L642.3 549.6L643.3 549.5L644.3 549.7L645.3 549.2L646.3 549.8L647.3 549.2L648.3 549.3L649.3 549.1L650.3 548.8L651.3 549.7L652.3 549.9L653.3 548.4L654.3 548.7L655.3 550.2L656.3 548.9L657.3 549.6L658.3 550L659.3 549.6L660.3 550.3L661.3 550.5L662.3 548.9L663.3 550L664.3 549.4L665.3 548.6L666.3 550.1L667.3 549L668.3 549.9L669.3 548.8L670.3 549.1L671.3 549.3L672.3 550.2L673.3 550L674.3 549.6L675.3 550.2L676.3 550.2L677.3 550L678.3 548.8L679.3 548.7L680.3 549.7L681.3 549.8L682.3 548.5L683.3 549.7L684.3 549L684.8 548.6L685.3 548.4L685.8 548.9L686.3 548.4L686.8 546.3L687.3 545.7L687.8 543.6L688.3 540.1L688.8 536.3L689.3 531.6L689.8 529.3L690.3 530.9L690.8 535.8L691.3 538.6L691.8 542.5L692.3 546.2L692.8 545.1L693.3 545.4L693.8 543.4L694.3 540.2L694.8 536.8L695.3 532.8L695.8 530.6L696.3 530.5L696.8 535.7L697.3 539.4L697.8 542.9L698.3 545.9L698.8 547.3L699.3 548.2L699.8 548.5L700.3 548.5L700.8 548.6L701.3 548.8L702.3 548L703.3 549.3L704.3 550.4L705.3 548.5L706.3 549.1L707.3 549.6L708.3 549L709.3 549.4L710.3 549.1L711.3 550.3L712.3 550L713.3 549.1L714.3 549.7L715.3 548.9L716.3 548.6L717.3 548.9L718.3 550.2L719.3 549.8L720.3 549.7L721.3 549.8L722.3 550.4L723.3 549.6L724.3 549.1L725.3 548.7L726.3 550.2L727.3 551.4L728.3 549.2L729.3 549.4L730.3 549.2L731.3 548.8L732.3 550L733.3 549.5L734.3 548.4L735.3 549.6L736.3 549.5L737.3 549.1L738.3 549.2L739.3 549.2L740.3 549.1L741.3 549.3L742.3 549.6L743.3 549.7L744.3 548.9L745.3 549.6L746.3 548.8L747.3 550.3L748.3 550.2L749.3 549.3L750.3 549.5L751.3 548.8L752.3 549.3L753.3 550.7L754.3 549.3L755.3 548.6L756.3 548.9L757.3 549.7L758.3 551L759.3 549.2L760.3 549.7L761.3 550.8L762.3 550.5L763.3 549.7L764.3 549.5L765.3 549.8L766.3 549.3L767.3 549.6L768.3 549.4L769.3 549.8L770.3 549.6L771.3 549.4L772.3 550.6L773.3 549.6L774.3 549.2L775.3 549.1L776.3 549L777.3 550.2L778.3 548.8L779.3 550.5L780.3 548.7L781.3 550.2L782.3 549.5L783.3 549.1" fill="none" stroke="#c06e3e" stroke-width="1.5" stroke-linejoin="round"/>
<path d="M13.8 589.1L14.8 589.4L15.8 588.5L16.8 589.1L17.8 588.9L18.8 588.1L19.8 589.3L20.8 588.5L21.8 589.2L22.8 588.9L23.8 589.3L24.8 588.9L25.8 589.2L26.8 588.5L27.8 588.7L28.8 589.5L29.8 589.3L30.8 589.2L31.8 589.3L32.8 588.2L33.8 589.2L34.8 588.6L35.8 589.2L36.8 589.6L37.8 589.7L38.8 589.6L39.8 589L40.8 588.4L41.8 589.2L42.8 589.2L43.8 588.5L44.8 589.1L45.8 589.5L46.8 589L47.8 589.1L48.8 589.9L49.8 588.9L50.8 588.8L51.8 589.1L52.8 589L53.8 588.9L54.8 589.4L55.8 589.8L56.8 588.9L57.8 589.3L58.8 588.8L59.8 589.6L60.8 589L61.8 588.8L62.8 588.9L63.8 588.5L64.8 588.3L65.8 588.8L66.8 588.2L67.8 589.1L68.8 589.1L69.8 589.2L70.8 589.7L71.8 588.6L72.8 588.8L73.8 589.5L74.8 589.1L75.8 588.7L76.8 589.3L77.8 588.7L78.8 589.1L79.8 590L80.8 588.9L81.8 589L82.8 588.3L83.8 588.9L84.8 588.8L85.8 588.4L86.8 588.6L87.8 588.9L88.8 588.5L89.8 589.5L90.8 588.7L91.8 588.8L92.8 589.6L93.8 588.3L94.8 589.2L95.8 589.7L96.8 589.1L97.8 589.2L98.8 588.6L99.8 587.5L100.8 589.4L101.8 589.4L102.8 588.9L103.8 589.3L104.8 589.6L105.8 589.1L106.8 589.1L107.8 589.7L108.8 589.1L109.8 588.5L110.8 589.4L111.8 589L112.8 588.1L113.8 589.4L114.8 588.4L115.8 589.7L116.8 588.9L117.8 588.8L118.8 589.1L119.8 588.7L120.8 588.6L121.8 588.8L122.8 589L123.8 589.2L124.8 589.4L125.8 589.4L126.8 588.6L127.8 589.6L128.8 588.9L129.8 588.3L130.8 589.1L131.8 589.2L132.8 588.5L133.8 588.7L134.8 589L135.8 589L136.8 588.4L137.8 589.3L138.8 589.2L139.8 589.3L140.8 589.4L141.8 589.1L142.8 588.7L143.8 588.9L144.8 588.7L145.8 588.6L146.8 589.1L147.8 589.1L148.8 588.4L149.8 589.2L150.8 588.9L151.8 588.9L152.8 589L153.8 589L154.8 589.4L155.8 589.1L156.8 588.8L157.8 589.5L158.8 588.6L159.8 588.3L160.8 589.1L161.8 588.7L162.8 588.1L163.8 588.7L164.8 589.1L165.8 589.3L166.8 590.1L167.8 588.7L168.8 588.7L169.8 589.2L170.8 589.2L171.8 589.4L172.8 588.8L173.8 588.8L174.8 588.6L175.8 588.5L176.8 588.8L177.8 588.9L178.8 588.1L179.3 587.5L179.8 588M187.3 587.7L187.8 588.5L188.3 587.7M192.3 587.7L192.8 588.7L193.8 588.5L194.8 588.9L195.8 589.1L196.8 589.3L197.8 588.7L198.8 589.3L199.8 588.5L200.8 588.7L201.8 588.9L202.8 589.4L203.8 589.7L204.8 589.2L205.8 588.7L206.8 588.7L207.8 588.3L208.8 589.1L209.8 589.7L210.8 588.7L211.8 589.5L212.8 589.5L213.8 588.1L214.8 589.3L215.8 589.2L216.8 588.3L217.8 589.2L218.3 588.7L218.8 588.7L219.3 588.5M226.8 587.7L227.3 587.6L227.8 587.3M231.8 588.2L232.3 588.6L233.3 588.8L234.3 588.4L235.3 588.6L236.3 589L237.3 588.3L238.3 589L239.3 589.1L240.3 588.2L241.3 589.5L242.3 589L243.3 589.9L244.3 588.1L245.3 589.3L246.3 588.8L247.3 589.2L248.3 589L249.3 588.8L250.3 589.1L251.3 588.7L252.3 589L253.3 589L254.3 588.8L255.3 588.8L256.3 589.5L257.3 588.6L258.3 588.8L259.3 589.1L260.3 588.9L261.3 588.8L262.3 589.4L263.3 588.7L264.3 589.4L265.3 588.4L266.3 588.6L267.3 588.9L268.3 589.6L269.3 589.1L270.3 589.3L271.3 589L272.3 588.6L273.3 588.9L274.3 589.1L275.3 589.2L276.3 588.5L277.3 589L278.3 589.7L279.3 588.2L280.3 589.3L281.3 588.8L282.3 589.5L283.3 589.8L284.3 589.5L285.3 589.4L286.3 589.4L287.3 589.4L288.3 588.6L289.3 588.9L290.3 589.2L291.3 589L292.3 589.2L293.3 590.1L294.3 588.7L295.3 589L296.3 588.7L297.3 588.2L298.3 588.6L299.3 588.6L300.3 589.4L301.3 589L302.3 589.1L303.3 589.3L304.3 589.2L305.3 589.5L306.3 588.7L307.3 589.1L308.3 588.6L309.3 589.4L310.3 589L311.3 588.9L312.3 589.3L313.3 588.8L314.3 589.1L315.3 589.6L316.3 589.2L317.3 588.3L318.3 589.1L319.3 589.5L320.3 589L321.3 588.8L322.3 588.7L323.3 589.2L324.3 589.6L325.3 589L326.3 588.9L327.3 589.3L328.3 589.3L329.3 588.8L330.3 589.5L331.3 589L332.3 588.6L333.3 589.7L334.3 588L335.3 588.8L336.3 588.9L337.3 589.6L338.3 588.2L339.3 589L340.3 588.9L341.3 589L342.3 588.9L343.3 588.3L344.3 588.6L345.3 589.3L346.3 588.8L347.3 589.5L348.3 589.8L349.3 588.7L350.3 589.6L351.3 589L352.3 589L353.3 588.7L354.3 589.3L355.3 589.4L356.3 588.9L357.3 589.3L358.3 589.3L359.3 589.3L360.3 588.9L361.3 589.2L362.3 588.5L363.3 589.2L364.3 588.8L365.3 587.7L366.3 588.6L367.3 588.3L368.3 588.8L369.3 589.5L370.3 588.8L371.3 589.1L372.3 589.4L373.3 588.7L374.3 589.1L375.3 588.4L376.3 589.2L377.3 588.7L378.3 588.9L379.3 588.7L380.3 589.1L381.3 588.6L382.3 589L383.3 589.3L384.3 588.4L385.3 589.4L386.3 588.8L387.3 589.3L388.3 589.6L389.3 589.3L390.3 589.6L391.3 589.6L392.3 589L393.3 589.4L394.3 588.9L395.3 589.1L396.3 589.4L397.3 588.6L398.3 588.8L399.3 589.4L400.3 589L401.3 589.1L402.3 588.9L403.3 589.2L404.3 589.4L405.3 589.6L406.3 589.7L407.3 588.7L408.3 589.7L409.3 589.1L410.3 588.4L411.3 588.7L412.3 588.9L413.3 589.1L414.3 588.2L415.3 589L416.3 589.4L417.3 589.3L418.3 588.6L419.3 589.4L420.3 589.1L421.3 587.8L422.3 589.3L423.3 589.7L424.3 588.8L425.3 588.5L426.3 589.2L427.3 589.1L428.3 588.3L429.3 589.5L430.3 588.6L431.3 588.7L432.3 589.2L433.3 588.7L434.3 589.1L435.3 589.7L436.3 589.2L437.3 589.4L438.3 588.8L439.3 589.2L440.3 589.3L441.3 588.7L442.3 588.6L443.3 589.7L444.3 588.6L445.3 588.4L446.3 589.5L447.3 588.8L448.3 588.9L449.3 589.4L450.3 588.6L451.3 588.7L452.3 589.7L453.3 589.8L454.3 588.4L455.3 589.5L456.3 588.9L457.3 589.5L458.3 588.5L459.3 589.5L460.3 589.1L461.3 589.3L462.3 588.7L463.3 589.2L464.3 589.2L465.3 589.5L466.3 589.2L467.3 589L468.3 589L469.3 589L470.3 589.6L471.3 589.1L472.3 588.4L473.3 589.7L474.3 589.4L475.3 589.2L476.3 589L477.3 589L478.3 588.9L479.3 588.6L480.3 588.5L481.3 589L482.3 589.5L483.3 589.4L484.3 589.5L485.3 588.5L486.3 588.7L487.3 587.8L488.3 589.4L489.3 588.1L489.8 588.2L490.3 588.1M499.3 587.3L499.8 588.5L500.3 588.1L501.3 588.8L502.3 588.9L503.3 588.9L504.3 588.4L505.3 588.8L506.3 588.6L507.3 589L508.3 589.2L509.3 589L510.3 588.7L511.3 589L512.3 589.6L513.3 588.8L514.3 588.2L515.3 589.1L516.3 588.5L517.3 588.6L518.3 588.7L519.3 588.1L520.3 589L521.3 589.4L522.3 589L523.3 588.9L524.3 589.3L525.3 588.6L526.3 589.1L527.3 588.8L528.3 589.7L529.3 589.4L530.3 589.4L531.3 589L532.3 588.6L533.3 589.2L534.3 589.4L535.3 589L536.3 589.1L537.3 589.8L538.3 588.7L539.3 589L540.3 588.6L541.3 589.3L542.3 588.7L543.3 588.9L544.3 589.3L545.3 589.4L546.3 588.5L547.3 588.3L548.3 589L549.3 588.9L550.3 588.9L551.3 590L552.3 588.7L553.3 589.1L554.3 589.1L555.3 589L556.3 589L557.3 589.4L558.3 588.5L559.3 589.1L560.3 588.8L561.3 589.6L562.3 588.5L563.3 588.3L564.3 588.9L565.3 589.2L566.3 590L567.3 589.1L568.3 588.9L569.3 588L570.3 589.1L571.3 589.1L572.3 588.9L573.3 588.1L574.3 588.7L575.3 589.3L576.3 589.7L577.3 588.2L578.3 589L579.3 589.1L580.3 588.8L581.3 589.7L582.3 588.1L583.3 589L584.3 588.4L585.3 588.1L586.3 588.9L587.3 588.6L588.3 589L589.3 588.7L590.3 589.7L591.3 588.9L592.3 589.4L593.3 589.1L594.3 589.1L595.3 589.2L596.3 589.3L597.3 589.6L598.3 588.6L599.3 589.2L600.3 589.4L601.3 588.6L602.3 588.9L603.3 588.9L604.3 589.2L605.3 588.8L606.3 588.7L607.3 589.4L608.3 588.4L609.3 589.2L610.3 588.6L611.3 588.7L612.3 589.4L613.3 587.7L614.3 589.3L615.3 589.1L616.3 588.9L617.3 589.1L618.3 588.1L619.3 588.5L620.3 589.3L621.3 588.2L622.3 588.1L622.8 588.6M632.8 589.3L633.3 588.7L634.3 588.2L635.3 589.3L636.3 588.7L637.3 588.8L638.3 588.9L639.3 588.4L640.3 588.5L641.3 588.1L642.3 589.5L643.3 590L644.3 589.6L645.3 588.3L646.3 588.7L647.3 588.1L648.3 589.3L649.3 589.6L650.3 589.6L651.3 589.8L652.3 589.1L653.3 588.2L654.3 589.1L655.3 589.7L656.3 588.8L657.3 590L658.3 588.7L659.3 589L660.3 589.2L661.3 588.4L662.3 589.4L663.3 588.8L664.3 588.4L665.3 588.9L666.3 588.4L667.3 589L668.3 589.1L669.3 589L670.3 588.7L671.3 588.4L672.3 588.4L673.3 589.7L674.3 588.6L675.3 588.6L676.3 588.9L677.3 589.3L678.3 589.1L679.3 589.1L680.3 589L681.3 588.2L682.3 588.5L683.3 589L684.3 588.8L685.3 588.4L686.3 588.2L686.8 588M698.8 588.4L699.3 588.8L700.3 588.9L701.3 588.8L702.3 589.2L703.3 588.6L704.3 589.1L705.3 588.6L706.3 588.9L707.3 588.7L708.3 588.5L709.3 589.3L710.3 588.2L711.3 589.4L712.3 588.7L713.3 588.1L714.3 588.5L715.3 588.9L716.3 588.6L717.3 588.6L718.3 589L719.3 588.3L720.3 589.2L721.3 588.9L722.3 588.4L723.3 589L724.3 589.6L725.3 589.2L726.3 589.3L727.3 588.9L728.3 589.3L729.3 589L730.3 588.4L731.3 588.5L732.3 588.8L733.3 588.5L734.3 588.9L735.3 589.1L736.3 589.7L737.3 589.5L738.3 588.8L739.3 589L740.3 589.4L741.3 590.1L742.3 588.9L743.3 589.2L744.3 589.2L745.3 588.5L746.3 589.4L747.3 588.4L748.3 589.2L749.3 589.1L750.3 588.2L751.3 588.9L752.3 589L753.3 589.3L754.3 589L755.3 589.3L756.3 589.9L757.3 588.9L758.3 589.4L759.3 588.6L760.3 588.8L761.3 588.9L762.3 588.9L763.3 588.6L764.3 589.1L765.3 588.7L766.3 589L767.3 589L768.3 588.8L769.3 588.5L770.3 589.2L771.3 588.9L772.3 589.5L773.3 588.3L774.3 589.4L775.3 589L776.3 589.4L777.3 589.5L778.3 589.5L779.3 588.8L780.3 589.3L781.3 589.1L782.3 589.3L783.3 588.9" fill="none" stroke="#be3c48" stroke-width="1.8" stroke-linejoin="round"/>
<path d="M13.8 589.4L14.8 588.7L15.8 588.9L16.8 588.8L17.8 588.4L18.8 589.2L19.8 588.4L20.8 588.9L21.8 587.9L22.8 588.9L23.8 587.9L24.8 589.1L25.8 589.1L26.8 588.3L27.8 588.5L28.8 589.3L29.8 589.1L30.8 589.2L31.8 588.5L32.8 589.6L33.8 589.3L34.8 589.2L35.8 589L36.8 589.7L37.8 588.1L38.8 589.5L39.8 589.9L40.8 589.5L41.8 588.7L42.8 589L43.8 588.4L44.8 589.5L45.8 588.7L46.8 589.6L47.8 590.1L48.8 588.5L49.8 588.3L50.8 589.2L51.8 589.7L52.8 589.6L53.8 588.7L54.8 589.5L55.8 589.3L56.8 589.2L57.8 590.1L58.8 589.8L59.8 589.3L60.8 589.1L61.8 589.7L62.8 589L63.8 588.9L64.8 589.7L65.8 589.3L66.8 588.7L67.8 588.6L68.8 588L69.8 588.1L70.8 589.3L71.8 589.6L72.8 589.5L73.8 588.2L74.8 588.9L75.8 589.3L76.8 589.6L77.8 588.5L78.8 588.5L79.8 588.4L80.8 589.5L81.8 589.3L82.8 589.3L83.8 589L84.8 588.9L85.8 589.4L86.8 590L87.8 589.9L88.8 588.1L89.8 589.5L90.8 588L91.8 589.5L92.8 588.5L93.8 589L94.8 588.3L95.8 588.5L96.8 588.5L97.8 589.3L98.8 588.9L99.8 589L100.8 589.8L101.8 589.6L102.8 588.5L103.8 589.9L104.8 588.8L105.8 587.8L106.8 589.7L107.8 588.9L108.8 588.4L109.8 589.5L110.8 588.4L111.8 588.8L112.8 588.4L113.8 590L114.8 589L115.8 589.3L116.8 589.4L117.8 588.8L118.8 588.9L119.8 589.2L120.8 589.6L121.8 587.8L122.8 588.2L123.8 589L124.8 589.7L125.8 589.4L126.8 589.1L127.8 587.7L128.8 589.4L129.8 588.5L130.8 588.9L131.8 588.9L132.8 588.8L133.8 589.5L134.8 588.3L135.8 589.4L136.8 590.2L137.8 590L138.8 589.6L139.8 589.2L140.8 589.4L141.8 588.9L142.8 589.2L143.8 589L144.8 588L145.8 588.8L146.8 589.4L147.8 588.5L148.8 589.9L149.8 588.4L150.8 588.5L151.8 588.8L152.8 589.1L153.8 589.6L154.8 588.6L155.8 588.8L156.8 588.7L157.8 589.4L158.8 588.5L159.8 589.3L160.8 588.3L161.8 588.9L162.8 589.2L163.8 589.8L164.8 589.1L165.8 589.1L166.8 588.8L167.8 588.5L168.8 588.1L169.8 588.7L170.8 589L171.8 589.2L172.8 588.5L173.8 589.3L174.8 589L175.8 588.2L176.8 588.9L177.8 589L178.8 588L179.3 587.7L179.8 588L180.3 587.5L180.8 587.4L181.3 585.5L181.8 582.1L182.3 576.5L182.8 564.9L183.3 554.4L183.8 560.1L184.3 572.7L184.8 581.4L185.3 585.3L185.8 586.4L186.3 586.8L186.8 587.4L187.3 587.7L187.8 587.8L188.3 588.5L188.8 588L189.3 587.5L189.8 586.1L190.3 587L190.8 586.2L191.3 586.9L191.8 587.8L192.3 587.4L192.8 588.2L193.8 588.9L194.8 588.8L195.8 589.7L196.8 588.9L197.8 589.2L198.8 588.5L199.8 588.3L200.8 589L201.8 589L202.8 588.8L203.8 589.5L204.8 588.3L205.8 588.7L206.8 588.4L207.8 588.3L208.8 588.6L209.8 589L210.8 588.9L211.8 587.7L212.8 588.9L213.8 588.7L214.8 589.4L215.8 589.6L216.8 587.8L217.8 588.3L218.3 587.9L218.8 590.2L219.3 588.2L219.8 587.4L220.3 587.2L220.8 585.5L221.3 581.8L221.8 573.4L222.3 562.9L222.8 554.7L223.3 563L223.8 574.8L224.3 582.3L224.8 585L225.3 586.5L225.8 587.3L226.3 586.8L226.8 587.6L227.3 588.9L227.8 588.5L228.3 587.7L228.8 587L229.3 587.5L229.8 586.6L230.3 587L230.8 587.2L231.3 587.7L231.8 588.1L232.3 588.8L233.3 589.1L234.3 588.9L235.3 589.2L236.3 588.7L237.3 588.6L238.3 588.9L239.3 588.3L240.3 588.2L241.3 588.9L242.3 588.5L243.3 589.1L244.3 588.5L245.3 589.7L246.3 588.9L247.3 588.3L248.3 589L249.3 588.3L250.3 589.1L251.3 589.2L252.3 588.3L253.3 589.6L254.3 588.3L255.3 589.6L256.3 588.2L257.3 590.1L258.3 589.8L259.3 588.4L260.3 590.1L261.3 588.6L262.3 588.8L263.3 588.2L264.3 588.1L265.3 588.7L266.3 589.4L267.3 589.5L268.3 587.6L269.3 588.1L270.3 588.7L271.3 588.8L272.3 588.6L273.3 589.1L274.3 588.5L275.3 588.9L276.3 589.6L277.3 589.2L278.3 589.5L279.3 588.8L280.3 590.1L281.3 588.9L282.3 589.3L283.3 588.9L284.3 589.1L285.3 588.8L286.3 587.9L287.3 589.6L288.3 588.3L289.3 590.3L290.3 589.6L291.3 589L292.3 589.1L293.3 589.2L294.3 587.6L295.3 588.8L296.3 588.2L297.3 588L298.3 589.6L299.3 588.9L300.3 590.2L301.3 590L302.3 589L303.3 588.7L304.3 589.6L305.3 588.5L306.3 588.2L307.3 589.9L308.3 588.3L309.3 588.4L310.3 589.3L311.3 588.8L312.3 589.6L313.3 589.9L314.3 589.3L315.3 588.1L316.3 589.5L317.3 589L318.3 588.7L319.3 590.3L320.3 588.2L321.3 589.5L322.3 588.2L323.3 587.9L324.3 588.7L325.3 589L326.3 588.7L327.3 590L328.3 588.4L329.3 588.8L330.3 589.1L331.3 588.7L332.3 588.6L333.3 587.5L334.3 589L335.3 589.2L336.3 589.3L337.3 589.7L338.3 589.1L339.3 587.5L340.3 589.2L341.3 589.3L342.3 589.1L343.3 589.3L344.3 589.3L345.3 588.4L346.3 589.5L347.3 588L348.3 589.5L349.3 588.5L350.3 590.2L351.3 588.4L352.3 587.8L353.3 589.5L354.3 589.4L355.3 589.4L356.3 587.6L357.3 588.4L358.3 589.9L359.3 590.6L360.3 587.8L361.3 589L362.3 589.4L363.3 588.9L364.3 588.7L365.3 588.5L366.3 588.9L367.3 589.4L368.3 589.6L369.3 589.5L370.3 589.1L371.3 590L372.3 588.1L373.3 588.3L374.3 588.8L375.3 589L376.3 588.3L377.3 589.6L378.3 590.1L379.3 588.7L380.3 589.8L381.3 588.6L382.3 588.2L383.3 588.6L384.3 589.9L385.3 589.7L386.3 588.3L387.3 588.7L388.3 588.2L389.3 589.8L390.3 588.6L391.3 589.1L392.3 589.2L393.3 589L394.3 589.5L395.3 590.2L396.3 589.3L397.3 590L398.3 587.9L399.3 588.5L400.3 589.3L401.3 588.3L402.3 589L403.3 588.7L404.3 589.1L405.3 589.2L406.3 590.1L407.3 589.5L408.3 588.9L409.3 589.7L410.3 589L411.3 588.8L412.3 589L413.3 589.6L414.3 588.8L415.3 589.1L416.3 588.6L417.3 589.5L418.3 588.7L419.3 590.2L420.3 588.5L421.3 588.1L422.3 589.3L423.3 588.6L424.3 589.4L425.3 589L426.3 588.7L427.3 589.4L428.3 588.8L429.3 588.4L430.3 589.4L431.3 589L432.3 588.6L433.3 589.6L434.3 589.5L435.3 588.6L436.3 588.7L437.3 588.8L438.3 588.9L439.3 589.4L440.3 588.7L441.3 589.7L442.3 587.8L443.3 588.6L444.3 588.5L445.3 589.1L446.3 588.7L447.3 588.8L448.3 589.3L449.3 588.2L450.3 588.2L451.3 588.2L452.3 589L453.3 588.8L454.3 588.9L455.3 589.4L456.3 588.2L457.3 588.4L458.3 588.7L459.3 588.8L460.3 589.4L461.3 588.4L462.3 589.5L463.3 588.8L464.3 589.4L465.3 589.5L466.3 589.3L467.3 588.2L468.3 588.4L469.3 589.3L470.3 588.5L471.3 589.7L472.3 589.5L473.3 588.8L474.3 589.8L475.3 587.9L476.3 588.2L477.3 589.6L478.3 589.2L479.3 588.1L480.3 588.7L481.3 589.4L482.3 588.5L483.3 589.9L484.3 589.2L485.3 589.1L486.3 589L487.3 588.8L488.3 588.5L489.3 588.4L489.8 587.9L490.3 589.2L490.8 588.2L491.3 586.2L491.8 583.6L492.3 575.9L492.8 570.4L493.3 571.4L493.8 575.2L494.3 572.3L494.8 569.2L495.3 571.7L495.8 575.7L496.3 571L496.8 569.6L497.3 576L497.8 584L498.3 587.4L498.8 587.2L499.3 586.9L499.8 587.5L500.3 588.3L501.3 588.4L502.3 589.2L503.3 588.9L504.3 588.3L505.3 588.6L506.3 589L507.3 588.9L508.3 589.3L509.3 589.2L510.3 588.1L511.3 589L512.3 588.4L513.3 589.6L514.3 589.7L515.3 589.6L516.3 588.7L517.3 589.2L518.3 589L519.3 589.6L520.3 589.3L521.3 589.4L522.3 587.4L523.3 588.5L524.3 589L525.3 589.5L526.3 590.1L527.3 589.2L528.3 588.8L529.3 588.4L530.3 589.6L531.3 589.2L532.3 588.1L533.3 589.1L534.3 589.5L535.3 589.3L536.3 589.9L537.3 589.3L538.3 588.9L539.3 589.4L540.3 589.6L541.3 588.7L542.3 589.1L543.3 589.5L544.3 589L545.3 589.8L546.3 588.4L547.3 589L548.3 589L549.3 589.3L550.3 588.6L551.3 588.9L552.3 590.4L553.3 589.4L554.3 589.2L555.3 588.5L556.3 588.9L557.3 588.7L558.3 588.9L559.3 589.4L560.3 588.7L561.3 589L562.3 589.5L563.3 588.5L564.3 589.2L565.3 588.7L566.3 588.9L567.3 589.5L568.3 590.1L569.3 588.3L570.3 590.4L571.3 589.6L572.3 588.7L573.3 589L574.3 588.1L575.3 589.1L576.3 589.4L577.3 588.8L578.3 589.1L579.3 589.8L580.3 589.2L581.3 588.8L582.3 588.8L583.3 589L584.3 588.4L585.3 588.8L586.3 588.9L587.3 588.6L588.3 588.6L589.3 589.1L590.3 588.3L591.3 588.5L592.3 588.2L593.3 589L594.3 589.8L595.3 589.8L596.3 590.1L597.3 588.3L598.3 589.1L599.3 589.1L600.3 588.9L601.3 588.7L602.3 588.2L603.3 588.9L604.3 589.2L605.3 588.6L606.3 589.2L607.3 588.6L608.3 588.7L609.3 589.3L610.3 589.7L611.3 588.9L612.3 588.8L613.3 589.2L614.3 589.1L615.3 589.7L616.3 588.8L617.3 587.4L618.3 589L619.3 588L620.3 589.8L621.3 589.1L622.3 587.2L622.8 588.8L623.3 587L623.8 586.2L624.3 582.6L624.8 576.4L625.3 572.6L625.8 576.1L626.3 581.1L626.8 582.3L627.3 578.5L627.8 574.6L628.3 578.5L628.8 581.8L629.3 579.5L629.8 575.3L630.3 573.5L630.8 578.2L631.3 583.5L631.8 587.1L632.3 588.1L632.8 588.6L633.3 587.7L634.3 588.2L635.3 589.7L636.3 588.4L637.3 589L638.3 589.4L639.3 588.8L640.3 588.3L641.3 588L642.3 589.1L643.3 589.2L644.3 588.2L645.3 589.1L646.3 588.7L647.3 588.4L648.3 589.1L649.3 589.6L650.3 588.7L651.3 588.6L652.3 589.3L653.3 590.1L654.3 589.2L655.3 589.3L656.3 589.7L657.3 589.6L658.3 589.3L659.3 588.1L660.3 588.2L661.3 588.6L662.3 588.8L663.3 589.9L664.3 588.8L665.3 588.7L666.3 590.2L667.3 587.4L668.3 589.9L669.3 589.4L670.3 588.9L671.3 588.7L672.3 590L673.3 589.3L674.3 589.6L675.3 589L676.3 588.7L677.3 589.5L678.3 588.7L679.3 589.9L680.3 589.3L681.3 589L682.3 589.1L683.3 588.2L684.3 589.4L685.3 588.5L686.3 587.9L686.8 588.3L687.3 588.5L687.8 584.9L688.3 581.7L688.8 574L689.3 569.9L689.8 572.5L690.3 579.2L690.8 583.9L691.3 587L691.8 588.2L692.3 588.1L692.8 587.6L693.3 587.7L693.8 586.9L694.3 586.3L694.8 582L695.3 575.6L695.8 569.1L696.3 573.3L696.8 579.9L697.3 584.5L697.8 587.1L698.3 586.9L698.8 587.1L699.3 588.6L700.3 588.2L701.3 588.2L702.3 588.1L703.3 589.7L704.3 589L705.3 588L706.3 588.2L707.3 588.8L708.3 589.2L709.3 589.5L710.3 588.4L711.3 588.6L712.3 589L713.3 588.9L714.3 588.1L715.3 589.2L716.3 588.9L717.3 589.4L718.3 588.8L719.3 588.9L720.3 588.5L721.3 589.1L722.3 589.1L723.3 589.1L724.3 588.5L725.3 589.4L726.3 589.2L727.3 588.8L728.3 589.5L729.3 588.5L730.3 588.7L731.3 588.2L732.3 588.2L733.3 589.6L734.3 588.5L735.3 589.3L736.3 588.1L737.3 588.9L738.3 588.6L739.3 589.6L740.3 589.2L741.3 588.3L742.3 589.2L743.3 588.8L744.3 589.4L745.3 589.1L746.3 588.7L747.3 589.3L748.3 589.5L749.3 588.3L750.3 587.8L751.3 588.6L752.3 588.9L753.3 588.9L754.3 589L755.3 589.2L756.3 589.5L757.3 589.2L758.3 588.8L759.3 589.1L760.3 587.8L761.3 589.1L762.3 589.1L763.3 588.5L764.3 588.4L765.3 589.7L766.3 588.3L767.3 589.7L768.3 588.9L769.3 589L770.3 588.9L771.3 588.6L772.3 589.7L773.3 588.3L774.3 589.2L775.3 589.5L776.3 589.2L777.3 589.3L778.3 588.1L779.3 589.2L780.3 588.1L781.3 588.9L782.3 588.6L783.3 589.5" fill="none" stroke="#be3c48" stroke-width="1.5" stroke-linejoin="round"/>
<rect x="492.4" y="55.00" width="3.2" height="0.05" fill="#181818"/>
<rect x="492.4" y="60.30" width="3.2" height="6.80" fill="#181818"/>
<rect x="492.4" y="72.35" width="3.2" height="6.80" fill="#181818"/>
<rect x="492.4" y="84.40" width="3.2" height="6.80" fill="#181818"/>
<rect x="492.4" y="96.45" width="3.2" height="6.80" fill="#181818"/>
<rect x="492.4" y="108.50" width="3.2" height="6.80" fill="#181818"/>
<rect x="492.4" y="120.55" width="3.2" height="6.80" fill="#181818"/>
<rect x="492.4" y="132.60" width="3.2" height="6.80" fill="#181818"/>
<rect x="492.4" y="144.65" width="3.2" height="6.80" fill="#181818"/>
<rect x="492.4" y="156.70" width="3.2" height="6.80" fill="#181818"/>
<rect x="492.4" y="168.75" width="3.2" height="6.80" fill="#181818"/>
<rect x="492.4" y="180.80" width="3.2" height="6.80" fill="#181818"/>
<rect x="492.4" y="192.85" width="3.2" height="6.80" fill="#181818"/>
<rect x="492.4" y="204.90" width="3.2" height="6.80" fill="#181818"/>
<rect x="492.4" y="216.95" width="3.2" height="6.80" fill="#181818"/>
<rect x="492.4" y="229.00" width="3.2" height="6.80" fill="#181818"/>
<rect x="492.4" y="241.05" width="3.2" height="6.80" fill="#181818"/>
<rect x="492.4" y="253.10" width="3.2" height="6.80" fill="#181818"/>
<rect x="492.4" y="265.15" width="3.2" height="6.80" fill="#181818"/>
<rect x="492.4" y="277.20" width="3.2" height="6.80" fill="#181818"/>
<rect x="492.4" y="289.25" width="3.2" height="6.80" fill="#181818"/>
<rect x="492.4" y="301.30" width="3.2" height="6.80" fill="#181818"/>
<rect x="492.4" y="313.35" width="3.2" height="6.80" fill="#181818"/>
<rect x="492.4" y="325.40" width="3.2" height="6.80" fill="#181818"/>
<rect x="492.4" y="337.45" width="3.2" height="6.80" fill="#181818"/>
<rect x="492.4" y="349.50" width="3.2" height="6.80" fill="#181818"/>
<rect x="492.4" y="361.55" width="3.2" height="6.80" fill="#181818"/>
<rect x="492.4" y="373.60" width="3.2" height="6.80" fill="#181818"/>
<rect x="492.4" y="385.65" width="3.2" height="6.80" fill="#181818"/>
<rect x="492.4" y="397.70" width="3.2" height="6.80" fill="#181818"/>
<rect x="492.4" y="409.75" width="3.2" height="6.80" fill="#181818"/>
<rect x="492.4" y="421.80" width="3.2" height="6.80" fill="#181818"/>
<rect x="492.4" y="433.85" width="3.2" height="6.80" fill="#181818"/>
<rect x="492.4" y="445.90" width="3.2" height="6.80" fill="#181818"/>
<rect x="492.4" y="457.95" width="3.2" height="6.80" fill="#181818"/>
<rect x="492.4" y="470.00" width="3.2" height="6.80" fill="#181818"/>
<rect x="492.4" y="482.05" width="3.2" height="6.80" fill="#181818"/>
<rect x="492.4" y="494.10" width="3.2" height="6.80" fill="#181818"/>
<rect x="492.4" y="506.15" width="3.2" height="6.80" fill="#181818"/>
<rect x="492.4" y="518.20" width="3.2" height="6.80" fill="#181818"/>
<rect x="492.4" y="530.25" width="3.2" height="6.80" fill="#181818"/>
<rect x="492.4" y="542.30" width="3.2" height="6.80" fill="#181818"/>
<rect x="492.4" y="554.35" width="3.2" height="6.80" fill="#181818"/>
<rect x="626.4" y="55.20" width="3.2" height="6.80" fill="#181818"/>
<rect x="626.4" y="67.25" width="3.2" height="6.80" fill="#181818"/>
<rect x="626.4" y="79.30" width="3.2" height="6.80" fill="#181818"/>
<rect x="626.4" y="91.35" width="3.2" height="6.80" fill="#181818"/>
<rect x="626.4" y="103.40" width="3.2" height="6.80" fill="#181818"/>
<rect x="626.4" y="115.45" width="3.2" height="6.80" fill="#181818"/>
<rect x="626.4" y="127.50" width="3.2" height="6.80" fill="#181818"/>
<rect x="626.4" y="139.55" width="3.2" height="6.80" fill="#181818"/>
<rect x="626.4" y="151.60" width="3.2" height="6.80" fill="#181818"/>
<rect x="626.4" y="163.65" width="3.2" height="6.80" fill="#181818"/>
<rect x="626.4" y="175.70" width="3.2" height="6.80" fill="#181818"/>
<rect x="626.4" y="187.75" width="3.2" height="6.80" fill="#181818"/>
<rect x="626.4" y="199.80" width="3.2" height="6.80" fill="#181818"/>
<rect x="626.4" y="211.85" width="3.2" height="6.80" fill="#181818"/>
<rect x="626.4" y="223.90" width="3.2" height="6.80" fill="#181818"/>
<rect x="626.4" y="235.95" width="3.2" height="6.80" fill="#181818"/>
<rect x="626.4" y="248.00" width="3.2" height="6.80" fill="#181818"/>
<rect x="626.4" y="260.05" width="3.2" height="6.80" fill="#181818"/>
<rect x="626.4" y="272.10" width="3.2" height="6.80" fill="#181818"/>
<rect x="626.4" y="284.15" width="3.2" height="6.80" fill="#181818"/>
<rect x="626.4" y="296.20" width="3.2" height="6.80" fill="#181818"/>
<rect x="626.4" y="308.25" width="3.2" height="6.80" fill="#181818"/>
<rect x="626.4" y="320.30" width="3.2" height="6.80" fill="#181818"/>
<rect x="626.4" y="332.35" width="3.2" height="6.80" fill="#181818"/>
<rect x="626.4" y="344.40" width="3.2" height="6.80" fill="#181818"/>
<rect x="626.4" y="356.45" width="3.2" height="6.80" fill="#181818"/>
<rect x="626.4" y="368.50" width="3.2" height="6.80" fill="#181818"/>
<rect x="626.4" y="380.55" width="3.2" height="6.80" fill="#181818"/>
<rect x="626.4" y="392.60" width="3.2" height="6.80" fill="#181818"/>
<rect x="626.4" y="404.65" width="3.2" height="6.80" fill="#181818"/>
<rect x="626.4" y="416.70" width="3.2" height="6.80" fill="#181818"/>
<rect x="626.4" y="428.75" width="3.2" height="6.80" fill="#181818"/>
<rect x="626.4" y="440.80" width="3.2" height="6.80" fill="#181818"/>
<rect x="626.4" y="452.85" width="3.2" height="6.80" fill="#181818"/>
<rect x="626.4" y="464.90" width="3.2" height="6.80" fill="#181818"/>
<rect x="626.4" y="476.95" width="3.2" height="6.80" fill="#181818"/>
<rect x="626.4" y="489.00" width="3.2" height="6.80" fill="#181818"/>
<rect x="626.4" y="501.05" width="3.2" height="6.80" fill="#181818"/>
<rect x="626.4" y="513.10" width="3.2" height="6.80" fill="#181818"/>
<rect x="626.4" y="525.15" width="3.2" height="6.80" fill="#181818"/>
<rect x="626.4" y="537.20" width="3.2" height="6.80" fill="#181818"/>
<rect x="626.4" y="549.25" width="3.2" height="6.80" fill="#181818"/>
<rect x="626.4" y="561.30" width="3.2" height="6.70" fill="#181818"/>
<rect x="690.2" y="55.00" width="3.2" height="1.55" fill="#181818"/>
<rect x="690.2" y="61.80" width="3.2" height="6.80" fill="#181818"/>
<rect x="690.2" y="73.85" width="3.2" height="6.80" fill="#181818"/>
<rect x="690.2" y="85.90" width="3.2" height="6.80" fill="#181818"/>
<rect x="690.2" y="97.95" width="3.2" height="6.80" fill="#181818"/>
<rect x="690.2" y="110.00" width="3.2" height="6.80" fill="#181818"/>
<rect x="690.2" y="122.05" width="3.2" height="6.80" fill="#181818"/>
<rect x="690.2" y="134.10" width="3.2" height="6.80" fill="#181818"/>
<rect x="690.2" y="146.15" width="3.2" height="6.80" fill="#181818"/>
<rect x="690.2" y="158.20" width="3.2" height="6.80" fill="#181818"/>
<rect x="690.2" y="170.25" width="3.2" height="6.80" fill="#181818"/>
<rect x="690.2" y="182.30" width="3.2" height="6.80" fill="#181818"/>
<rect x="690.2" y="194.35" width="3.2" height="6.80" fill="#181818"/>
<rect x="690.2" y="206.40" width="3.2" height="6.80" fill="#181818"/>
<rect x="690.2" y="218.45" width="3.2" height="6.80" fill="#181818"/>
<rect x="690.2" y="230.50" width="3.2" height="6.80" fill="#181818"/>
<rect x="690.2" y="242.55" width="3.2" height="6.80" fill="#181818"/>
<rect x="690.2" y="254.60" width="3.2" height="6.80" fill="#181818"/>
<rect x="690.2" y="266.65" width="3.2" height="6.80" fill="#181818"/>
<rect x="690.2" y="278.70" width="3.2" height="6.80" fill="#181818"/>
<rect x="690.2" y="290.75" width="3.2" height="6.80" fill="#181818"/>
<rect x="690.2" y="302.80" width="3.2" height="6.80" fill="#181818"/>
<rect x="690.2" y="314.85" width="3.2" height="6.80" fill="#181818"/>
<rect x="690.2" y="326.90" width="3.2" height="6.80" fill="#181818"/>
<rect x="690.2" y="338.95" width="3.2" height="6.80" fill="#181818"/>
<rect x="690.2" y="351.00" width="3.2" height="6.80" fill="#181818"/>
<rect x="690.2" y="363.05" width="3.2" height="6.80" fill="#181818"/>
<rect x="690.2" y="375.10" width="3.2" height="6.80" fill="#181818"/>
<rect x="690.2" y="387.15" width="3.2" height="6.80" fill="#181818"/>
<rect x="690.2" y="399.20" width="3.2" height="6.80" fill="#181818"/>
<rect x="690.2" y="411.25" width="3.2" height="6.80" fill="#181818"/>
<rect x="690.2" y="423.30" width="3.2" height="6.80" fill="#181818"/>
<rect x="690.2" y="435.35" width="3.2" height="6.80" fill="#181818"/>
<rect x="690.2" y="447.40" width="3.2" height="6.80" fill="#181818"/>
<rect x="690.2" y="459.45" width="3.2" height="6.80" fill="#181818"/>
<rect x="690.2" y="471.50" width="3.2" height="6.80" fill="#181818"/>
<rect x="690.2" y="483.55" width="3.2" height="6.80" fill="#181818"/>
<rect x="690.2" y="495.60" width="3.2" height="6.80" fill="#181818"/>
<rect x="690.2" y="507.65" width="3.2" height="6.80" fill="#181818"/>
<rect x="690.2" y="519.70" width="3.2" height="6.80" fill="#181818"/>
<rect x="690.2" y="531.75" width="3.2" height="6.80" fill="#181818"/>
<rect x="690.2" y="543.80" width="3.2" height="6.80" fill="#181818"/>
<rect x="690.2" y="555.85" width="3.2" height="6.80" fill="#181818"/>
<rect x="492.25" y="55.3" width="3.5" height="3" fill="#999"/>
<rect x="12" y="612.9" width="776" height="2.3" fill="#262626"/>
<rect x="24.9" y="615" width="2.0" height="2.6" fill="#333"/>
<rect x="43.0" y="615" width="3.0" height="6.2" fill="#7c7c7c"/>
<rect x="62.1" y="615" width="2.0" height="2.6" fill="#333"/>
<rect x="80.3" y="615" width="3.0" height="6.2" fill="#7c7c7c"/>
<rect x="99.4" y="615" width="2.0" height="2.6" fill="#333"/>
<rect x="117.5" y="615" width="3.0" height="6.2" fill="#7c7c7c"/>
<rect x="136.6" y="615" width="2.0" height="2.6" fill="#333"/>
<rect x="154.7" y="615" width="3.0" height="6.2" fill="#7c7c7c"/>
<rect x="173.9" y="615" width="2.0" height="2.6" fill="#333"/>
<rect x="192.0" y="615" width="3.0" height="6.2" fill="#7c7c7c"/>
<rect x="211.1" y="615" width="2.0" height="2.6" fill="#333"/>
<rect x="229.3" y="615" width="3.0" height="6.2" fill="#7c7c7c"/>
<rect x="248.4" y="615" width="2.0" height="2.6" fill="#333"/>
<rect x="266.5" y="615" width="3.0" height="6.2" fill="#7c7c7c"/>
<rect x="285.6" y="615" width="2.0" height="2.6" fill="#333"/>
<rect x="303.8" y="615" width="3.0" height="6.2" fill="#7c7c7c"/>
<rect x="322.9" y="615" width="2.0" height="2.6" fill="#333"/>
<rect x="341.0" y="615" width="3.0" height="6.2" fill="#7c7c7c"/>
<rect x="360.1" y="615" width="2.0" height="2.6" fill="#333"/>
<rect x="378.2" y="615" width="3.0" height="6.2" fill="#7c7c7c"/>
<rect x="397.4" y="615" width="2.0" height="2.6" fill="#333"/>
<rect x="415.5" y="615" width="3.0" height="6.2" fill="#7c7c7c"/>
<rect x="434.6" y="615" width="2.0" height="2.6" fill="#333"/>
<rect x="452.8" y="615" width="3.0" height="6.2" fill="#7c7c7c"/>
<rect x="471.9" y="615" width="2.0" height="2.6" fill="#333"/>
<rect x="490.0" y="615" width="3.0" height="6.2" fill="#7c7c7c"/>
<rect x="509.1" y="615" width="2.0" height="2.6" fill="#333"/>
<rect x="527.2" y="615" width="3.0" height="6.2" fill="#7c7c7c"/>
<rect x="546.4" y="615" width="2.0" height="2.6" fill="#333"/>
<rect x="564.5" y="615" width="3.0" height="6.2" fill="#7c7c7c"/>
<rect x="583.6" y="615" width="2.0" height="2.6" fill="#333"/>
<rect x="601.8" y="615" width="3.0" height="6.2" fill="#7c7c7c"/>
<rect x="620.9" y="615" width="2.0" height="2.6" fill="#333"/>
<rect x="639.0" y="615" width="3.0" height="6.2" fill="#7c7c7c"/>
<rect x="658.1" y="615" width="2.0" height="2.6" fill="#333"/>
<rect x="676.2" y="615" width="3.0" height="6.2" fill="#7c7c7c"/>
<rect x="695.4" y="615" width="2.0" height="2.6" fill="#333"/>
<rect x="713.5" y="615" width="3.0" height="6.2" fill="#7c7c7c"/>
<rect x="732.6" y="615" width="2.0" height="2.6" fill="#333"/>
<rect x="750.7" y="615" width="3.0" height="6.2" fill="#7c7c7c"/>
<rect x="769.9" y="615" width="2.0" height="2.6" fill="#333"/>
<rect x="18.5" y="686" width="2" height="3" fill="#222"/>
<rect x="13.2" y="616" width="1.2" height="74" fill="#f3f3f3"/>
</svg>
<div class="s" style="left:17.6px;top:46.5px;font-size:24px;transform:scaleY(1.07);transform-origin:0 20.10px">R=10.0</div>
<div class="s" style="left:17.6px;top:84.5px;font-size:24px;transform:scaleY(1.04);transform-origin:0 20.10px">R=7.56</div>
<div class="s" style="left:17.6px;top:123.6px;font-size:24px;transform:scaleY(1.04);transform-origin:0 20.10px">R=5.71</div>
<div class="s" style="left:17.6px;top:162.1px;font-size:24px;transform:scaleY(1.04);transform-origin:0 20.10px">R=4.32</div>
<div class="s" style="left:17.6px;top:200.2px;font-size:24px;transform:scaleY(1.04);transform-origin:0 20.10px">R=3.26</div>
<div class="s" style="left:17.6px;top:238.1px;font-size:24px;transform:scaleY(1.04);transform-origin:0 20.10px">R=2.47</div>
<div class="s" style="left:17.6px;top:278.7px;font-size:24px;transform:scaleY(1.04);transform-origin:0 20.10px">R=1.86</div>
<div class="s" style="left:17.6px;top:316.1px;font-size:24px;transform:scaleY(1.04);transform-origin:0 20.10px">R=1.32</div>
<div class="s" style="left:17.6px;top:356.0px;font-size:24px;transform:scaleY(1.04);transform-origin:0 20.10px">R=1.06</div>
<div class="s" style="left:17.6px;top:395.7px;font-size:24px;transform:scaleY(1.04);transform-origin:0 20.10px">R=0.80</div>
<div class="s" style="left:17.6px;top:436.6px;font-size:24px;transform:scaleY(1.04);transform-origin:0 20.10px">R=0.60</div>
<div class="s" style="left:17.6px;top:476.8px;font-size:24px;transform:scaleY(1.04);transform-origin:0 20.10px">R=0.46</div>
<div class="s" style="left:17.6px;top:515.9px;font-size:24px;transform:scaleY(1.04);transform-origin:0 20.10px">R=0.20</div>
<div class="s" style="left:17.6px;top:558.4px;font-size:24px;transform:scaleY(1.04);transform-origin:0 20.10px">R=0.0</div>
<div class="s" style="left:130.8px;top:553.5px;font-size:26px">NH</div>
<div class="s" style="left:230.8px;top:553.5px;font-size:26px">NH</div>
<div class="s" style="left:462.0px;top:27.1px;font-size:26px">Ar-H1</div>
<div class="s" style="left:592.0px;top:26.1px;font-size:26px">Ar-H2</div>
<div class="s" style="left:685.8px;top:24.1px;font-size:26px">Ar-H3</div>
<div class="a" style="left:14.0px;width:80px;text-align:center;top:627.9px;font-size:23.5px">10.2</div>
<div class="a" style="left:88.5px;width:80px;text-align:center;top:627.9px;font-size:23.5px">10.0</div>
<div class="a" style="left:160.5px;width:80px;text-align:center;top:627.9px;font-size:23.5px">9.8</div>
<div class="a" style="left:235.0px;width:80px;text-align:center;top:627.9px;font-size:23.5px">9.6</div>
<div class="a" style="left:309.5px;width:80px;text-align:center;top:627.9px;font-size:23.5px">9.4</div>
<div class="a" style="left:384.0px;width:80px;text-align:center;top:627.9px;font-size:23.5px">9.2</div>
<div class="a" style="left:458.5px;width:80px;text-align:center;top:627.9px;font-size:23.5px">9.0</div>
<div class="a" style="left:533.0px;width:80px;text-align:center;top:627.9px;font-size:23.5px">8.8</div>
<div class="a" style="left:607.5px;width:80px;text-align:center;top:627.9px;font-size:23.5px">8.6</div>
<div class="a" style="left:682.0px;width:80px;text-align:center;top:627.9px;font-size:23.5px">8.4</div>
<div class="a" style="left:342.3px;width:120px;text-align:center;top:655.2px;font-size:27px;-webkit-text-stroke:0.3px #262626">(ppm)</div>
</div></body></html>
